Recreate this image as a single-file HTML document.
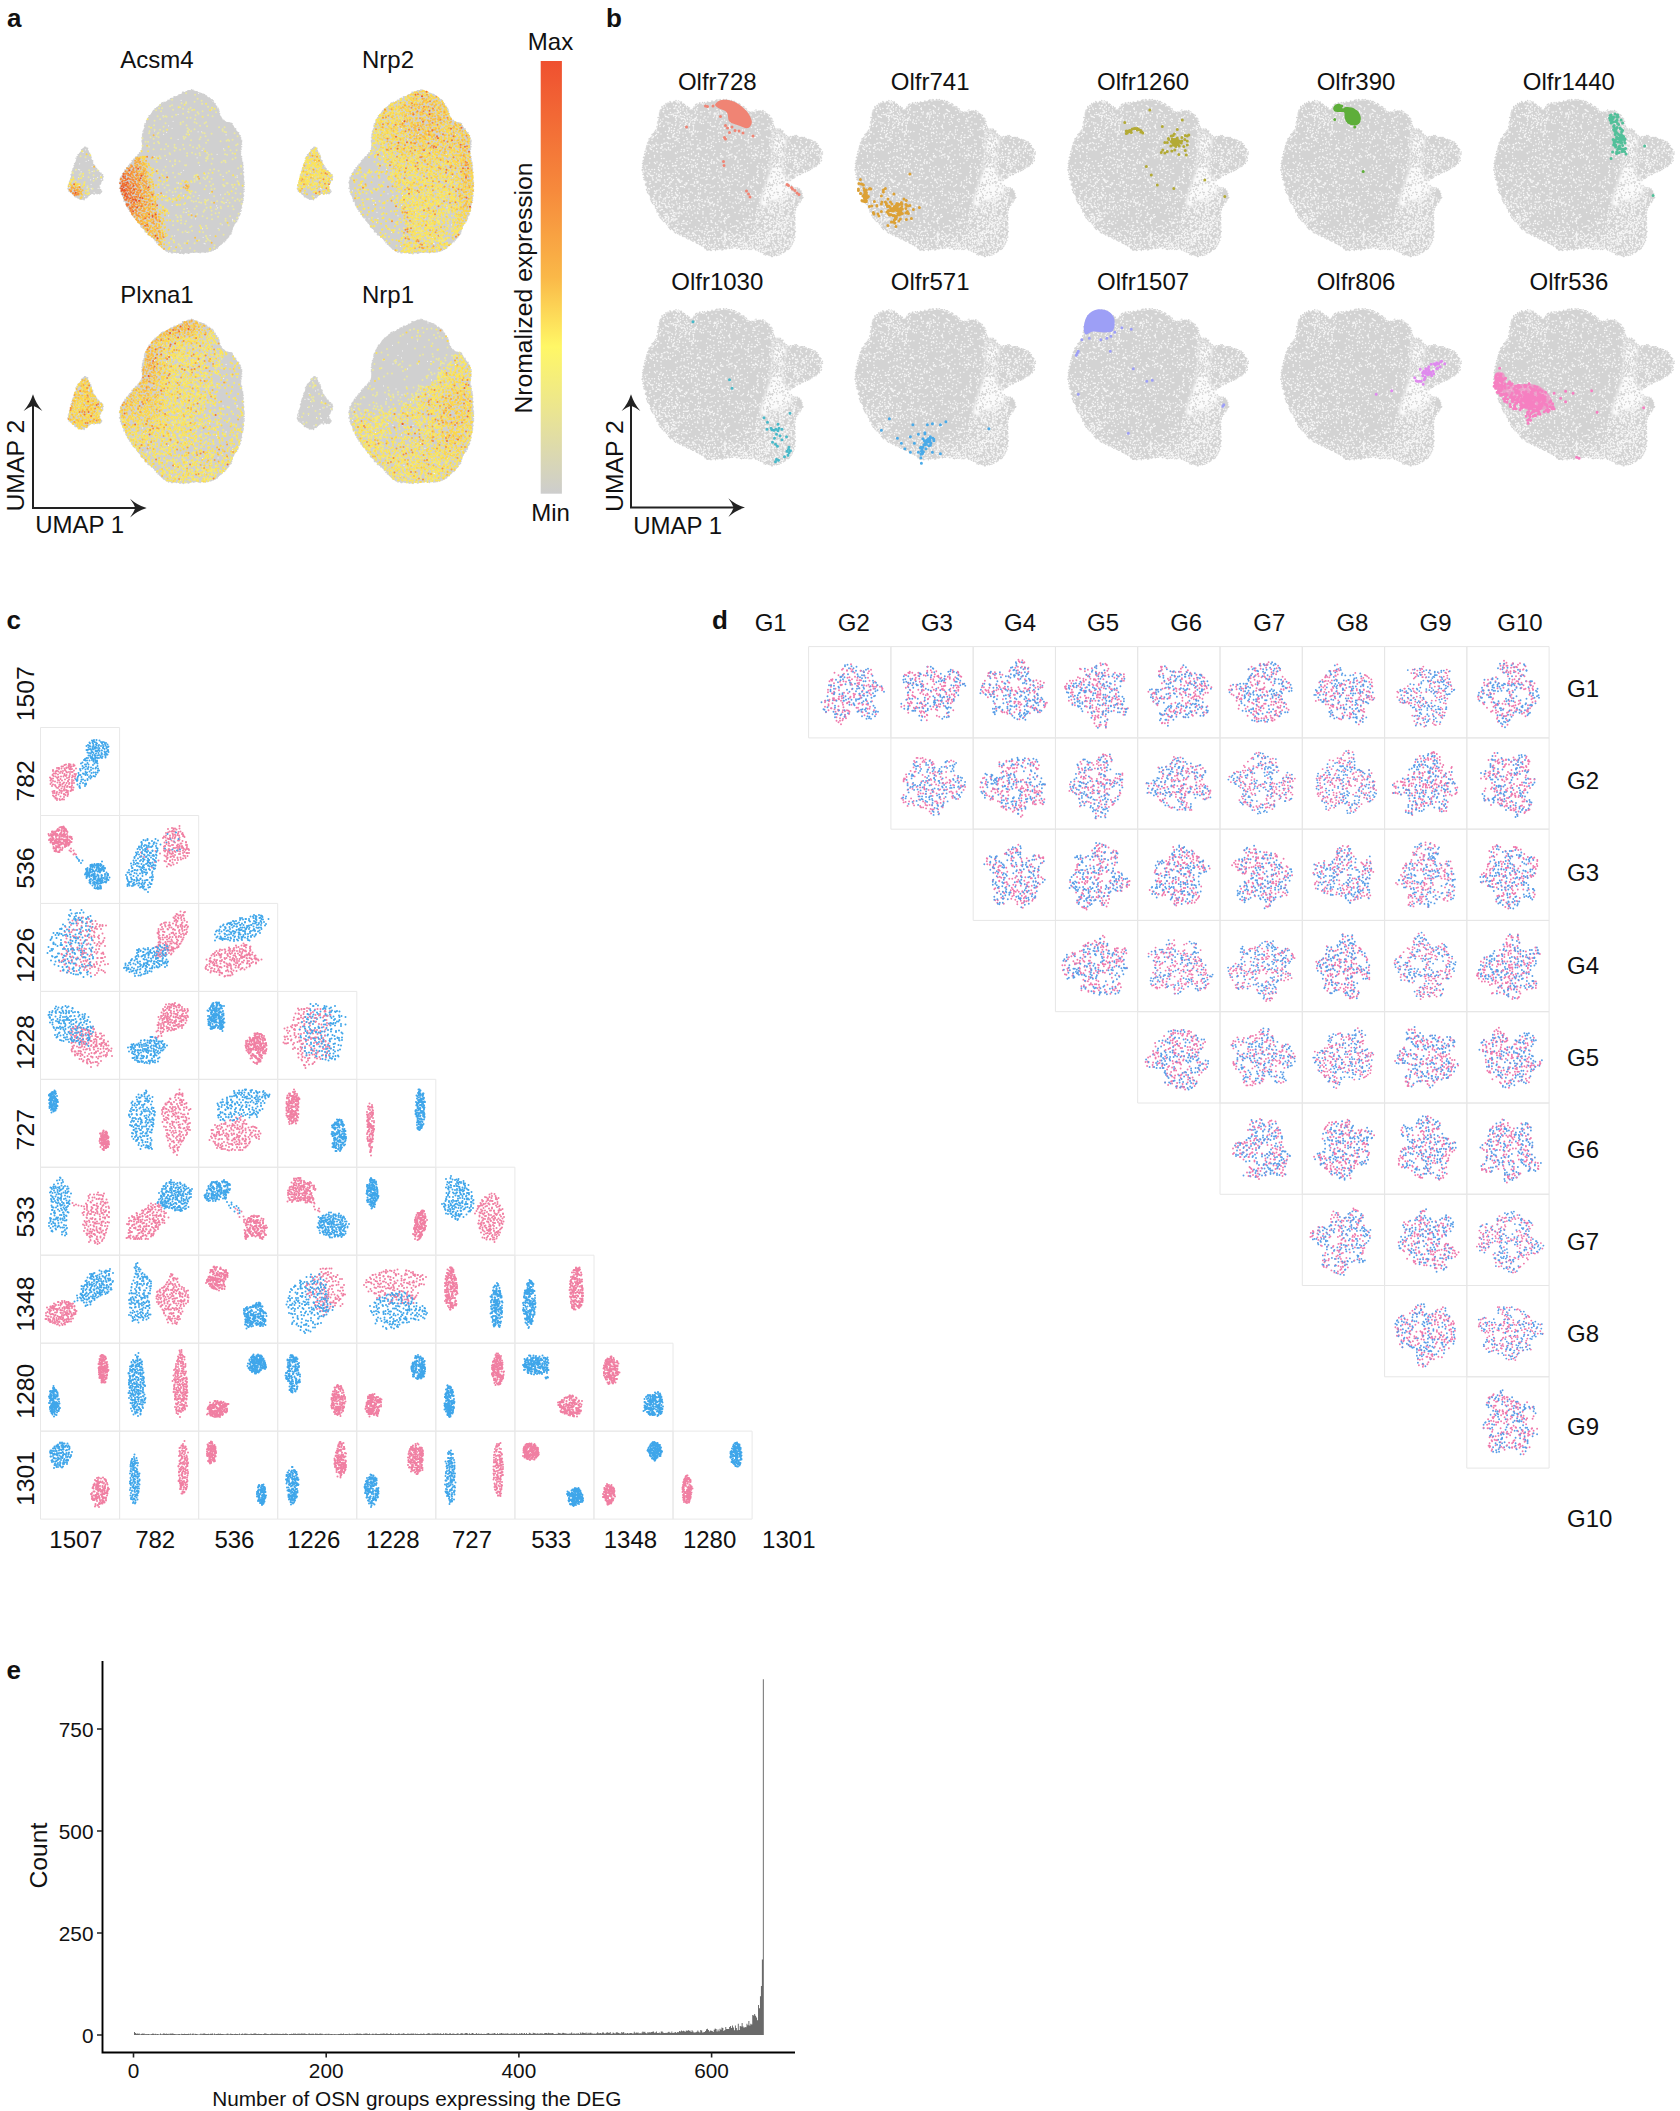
<!DOCTYPE html>
<html lang="en"><head><meta charset="utf-8"><title>Figure</title>
<style>
html,body{margin:0;padding:0;background:#fff}
svg{display:block}
text{font-family:"Liberation Sans",Arial,Helvetica,sans-serif;fill:#111}
</style></head><body>
<svg width="1680" height="2111" viewBox="0 0 1680 2111">
<rect width="1680" height="2111" fill="#fff"/>
<text x="7" y="27" font-size="26" font-weight="bold">a</text>
<text x="606" y="27" font-size="26" font-weight="bold">b</text>
<text x="6.5" y="628.7" font-size="26" font-weight="bold">c</text>
<text x="712" y="629" font-size="26" font-weight="bold">d</text>
<text x="6.5" y="1679" font-size="26" font-weight="bold">e</text>
<text x="120.3" y="68" font-size="24">Acsm4</text>
<text x="362" y="68" font-size="24">Nrp2</text>
<text x="120.3" y="302.5" font-size="24">Plxna1</text>
<text x="362" y="302.5" font-size="24">Nrp1</text>
<text x="550.5" y="50.4" font-size="24" text-anchor="middle">Max</text>
<text x="550.5" y="521" font-size="24" text-anchor="middle">Min</text>
<text x="531.6" y="288" font-size="24.7" text-anchor="middle" transform="rotate(-90 531.6 288)">Nromalized expression</text>
<defs><linearGradient id="cb" x1="0" y1="0" x2="0" y2="1"><stop offset="0" stop-color="#ef5030"/><stop offset=".3" stop-color="#f68a3c"/><stop offset=".5" stop-color="#fab848"/><stop offset=".66" stop-color="#fff766"/><stop offset=".8" stop-color="#ece68e"/><stop offset="1" stop-color="#cdcdcd"/></linearGradient></defs>
<rect x="540.7" y="61" width="21.2" height="432.7" fill="url(#cb)"/>
<path d="M33 403.3V508.1H137.7" fill="none" stroke="#222" stroke-width="2"/><path d="M33 394.3Q36.2 404.3 42.4 410.9Q37.2 407 33 405.7Q28.8 407 23.6 410.9Q29.8 404.3 33 394.3Z" fill="#222"/><path d="M146.7 508.1Q136.7 511.3 130.1 517.5Q134 512.3 135.3 508.1Q134 503.9 130.1 498.7Q136.7 504.9 146.7 508.1Z" fill="#222"/>
<text x="24.5" y="511.6" font-size="24.8" transform="rotate(-90 24.5 511.6)">UMAP 2</text>
<text x="35.2" y="533" font-size="24">UMAP 1</text>
<path d="M631 403.3V507.6H736" fill="none" stroke="#222" stroke-width="2"/><path d="M631 394.3Q634.2 404.3 640.4 410.9Q635.2 407 631 405.7Q626.8 407 621.6 410.9Q627.8 404.3 631 394.3Z" fill="#222"/><path d="M745 507.6Q735 510.8 728.4 517Q732.3 511.8 733.6 507.6Q732.3 503.4 728.4 498.2Q735 504.4 745 507.6Z" fill="#222"/>
<text x="622.5" y="512" font-size="24.8" transform="rotate(-90 622.5 512)">UMAP 2</text>
<text x="633.2" y="533.5" font-size="24">UMAP 1</text>
<defs><g id="ua">
<path d="M65.4 1.1C67.2 .4 69 -.8 71.4 -.6C73.8 -.5 77.1 .9 79.9 2C82.7 3.2 85.8 4.5 88.4 6.4C91 8.2 93.6 11.1 95.3 13.3C97 15.4 97.7 17.1 98.7 19.2C99.7 21.4 100.2 24.3 101.2 26.2C102.2 28.1 102.9 29.5 104.6 30.5C106.3 31.5 109.7 30.9 111.5 32.2C113.3 33.5 114.3 36.2 115.7 38.3C117.1 40.3 119 41.9 120 44.3C121 46.8 121.6 49.9 121.7 52.9C121.8 55.9 120.7 59.4 120.8 62.4C120.9 65.5 122.1 68.2 122.5 71C122.9 73.9 123.1 76.1 123.4 79.6C123.7 83.2 124.2 88.3 124.2 92.6C124.2 96.9 123.8 101.5 123.4 105.6C123 109.6 122.6 113.2 121.7 116.8C120.8 120.4 119.6 124 118.3 127.1C117 130.3 115.4 132.8 114 135.7C112.6 138.6 111.5 141.8 109.8 144.4C108.1 147 105.9 149.2 103.8 151.3C101.7 153.4 99.6 155.7 97 157.3C94.4 158.9 91.2 160.1 88.4 160.8C85.6 161.5 82.7 161.5 79.9 161.6C77.1 161.8 74.2 161.5 71.4 161.6C68.6 161.8 65.8 162.5 62.9 162.5C60 162.5 56.7 161.9 54.3 161.6C51.9 161.3 50.5 161.7 48.4 160.8C46.3 159.9 43.6 158.2 41.6 156.5C39.6 154.7 38.5 152.5 36.4 150.4C34.3 148.2 31.2 145.9 28.8 143.5C26.4 141.1 24.2 138.4 21.9 135.7C19.6 133 17.2 130 15.1 127.1C13 124.2 10.9 121.4 9.2 118.5C7.5 115.6 6.2 112.8 4.9 109.9C3.6 107 2.3 103.8 1.5 101.2C.7 98.6 .2 96.8 .2 94.3C.2 91.9 .6 89 1.5 86.5C2.4 84.1 4 82.1 5.7 79.6C7.4 77.2 9.7 74.3 11.7 71.9C13.7 69.4 16 67 17.7 65C19.4 63 21 62.1 21.9 59.8C22.8 57.5 22.5 54.1 22.8 51.2C23.1 48.3 23.2 45.2 23.6 42.6C24 40 24.7 38.1 25.4 35.6C26.1 33.2 26.8 30.2 27.9 27.9C29 25.6 30.5 23.9 32.2 21.9C33.9 19.8 36 17.5 38.1 15.8C40.2 14.1 42.4 13 45 11.5C47.6 10.1 51 8.5 53.5 7.2C56 5.9 58.3 4.8 60.3 3.7C62.3 2.7 63.6 1.8 65.4 1.1Z" fill="#d0d0d0"/>
<path d="M-34 56.3C-32 56.3 -30.9 61.2 -29.5 64.2C-28.1 67.2 -27.2 71.5 -25.5 74.6C-23.8 77.6 -20.5 80.5 -19 82.5C-17.5 84.5 -16.2 84.2 -16.4 86.4C-16.6 88.6 -19.9 93 -20.3 95.6C-20.7 98.2 -17.5 100.8 -19 102.1C-20.5 103.4 -26.7 102.4 -29.5 103.5C-32.3 104.6 -33.6 108.3 -36 108.7C-38.4 109.1 -41.4 107.8 -43.9 106.1C-46.4 104.3 -50.2 101.3 -51.1 98.2C-52 95.1 -50.1 91.6 -49.1 87.7C-48.1 83.8 -46.5 78.5 -45.2 74.6C-43.9 70.7 -43.2 67.2 -41.3 64.2C-39.4 61.2 -36 56.3 -34 56.3Z" fill="#d0d0d0"/>
<path transform="scale(.5)" d="M132 3h0m2-1h0m2-1h0m1-1h0m2 0h0m2 0h0m3-2h0m1 2h0m2-1h0m3 2h0m0 1h0m3 0h0m-2 0h0m4 0h0m-1 0h0m4 2h0m0 1h0m2 0h0m2 0h0m2 1h0m0 1h0m4 0h0m-2 0h0m4 1h0m0 2h0m3 2h0m0-2h0m1 2h0m0-1h0m5 3h0m-1 1h0m3 1h0m-1 0h0m5 2h0m-2 0h0m2 1h0m2 1h0m1 5h0m0-2h0m0 2h0m0 1h0m3 0h0m0 3h0m3 2h0m0 2h0m3 2h0m1 3h0m-1 1h0m2 2h0m0 5h0m-1-2h0m2 2h0m0 4h0m1 1h0m2 2h0m1 3h0m1 1h0m0 2h0m3 0h0m1 1h0m1 2h0m1 0h0m2 2h0m3 0h0m3 1h0m1 0h0m3 0h0m2 1h0m1 4h0m1 1h0m1 3h0m4 2h0m0 2h0m0 2h0m2 2h0m2 3h0m2-1h0m0 4h0m1 3h0m2-1h0m1 4h0m-2-2h0m2 2h0m0 1h0m-1 3h0m3 1h0m0 3h0m-1 0h0m0 2h0m-1 0h0m0 2h0m2 1h0m-2 5h0m2 0h0m-2 3h0m0-2h0m-1 3h0m2 1h0m-2 4h0m1 0h0m0 1h0m0 3h0m-1 2h0m1-2h0m0 4h0m0 2h0m2 1h0m-2 1h0m0 1h0m2 2h0m0 1h0m0 2h0m0 1h0m-1 0h0m2 5h0m1-2h0m0 3h0m-2 1h0m1 1h0m1 0h0m-1 3h0m2-1h0m-1 4h0m1 1h0m0 2h0m-1 1h0m-1 3h0m1 0h0m2 2h0m-1 1h0m0 7h0m0-2h0m1 5h0m0-2h0m-1 5h0m1 3h0m1 3h0m-1 2h0m0 3h0m1-1h0m-1 5h0m1 0h0m0 5h0m-2 1h0m2 3h0m-3 1h0m1 1h0m-1 0h0m1 4h0m1 3h0m-1 2h0m-2 2h0m2 5h0m0-3h0m-2 4h0m1 3h0m-1 0h0m-1 1h0m0 3h0m-1 2h0m0 3h0m0-2h0m-1 6h0m2-2h0m-1 6h0m-2-3h0m1 4h0m-2 0h0m1 5h0m-3 1h0m2 1h0m-1 2h0m-3 1h0m0 2h0m1 2h0m-1 1h0m0 2h0m0 0h0m-4 3h0m2 1h0m-3 1h0m0 1h0m-1 1h0m0 0h0m-2 4h0m-1 1h0m-1 2h0m0 0h0m-1 2h0m0 2h0m0 2h0m-2 2h0m-1 3h0m2-1h0m-2 2h0m1 2h0m-2 1h0m-1 1h0m-2 1h0m0-1h0m0 4h0m-2-1h0m0 3h0m-2 2h0m-1 0h0m0 0h0m-2 2h0m1 1h0m-5 3h0m3 0h0m-4 1h0m1-1h0m-3 3h0m1 0h0m-2 1h0m0 1h0m-3 1h0m0 1h0m-3 3h0m0 0h0m-2 3h0m0-2h0m-4 2h0m1 1h0m-1 1h0m-2 0h0m-2 2h0m1-2h0m-4 3h0m-1 0h0m-2 1h0m0 0h0m-2-2h0m0 1h0m-2 2h0m-2 0h0m-3 1h0m0-2h0m-3 2h0m1-1h0m-4-1h0m0 1h0m-1 0h0m-2 0h0m-2 2h0m0-2h0m-3 1h0m0 0h0m-3-1h0m2 0h0m-5 0h0m1-1h0m-2 1h0m-2 1h0m-2-1h0m0 1h0m-3-1h0m-1 0h0m-3 2h0m3-1h0m-5 2h0m1-2h0m-2 2h0m0-1h0m-3 0h0m-3-1h0m-2 2h0m0 0h0m-1 1h0m-1-3h0m-1 2h0m-1-1h0m-2 0h0m-1 1h0m-2 0h0m-2-2h0m-4 1h0m0-1h0m-1 0h0m-2 0h0m-1 0h0m-2-1h0m-2 2h0m-2 0h0m-2-2h0m-2-1h0m-2 2h0m-3-2h0m-2-1h0m0-1h0m-2-2h0m0 1h0m-3-1h0m2-1h0m-4-2h0m1 1h0m-2-1h0m-1-2h0m-1-1h0m-2-1h0m-1-2h0m-3-1h0m1-2h0m-4-1h0m3-1h0m-1-2h0m-1 0h0m-2-2h0m-2 1h0m-2-4h0m1 1h0m-2-2h0m1 0h0m-5-4h0m0 2h0m-3-4h0m2 1h0m-4-2h0m-2 0h0m0-4h0m0 3h0m-4-5h0m2 0h0m-4 0h0m0-2h0m-2-4h0m2 2h0m-4-3h0m-1-1h0m-2-1h0m1 0h0m-2-1h0m0-1h0m-2-5h0m1 2h0m-4-4h0m2 0h0m-4-3h0m1 0h0m-2-4h0m-1 2h0m-4-5h0m1 0h0m0-1h0m-3-1h0m1-3h0m-2 1h0m-1-3h0m-2 0h0m1-3h0m-1 0h0m-2-4h0m-2 1h0m0-3h0m-1-1h0m-1-3h0m0 3h0m-2-3h0m1-2h0m-2-2h0m-1 0h0m0-2h0m-1 0h0m1-4h0m-1 1h0m-4-5h0m0 1h0m0-4h0m0 3h0m0-6h0m-1 1h0m0-3h0m1 1h0m-3-3h0m0-2h0m-1-3h0m-1 2h0m0-4h0m0 2h0m-2-3h0m1-3h0m0-4h0m-3 0h0m2-4h0m0 0h0m0-5h0m-2-2h0m2 1h0m-1-4h0m0 2h0m1-3h0m-1 1h0m1-5h0m2 0h0m-1-1h0m-1-2h0m2 0h0m1-3h0m3-3h0m-2-1h0m2-2h0m0 1h0m1-1h0m2-1h0m-1-2h0m1 1h0m1-3h0m-1-1h0m3-4h0m1 3h0m1-3h0m1-1h0m1-2h0m0-1h0m2-3h0m2 1h0m2-3h0m-1 0h0m3-2h0m-1 1h0m0-4h0m2 0h0m1-3h0m1 1h0m2-3h0m2 0h0m-1-2h0m1-1h0m1 1h0m1 0h0m2-5h0m2-1h0m1-1h0m0-2h0m4-1h0m-1-3h0m2-1h0m1-2h0m-1-1h0m1-3h0m0 1h0m0-5h0m0 2h0m0-5h0m1 2h0m-1-4h0m1 0h0m-2-2h0m2-1h0m-2-2h0m1 0h0m1-3h0m-2-2h0m3-1h0m0-1h0m-2-1h0m0-2h0m0-2h0m2 0h0m-1-2h0m0-4h0m1-1h0m1-3h0m1-1h0m0-4h0m1-1h0m-1-2h0m3 0h0m-2-3h0m3-1h0m0-1h0m0-3h0m1 1h0m1-3h0m-2 1h0m3-3h0m-1 1h0m1-3h0m1-1h0m1-4h0m1 0h0m4-3h0m1-2h0m1-2h0m0 0h0m1-2h0m0 0h0m2-2h0m-1 1h0m4-3h0m-1-1h0m3-1h0m0 1h0m1-2h0m0 0h0m3-2h0m1 0h0m1-3h0m0 2h0m2-3h0m1 0h0m1-3h0m0 1h0m1-1h0m1-1h0m4 0h0m-1-1h0m2 1h0m2-1h0m3-2h0m0 1h0m1-3h0m0 2h0m3-2h0m-1 1h0m3-4h0m1 0h0m2-1h0m0 1h0m4-2h0m0-1h0m2-1h0m-2 0h0m5 0h0m2-1h0m3-2h0m0-1h0m3 0h0m3-1h0m1-1h0m0-3h0m2 0h0m2 1h0m-199 110h0m4 2h0m1-1h0m-1 2h0m1 3h0m1 1h0m0 0h0m3 4h0m-1 2h0m3 4h0m0-2h0m0 5h0m1-1h0m3 7h0m-2-1h0m2 2h0m0 3h0m2 4h0m1 1h0m1 1h0m-1 0h0m3 5h0m0-2h0m2 3h0m2 4h0m2 0h0m0 1h0m3 4h0m-1-1h0m3 1h0m2 3h0m1 0h0m0 3h0m1 1h0m-1 1h0m-1 0h0m1 4h0m0 2h0m-4 3h0m1 0h0m-2 5h0m1-2h0m-4 6h0m0-1h0m0 2h0m2 1h0m0 4h0m0 0h0m2 1h0m0 1h0m2 2h0m-1 2h0m-3 3h0m1-1h0m-4 0h0m1 0h0m-3 1h0m-1-2h0m-5 3h0m-1-2h0m-3-1h0m-3 3h0m-3 2h0m2-2h0m-4 3h0m-1 1h0m0 1h0m-2 2h0m-2-1h0m0 0h0m-3 5h0m0-1h0m-3-1h0m2 0h0m-5 0h0m1 1h0m-2-1h0m-1 1h0m-3-3h0m-2 0h0m-3-2h0m3 2h0m-5-3h0m0 1h0m-3-5h0m-1-1h0m-3-3h0m2 3h0m-7-5h0m3 2h0m-4-5h0m2 1h0m-3-4h0m0 1h0m2-4h0m-1-2h0m0-2h0m0 0h0m2-7h0m1 1h0m1-4h0m1-2h0m2-5h0m-2 4h0m2-9h0m-2 2h0m1 1h0m1-7h0m1-1h0m0 2h0m0-4h0m1-3h0m0 3h0m2-9h0m0 4h0m1-4h0m1-1h0m-1-3h0m3-2h0m-1 0h0m2-5h0m0 0h0m1-7h0m-2 3h0m3-3h0m1-4h0m3-2h0m-2 2h0m3-3h0m2-1h0m1-6h0m2 0h0m3-3h0m-2 1h0m3-3h0m2 0h0" stroke="#d0d0d0" stroke-width="3.2" stroke-linecap="round" fill="none"/>
<path transform="scale(.5)" d="M143 246h0m-38-171h0m76 214h0m13-59h0m19-7h0m-53-74h0m-82 57h0m118 28h0m-39-152h0m-51 67h0m49-15h0m14 171h0m-123-90h0m149-88h0m-73 193h0m-112-142h0m30 78h0m195-86h0m-210 18h0m110 47h0m-7-25h0m79-39h0m-104 140h0m-50-87h0m45 26h0m-29-119h0m36 98h0m-17-142h0m-32 156h0m179-70h0m-180 90h0m43-193h0m-66 185h0m170-47h0m-85-24h0m-29 26h0m117 58h0m-88-171h0m20-56h0m71 75h0m5-28h0m-119-5h0m13-22h0m-37 19h0m5 77h0m32 52h0m58-90h0m61 138h0m-68-252h0m6 77h0m-106 173h0m29-205h0m139 210h0m-74-4h0m15 37h0m30-18h0m-148-48h0m84 16h0m-23 47h0m29-203h0m-16-68h0m-6 28h0m6 116h0m12 120h0m-18-98h0m49 91h0m-72-139h0m65 72h0m-152-9h0m164 106h0m-43-147h0m52 46h0m-95 78h0m-162-121h0m12 32h0m-23-36h0m15 13h0m6-30h0m11 55h0m-24-50h0m-2 28h0m25 21h0m-44-6h0m63-19h0m2 7h0m-19 19h0m18-19h0m-21 1h0m6-3h0m-3-14h0m0-10h0m12 44h0m-19-56h0m-20 18h0m2 1h0m36 15h0m-29-50h0m-27 71h0m49 9h0m-6-16h0m-13 24h0m-11-22h0m-11 14h0m24-85h0" stroke="#f4f4f4" stroke-width="2.4" stroke-linecap="round" fill="none"/>
</g></defs>
<g transform="translate(119.6 90.8)"><use href="#ua"/>
<path transform="scale(.5)" d="M133 5h0m18 3h0m5 8h0m-51 2h0m59 2h0m-31 3h0m17-1h0m-26 3h0m9 0h0m32 1h0m-84 3h0m24 0h0m-4 2h0m20 2h0m56-1h0m-98 3h0m6 0h0m42 1h0m11 1h0m4-3h0m-69 5h0m34-1h0m38 1h0m39-1h0m-101 3h0m55 2h0m18 0h0m10-2h0m27 2h0m-66 3h0m31 0h0m-82 5h0m37-3h0m39 1h0m25 0h0m9 2h0m-98 1h0m4-1h0m2 1h0m11 0h0m30 2h0m7 0h0m-61 3h0m70 0h0m-81 3h0m52 4h0m5-2h0m23 1h0m23 0h0m-81 2h0m30 2h0m32-2h0m16 0h0m-101 4h0m65 0h0m27 1h0m14 1h0m-116 1h0m29 0h0m48 3h0m63-2h0m11 0h0m-140 5h0m69 0h0m11-1h0m56 0h0m-146 4h0m21-3h0m7 3h0m48 0h0m7 0h0m63-1h0m-128 4h0m59-1h0m29 1h0m4 1h0m40-3h0m3 1h0m-154 2h0m17 1h0m58 1h0m50-1h0m46-1h0m-156 6h0m54 1h0m44-1h0m64 0h0m-174 2h0m16 0h0m54 0h0m30 0h0m-116 2h0m22 1h0m35-1h0m26 1h0m31 1h0m57 1h0m9 0h0m-169 4h0m20 0h0m66-3h0m34 0h0m25 2h0m12-1h0m5 0h0m-167 2h0m27 3h0m94-1h0m-104 1h0m24 2h0m17 1h0m17 0h0m109-1h0m-190 3h0m13 2h0m38-1h0m44-2h0m18 0h0m74 0h0m-123 4h0m3 2h0m34-2h0m8 2h0m5-3h0m-92 5h0m15 0h0m7 0h0m31 1h0m8-2h0m39 0h0m-58 4h0m100-1h0m12 0h0m12 0h0m-134 6h0m35 0h0m10-1h0m15 1h0m15-1h0m51 1h0m-125 2h0m51 0h0m26 1h0m6-1h0m27 0h0m4 1h0m-135 3h0m11-1h0m44 0h0m26-1h0m15 3h0m-102 1h0m8 2h0m91 0h0m59-1h0m-121 5h0m65-3h0m10 0h0m40 1h0m-125 4h0m10 0h0m9 0h0m53-1h0m35 0h0m3 0h0m-53 4h0m46-1h0m8 0h0m-101 4h0m20 2h0m53-3h0m-92 6h0m14-1h0m27-2h0m110 1h0m-6 5h0m6-3h0m-155 7h0m93-1h0m8-1h0m9 3h0m21 1h0m-125 3h0m13 0h0m71 1h0m36-1h0m-130 3h0m34-1h0m3 1h0m35 1h0m15-1h0m31 1h0m41-2h0m-93 4h0m26 1h0m-65 2h0m38 0h0m5 2h0m14-1h0m7 0h0m9 2h0m48-3h0m-82 6h0m5-1h0m16-1h0m-21 5h0m30 0h0m56-1h0m-121 3h0m29-1h0m17 2h0m53 0h0m2 0h0m-130 2h0m9 2h0m3 0h0m89-2h0m20 1h0m3 2h0m15-2h0m14 0h0m-66 2h0m10 0h0m26 1h0m-119 3h0m26 0h0m74 2h0m37-3h0m6 3h0m-133 3h0m84-2h0m-90 6h0m12 0h0m6-1h0m40 1h0m64 0h0m-93 2h0m19 1h0m41-2h0m49 1h0m10 1h0m-31 1h0m-63 4h0m41 0h0m-48 3h0m16 1h0m50 0h0m19-1h0m-134 5h0m3 0h0m76-1h0m6 0h0m39 1h0m20-2h0m8 0h0m-100 3h0m4 2h0m5-1h0m6 2h0m15-3h0m10 3h0m11-2h0m9 1h0m2 1h0m25-3h0m9 0h0m-111 7h0m34-3h0m46 1h0m11-1h0m24 2h0m-72 1h0m-18 4h0m20 3h0m8-2h0m20 0h0m15-1h0m9 0h0m-97 6h0m21-1h0m53-1h0m25 2h0m-58 2h0m14 1h0m9-3h0m-65 6h0m10-2h0m30 1h0m-13 5h0m37-2h0m7-1h0m39 2h0m-125 3h0m9 1h0m62-2h0m-68 5h0m7 0h0m43-2h0m31 1h0m24-1h0m-77 3h0m31 1h0m37 1h0m23-2h0m-119 6h0m7-1h0m62-2h0m27 3h0m17 0h0m-122 1h0m26 0h0m97 0h0m-107 4h0m8 1h0m71 0h0m-95 3h0m66 1h0m45-1h0m-77 4h0m3-2h0m19 2h0m12 2h0m-58 3h0m15 3h0m13-1h0m54-2h0m-73 5h0m12 0h0m29 0h0m-62 8h0m68-1h0m35-2h0m-35 3h0m2 4h0m-67 4h0m29 1h0m22-1h0m18-1h0m4 2h0m-8 1h0m-55 6h0m12-2h0m20 0h0m-29 5h0m69-1h0m-1 5h0m-65 1h0m17 0h0m-33 5h0m3 0h0m39 0h0m30-1h0m-258-188h0m10 2h0m-19 25h0m26 1h0m10 2h0m7-2h0m-50 4h0m34 1h0m-33 1h0m15 1h0m-2 2h0m28 1h0m-10 4h0m15 3h0m-5 4h0m-12 11h0m10 5h0m-9 4h0" stroke="#eae7a0" stroke-width="4" stroke-linecap="round" fill="none"/>
<path transform="scale(.5)" d="M173 26h0m-43 2h0m-12 5h0m67 1h0m5 2h0m-41 2h0m17 14h0m-110 5h0m7 17h0m32 4h0m43 10h0m80 24h0m13 14h0m-160 11h0m3 5h0m2 17h0m110 5h0m-33 5h0m-56 5h0m-19 5h0m17 0h0m113-1h0m-119 4h0m37-2h0m17 1h0m-22 5h0m117-1h0m-160 2h0m45-1h0m107 2h0m-119 8h0m12-1h0m47 2h0m-30 6h0m4-2h0m80 0h0m-5 6h0m-126 4h0m45 1h0m-37 5h0m6-1h0m29-1h0m-27 3h0m-13 2h0m75 3h0m-40 2h0m-49 4h0m32-1h0m2 0h0m5 0h0m-34 6h0m95 0h0m-87 5h0m-3 3h0m46 6h0m-22 13h0m45 9h0m2 5h0m-3 7h0m-61 22h0m10-1h0m-184-182h0m16 8h0m-14 37h0m-1 5h0m-19 2h0m11 3h0m5-1h0m40-2h0m-60 5h0m1 3h0m8 1h0m18 1h0m-1 4h0m9 9h0m-5 4h0m3 7h0m3-2h0" stroke="#f8eb6e" stroke-width="4" stroke-linecap="round" fill="none"/>
<path transform="scale(.5)" d="M181 39h0m-137 82h0m13 0h0m114 0h0m-109 33h0m5 2h0m-1 1h0m-1 8h0m3-2h0m8 2h0m93 0h0m-110 2h0m6 3h0m21 0h0m141-1h0m-138 5h0m-7 7h0m12-1h0m42 3h0m-64 6h0m6 4h0m168-3h0m-107 10h0m-64 8h0m44 1h0m13-1h0m-62 4h0m11 0h0m4-2h0m4 2h0m28 0h0m-18 3h0m13 0h0m10-1h0m5 0h0m-42 4h0m35 0h0m-14 4h0m-20 11h0m1-1h0m5 5h0m-12 2h0m15 2h0m-5 4h0m8 0h0m-3 14h0m6 0h0m-23 7h0m12 1h0m-8 16h0m8-2h0m5 8h0m8 7h0m-13 3h0m-5 3h0m9 7h0m6 5h0m-2 3h0m83-1h0m-276-138h0m3-1h0m-8 8h0m2-1h0m16 3h0m3 0h0m8 2h0m-3 3h0m6 13h0" stroke="#fce558" stroke-width="4" stroke-linecap="round" fill="none"/>
<path transform="scale(.5)" d="M55 110h0m-9 22h0m3 0h0m3 0h0m-12 2h0m2-1h0m4 2h0m4-1h0m14 1h0m13 0h0m-28 2h0m-3 3h0m4 5h0m3 1h0m5 0h0m1 3h0m-8 1h0m4 3h0m-3 5h0m-8 4h0m21-3h0m-8 5h0m-5 3h0m10 1h0m-1 8h0m-7 1h0m5 1h0m2-2h0m3 2h0m-1 5h0m3-1h0m67-1h0m-74 3h0m72-1h0m-69 7h0m11-1h0m65 0h0m-71 2h0m-5 2h0m6 2h0m67 4h0m-67 2h0m-9 7h0m18 0h0m-16 3h0m11 1h0m-5 1h0m4 2h0m5 1h0m-7 1h0m3 2h0m42 0h0m-52 3h0m6 5h0m0 0h0m-3 4h0m3 0h0m-17 4h0m24 0h0m12 4h0m-6 3h0m4 2h0m-21 5h0m17-2h0m10 2h0m-11 4h0m2 1h0m5 2h0m-27 4h0m28 0h0m-3 3h0m131 1h0m-158 5h0m5 1h0m20 2h0m8 1h0m-24 2h0m14-1h0m9 0h0m-38 4h0m16 0h0m17 1h0m13-1h0m-44 4h0m20 1h0m12 0h0m6 3h0m-31 3h0m19 0h0m112 2h0m-100 0h0m-12 5h0m5 1h0m70 3h0m-74 5h0m8 2h0m46-2h0m-51 7h0m29 1h0m-179-186h0m-22 58h0m-11 2h0m3 2h0m8-1h0m4-1h0m-18 4h0m5-2h0m8 1h0m3-1h0m4 3h0m3 11h0m4 5h0m-1 5h0m-2 2h0" stroke="#fcd74b" stroke-width="4" stroke-linecap="round" fill="none"/>
<path transform="scale(.5)" d="M68 89h0m-35 46h0m3-1h0m-1 4h0m5-2h0m-4 6h0m17-2h0m-6 4h0m-16 5h0m9-3h0m3 0h0m5 0h0m2 1h0m-19 2h0m5 1h0m6 2h0m4-3h0m8 2h0m-6 3h0m3 2h0m-4 2h0m4-1h0m-14 5h0m3-1h0m14 1h0m-2 3h0m-12 3h0m14 4h0m2-1h0m101 1h0m-119 2h0m9 0h0m4 1h0m29-1h0m79 2h0m-111 1h0m-9 5h0m3 1h0m8-3h0m10 3h0m-17 4h0m17 2h0m7-2h0m-19 3h0m90 2h0m-90 2h0m80-1h0m4 2h0m4 0h0m-92 3h0m6-1h0m3 0h0m7 0h0m-6 6h0m5 0h0m126-1h0m-141 4h0m9-3h0m2 3h0m7-2h0m2-1h0m4 2h0m-21 6h0m2 0h0m17 0h0m-16 4h0m4 1h0m6 0h0m2-3h0m-11 4h0m3 0h0m7 2h0m-14 2h0m13 0h0m6-1h0m5 2h0m-23 4h0m8-3h0m16 2h0m117-1h0m-128 4h0m9 0h0m-22 5h0m7 0h0m2 0h0m5-1h0m10 0h0m-18 2h0m7 1h0m5 1h0m4 0h0m-21 3h0m2-2h0m6 2h0m3-2h0m7 0h0m4 1h0m19 2h0m-42 1h0m13 0h0m3 2h0m6 1h0m3-1h0m-31 1h0m5 2h0m4 0h0m3 1h0m4-1h0m1-2h0m7 3h0m-14 3h0m2 0h0m19-2h0m6-1h0m65 2h0m-109 4h0m6-1h0m5 1h0m3-1h0m7-1h0m4 0h0m10 1h0m3-1h0m5 1h0m74-1h0m-117 4h0m6-1h0m1 0h0m5 1h0m6 0h0m10 2h0m4 0h0m12 0h0m-44 2h0m11-1h0m9 1h0m3 1h0m6-2h0m12 2h0m-39 3h0m2 0h0m3-2h0m4 1h0m4 1h0m5 0h0m7-2h0m19 0h0m-41 3h0m8 0h0m4 1h0m4 1h0m18 0h0m11 0h0m-38 1h0m26 2h0m6-1h0m-31 4h0m6-1h0m8 0h0m4 3h0m4-2h0m3-1h0m6 0h0m-31 3h0m4 2h0m7 1h0m2-3h0m9 3h0m8-2h0m-16 5h0m4 0h0m6-1h0m8 1h0m-20 3h0m3-1h0m7 0h0m-12 5h0m1-2h0m7 0h0m8 2h0m1 0h0m6-3h0m5 1h0m-18 4h0m7 0h0m6-1h0m6 0h0m-22 3h0m4 3h0m2-2h0m4 2h0m6-2h0m5-1h0m65 3h0m-68 1h0m-9 4h0m2-1h0m3 3h0m3 2h0m102 1h0m-101 3h0m-4 1h0m10 8h0m-140-164h0m-44 39h0m7 2h0m4 1h0m-12 3h0m13 1h0m5-1h0m-9 2h0m13 0h0m-3 3h0m0 4h0m-5 2h0" stroke="#fabe41" stroke-width="4" stroke-linecap="round" fill="none"/>
<path transform="scale(.5)" d="M66 133h0m-27 3h0m-8 4h0m7-1h0m-7 6h0m3-2h0m5 0h0m2-1h0m-18 7h0m12-1h0m-12 2h0m10 2h0m-18 3h0m6-1h0m3-2h0m10 1h0m6 0h0m2 0h0m-14 6h0m6 0h0m8-3h0m-24 4h0m8 2h0m7 0h0m15-1h0m2-1h0m24 1h0m-59 2h0m8 2h0m3-1h0m8-1h0m8 3h0m3-1h0m3 0h0m-22 3h0m19-1h0m2 1h0m-20 2h0m7 0h0m3 0h0m5 0h0m9 1h0m-22 2h0m3 2h0m4 0h0m2 2h0m8 2h0m-9 1h0m12 1h0m5 0h0m-24 4h0m7 0h0m9 0h0m6-2h0m-16 6h0m12 0h0m2 0h0m4-3h0m79 3h0m-96 3h0m4 1h0m6-3h0m6 1h0m82 0h0m-98 3h0m3 0h0m12 0h0m4 1h0m-16 3h0m17 1h0m-27 2h0m9 2h0m10-3h0m3 2h0m-17 1h0m2 2h0m4-2h0m8 1h0m34 1h0m-45 1h0m5 3h0m3-3h0m4 4h0m14-3h0m-21 5h0m11-1h0m4-1h0m-22 4h0m9 0h0m-3 5h0m16-1h0m5 2h0m-24 1h0m3 1h0m12 1h0m-15 2h0m2-1h0m3 2h0m16 0h0m-36 3h0m7-2h0m4 0h0m4 2h0m6-2h0m1 3h0m7-3h0m5 2h0m-21 2h0m5 0h0m-15 3h0m7 1h0m5 2h0m4-2h0m6 1h0m10 0h0m-28 3h0m8-1h0m2 0h0m6 2h0m19-3h0m-34 7h0m7 0h0m6-4h0m5 1h0m5 3h0m-27 1h0m5 0h0m5 1h0m-12 2h0m7 0h0m11 0h0m2 2h0m25-1h0m-41 3h0m9-1h0m15 1h0m-21 5h0m39-2h0m-35 5h0m6 0h0m5-3h0m20 4h0m6-3h0m-7 6h0m-22 2h0m20-2h0m4 2h0m-26 1h0m14 4h0m-2 5h0m20-1h0m3 6h0m2 2h0m-176-89h0m3 0h0m-7 4h0m10-2h0m5 2h0m-13 3h0m13-2h0m4 2h0m-4 3h0m1-1h0m-9 2h0" stroke="#f8a63d" stroke-width="4" stroke-linecap="round" fill="none"/>
<path transform="scale(.5)" d="M55 132h0m-30 19h0m3 4h0m5-1h0m-15 2h0m9 2h0m-15 3h0m12 1h0m-13 4h0m18-3h0m7 3h0m-23 0h0m4 3h0m4-1h0m2-2h0m10 3h0m1 0h0m-15 0h0m3 2h0m-19 5h0m16 0h0m6-2h0m70-1h0m-93 4h0m4 2h0m15-2h0m4 1h0m3 0h0m5-1h0m-24 3h0m13 2h0m6-2h0m3 2h0m-7 2h0m3 2h0m5 0h0m-17 0h0m7 2h0m5-1h0m6 1h0m6 0h0m-21 3h0m3-1h0m5 2h0m9-1h0m-7 5h0m4 0h0m-17 2h0m3 1h0m3-1h0m5 2h0m7-3h0m4 2h0m-16 2h0m14 2h0m-27 0h0m3 2h0m10 0h0m8-1h0m-3 2h0m7 1h0m4 1h0m-26 3h0m12-1h0m6 2h0m8-1h0m-28 3h0m16 2h0m2 1h0m4-2h0m-12 3h0m4 2h0m11-2h0m-16 3h0m7 0h0m10 2h0m15-1h0m-23 5h0m2-2h0m0 5h0m22-2h0m-31 5h0m4 0h0m7-1h0m-8 3h0m-1 5h0m3-2h0m7 0h0m-8 5h0m10-2h0m-9 5h0m10 3h0m3 1h0m21 4h0m14 0h0m7 7h0m8 32h0m-168-100h0m-17 8h0m7-1h0m-3 5h0m4 1h0m5 1h0m2-1h0m-8 3h0m4-1h0" stroke="#f68e38" stroke-width="4" stroke-linecap="round" fill="none"/>
<path transform="scale(.5)" d="M8 166h0m9 0h0m-9 1h0m3 4h0m-3 3h0m3 1h0m6 0h0m-5 4h0m3-2h0m25 2h0m-35 3h0m-4 3h0m5 1h0m3-1h0m4-1h0m5 2h0m-12 2h0m4 0h0m-3 2h0m4 0h0m4 1h0m-13 4h0m11 1h0m4-2h0m3 1h0m3 0h0m-19 6h0m5 0h0m6-1h0m8 3h0m19-3h0m-24 5h0m9 0h0m-21 2h0m10 1h0m5 0h0m45 0h0m-50 4h0m9 1h0m8-1h0m-19 4h0m3-2h0m-6 4h0m3 0h0m15 5h0m-14 4h0m2 0h0m6-3h0m43 3h0m-52 0h0m1 3h0m3-2h0m57 1h0m-49 3h0m18-1h0m-23 5h0m38 11h0m-8 8h0m0 15h0m4-2h0m1 11h0m-147-92h0" stroke="#f1712f" stroke-width="4" stroke-linecap="round" fill="none"/>
<path transform="scale(.5)" d="M37 156h0m-17 3h0m-13 12h0m37-1h0m-2 5h0m-26 8h0m-3 5h0m-9 3h0m24-1h0m30 3h0m-53 3h0m3-3h0m-4 6h0m3 0h0m3-1h0m19 0h0m-18 2h0m2 5h0m-3 4h0m2-1h0m2 4h0m7 3h0m20-1h0m5 1h0m-19 3h0m4 0h0m8 2h0m-6 0h0m2 13h0m-8 8h0m45 6h0m-6 3h0m0 2h0m6 38h0m4 5h0m-164-91h0" stroke="#eb5629" stroke-width="4" stroke-linecap="round" fill="none"/>
</g>
<g transform="translate(349 90.8)"><use href="#ua"/>
<path transform="scale(.5)" d="M119 304h0m33 4h0m-25 17h0" stroke="#eae7a0" stroke-width="4" stroke-linecap="round" fill="none"/>
<path transform="scale(.5)" d="M101 43h0m-28 17h0m103 14h0m-125 5h0m8 2h0m1 3h0m-4 3h0m20 3h0m-19 6h0m-3 4h0m8 0h0m4 1h0m-13 3h0m15 4h0m-21 1h0m21 3h0m1 5h0m21 1h0m29 0h0m-70 1h0m9 2h0m9-1h0m2 0h0m7 3h0m-33 4h0m3-2h0m88 1h0m-31 3h0m67 0h0m-103 3h0m-4 5h0m61 2h0m-73 3h0m39-1h0m22 1h0m25-3h0m-45 6h0m94 1h0m8-2h0m-137 4h0m10 0h0m10 1h0m121-2h0m-10 3h0m-89 4h0m34 1h0m8-2h0m-119 5h0m108 0h0m14-2h0m54 2h0m-153 4h0m43-1h0m71 0h0m-141 4h0m20-1h0m22 1h0m27 0h0m22 0h0m18-2h0m34 1h0m13 1h0m-143 2h0m53 2h0m4-1h0m21-2h0m41 3h0m1 0h0m-125 3h0m5 0h0m3-3h0m62 2h0m38 0h0m14 1h0m12-1h0m-153 4h0m54-2h0m41 0h0m25 1h0m22 1h0m20-2h0m-73 6h0m11-1h0m25 0h0m21 0h0m33 1h0m-77 1h0m4 2h0m4 1h0m3-1h0m29-2h0m4 2h0m11-2h0m40 2h0m3 0h0m-138 1h0m17 0h0m64 3h0m48-2h0m16 1h0m-191 3h0m93 0h0m36 1h0m11-2h0m-56 5h0m8-1h0m6 2h0m-71 3h0m8 0h0m110-3h0m5 2h0m2 1h0m10-3h0m20 0h0m-187 5h0m11-1h0m4 1h0m104 1h0m21 0h0m-153 4h0m39-2h0m43 2h0m13-1h0m19 1h0m9-2h0m17-1h0m32 1h0m5 1h0m14 1h0m11-2h0m-185 5h0m13-1h0m72 0h0m9 2h0m2-1h0m18-1h0m6 0h0m7 0h0m8-2h0m4 1h0m4 2h0m17-2h0m6 1h0m11-1h0m-83 4h0m18 0h0m14 1h0m7 0h0m22 0h0m21-2h0m-81 6h0m31 0h0m35-1h0m-166 3h0m80 0h0m10 0h0m9 1h0m44 0h0m10 0h0m-143 2h0m12-1h0m67 1h0m14 0h0m8-1h0m2 3h0m12-1h0m19-1h0m10 2h0m16-3h0m4 0h0m-143 3h0m2 0h0m11 1h0m29 0h0m22-1h0m39 1h0m24-1h0m8 1h0m-47 3h0m19 1h0m3 1h0m20-2h0m3 2h0m42-2h0m-194 5h0m64 1h0m99-1h0m3-2h0m-96 6h0m28-3h0m6 4h0m3-3h0m11 0h0m5 2h0m47-2h0m3 3h0m7-2h0m5 0h0m-183 4h0m32-2h0m54 2h0m22-2h0m7 1h0m7-1h0m-39 3h0m12 3h0m6-1h0m2 1h0m10-3h0m21 2h0m8 1h0m18-3h0m7 1h0m11 0h0m-185 4h0m60-1h0m109-1h0m6 1h0m-63 3h0m6 2h0m5-1h0m35 0h0m18-1h0m-134 3h0m69 3h0m5-3h0m22 2h0m15-2h0m19 3h0m-85 3h0m15 0h0m9-1h0m32-1h0m11 2h0m11-3h0m17 0h0m-160 4h0m115 1h0m-60 2h0m8 2h0m23-1h0m3-1h0m8 1h0m16 1h0m5-1h0m4 1h0m7-1h0m3 2h0m22-2h0m-106 6h0m52-3h0m7 1h0m12 2h0m12-1h0m3-2h0m-61 4h0m16 0h0m13 2h0m33-3h0m-55 4h0m5 1h0m29 0h0m3-1h0m4 1h0m32 1h0m-148 1h0m71 1h0m9 0h0m16-1h0m-66 6h0m20 0h0m9-2h0m24 2h0m71-1h0m-114 3h0m48 0h0m2 0h0m5 0h0m24 1h0m-71 4h0m23-1h0m22-1h0m-71 4h0m59-2h0m15 2h0m34 0h0m6 1h0m-78 1h0m6 1h0m48 1h0m12 1h0m-103 2h0m8-1h0m27 2h0m11-2h0m6 2h0m15-1h0m5-1h0m12-1h0m5 3h0m24-2h0m12 2h0m-60 1h0m43 0h0m7 1h0m-112 4h0m30-2h0m9 1h0m37 1h0m14 0h0m4-2h0m5 1h0m5 1h0m2-1h0m5 1h0m5-1h0m-79 4h0m38 1h0m7-2h0m9 0h0m2 1h0m13-2h0m7 0h0m-50 7h0m15 0h0m31-3h0m13 2h0m-102 3h0m35-1h0m13 1h0m6-1h0m9 2h0m-27 0h0m5 1h0m40 2h0m5 0h0m8-1h0m-77 3h0m6 0h0m23 1h0m4-1h0m16 0h0m14-1h0m16 0h0m-95 4h0m16 2h0m15-1h0m19 1h0m14 0h0m12-1h0m7-1h0m-7 2h0m-238-206h0m-3 13h0m5 6h0m-1 4h0m-22 2h0m5 6h0m10 6h0m9 5h0m7-2h0m-26 6h0m4-1h0m1-1h0m19 0h0m13 4h0m-50 3h0m5-1h0m5 0h0m17 2h0m22 2h0m6-2h0m5 2h0m-27 3h0m-28 2h0m4 1h0m19-1h0m20 2h0m2-2h0m-19 3h0m22 2h0m-16 2h0m-11 4h0m3-1h0m12 2h0m-16 2h0m-8 4h0m24-1h0m10 0h0m-55 1h0m7 1h0m26 5h0m2 8h0m-9 5h0" stroke="#f8eb6e" stroke-width="4" stroke-linecap="round" fill="none"/>
<path transform="scale(.5)" d="M152 5h0m3-1h0m-27 5h0m4-1h0m27 0h0m5 0h0m-51 5h0m8 0h0m19-1h0m13-1h0m-49 5h0m11 1h0m4-2h0m8 1h0m51-2h0m-74 3h0m0 2h0m9-2h0m28 1h0m4 0h0m11 3h0m3-2h0m-60 2h0m10 1h0m20-1h0m10 0h0m-55 6h0m3-1h0m12 0h0m7-2h0m23 1h0m25 1h0m-67 3h0m17-1h0m-24 4h0m3 2h0m12 0h0m7-2h0m75 0h0m-104 4h0m16 0h0m7-1h0m31 2h0m48-2h0m-89 5h0m8-2h0m4 3h0m26-1h0m7-1h0m51 0h0m-101 4h0m7 0h0m6 1h0m-32 4h0m5-2h0m8 2h0m3-2h0m9 0h0m11 0h0m-37 5h0m3-1h0m11-1h0m8-1h0m117 3h0m-131 3h0m15-2h0m11 2h0m7-1h0m3 1h0m94 0h0m-142 4h0m3-2h0m5-1h0m13 1h0m19 0h0m7-1h0m3 3h0m12-3h0m70 0h0m-134 3h0m3 2h0m7 1h0m4 0h0m15-2h0m1 1h0m4 0h0m71 0h0m-104 3h0m4-1h0m7 0h0m20 1h0m44 1h0m-60 3h0m13 1h0m6-3h0m9 1h0m80-1h0m-127 6h0m11-1h0m7 0h0m12 0h0m1 0h0m16-2h0m90 1h0m16 1h0m-148 2h0m28 1h0m8 0h0m13 0h0m14 0h0m99 1h0m-161 4h0m4-1h0m7-1h0m40 0h0m34 1h0m67 0h0m-156 4h0m13-2h0m2 1h0m8 0h0m5-2h0m11 3h0m-44 2h0m6-1h0m17 1h0m7-1h0m4 1h0m9 0h0m3-1h0m23 1h0m47 1h0m37-3h0m-150 7h0m16-3h0m7 0h0m6 1h0m33 0h0m12-1h0m74 1h0m26 2h0m-177 0h0m4 2h0m4 1h0m4-1h0m4 2h0m9-1h0m5 0h0m21-2h0m3 0h0m7 0h0m16 2h0m17-1h0m56 0h0m19 0h0m-170 4h0m3-1h0m26 2h0m21-1h0m8 0h0m12-2h0m38 1h0m58-1h0m-164 4h0m4 2h0m30-1h0m16-2h0m63 1h0m29 1h0m-106 5h0m3-3h0m5 0h0m3 0h0m10 2h0m14-1h0m-63 2h0m8 2h0m4-2h0m1 2h0m4-2h0m21 2h0m14-1h0m8 1h0m47-2h0m35 1h0m27 1h0m-179 1h0m3 0h0m8 1h0m31 2h0m8-3h0m14 3h0m5-2h0m4 3h0m71-2h0m-114 3h0m7-1h0m3 0h0m18 2h0m11 1h0m10-3h0m57 3h0m22-1h0m-155 1h0m3 3h0m18-2h0m13 0h0m6 2h0m20 0h0m5-2h0m20 2h0m44 0h0m37-2h0m10 0h0m9 0h0m-175 4h0m2 1h0m37-1h0m15-1h0m9 2h0m10-2h0m23 1h0m9 0h0m15 0h0m-137 3h0m18-1h0m13 1h0m8 1h0m3-1h0m5-1h0m5 0h0m6 2h0m26-1h0m4 2h0m12-2h0m12 0h0m3 1h0m16 1h0m30 0h0m10-2h0m-160 3h0m5 2h0m9-3h0m2 2h0m8 0h0m58-2h0m14 3h0m3-1h0m5-1h0m10 2h0m26-1h0m10 0h0m-151 4h0m16-2h0m4 2h0m6-1h0m4-1h0m3 1h0m6-2h0m8 4h0m17-2h0m19 0h0m11 1h0m22-2h0m31 1h0m-149 3h0m10 0h0m10 0h0m9 2h0m4-2h0m5 0h0m9 0h0m9 0h0m5-1h0m10 2h0m13 0h0m4-1h0m10 0h0m3 0h0m8-1h0m15 1h0m11 2h0m13-2h0m4 2h0m33-1h0m-197 2h0m12 0h0m8 2h0m10 1h0m4-2h0m9 0h0m2-1h0m4 2h0m4 0h0m6-1h0m8 0h0m5-1h0m9 0h0m5 2h0m7-1h0m21-2h0m8 1h0m7-1h0m2 3h0m48-2h0m10 1h0m-167 4h0m25 0h0m9 0h0m9 0h0m3 0h0m4-2h0m8 0h0m7 1h0m3 2h0m9-1h0m20-1h0m50 2h0m-138 3h0m2-3h0m13 1h0m9 1h0m8 1h0m1-2h0m4 2h0m10 0h0m2-1h0m8-2h0m12 2h0m17-1h0m14-1h0m4 2h0m4-2h0m6 0h0m8 2h0m9-1h0m37 1h0m-180 5h0m15-3h0m4 2h0m10-1h0m13 2h0m2-4h0m4 1h0m17 1h0m10 1h0m8-3h0m12 1h0m5 2h0m15-2h0m5 0h0m2 1h0m20 0h0m9 0h0m10 1h0m-135 3h0m4-1h0m10 2h0m2-3h0m4 3h0m6-2h0m9 1h0m7-2h0m1 3h0m13-2h0m5 0h0m23 1h0m2-1h0m18 0h0m4-1h0m4 0h0m5 1h0m3-1h0m-130 4h0m22 0h0m5 0h0m6 1h0m2-1h0m6 1h0m7 1h0m4 0h0m16-2h0m4 0h0m3 1h0m3 1h0m6-1h0m11 1h0m9 0h0m8-1h0m-166 2h0m39 2h0m17 0h0m8 1h0m16-1h0m9-1h0m6 0h0m6-1h0m4 2h0m4-2h0m7 2h0m11-2h0m6 1h0m5-1h0m5 2h0m9 0h0m4-2h0m9 0h0m9 2h0m12-1h0m6 0h0m10 0h0m-204 5h0m22-1h0m56 0h0m8 1h0m4-2h0m2 2h0m4-1h0m4-1h0m4 2h0m5-2h0m23 1h0m6 0h0m7 1h0m1-3h0m5 1h0m3 1h0m14 0h0m13 1h0m10-1h0m-170 3h0m16 0h0m5 1h0m7 0h0m26-2h0m5 2h0m12-2h0m9 2h0m14-2h0m8 1h0m8-1h0m5 1h0m11 1h0m19-2h0m7 1h0m16 2h0m5-4h0m0 0h0m6 1h0m-204 6h0m9-3h0m18 1h0m11-1h0m21 3h0m9-2h0m10 0h0m2 2h0m4-1h0m17 0h0m2-1h0m14 0h0m2 1h0m3-2h0m13 3h0m9 0h0m6-3h0m14 0h0m6 2h0m4-2h0m13 1h0m6 1h0m12-1h0m-212 3h0m83-1h0m6 3h0m6-3h0m16 3h0m3 0h0m3 0h0m3 0h0m4 0h0m10-1h0m15 0h0m7-1h0m2 0h0m15 2h0m2-1h0m9 0h0m8-1h0m22 0h0m-175 5h0m38-1h0m13-1h0m5 0h0m6 0h0m7 2h0m14-3h0m9 3h0m29-2h0m15 2h0m4-2h0m4 0h0m2 2h0m7-1h0m4 1h0m7-2h0m5 1h0m9-1h0m-192 5h0m27-1h0m18 1h0m4 0h0m4 0h0m9-2h0m34 1h0m8-1h0m4 2h0m2 0h0m9 1h0m9-2h0m11-1h0m10 2h0m1 0h0m8-1h0m10 0h0m9 1h0m36-1h0m-231 4h0m65 0h0m7-1h0m13 1h0m3 0h0m13 0h0m2 1h0m9 0h0m10-1h0m2 0h0m13 0h0m7 0h0m2-1h0m6 2h0m1-3h0m7 3h0m15 0h0m8 0h0m3-1h0m14 0h0m-204 4h0m13 0h0m3-1h0m58 1h0m4-2h0m10 2h0m8-1h0m18 2h0m4-3h0m3 2h0m9-1h0m4 1h0m13-2h0m3 1h0m11 0h0m3 0h0m14-2h0m10 3h0m23-2h0m-211 3h0m13 2h0m21-2h0m47 3h0m16-1h0m2-1h0m9 1h0m3-2h0m4 1h0m14 0h0m4 0h0m4-1h0m6 2h0m4 1h0m4 0h0m4-1h0m11-1h0m6 2h0m8-3h0m12 3h0m3-1h0m12-1h0m-198 5h0m40-1h0m5 1h0m28-1h0m5 0h0m2 1h0m11-1h0m1-1h0m15 3h0m10-1h0m13-2h0m7 0h0m10 0h0m4 1h0m5 1h0m3 0h0m3 0h0m5-1h0m7 0h0m9 1h0m5 0h0m22 1h0m-203 1h0m4 1h0m32 0h0m4-1h0m24 1h0m10-2h0m27 0h0m4 0h0m1 0h0m7 3h0m6 0h0m4-2h0m14 1h0m5-2h0m4 3h0m4-2h0m5 1h0m3-2h0m7 1h0m17 2h0m3-3h0m7 1h0m1 0h0m4 1h0m-212 3h0m86 1h0m7-2h0m10 2h0m8-2h0m4 1h0m16-1h0m6-1h0m9 0h0m3 2h0m4-1h0m13 1h0m14 1h0m3-1h0m16 0h0m10-2h0m25 2h0m-208 3h0m17 1h0m40 1h0m6-4h0m4 1h0m12 0h0m10 0h0m15 1h0m7-1h0m13 1h0m9 0h0m10 0h0m6 0h0m3 1h0m4 0h0m2 0h0m13-1h0m33-2h0m5 1h0m-227 6h0m8 0h0m42-1h0m14-2h0m24 1h0m4 1h0m8-2h0m14 3h0m6 0h0m11-2h0m11 1h0m2 1h0m3-2h0m14 0h0m5 1h0m15 0h0m2 1h0m-190 2h0m33-1h0m59 2h0m18-3h0m3 1h0m6 0h0m14 0h0m8 1h0m19 1h0m5 0h0m15-2h0m12 1h0m4 1h0m4-1h0m34 1h0m-183 3h0m33 1h0m13 0h0m3-1h0m12-2h0m2 1h0m14 1h0m5 1h0m13-2h0m8-1h0m14 1h0m4 0h0m2 1h0m6 0h0m2-1h0m11 0h0m26-1h0m7 0h0m-225 3h0m73 3h0m8-2h0m13 2h0m3 0h0m10-3h0m6 3h0m3-2h0m10 2h0m10 0h0m8-1h0m3 0h0m4 1h0m9 0h0m12-1h0m4-1h0m7 2h0m5-1h0m4-1h0m3 1h0m16-1h0m4 2h0m12-2h0m-221 3h0m16 3h0m47-1h0m4-3h0m24 2h0m2-1h0m7 2h0m6-2h0m2 0h0m5 0h0m7 2h0m9 0h0m3-1h0m6 1h0m7-2h0m3 3h0m9-3h0m7 0h0m8 0h0m11 1h0m3-1h0m5 0h0m6 1h0m0 0h0m-140 5h0m17-2h0m9 1h0m14 1h0m7-3h0m11 0h0m4 1h0m8-1h0m5 2h0m7 0h0m6-2h0m9 3h0m2-1h0m4-1h0m15 1h0m1 0h0m6 1h0m4-3h0m4 0h0m3 2h0m4 0h0m20 1h0m4 0h0m3-2h0m-173 5h0m25 0h0m6 0h0m5-3h0m4 1h0m11 2h0m5-2h0m1 2h0m8-1h0m5 1h0m5 0h0m1-1h0m8-1h0m5 2h0m11-3h0m8 2h0m25-1h0m7 0h0m8 0h0m-191 3h0m40 1h0m3 0h0m21 0h0m14-1h0m5-1h0m3 2h0m8-2h0m4 3h0m6-2h0m5 2h0m6-2h0m9 2h0m11 0h0m2 0h0m4-2h0m6 0h0m13 2h0m7 0h0m14 1h0m4-2h0m9 1h0m6-2h0m12 1h0m-218 4h0m79-1h0m9 1h0m5-1h0m4 1h0m2 0h0m4-1h0m8 0h0m8 0h0m4 1h0m9-1h0m3 1h0m5 1h0m4-2h0m3-1h0m5 1h0m3-1h0m4 2h0m2-2h0m18 3h0m3-2h0m11 2h0m9-2h0m-207 4h0m90 0h0m9-1h0m2 1h0m20-1h0m17 1h0m2 0h0m9-2h0m5 3h0m16-1h0m6-1h0m23 2h0m6-2h0m-193 5h0m10-2h0m13 2h0m18-2h0m36 1h0m14 1h0m5 0h0m6-1h0m3 0h0m15-1h0m14 0h0m9 1h0m12 2h0m3-1h0m3 1h0m10-2h0m7 1h0m7-2h0m6 1h0m-172 5h0m48 0h0m9 0h0m5-2h0m12-1h0m17 1h0m7 1h0m7-1h0m10 2h0m5-2h0m12 0h0m5 1h0m16-1h0m-161 4h0m7-2h0m44 1h0m17 2h0m10-1h0m6 0h0m4-1h0m8-1h0m6 1h0m8 0h0m4 0h0m5 2h0m5-2h0m16 0h0m5 2h0m22 0h0m4-2h0m2-1h0m7 3h0m-151 2h0m6 1h0m32-1h0m13-1h0m4 2h0m6 0h0m9 0h0m15 0h0m4-2h0m7 1h0m5 0h0m3-1h0m6 1h0m8 0h0m3-1h0m5 1h0m18 0h0m6-1h0m11 0h0m-202 4h0m9 0h0m57-1h0m19 0h0m5 1h0m3 0h0m9 1h0m7 0h0m8 1h0m3 0h0m3 0h0m15 0h0m2-2h0m13 2h0m1-3h0m6 1h0m24 2h0m-88 2h0m5 1h0m9-2h0m5 0h0m3 0h0m3 1h0m5-1h0m10 1h0m5 2h0m3-3h0m10 0h0m15 2h0m17-2h0m2 1h0m4 0h0m10 0h0m-163 3h0m2-1h0m33 2h0m17-1h0m2-1h0m6 1h0m6 0h0m4 1h0m7 0h0m7-2h0m13 0h0m11 1h0m7 1h0m7-1h0m2 2h0m11 0h0m6 0h0m5 0h0m9-1h0m-177 3h0m8-1h0m4 1h0m24-2h0m5 2h0m28 1h0m12-1h0m13-2h0m8 2h0m40 0h0m21 0h0m6 0h0m12 1h0m-178 2h0m9 2h0m17-3h0m23 1h0m7 1h0m26-2h0m2 1h0m5 0h0m5 1h0m14 0h0m6-1h0m6 2h0m21-3h0m2 1h0m6-1h0m11 2h0m8 1h0m-152 2h0m49 0h0m3-1h0m12 0h0m15 2h0m7-2h0m6 0h0m1 0h0m5 2h0m4-1h0m5 0h0m2-2h0m6 2h0m7 1h0m4-2h0m8 0h0m12 0h0m6 0h0m12 1h0m3-1h0m-187 6h0m30-1h0m18 1h0m5-4h0m21 2h0m5-1h0m11 1h0m4 0h0m2-1h0m8 1h0m9-2h0m23 0h0m4 4h0m2-4h0m23 1h0m16 1h0m-176 2h0m26 1h0m44 2h0m8-1h0m7-2h0m8 3h0m10 0h0m4-3h0m3 1h0m4 2h0m3-1h0m3 1h0m5-1h0m4-1h0m18 2h0m12-3h0m5 1h0m11 1h0m-157 4h0m11-1h0m38 0h0m13 0h0m7-1h0m4 0h0m3 1h0m9-1h0m4 0h0m4 0h0m5-1h0m3 2h0m2 1h0m9-1h0m18 0h0m14-1h0m2 0h0m7 0h0m3 2h0m3-2h0m-160 3h0m20 1h0m2 0h0m18 2h0m15-1h0m10 0h0m4-2h0m17 0h0m2 0h0m29-1h0m3 2h0m2 2h0m5-3h0m13 3h0m3-2h0m5 1h0m2-1h0m4-1h0m-157 6h0m26-1h0m37 0h0m5 1h0m6 0h0m11-3h0m5 3h0m3-2h0m4 2h0m6 0h0m2-2h0m8 2h0m4-2h0m4 0h0m27 0h0m5 1h0m2-2h0m-98 3h0m7 0h0m7 1h0m6-1h0m3 3h0m8-2h0m4 1h0m3 1h0m6 0h0m1 0h0m5 0h0m5-2h0m16 0h0m4 2h0m1-3h0m5 3h0m9 0h0m2-3h0m5 2h0m-149 3h0m60 0h0m4-1h0m4 3h0m4-1h0m3 0h0m6 1h0m4-2h0m17 2h0m2-2h0m12 0h0m4 0h0m19 0h0m8 1h0m-151 2h0m3-1h0m43 1h0m17 1h0m3 1h0m7-2h0m10 0h0m2-1h0m9 3h0m8-3h0m6 3h0m0 0h0m6 0h0m4 0h0m18 0h0m-113 4h0m18-3h0m24 2h0m5-2h0m8 3h0m1-2h0m6 1h0m8-2h0m2 0h0m5 1h0m3 0h0m18 0h0m8-1h0m1 2h0m15 0h0m-114 2h0m5 1h0m33-1h0m21 2h0m4-1h0m-54 4h0m20-1h0m9-1h0m12 2h0m16-1h0m15-2h0m7 2h0m13 1h0m-115 1h0m33 2h0m4 0h0m6-2h0m5 0h0m4 0h0m2 0h0m23 2h0m6-1h0m13 2h0m17-2h0m9 1h0m-98 3h0m4-2h0m6 3h0m3-1h0m3-1h0m10 2h0m6 0h0m3-2h0m21 1h0m17-1h0m2 2h0m5-3h0m3 0h0m3 1h0m5-1h0m-84 6h0m6-2h0m5 2h0m5 0h0m27 0h0m14 0h0m6-1h0m18 1h0m-84 2h0m13 0h0m3 0h0m4 0h0m22-1h0m6 1h0m9-1h0m4 1h0m10-1h0m-75 6h0m3-1h0m9 0h0m2 0h0m3-1h0m9 2h0m4 0h0m4-2h0m3 1h0m8 1h0m3-1h0m9-2h0m9 3h0m-60 2h0m3-1h0m5 0h0m2 0h0m5 1h0m23-1h0m-216-206h0m-7 4h0m4-1h0m2-1h0m-3 5h0m2-1h0m-3 3h0m4 0h0m4-1h0m-14 4h0m1 1h0m14-1h0m1 0h0m-20 5h0m12-3h0m11 1h0m-26 3h0m2 0h0m7 2h0m3 0h0m4-2h0m7 1h0m-22 3h0m4 0h0m3 0h0m3-1h0m11 1h0m4 0h0m-24 3h0m4-2h0m4 3h0m6-2h0m10 1h0m-29 3h0m4-1h0m3 0h0m9 1h0m3 1h0m3-1h0m5 1h0m-29 3h0m10 0h0m5-1h0m3-1h0m5 0h0m10 0h0m4 1h0m-31 3h0m3-1h0m4 1h0m2 0h0m6-1h0m3 1h0m5 0h0m2 1h0m3-1h0m-36 4h0m10-1h0m3 0h0m12-1h0m3 1h0m2 0h0m7 0h0m-36 5h0m4-3h0m3 0h0m3 3h0m8-2h0m2 0h0m13 1h0m-11 4h0m9 0h0m7 0h0m2-3h0m3 2h0m-46 3h0m2-1h0m4 1h0m13-1h0m11 0h0m4 1h0m5-2h0m4 3h0m8-2h0m-40 2h0m3 1h0m14 2h0m5-3h0m4 2h0m5 1h0m-39 2h0m14 1h0m2-2h0m3 0h0m4 2h0m4-1h0m4-1h0m4 2h0m4-1h0m4-1h0m9 1h0m-58 2h0m3 2h0m4-1h0m8 1h0m3-1h0m4-2h0m4 1h0m2-1h0m11 1h0m3 2h0m4 0h0m6-1h0m8-1h0m-61 4h0m10 1h0m8 0h0m39-1h0m-44 4h0m2 0h0m2 0h0m8 0h0m4-1h0m16-1h0m2 1h0m5 0h0m5 1h0m7-2h0m-65 3h0m10 2h0m4-1h0m3 0h0m3 1h0m6 0h0m17-2h0m5 2h0m1-1h0m5 1h0m7 1h0m-62 1h0m4 0h0m3-1h0m4 0h0m2 2h0m4-1h0m8 2h0m3-3h0m9 3h0m16-2h0m3 2h0m-54 1h0m3 0h0m13-1h0m14 1h0m4 1h0m8 1h0m4 0h0m-50 0h0m11 2h0m3 0h0m5-2h0m8 0h0m2 1h0m8 1h0m9-1h0m9 0h0m-50 2h0m8 1h0m7 1h0m5 1h0m24-1h0m5 0h0m7-2h0m-60 4h0m4 0h0m22 2h0m3-1h0m3-2h0m28 1h0m-47 4h0m36 1h0m4-1h0m6 0h0m-56 2h0m27 1h0m3-1h0m2 0h0m4 2h0m12-2h0m5 2h0m5-3h0m-49 4h0m39 1h0m-21 9h0" stroke="#fce558" stroke-width="4" stroke-linecap="round" fill="none"/>
<path transform="scale(.5)" d="M148 0h0m-17 3h0m4 0h0m2 1h0m5-2h0m4 0h0m5-1h0m6 2h0m-32 4h0m4 0h0m5-3h0m13 3h0m-29 3h0m5-2h0m19 0h0m6 0h0m4 1h0m12 1h0m-46 2h0m7 2h0m6-1h0m3-2h0m3 1h0m10-1h0m19 0h0m2 1h0m4 2h0m-50 1h0m37 1h0m3-2h0m3 2h0m4-1h0m-53 4h0m7-1h0m2 1h0m5 0h0m4 0h0m2 1h0m28-2h0m7 3h0m8-4h0m-85 6h0m26-1h0m4 2h0m4-3h0m6 3h0m9-1h0m8-1h0m3-1h0m13 3h0m6-1h0m4-2h0m4 2h0m5-2h0m2 3h0m-97 1h0m20 2h0m1-3h0m8 1h0m13 1h0m3 1h0m9 0h0m17 0h0m11-3h0m2 3h0m4-2h0m3-1h0m-99 6h0m12 1h0m5 0h0m9-3h0m6 3h0m5 0h0m4-3h0m29 3h0m9-4h0m28 2h0m-104 5h0m3-1h0m10 0h0m8 0h0m5-2h0m4 2h0m15-2h0m3 1h0m4 1h0m7 0h0m9 1h0m9 0h0m20-2h0m6-1h0m5 3h0m-113 2h0m12 1h0m8-2h0m8-1h0m3 2h0m5 1h0m2 0h0m15 0h0m15-2h0m4 2h0m4-2h0m6 1h0m22 0h0m6 1h0m3 1h0m-121 1h0m15-1h0m12 1h0m6 0h0m8 0h0m5 2h0m9-3h0m18 1h0m1-1h0m10 1h0m11 1h0m21 1h0m6-1h0m-125 3h0m2-1h0m3-1h0m9 3h0m23 0h0m3-1h0m6-2h0m4 0h0m17 2h0m23 1h0m1-2h0m16 0h0m3 0h0m13 2h0m3-2h0m-114 5h0m7-2h0m6 2h0m8-2h0m3 2h0m5 0h0m4-1h0m4 1h0m8-1h0m10-1h0m5 0h0m3 0h0m7 0h0m3 2h0m16-2h0m6 0h0m8 3h0m4-3h0m3 1h0m5 1h0m2-1h0m-131 4h0m5 0h0m14 0h0m7-2h0m7 0h0m6 2h0m22-2h0m6 1h0m11-1h0m13 2h0m4 0h0m6-2h0m7 0h0m5 3h0m-92 0h0m7 2h0m19 0h0m6 0h0m3 1h0m9 0h0m3 0h0m9 0h0m5 0h0m2-1h0m14-2h0m-93 4h0m15 1h0m3 0h0m20-1h0m5 1h0m6-1h0m5 1h0m40 1h0m19 0h0m6-2h0m11 0h0m-139 4h0m15 1h0m16-1h0m2 0h0m5 0h0m10 0h0m15 2h0m6-2h0m20-1h0m19 1h0m15-1h0m9 3h0m4-2h0m-136 4h0m10 1h0m6-1h0m13 0h0m2 2h0m4-3h0m4 0h0m4 2h0m3 0h0m11-3h0m15 3h0m6-1h0m8-1h0m11 0h0m17-1h0m14 2h0m5 1h0m16-1h0m-159 4h0m6-2h0m3 2h0m13-2h0m10 0h0m10 2h0m13-2h0m14 0h0m3 1h0m6-1h0m6 2h0m5-1h0m26 0h0m2-1h0m13 1h0m3 2h0m3-1h0m7-2h0m17 3h0m5-1h0m4 1h0m-161 1h0m15 0h0m18 1h0m10-2h0m9 3h0m4-1h0m6-1h0m2 2h0m32-3h0m7 2h0m4-2h0m3 0h0m6 3h0m4 0h0m12 0h0m5-2h0m3 0h0m16 2h0m-154 2h0m5 1h0m11-2h0m2 2h0m15 0h0m39-2h0m14 0h0m1 2h0m6 0h0m2 0h0m11 0h0m2 0h0m19 0h0m5-2h0m4 1h0m3 1h0m13-3h0m-152 7h0m10-2h0m4 1h0m11-1h0m4-1h0m1 2h0m19-1h0m2 1h0m6-1h0m1 1h0m36 1h0m21-3h0m7 2h0m2 0h0m6 0h0m4-1h0m16 0h0m9 2h0m-148 2h0m10 0h0m12-1h0m9 2h0m3 0h0m10 0h0m16 1h0m8-4h0m10 1h0m3 2h0m25-1h0m3-1h0m4 2h0m8-2h0m2 1h0m4-1h0m7 0h0m5 2h0m6 0h0m12-1h0m-166 4h0m11-1h0m12-1h0m14 2h0m8-1h0m13 0h0m2 1h0m8-2h0m5 1h0m9 0h0m3 1h0m24-2h0m15 0h0m5 0h0m3 1h0m6 2h0m7 0h0m8-2h0m7 2h0m7-1h0m-175 4h0m6 0h0m8-1h0m5-2h0m8 2h0m4 1h0m6-2h0m3-1h0m7 0h0m4 1h0m22-1h0m0 2h0m32-1h0m6 1h0m14-1h0m11 2h0m16-1h0m6 1h0m7-3h0m7 3h0m5-1h0m3 1h0m-169 2h0m17 0h0m3 2h0m2-1h0m4 1h0m21-2h0m8 1h0m14-1h0m16 0h0m3-1h0m9 0h0m18 3h0m9-3h0m33 1h0m14 0h0m-182 4h0m12 0h0m18 1h0m1-3h0m13 3h0m8-1h0m5-2h0m11 0h0m15 2h0m4 1h0m14 0h0m7-2h0m14 1h0m5 0h0m6-1h0m3 2h0m6-2h0m4 2h0m1-1h0m6-1h0m9 1h0m1-1h0m5-1h0m3 2h0m-167 2h0m3 1h0m2 1h0m7-3h0m6 0h0m7 2h0m4-1h0m5 1h0m11-1h0m8 2h0m9-3h0m10 2h0m4 0h0m10 1h0m3-1h0m14 0h0m9 1h0m8-1h0m3 1h0m6-1h0m8-1h0m3 1h0m2 1h0m5-2h0m11 2h0m8-1h0m13-1h0m-184 4h0m25 2h0m21-3h0m6 0h0m15 3h0m4-3h0m6 0h0m7-1h0m4 2h0m6 2h0m5-4h0m3 1h0m7 3h0m8-3h0m6 1h0m6 0h0m13 0h0m5 1h0m7-2h0m5 1h0m6 2h0m11-1h0m6-3h0m1 3h0m-136 3h0m3 1h0m19 0h0m16-3h0m5 0h0m2 3h0m22 0h0m2 0h0m5-1h0m5-1h0m2 0h0m3 1h0m5 1h0m14 0h0m16-2h0m8 2h0m8 0h0m-175 2h0m6-2h0m9 2h0m13 0h0m8 2h0m7-3h0m4 1h0m13 0h0m8-1h0m7 1h0m10 0h0m4-1h0m4 1h0m5-1h0m1 0h0m6 1h0m6 0h0m13-1h0m14 1h0m5 0h0m7-2h0m6 1h0m19-1h0m-143 6h0m7 1h0m16 0h0m10-1h0m10 0h0m11 0h0m5-1h0m18 0h0m4-1h0m12 0h0m5 3h0m3-3h0m5 1h0m5 0h0m7 1h0m2 0h0m4-1h0m20 0h0m-176 3h0m4 1h0m12-1h0m1-1h0m12 2h0m5 1h0m8 0h0m6-1h0m8 1h0m10 0h0m3-3h0m8 3h0m3-1h0m3 1h0m7-1h0m1-2h0m5 3h0m23-3h0m10 3h0m17 0h0m9-3h0m10 1h0m11 0h0m-166 4h0m5-1h0m26 1h0m3 1h0m18-2h0m16 3h0m11-4h0m11 0h0m9 2h0m3 1h0m9 0h0m13-1h0m4 1h0m3-2h0m3 3h0m3-1h0m10-1h0m11 1h0m-135 3h0m7 0h0m7-1h0m5 1h0m22 0h0m3 0h0m22-2h0m6 0h0m4 3h0m8-1h0m13 1h0m12-2h0m5 1h0m11-1h0m6-1h0m-141 5h0m14-1h0m4 0h0m2 2h0m8-2h0m5 0h0m5 2h0m17 0h0m5 0h0m21-2h0m5 0h0m4 0h0m3 0h0m8 0h0m14 0h0m9 0h0m9 0h0m4 2h0m3-2h0m8 0h0m6 2h0m-133 2h0m4 1h0m8-1h0m6 1h0m5 0h0m8-3h0m7 2h0m11 0h0m3 2h0m3-1h0m9-1h0m4 2h0m4-3h0m5 2h0m1 0h0m11 1h0m10-2h0m5 2h0m3-1h0m4 1h0m3-1h0m12 0h0m4 1h0m3-3h0m-127 6h0m12-2h0m31 1h0m10 0h0m8-2h0m14 0h0m4 1h0m3 1h0m12-2h0m8 1h0m4 0h0m20 1h0m-138 4h0m8 0h0m8-1h0m20 1h0m12-3h0m5 1h0m26 2h0m1 0h0m4 0h0m11-2h0m12 1h0m6 1h0m8 1h0m5-1h0m-152 3h0m3-1h0m13 2h0m9 0h0m35-3h0m11 2h0m5-1h0m11 0h0m4-1h0m6 1h0m6-1h0m5 3h0m4-3h0m7 3h0m11-2h0m11 0h0m5-1h0m2 3h0m3-1h0m5 0h0m6-2h0m1 3h0m-157 3h0m42-1h0m7-2h0m19 1h0m11 2h0m2-1h0m6 1h0m19-3h0m8 1h0m12 1h0m3-1h0m3 2h0m10 0h0m2-2h0m16 0h0m-145 5h0m14-3h0m17 1h0m2 1h0m16 0h0m6-1h0m11 2h0m26-3h0m7 2h0m8 0h0m9-1h0m3 0h0m13 0h0m4 0h0m8-1h0m3 3h0m-150 4h0m24-3h0m15 0h0m26 1h0m17-1h0m4 3h0m32-2h0m2 1h0m4-2h0m23 0h0m-151 5h0m8 1h0m38 0h0m2-2h0m24 0h0m19 2h0m12 0h0m9-3h0m6 2h0m5 1h0m5-2h0m1 1h0m10-1h0m8-1h0m3 2h0m5-1h0m-222 5h0m66 0h0m15-2h0m42 2h0m10-2h0m11 0h0m16 0h0m60 2h0m-150 1h0m8 0h0m33 2h0m12 1h0m33 0h0m10-3h0m17 2h0m15-2h0m3 1h0m3 1h0m6 1h0m4-1h0m4-1h0m-165 5h0m37-1h0m13-1h0m10 1h0m18 1h0m9-1h0m12-1h0m19 2h0m5-2h0m30 2h0m15 0h0m-179 1h0m57 1h0m21 1h0m4-1h0m23 1h0m13 1h0m22-3h0m11 3h0m12-1h0m8 0h0m4 0h0m4 1h0m3-2h0m-153 5h0m10-2h0m10 2h0m47-3h0m13 1h0m30 0h0m12-1h0m10 2h0m4 0h0m17 1h0m-188 1h0m21 2h0m81-2h0m10 1h0m3 2h0m3-2h0m21 0h0m17 0h0m14 0h0m15 0h0m3 2h0m-149 2h0m34 1h0m44 0h0m12-3h0m8 1h0m18-1h0m4 1h0m11 1h0m-117 1h0m29 2h0m7 1h0m57-1h0m4 0h0m5 2h0m6-4h0m7 1h0m7 0h0m11 1h0m2-2h0m-153 6h0m7-2h0m92 0h0m24-1h0m16 2h0m6 0h0m4-1h0m2 1h0m-145 4h0m2-2h0m14 1h0m19 2h0m73-3h0m14 2h0m7 1h0m6-3h0m4 3h0m4-1h0m5 0h0m-125 2h0m4 0h0m12 0h0m81 3h0m1-3h0m4 0h0m8 1h0m6-1h0m4 2h0m-209 1h0m61 2h0m29-2h0m20 2h0m15 0h0m42-1h0m28-1h0m8 3h0m9-1h0m-121 4h0m17-1h0m46-1h0m12 2h0m16-1h0m4-2h0m7 3h0m2-3h0m5 3h0m5-1h0m-217 2h0m32 0h0m71 1h0m7 1h0m14-1h0m10 0h0m22-2h0m23 2h0m11 0h0m16-1h0m3 1h0m7-2h0m6 2h0m-119 4h0m96-1h0m7-1h0m4 3h0m6-2h0m6 2h0m-59 0h0m35 2h0m3 1h0m11-3h0m6 3h0m3-3h0m-79 5h0m50 1h0m13 0h0m8-1h0m6 0h0m4-1h0m-102 6h0m12-1h0m13-2h0m10 3h0m35-1h0m32 1h0m-102 1h0m36 0h0m43 0h0m20 2h0m3-2h0m-23 4h0m2-1h0m8 3h0m-64 2h0m27-2h0m11 1h0m16 1h0m4 1h0m4-2h0m7 2h0m7-1h0m-96 2h0m38 1h0m30 2h0m20-3h0m-183 4h0m77 1h0m6-1h0m11 1h0m93-1h0m1-1h0m-119 3h0m111 1h0m-23 4h0m14 1h0m3 0h0m2-2h0m7 1h0m6 0h0m-36 5h0m7-2h0m9-1h0m7 1h0m4 2h0m2-1h0m7-1h0m-120 3h0m9 2h0m25-2h0m18-1h0m52 3h0m4-2h0m5 0h0m3 0h0m3 0h0m-79 4h0m53 2h0m9 0h0m7-1h0m7 0h0m-127 4h0m15-3h0m93 1h0m3 0h0m4 1h0m5-1h0m3 2h0m-74 1h0m35 1h0m28-1h0m-112 4h0m39-1h0m68 2h0m7 1h0m5-3h0m3 0h0m-78 7h0m13-1h0m52-2h0m8 2h0m6-1h0m-119 3h0m10 0h0m24-1h0m23 1h0m39 1h0m6 0h0m4-3h0m-92 6h0m10 0h0m82-1h0m4 0h0m-79 5h0m25-3h0m47 3h0m5 0h0m-106 4h0m74-2h0m26 0h0m-95 9h0m45-2h0m-39 2h0m61 1h0m30 6h0m-94 0h0m-8 4h0m90 2h0m-35 2h0m-72 5h0m21 3h0m-10 4h0m39-3h0m16 1h0m16 0h0m9 0h0m-75 5h0m34 3h0m17 0h0m0 7h0m15-2h0m-20 3h0m-240-197h0m1 5h0m9 0h0m2 9h0m2 3h0m8 1h0m-6 5h0m-17 8h0m25 2h0m-11 2h0m-21 2h0m16 1h0m20-1h0m-27 5h0m37-3h0m-46 8h0m-9 3h0m23 0h0m9 1h0m4-1h0m2 0h0m18 1h0m-59 1h0m9 1h0m-2 3h0m50 0h0m-45 6h0m9 1h0m19-2h0m-6 9h0m4-3h0m6 1h0m12 5h0m-57 1h0m15 8h0m25 0h0" stroke="#fcd74b" stroke-width="4" stroke-linecap="round" fill="none"/>
<path transform="scale(.5)" d="M159 12h0m-30 4h0m6 0h0m15 0h0m5 1h0m-5 3h0m4-1h0m21 1h0m-27 3h0m10-1h0m12 0h0m-67 2h0m38 3h0m6 0h0m8-3h0m12 3h0m20 0h0m-60 3h0m9-2h0m6 0h0m23 0h0m6 2h0m3-2h0m9 1h0m-75 4h0m12-1h0m20 0h0m15 0h0m16 0h0m9 1h0m11-1h0m-87 3h0m29 1h0m7-1h0m8 1h0m19-1h0m12 0h0m3 2h0m-30 1h0m18 1h0m6 0h0m15 2h0m-69 1h0m6 2h0m7-1h0m8 0h0m3 0h0m38-1h0m-114 3h0m53 1h0m25 0h0m16 0h0m3 0h0m13-1h0m-68 6h0m2-2h0m14-1h0m15 0h0m13 1h0m22 1h0m12 0h0m4-2h0m-108 5h0m73-1h0m8-1h0m5 0h0m7 2h0m4 1h0m7 0h0m-55 2h0m12 0h0m17-1h0m6 2h0m3-1h0m5 1h0m3-2h0m17 2h0m6 0h0m-87 2h0m5-1h0m24 0h0m4 1h0m8 0h0m5 1h0m5-2h0m12 1h0m10 2h0m-74 1h0m10 2h0m12 0h0m22-2h0m13 0h0m10 2h0m2 0h0m17 0h0m2-2h0m-102 5h0m27 1h0m20-1h0m12 0h0m2 0h0m49-1h0m-105 3h0m4 1h0m21-1h0m2 2h0m9-1h0m4-2h0m8 1h0m6 1h0m49 1h0m4-2h0m8 0h0m-132 3h0m13 0h0m7 0h0m15 0h0m5 2h0m2-1h0m8 1h0m5-2h0m18 2h0m17 1h0m28-1h0m2 0h0m12 1h0m-137 1h0m48 0h0m14 0h0m19 2h0m4 0h0m4-3h0m6 1h0m20-1h0m16 2h0m-127 3h0m36 0h0m6-1h0m3 1h0m15-2h0m17 3h0m7-3h0m49 2h0m5 1h0m-74 1h0m7 3h0m2-3h0m14 0h0m5 0h0m28 1h0m-87 5h0m15-3h0m5 3h0m2 0h0m8-2h0m3 1h0m16 1h0m34-1h0m-75 3h0m5 1h0m12 0h0m3 0h0m13-2h0m7 1h0m21-1h0m9 0h0m12 2h0m15-2h0m-105 5h0m13 1h0m14-2h0m3 1h0m14-2h0m7 2h0m64 0h0m-134 3h0m28-1h0m22 1h0m16 0h0m57 1h0m5 0h0m-154 3h0m108 1h0m33-3h0m9 1h0m-92 3h0m84 1h0m18-2h0m-152 3h0m44 0h0m49 3h0m33-2h0m15 2h0m4-1h0m-132 3h0m44 1h0m5-1h0m40 4h0m-40 4h0m4-1h0m41 0h0m36-1h0m8 0h0m-157 3h0m103 1h0m10 1h0m39-1h0m2 0h0m-106 5h0m90-3h0m-111 6h0m85-3h0m34 4h0m5-2h0m-7 3h0m8 1h0m-55 3h0m57 0h0m9-1h0m-24 7h0m11-1h0m-144 4h0m140 2h0m0 4h0m7 0h0m1-3h0m-68 6h0m67 4h0m-76 3h0m89 0h0m-144 1h0m126 1h0m7-1h0m5 2h0m-5 6h0m-141 3h0m57 0h0m87-2h0m2 3h0m-74 2h0m-155 5h0m215-3h0m13 3h0m2 0h0m-12 1h0m3 3h0m-101 1h0m104 0h0m-201 3h0m215 3h0m-161 1h0m146 1h0m7-2h0m-123 4h0m-5 4h0m122 4h0m14-2h0m-47 6h0m29-3h0m-7 6h0m11 4h0m-222 2h0m214 0h0m5-2h0m8 3h0m-86 4h0m83 1h0m-2 4h0m11-2h0m-14 6h0m3-1h0m-122 5h0m93 0h0m19 0h0m5-1h0m8 0h0m-128 4h0m51 3h0m56-2h0m-32 36h0m-22 6h0m13 0h0m-65 5h0m52 4h0m-44 8h0m82 13h0m-43 3h0m-25 3h0m52 2h0m-91 2h0m-162-180h0m-20 11h0m-2 11h0m36 4h0m-29 2h0m8 7h0m-19 6h0m36 3h0m-35 13h0m-3 4h0" stroke="#fabe41" stroke-width="4" stroke-linecap="round" fill="none"/>
<path transform="scale(.5)" d="M156 8h0m19 4h0m-28 4h0m-35 13h0m19-1h0m28 4h0m-74 5h0m106 6h0m-112 7h0m-5 3h0m68 2h0m-64 11h0m60 3h0m-71 4h0m-13 4h0m123 17h0m-35 1h0m-30 14h0m54 1h0m-41 4h0m38-1h0m41 1h0m-120 2h0m26 0h0m13 5h0m-27 11h0m50 0h0m83-2h0m-87 3h0m41 5h0m-31 2h0m5 7h0m81 1h0m-176 2h0m143 0h0m-25 4h0m33 1h0m-30 1h0m-71 7h0m119 3h0m-120 9h0m45 0h0m12 6h0m12 1h0m-102 10h0m75-2h0m14 1h0m24 1h0m50 1h0m-73 6h0m57-1h0m-11 3h0m-74 2h0m61 4h0m20 4h0m-111 7h0m-25 2h0m105 1h0m12 3h0m-43 11h0m-52 8h0m5 0h0m57-2h0m-52 12h0m5 7h0m32 9h0m19 14h0m6 7h0m-59 7h0m15 4h0m2-3h0m6 9h0m26 4h0m-28 2h0m5 1h0m2 1h0m-221-185h0m9 2h0m4 8h0m-11 18h0m27 9h0m-49 10h0m3 10h0m42-1h0" stroke="#f8a63d" stroke-width="4" stroke-linecap="round" fill="none"/>
<path transform="scale(.5)" d="M138 7h0m24 14h0m-36 4h0m-1 9h0m25-2h0m18 4h0m-96 2h0m65 3h0m12 0h0m-81 13h0m129 0h0m-14 4h0m-16 6h0m-99 3h0m39-1h0m70 2h0m-84 0h0m20 13h0m7-3h0m39 3h0m1 7h0m28-1h0m47 3h0m-158 6h0m113 4h0m-66 4h0m8 1h0m65-3h0m39 9h0m-67 3h0m32-1h0m22 0h0m-147 5h0m56 1h0m29 6h0m-103 3h0m86 5h0m65 0h0m-93 6h0m82 3h0m35 0h0m-96 2h0m99 0h0m-154 5h0m51 2h0m101-2h0m-120 6h0m89-2h0m-65 3h0m86 6h0m-30 2h0m13 3h0m27 4h0m-40 10h0m-166 13h0m180-1h0m-88 4h0m99 0h0m-82 3h0m76 23h0m-119 8h0m85 0h0m-29 8h0m-34 5h0m56 3h0m-86 14h0m38 14h0m-11 3h0m4-1h0m0 5h0m102 6h0m-5 4h0m-101 3h0m26 6h0m7 7h0m-193-143h0m-4 12h0m11 10h0m-5 8h0m-14 7h0m-7 3h0" stroke="#f68e38" stroke-width="4" stroke-linecap="round" fill="none"/>
<path transform="scale(.5)" d="M155 2h0m-22 6h0m28 32h0m-32 7h0m19 15h0m77 12h0m-21 2h0m-64 2h0m27 1h0m9 12h0m33 0h0m-115 1h0m84 3h0m28 4h0m-107 5h0m17-1h0m43 2h0m64 3h0m-53 3h0m62 1h0m-58 1h0m-77 3h0m53 3h0m90 3h0m-12 33h0m10 0h0m-43 3h0m39 16h0m-114 32h0m115 8h0" stroke="#f1712f" stroke-width="4" stroke-linecap="round" fill="none"/>
<path transform="scale(.5)" d="M146 11h0m15 36h0m-50 14h0m131 171h0" stroke="#eb5629" stroke-width="4" stroke-linecap="round" fill="none"/>
</g>
<g transform="translate(119.6 320.4)"><use href="#ua"/>
<path transform="scale(.5)" d="M141 72h0m63 5h0m-65 25h0m11 16h0m1 46h0m-45 39h0m48 14h0m10 10h0m-2 15h0m52 33h0m-53 35h0" stroke="#eae7a0" stroke-width="4" stroke-linecap="round" fill="none"/>
<path transform="scale(.5)" d="M181 29h0m0 2h0m-1 8h0m-10 3h0m18 3h0m6 2h0m-97 2h0m14-1h0m21 1h0m48 0h0m-38 5h0m8-3h0m8 3h0m1-2h0m-54 5h0m22-1h0m26 0h0m12-1h0m5 2h0m11 0h0m-56 3h0m-22 2h0m11 0h0m69 0h0m-89 5h0m27-1h0m23 1h0m27-1h0m24 2h0m-79 2h0m4-1h0m4 2h0m4-3h0m5 2h0m5 0h0m9 1h0m8 0h0m6-2h0m5-1h0m19 1h0m16-1h0m-89 5h0m4 1h0m10-2h0m37 0h0m31 1h0m9-1h0m-87 4h0m19 0h0m12 2h0m20-2h0m2 0h0m-60 3h0m15 2h0m20 0h0m20-2h0m-45 3h0m27 2h0m17-2h0m37 0h0m-102 4h0m18 1h0m13-2h0m5 1h0m31 1h0m34 0h0m-85 4h0m29-1h0m47 1h0m10 0h0m-89 2h0m42 1h0m17-1h0m4 0h0m21-1h0m9 3h0m-103 2h0m19-2h0m8 1h0m5 1h0m5 0h0m24 0h0m30-1h0m-92 3h0m22 0h0m15 1h0m8 1h0m46 1h0m-66 0h0m16 1h0m9-1h0m12 1h0m10 1h0m18-2h0m-85 4h0m13 2h0m26 0h0m26-2h0m4 1h0m18-2h0m4 2h0m27 1h0m-108 1h0m11 0h0m38 2h0m2-1h0m16-1h0m27 2h0m-99 4h0m38-1h0m23-1h0m6-1h0m48 0h0m10 1h0m-130 5h0m6-2h0m3 1h0m5 0h0m4 1h0m12-1h0m26 1h0m7-1h0m-62 2h0m17 2h0m1 0h0m9 0h0m13 1h0m9-3h0m60 0h0m-87 6h0m18 0h0m39-1h0m44 1h0m-123 2h0m3-1h0m18 2h0m4-2h0m9-1h0m10 3h0m34-3h0m-36 7h0m6-2h0m3 2h0m22-1h0m16 0h0m-93 1h0m59 0h0m7 1h0m5 0h0m5 0h0m11 0h0m11 2h0m42 0h0m-130 3h0m22 1h0m8-2h0m31 1h0m-75 4h0m2-3h0m7 2h0m26-1h0m52 1h0m-92 2h0m13 2h0m17-2h0m5 0h0m19 0h0m2 0h0m6 2h0m67 0h0m-129 4h0m45-2h0m16 1h0m4 0h0m2 1h0m10-1h0m15 1h0m-103 3h0m25-2h0m4 1h0m4 1h0m19-1h0m9-2h0m23 2h0m6 0h0m-47 4h0m12-1h0m51 0h0m-84 2h0m34 2h0m6-2h0m22 2h0m7-1h0m9 2h0m11-1h0m35-2h0m-85 4h0m20 1h0m7 1h0m76 0h0m-145 3h0m2 0h0m4 1h0m9-1h0m8 0h0m19 0h0m12 0h0m4-2h0m3 1h0m5 1h0m9-1h0m6 1h0m5 1h0m13-3h0m31 3h0m-130 3h0m19-1h0m5-1h0m17 0h0m22 1h0m-42 4h0m4-2h0m12 2h0m16-2h0m16 2h0m12-1h0m9-1h0m-92 3h0m11 3h0m11-3h0m21 1h0m7 2h0m3-1h0m64-2h0m3 1h0m-132 2h0m30 2h0m5-2h0m9 3h0m14-1h0m24-1h0m21 2h0m11-1h0m-93 3h0m25 1h0m8-2h0m16 1h0m67 1h0m-130 2h0m11 0h0m54 0h0m7 0h0m15-1h0m-74 3h0m14 1h0m5 1h0m14 0h0m13-1h0m17 2h0m1-1h0m32-1h0m5 1h0m19-1h0m19 2h0m-118 3h0m8 1h0m64-1h0m-122 2h0m45 0h0m6 2h0m5-1h0m3 0h0m11 1h0m7-1h0m17 1h0m8-3h0m40 3h0m-216 2h0m95 1h0m31-2h0m14 2h0m37 0h0m37 1h0m-123 0h0m16 1h0m11-1h0m4 2h0m6-2h0m5 3h0m5 0h0m-38 1h0m4 1h0m4-1h0m7 0h0m4 1h0m11 0h0m20-1h0m5 1h0m13-1h0m23-1h0m-58 6h0m14-2h0m11 1h0m1-1h0m5 0h0m27 0h0m8 1h0m25 0h0m19 0h0m-203 4h0m48-2h0m28 3h0m17-2h0m12 2h0m48 0h0m36-2h0m-175 6h0m34-2h0m53 2h0m4-3h0m30 1h0m9 0h0m49 2h0m-147 1h0m10-1h0m3 2h0m17 0h0m4-1h0m2 1h0m38 1h0m28-1h0m15 0h0m-92 4h0m38-1h0m88-1h0m-70 5h0m65 0h0m-188 4h0m21 0h0m20-2h0m11 1h0m19 1h0m2-2h0m26-1h0m15 2h0m15-2h0m11 1h0m19 0h0m4-1h0m18 3h0m-134 2h0m25-1h0m14 0h0m26 0h0m-132 5h0m22 0h0m22-3h0m31 2h0m1 0h0m5-1h0m15 0h0m44 2h0m5-2h0m24 1h0m28 2h0m9-3h0m-147 4h0m20 0h0m16 1h0m4 0h0m26 0h0m27-1h0m60 2h0m-217 2h0m60 0h0m28 2h0m3-3h0m11-1h0m5 3h0m22-2h0m21 1h0m14 0h0m-145 2h0m19 0h0m7 2h0m33-2h0m8 2h0m4 1h0m15-2h0m14 2h0m5 0h0m23-2h0m18 1h0m-138 3h0m39 0h0m3 1h0m13-2h0m10 0h0m51 0h0m22-1h0m35 3h0m16-3h0m-195 5h0m18-1h0m38 2h0m4-2h0m35 0h0m24 2h0m15 0h0m-145 1h0m54 3h0m3 0h0m4-2h0m15-1h0m7 2h0m35-1h0m4 1h0m44 0h0m37-2h0m-153 3h0m25 0h0m-47 6h0m87 0h0m-95 4h0m7-2h0m17 1h0m14 1h0m12-1h0m28 1h0m16-2h0m5 0h0m27-1h0m3 2h0m42 0h0m-143 2h0m6 0h0m83 0h0m15 1h0m3-1h0m-116 5h0m46-1h0m8 0h0m28 2h0m8-3h0m21 1h0m39 0h0m-141 4h0m45 0h0m31 0h0m53-1h0m13 2h0m2-2h0m-136 2h0m14 3h0m5-1h0m6 0h0m13 2h0m3-3h0m54 2h0m38 0h0m-164 2h0m37 0h0m15 1h0m25 1h0m5-2h0m7 1h0m12 0h0m24-1h0m21 1h0m-94 2h0m6 1h0m18-1h0m50 1h0m-99 5h0m46 0h0m5-1h0m9 0h0m13 0h0m17 0h0m17 1h0m-72 1h0m6 2h0m5-2h0m62-1h0m16 3h0m-114 3h0m15-2h0m10 1h0m35 1h0m29 0h0m5 1h0m-73 1h0m12-1h0m2 0h0m9 3h0m6-2h0m10 1h0m3-2h0m8 0h0m3 3h0m8 0h0m5-1h0m3-1h0m16 1h0m-111 2h0m13 0h0m2 1h0m8 1h0m16 0h0m17 0h0m15 0h0m20-3h0m3 1h0m6 0h0m15 2h0m-122 1h0m8 0h0m56 1h0m6-1h0m12 0h0m20 1h0m7 2h0m-93 1h0m28 1h0m7-1h0m44-1h0m6 1h0m-72 3h0m3-1h0m9 3h0m16-3h0m4 2h0m25 2h0m6 0h0m7 0h0m-90 1h0m9-1h0m13 1h0m32 1h0m5 0h0m5 0h0m15 1h0m5-1h0m4 1h0m4-1h0m-45 2h0m10 0h0m20 2h0m-51 2h0m14 1h0m45-3h0m-236-115h0" stroke="#f8eb6e" stroke-width="4" stroke-linecap="round" fill="none"/>
<path transform="scale(.5)" d="M163 17h0m18 6h0m6 1h0m-32 1h0m13 1h0m11 1h0m5-1h0m-31 4h0m11-2h0m23 2h0m3 1h0m-95 3h0m44 0h0m13-1h0m4 0h0m8 0h0m10 1h0m2-3h0m7 3h0m5-3h0m-85 5h0m9-2h0m7 3h0m9-2h0m8 2h0m3 0h0m3 0h0m5-1h0m10 1h0m8-3h0m13 2h0m4 0h0m3 0h0m5-1h0m5 1h0m-96 5h0m9-2h0m6-1h0m2 1h0m11-1h0m2 1h0m4-1h0m9 2h0m5 1h0m8-1h0m6 0h0m5 0h0m0 1h0m9-2h0m13 0h0m2 2h0m-112 3h0m9-2h0m11-1h0m8 2h0m13 0h0m13 0h0m13-2h0m8 0h0m14 2h0m9-1h0m7 2h0m9 0h0m-111 2h0m34-1h0m3 1h0m2 0h0m5 1h0m7 0h0m7 0h0m1 0h0m10-3h0m7 1h0m2 1h0m7 0h0m7 1h0m4-1h0m6-1h0m-95 6h0m27-2h0m5 1h0m18 0h0m9 0h0m7-2h0m6 1h0m11 1h0m7 1h0m-84 1h0m6 1h0m7-1h0m2 1h0m6 1h0m4-2h0m6 0h0m5 2h0m23 0h0m16 0h0m8-2h0m3 1h0m-87 5h0m4-1h0m10-2h0m3 2h0m5-2h0m3 0h0m4 0h0m8 0h0m8 0h0m24 0h0m13 0h0m9 2h0m12 0h0m4 0h0m-112 2h0m3-1h0m12 3h0m3-1h0m14 0h0m11-2h0m9 3h0m6-2h0m3-1h0m18 1h0m7 0h0m2 2h0m15 0h0m12-1h0m-115 4h0m4-3h0m18 0h0m9 1h0m5 2h0m4-2h0m2 1h0m9 1h0m6 0h0m9 0h0m16-1h0m22 1h0m9-2h0m4 1h0m7 1h0m-121 2h0m16 1h0m3 0h0m4 1h0m4-2h0m19-1h0m2 1h0m13 1h0m4-2h0m7 1h0m12 1h0m27-2h0m4 1h0m8 1h0m-122 4h0m8-3h0m3 1h0m3 1h0m30 1h0m16-3h0m8 2h0m9 1h0m13-3h0m8 1h0m8 2h0m8-3h0m7 0h0m-113 5h0m7 0h0m1-2h0m14 1h0m6 1h0m5-1h0m3 0h0m14 0h0m4 0h0m5 0h0m10 0h0m8 1h0m7 2h0m22-2h0m21-1h0m-126 5h0m7-1h0m4-1h0m7 1h0m4 2h0m3-1h0m4 1h0m14 0h0m11-1h0m24 0h0m5-1h0m5 1h0m40 0h0m-150 2h0m7 3h0m15-3h0m17 1h0m4-1h0m5 1h0m10 1h0m6-1h0m6 0h0m4 1h0m4-2h0m26 1h0m15-1h0m-112 4h0m5 1h0m5-2h0m5 0h0m6 1h0m19 0h0m7 1h0m11 0h0m7-1h0m2 1h0m7-1h0m6 1h0m6 0h0m15-2h0m7 2h0m28 0h0m14 1h0m-147 1h0m14 1h0m20 1h0m15-2h0m4 2h0m3-2h0m4-1h0m6 1h0m7 1h0m5-1h0m58 0h0m10 1h0m-147 2h0m16 2h0m4 0h0m4-2h0m10 1h0m8 0h0m4-1h0m3-1h0m8 3h0m6-1h0m11 1h0m9-1h0m22-1h0m3 0h0m9-1h0m26 2h0m-145 3h0m7 0h0m14 0h0m5-1h0m8 2h0m14-2h0m26 1h0m8 0h0m10-1h0m12 0h0m40 1h0m9 2h0m-152 2h0m9 1h0m8 0h0m4-3h0m4 1h0m5 1h0m13 1h0m17 0h0m20 0h0m1-1h0m44-2h0m9 2h0m-130 3h0m17 1h0m8 1h0m16-3h0m9 2h0m11-2h0m5 1h0m5 2h0m35-1h0m33 0h0m-146 1h0m12 3h0m8-3h0m4 1h0m3 1h0m5-1h0m7 0h0m7 1h0m39 1h0m16-3h0m9 3h0m4-2h0m-122 4h0m18-1h0m7 1h0m12 0h0m13 1h0m2-1h0m6 1h0m8-1h0m10 0h0m5 1h0m7-3h0m12 1h0m8 2h0m30 0h0m19-1h0m4 0h0m-152 5h0m7-1h0m13 0h0m4 0h0m2-1h0m14 1h0m7-1h0m8 1h0m11 0h0m3-2h0m5 2h0m10-1h0m32-1h0m-110 5h0m8 0h0m2 0h0m3 1h0m22-3h0m5 1h0m5 0h0m5-1h0m5 1h0m9-1h0m13 0h0m36 2h0m-106 2h0m11 1h0m19 0h0m2 1h0m10 0h0m5 0h0m39-2h0m-101 5h0m8-1h0m3-1h0m3 2h0m6 1h0m8-1h0m2-2h0m4 1h0m11 0h0m8 2h0m4-2h0m10-1h0m1 1h0m33 0h0m19-1h0m-117 5h0m3 0h0m4-1h0m11-1h0m2 2h0m25 0h0m8 1h0m19-3h0m3 2h0m10-2h0m10 0h0m-104 6h0m6-2h0m7 2h0m9 0h0m2 0h0m16 0h0m3 1h0m13-1h0m3-2h0m16 0h0m10 1h0m3-2h0m7 3h0m5-1h0m1-1h0m17 0h0m4 1h0m40 1h0m-156 3h0m4 0h0m6 1h0m4 0h0m3-1h0m5 0h0m4 1h0m2-2h0m4 1h0m10-1h0m1-1h0m5 1h0m5 2h0m3 0h0m23-1h0m6 0h0m6 0h0m9-1h0m3-1h0m19 0h0m13 1h0m-129 3h0m9 0h0m16 2h0m6 0h0m10-1h0m4-2h0m13 3h0m6-3h0m21 0h0m22 2h0m15 1h0m14-2h0m-144 5h0m11 1h0m4-3h0m5 1h0m3-1h0m2 0h0m15 2h0m7 0h0m10 0h0m16-2h0m4 1h0m19 0h0m-138 4h0m72 0h0m4 1h0m4-2h0m1 2h0m4-3h0m4 3h0m16-1h0m3-1h0m13 2h0m18-1h0m17 1h0m29-1h0m-127 3h0m13 0h0m8 1h0m13 0h0m6 0h0m3 1h0m17-2h0m10-2h0m12 3h0m13-1h0m-100 3h0m5 2h0m6-2h0m11 0h0m15-1h0m3 2h0m14 0h0m27 0h0m64-1h0m-153 5h0m9-2h0m3-1h0m5 2h0m3-1h0m19 1h0m5 1h0m2-1h0m8 0h0m10 0h0m2 1h0m5 0h0m3-1h0m5 1h0m5 0h0m22-1h0m2 0h0m-109 2h0m4 1h0m13-1h0m4 0h0m7 0h0m1 3h0m19-2h0m15-1h0m6 3h0m4-2h0m7 0h0m22-1h0m34 0h0m12 2h0m-155 1h0m5 2h0m9 1h0m6-3h0m13 2h0m3 0h0m16-1h0m8 2h0m16-1h0m4 1h0m13-3h0m-129 3h0m38 1h0m5-1h0m7 4h0m4-2h0m3-1h0m6-1h0m1 2h0m6 0h0m2 0h0m11-1h0m1 2h0m7-1h0m5 1h0m14-1h0m3 0h0m31-1h0m3 2h0m46-3h0m-196 7h0m58-1h0m17 0h0m15-2h0m5 0h0m4 2h0m2-1h0m9 0h0m22-1h0m9 1h0m14 0h0m7 0h0m-171 4h0m26 0h0m38-2h0m22 1h0m5 1h0m8-1h0m7 2h0m10-1h0m26 0h0m18-1h0m2 0h0m-116 3h0m3 0h0m9 1h0m2 1h0m4-2h0m5 2h0m3-1h0m2 0h0m7 0h0m1-2h0m23 3h0m10-1h0m6-1h0m8 2h0m6-1h0m-124 4h0m31 0h0m9-1h0m5 0h0m3 2h0m4-1h0m2 0h0m13-1h0m9 1h0m48 0h0m37 0h0m37 1h0m9-2h0m-200 5h0m30-3h0m27 3h0m6-1h0m4 0h0m5 0h0m8-1h0m8 0h0m6-1h0m14 2h0m28 1h0m22-3h0m4 1h0m33 1h0m-204 2h0m27 1h0m34 1h0m5 0h0m2 1h0m9-1h0m6-1h0m3 0h0m14 0h0m6 0h0m20-1h0m4 0h0m13 1h0m63 1h0m-232 4h0m69 0h0m5-3h0m11 2h0m3-2h0m9 0h0m9 0h0m7 1h0m4 2h0m4-1h0m2-2h0m7 1h0m6 0h0m3 1h0m11-1h0m25 2h0m11 0h0m5-2h0m43 1h0m-231 3h0m33-1h0m11 0h0m10 2h0m19 0h0m11 1h0m12-4h0m8 3h0m14-2h0m5 0h0m7 2h0m14-2h0m3-1h0m27 3h0m27-1h0m-211 2h0m1 0h0m24 3h0m29-2h0m15-1h0m8 2h0m3-2h0m5 0h0m10 2h0m5 0h0m5 1h0m1 0h0m9-2h0m5 0h0m17 1h0m4-1h0m4 0h0m20 0h0m9-1h0m58 0h0m4 3h0m4-3h0m-217 5h0m48 0h0m10 0h0m6 0h0m4 0h0m7-1h0m5-1h0m7 0h0m2 1h0m59 1h0m28 1h0m-195 1h0m2 2h0m23 1h0m17-3h0m4 2h0m14-2h0m3 0h0m5 3h0m3-1h0m9-1h0m17-1h0m4 3h0m2-4h0m4 0h0m6 0h0m6 2h0m32 0h0m3-1h0m3 1h0m5-2h0m22 2h0m6 1h0m-192 3h0m3-1h0m10-1h0m19 1h0m4 1h0m29-1h0m9 1h0m6-1h0m4 1h0m8-2h0m19 1h0m13 1h0m17-1h0m14 0h0m4 2h0m12-2h0m2 1h0m3 0h0m6 1h0m22-3h0m5 3h0m-204 0h0m24 1h0m3 1h0m12-2h0m11 3h0m5-1h0m2-1h0m5 2h0m4-1h0m4 0h0m5-2h0m1 0h0m4 2h0m3 1h0m23-1h0m10 0h0m3-1h0m10 2h0m59 0h0m24 0h0m-185 1h0m4 0h0m22 3h0m7 0h0m8-1h0m6-1h0m12 1h0m4-1h0m9 1h0m14-1h0m4 0h0m12 2h0m6-3h0m31 0h0m47 3h0m9-2h0m-226 3h0m2 2h0m21-2h0m2 1h0m4-1h0m16 0h0m24 1h0m4-2h0m4 2h0m4-1h0m12 2h0m4-3h0m7 2h0m3 1h0m10-3h0m4 0h0m7 2h0m9-2h0m11 1h0m4 0h0m7 0h0m29 2h0m-188 0h0m20 1h0m6 3h0m22-1h0m7 0h0m20-1h0m4-1h0m11 2h0m12 0h0m5-1h0m4 0h0m2 0h0m4 1h0m5-1h0m13 1h0m9-1h0m6-1h0m16-1h0m18 2h0m39 1h0m12 0h0m-223 4h0m2-1h0m16-2h0m21 1h0m6 0h0m5 2h0m4-2h0m4 1h0m2 0h0m6 0h0m12-1h0m15 0h0m5 1h0m14-2h0m5 3h0m4 0h0m6-3h0m31 1h0m3-1h0m5 0h0m5 2h0m34 1h0m7-1h0m5 0h0m3 0h0m-226 1h0m3 1h0m9 2h0m8-1h0m11-2h0m7 1h0m10 0h0m7 0h0m7 0h0m3 1h0m6 1h0m2-2h0m2 2h0m15-3h0m3 3h0m2-3h0m22 2h0m6 0h0m3 0h0m4-2h0m54 3h0m-178 3h0m10-2h0m4 1h0m12 1h0m7-1h0m5-1h0m5 0h0m5 0h0m6 2h0m8 0h0m4-2h0m2 1h0m11 1h0m19-3h0m9 1h0m4 2h0m4-2h0m9 0h0m4 3h0m3-2h0m23 2h0m33-2h0m16-1h0m5 0h0m17-1h0m-227 6h0m3-1h0m5 0h0m7 0h0m2 0h0m6 2h0m15 0h0m10-2h0m11 1h0m11-1h0m7-1h0m3 1h0m10-1h0m3 1h0m16-1h0m2 3h0m5-1h0m7 0h0m6-1h0m7 2h0m28-1h0m10-1h0m6-1h0m24 2h0m-204 5h0m15-1h0m7-3h0m5 0h0m5 3h0m4-1h0m3 1h0m20 0h0m5-3h0m11 1h0m15-1h0m4 1h0m13-1h0m5 0h0m9 1h0m13 0h0m3 2h0m9 0h0m34-1h0m13-1h0m2 0h0m22-1h0m1 2h0m-213 4h0m10 1h0m5-3h0m7 0h0m4 0h0m7 3h0m4-1h0m5 0h0m4 0h0m7-2h0m5 1h0m4 2h0m6 0h0m9-2h0m13-1h0m10 0h0m11 3h0m8-3h0m3 1h0m3 0h0m5 1h0m53 0h0m-175 2h0m4 2h0m5 0h0m13-1h0m22-1h0m25 1h0m13 0h0m2 0h0m36 0h0m37 0h0m13 1h0m21 0h0m3-2h0m12 0h0m-208 4h0m17 0h0m3 0h0m2 1h0m8-1h0m15-1h0m18 1h0m4 0h0m3-1h0m19 1h0m17 0h0m5 0h0m1-2h0m4 3h0m6-1h0m7 0h0m7-2h0m42 0h0m19 1h0m14 2h0m-212 3h0m5 1h0m4-3h0m12 1h0m10-1h0m17 3h0m8 0h0m6-2h0m46 1h0m43-1h0m4 2h0m18-3h0m21 2h0m4 0h0m4 1h0m-189 3h0m6 0h0m14-1h0m7-1h0m2 0h0m32 2h0m8-2h0m11 2h0m7-1h0m3-1h0m2 1h0m6 1h0m4-3h0m13 2h0m22-2h0m-149 4h0m4 0h0m5 1h0m13-1h0m16 2h0m8-1h0m1 0h0m11 1h0m26 0h0m10-2h0m4 2h0m8 0h0m14-2h0m21 1h0m26 0h0m7-1h0m5 1h0m27 2h0m1-2h0m-199 5h0m31-1h0m14-1h0m17 0h0m2-1h0m25 0h0m52 1h0m3-1h0m6 3h0m30 0h0m3-3h0m12 2h0m-193 2h0m28 1h0m5-1h0m18 2h0m10-1h0m3-1h0m9 2h0m17-2h0m6 0h0m16-1h0m13 2h0m14 1h0m50-2h0m6 2h0m-196 1h0m7 3h0m22-2h0m5 0h0m9 0h0m13 0h0m5 1h0m3-2h0m9 1h0m27 2h0m23-1h0m4-1h0m8 1h0m10-2h0m4 0h0m5 0h0m12 3h0m13-3h0m15 1h0m-183 4h0m21-1h0m5 2h0m8-1h0m3 0h0m11-1h0m15 0h0m33 1h0m47-2h0m12 2h0m25-1h0m-184 5h0m7-1h0m16 1h0m4-1h0m22 0h0m20 1h0m6-1h0m18 0h0m10 0h0m12 1h0m18-1h0m22 0h0m7 1h0m-152 1h0m6 1h0m49-1h0m22 0h0m4 0h0m14 3h0m10-3h0m13 1h0m2-1h0m4 2h0m9-1h0m23 2h0m-161 1h0m8 1h0m1-1h0m12-1h0m20 1h0m17 2h0m30-2h0m31 2h0m3-2h0m5 0h0m9 0h0m24 1h0m8-1h0m-158 3h0m7 1h0m13 1h0m16-1h0m4 1h0m26-2h0m19 2h0m2-1h0m9 2h0m26-2h0m25 1h0m-141 2h0m8 0h0m5 1h0m3 1h0m26-2h0m26 1h0m19 0h0m56-1h0m5 2h0m7 0h0m-160 2h0m6 1h0m13 0h0m6-1h0m9 0h0m15 1h0m11-2h0m8 0h0m2 1h0m16 1h0m4-2h0m4 2h0m9-3h0m6 1h0m12 1h0m11 0h0m7-1h0m7 0h0m5 2h0m6-3h0m-153 6h0m26-1h0m21-1h0m2 3h0m3-3h0m6 2h0m12 1h0m15-2h0m4 1h0m31 0h0m12 0h0m7-1h0m8 0h0m-147 2h0m8 2h0m20 1h0m21-2h0m10-1h0m21 1h0m25-1h0m12 3h0m-82 1h0m29 2h0m13 1h0m12-3h0m11 0h0m7 2h0m6 1h0m4-2h0m11 1h0m2-1h0m4 0h0m9-1h0m5 2h0m-136 4h0m5-3h0m4 0h0m2 3h0m8-2h0m4 2h0m6-1h0m5 0h0m25-1h0m58 1h0m13 0h0m2 1h0m-133 1h0m11 2h0m37-1h0m11 1h0m8-1h0m14 1h0m10-1h0m10-1h0m19 2h0m6-1h0m-114 4h0m13-2h0m6 0h0m5-1h0m5 4h0m4-1h0m8 0h0m6 1h0m10-1h0m7-1h0m12-2h0m7 2h0m11 1h0m-96 2h0m9 0h0m7 2h0m56-1h0m7 0h0m6 0h0m17-1h0m5 2h0m-92 1h0m2 2h0m7 0h0m12-1h0m8 1h0m2-2h0m3 1h0m13-1h0m13 0h0m17 0h0m13 2h0m-83 2h0m21 1h0m6 1h0m13-2h0m20 1h0m-72 3h0m4 0h0m4 0h0m17 0h0m4-2h0m4 1h0m18-1h0m8 2h0m3 1h0m8 0h0m8-3h0m-66 4h0m4-1h0m16 2h0m15-1h0m29 0h0m-235-202h0m-3 12h0m-17 1h0m9 2h0m18 0h0m-13 3h0m6-1h0m7 2h0m-14 7h0m4 0h0m-11 4h0m21 1h0m-34 6h0m2-2h0m6 1h0m11 0h0m24 4h0m-32 3h0m6-1h0m-11 5h0m26 0h0m-22 1h0m4 1h0m-13 3h0m7 1h0m5-3h0m20 1h0m3 2h0m-26 1h0m8 1h0m3 1h0m24-2h0m-43 4h0m28 1h0m8-1h0m8 1h0m3-1h0m-53 3h0m9 0h0m-8 2h0m4 0h0m7 1h0m39-1h0m4 3h0m-59 1h0m7 1h0m13 0h0m16 1h0m15-2h0m7-1h0m-24 4h0m23 0h0m-40 2h0m31 3h0m-37 3h0m2 5h0m15 0h0m11 1h0m15-1h0m-37 13h0" stroke="#fce558" stroke-width="4" stroke-linecap="round" fill="none"/>
<path transform="scale(.5)" d="M152 2h0m-34 8h0m25 0h0m2 0h0m11-3h0m2 3h0m4-2h0m-28 5h0m11 0h0m14-1h0m6 1h0m-19 1h0m9 3h0m-4 1h0m14 1h0m5 1h0m6-2h0m7 3h0m-80 0h0m4 2h0m4 1h0m11 0h0m4 0h0m12 0h0m13-2h0m4 1h0m7 0h0m-72 2h0m18 2h0m12-2h0m20 2h0m4-2h0m4-1h0m4 4h0m11-3h0m10 2h0m-68 1h0m1 1h0m21-1h0m8 0h0m8 2h0m6-2h0m11 1h0m-84 5h0m3-1h0m8-2h0m5 2h0m6-1h0m3 0h0m5 0h0m5 2h0m2 0h0m10-2h0m2 2h0m5-1h0m19 1h0m11-1h0m-79 3h0m6 0h0m6 2h0m3-3h0m11 2h0m7-1h0m8 0h0m29 0h0m-61 4h0m4 1h0m8-2h0m35 2h0m-70 1h0m14-1h0m10 2h0m6-1h0m8 0h0m7 1h0m13 0h0m9 1h0m6-2h0m3 2h0m7-2h0m-86 3h0m7 1h0m2-1h0m5 2h0m8-1h0m5 1h0m7-2h0m69 0h0m-102 5h0m5 1h0m7-2h0m2 0h0m4 0h0m9 2h0m31-1h0m3-1h0m-62 5h0m8-2h0m113 0h0m-118 3h0m18 0h0m93 2h0m-110 1h0m16 3h0m14-2h0m62 1h0m-101 1h0m9 0h0m7 0h0m6 2h0m17 1h0m2 1h0m36 0h0m-80 0h0m18 0h0m10 3h0m41 0h0m3-1h0m-55 3h0m7 1h0m4-1h0m12 1h0m15 0h0m-49 1h0m5 0h0m8 2h0m8-2h0m10 2h0m64 0h0m-98 3h0m17 0h0m5-1h0m3 1h0m4-1h0m105 0h0m-117 5h0m-25 3h0m24 1h0m6-1h0m7 0h0m93-2h0m-130 6h0m29-2h0m2 2h0m4-1h0m8 0h0m-40 3h0m13 1h0m6-3h0m2 3h0m20-1h0m5 1h0m26-1h0m61 1h0m-122 4h0m15-1h0m10-1h0m10 0h0m47-1h0m9 2h0m-92 2h0m10 1h0m6-2h0m13 2h0m83-2h0m33 2h0m19 0h0m-153 2h0m6 1h0m18 1h0m8-2h0m6 1h0m-42 4h0m20-1h0m10-1h0m-33 3h0m4 1h0m7 2h0m9-2h0m-8 3h0m9 3h0m54-3h0m-75 6h0m16-2h0m3 0h0m92 1h0m-115 4h0m9-2h0m12 1h0m3-1h0m-20 5h0m8-1h0m1 1h0m10-2h0m88 1h0m-133 4h0m13-1h0m10 2h0m5-3h0m3 0h0m2 1h0m7 0h0m31 0h0m8 1h0m22 0h0m30-2h0m39 2h0m-164 2h0m4 0h0m2 0h0m16 0h0m4 1h0m12 0h0m-36 4h0m24-2h0m2 1h0m5 1h0m-46 4h0m10-3h0m1 2h0m19 1h0m4-3h0m5 2h0m10-1h0m1 1h0m56-1h0m15 2h0m-126 2h0m10 1h0m33 0h0m12-2h0m30 0h0m-80 5h0m8 1h0m14-1h0m30 0h0m8-1h0m62 1h0m-130 4h0m4-1h0m10-2h0m20 1h0m3 0h0m10 1h0m4-1h0m6-1h0m5 0h0m11 4h0m71-3h0m10 1h0m-150 2h0m5 2h0m11 1h0m16-3h0m14 2h0m10 0h0m23 0h0m32-1h0m21 1h0m18 0h0m33-2h0m-191 6h0m6-2h0m9 1h0m6 1h0m8-1h0m8-1h0m6 2h0m3-1h0m9-1h0m-63 5h0m14-2h0m4 0h0m7 0h0m2 1h0m15 1h0m4-1h0m2 1h0m13 0h0m2-3h0m43 1h0m18 0h0m32 1h0m-153 3h0m12-1h0m3 3h0m5-1h0m4-1h0m3 2h0m8-3h0m9 3h0m2-1h0m10 0h0m12 1h0m-66 0h0m13 1h0m15 2h0m3-1h0m16-2h0m5 2h0m15-1h0m43 0h0m46 0h0m-161 4h0m3 1h0m5 1h0m7-3h0m3 2h0m15 0h0m3-1h0m6-1h0m3 1h0m5 0h0m5-1h0m4 1h0m2-1h0m4 0h0m6 2h0m-77 3h0m7-2h0m5 2h0m2 1h0m10-3h0m4 0h0m21 1h0m4 1h0m4 0h0m7 0h0m14 0h0m21 1h0m-102 1h0m3-1h0m10 3h0m12-2h0m6 2h0m13-1h0m5 1h0m7 1h0m6-1h0m12 1h0m-77 2h0m10-2h0m3 3h0m4-1h0m7-1h0m21 2h0m3-1h0m4 0h0m4-2h0m17 1h0m24 1h0m72 1h0m-159 3h0m3 0h0m5-2h0m6 0h0m2 1h0m13 0h0m7-1h0m2 1h0m6 0h0m7-1h0m4 1h0m13 1h0m3 0h0m79-2h0m-161 4h0m3 0h0m5-1h0m4 0h0m1 0h0m12 3h0m14-2h0m12-1h0m2 1h0m4 1h0m8-2h0m7 2h0m42-1h0m-115 2h0m4 2h0m20 1h0m3-1h0m6-1h0m10 0h0m6-1h0m3 1h0m4 2h0m2-1h0m4 0h0m6-2h0m6 0h0m12 2h0m23-1h0m-95 4h0m10 0h0m11-1h0m3 2h0m4-2h0m8 1h0m6-1h0m13-1h0m4 3h0m5 0h0m15 0h0m-85 3h0m10 0h0m2-1h0m5 0h0m10 1h0m6-2h0m4 0h0m1 1h0m7-1h0m6 2h0m6 0h0m3-1h0m7 1h0m15-1h0m6-1h0m-93 3h0m7 1h0m8 0h0m4 0h0m9 1h0m7-1h0m12 0h0m5 2h0m8-1h0m6-1h0m71-1h0m3 1h0m-129 5h0m2-2h0m6 0h0m4 1h0m10 2h0m3-3h0m4 2h0m18-1h0m1-1h0m33 2h0m-79 2h0m11 1h0m4-2h0m4 2h0m14-2h0m13 3h0m12-2h0m6 1h0m-74 1h0m6 2h0m4 1h0m29 0h0m10-2h0m95 1h0m-134 3h0m3 1h0m7 0h0m10-1h0m11 1h0m7-1h0m6 2h0m30-2h0m23 0h0m18 0h0m17 0h0m-135 4h0m9 1h0m3-2h0m22 0h0m12-1h0m9 2h0m4 0h0m98 0h0m10 0h0m23-2h0m18 2h0m-210 3h0m3-2h0m4 4h0m4-3h0m13 0h0m2 0h0m63 2h0m-88 4h0m39 0h0m37-2h0m-53 3h0m2-1h0m10 3h0m5-1h0m6 0h0m36 1h0m29-3h0m9 3h0m-120 1h0m8 1h0m45-1h0m112 1h0m-151 4h0m23 1h0m14-3h0m8 3h0m26 1h0m101 4h0m-176 4h0m4 0h0m23-1h0m14 2h0m98 0h0m-129 3h0m8-2h0m28 0h0m16 0h0m129 2h0m-168 1h0m77 2h0m8-1h0m31 1h0m-79 4h0m62-2h0m57 2h0m-160 1h0m65 3h0m-46 1h0m67 2h0m-82 2h0m76 1h0m38 0h0m46-2h0m-73 6h0m21-2h0m21 2h0m32-3h0m16 1h0m-122 5h0m70-1h0m25-1h0m-97 2h0m4 3h0m22 0h0m5 0h0m4-1h0m80 0h0m-169 3h0m34 3h0m86 4h0m-112 3h0m32 2h0m44-1h0m46 0h0m42-2h0m-149 6h0m102 3h0m10 0h0m-95 7h0m89 2h0m-39 2h0m17 1h0m-14 4h0m-11 4h0m10-1h0m37-1h0m-78 8h0m15 1h0m-3 4h0m60 1h0m-236-205h0m-9 6h0m3-2h0m7 2h0m-9 4h0m2-1h0m4-1h0m2 1h0m6 0h0m-20 2h0m2-1h0m5 1h0m7-1h0m4 2h0m3-2h0m-20 3h0m7 2h0m2 0h0m8-2h0m-7 5h0m4 0h0m4-1h0m-14 5h0m5-2h0m6 1h0m8 0h0m-25 4h0m8 0h0m6-3h0m12 2h0m-32 3h0m5-2h0m2 3h0m6-3h0m3 0h0m7 1h0m2 0h0m5 1h0m-30 3h0m3 1h0m4-2h0m17 2h0m3-2h0m4 1h0m4 1h0m-29 2h0m12 0h0m3 1h0m9-2h0m7 2h0m-34 3h0m2 1h0m6-3h0m1 2h0m7 0h0m12-2h0m4 0h0m5 0h0m-29 4h0m3 0h0m8-1h0m3 1h0m3 0h0m5 1h0m5 0h0m4 1h0m-41 2h0m4 0h0m3-2h0m5 0h0m2 2h0m9-2h0m4 1h0m4 1h0m5 1h0m-39 0h0m1 1h0m6 1h0m6-1h0m8-1h0m3 2h0m7 0h0m5-1h0m2-1h0m5 3h0m2 0h0m4-1h0m-47 2h0m6 0h0m8 0h0m2 2h0m6-1h0m3-2h0m2 3h0m12-2h0m2 1h0m11 1h0m-53 1h0m0 1h0m5 0h0m10-1h0m10-1h0m3 0h0m11 2h0m1-1h0m14 0h0m-52 5h0m11-1h0m4 0h0m5 1h0m22-1h0m10-1h0m-57 4h0m5-1h0m3 1h0m7 0h0m12 1h0m3-1h0m5 1h0m1-1h0m4 0h0m11-1h0m3 0h0m-54 6h0m5-2h0m6 1h0m4-1h0m4-1h0m2 1h0m5 1h0m16-2h0m11 0h0m3 2h0m-61 2h0m8 2h0m10-2h0m1-1h0m7 1h0m13-1h0m4 0h0m1 1h0m18-1h0m-63 3h0m13 2h0m20-2h0m9 2h0m2 0h0m4-2h0m5 2h0m-42 4h0m3-2h0m12 0h0m7 0h0m6 2h0m5-1h0m10 0h0m-55 3h0m6-1h0m6 0h0m5 2h0m6-2h0m6-1h0m3 3h0m6 0h0m7-2h0m4 0h0m4 1h0m-53 2h0m10 2h0m12-3h0m4 1h0m5-1h0m4 2h0m7-1h0m2 1h0m9-1h0m2 2h0m3-2h0m-51 4h0m11 1h0m1-1h0m7-2h0m1 3h0m4 0h0m3 0h0m4-3h0m5 0h0m4 2h0m5-1h0m4 1h0m4 1h0m-59 2h0m4-1h0m8 0h0m9 2h0m7-2h0m5 2h0m2 0h0m3-2h0m5 2h0m17-2h0m-53 4h0m9-1h0m2 2h0m6-1h0m7 1h0m14-2h0m3 1h0m7 0h0m4 0h0m-54 3h0m1 1h0m5-2h0m4 0h0m5 0h0m3 0h0m2 1h0m19-1h0m7 0h0m-37 5h0m1-1h0m4-1h0m4 1h0m2 0h0m5 1h0m-16 1h0m4 1h0m2 0h0m7-1h0m2 0h0m4 2h0m-14 2h0m4 1h0" stroke="#fcd74b" stroke-width="4" stroke-linecap="round" fill="none"/>
<path transform="scale(.5)" d="M130 3h0m4 0h0m6-1h0m4 0h0m10 2h0m-25 1h0m4-1h0m7 0h0m8 3h0m4-1h0m3-1h0m-29 4h0m5 0h0m3 1h0m15 0h0m19 0h0m-55 4h0m3-3h0m9 3h0m5-1h0m19 0h0m3-1h0m6 1h0m12-2h0m-61 4h0m1 1h0m10-2h0m3 3h0m3 0h0m6-1h0m4 0h0m-36 2h0m2 0h0m12 0h0m11 1h0m5-1h0m2 1h0m6 0h0m4 0h0m1-1h0m4 2h0m12-1h0m21-2h0m-87 5h0m2 0h0m20 2h0m15-2h0m14 1h0m28 1h0m-84 2h0m6 1h0m5-3h0m8 3h0m5-2h0m4-1h0m14 1h0m7-1h0m-56 6h0m2-2h0m6 0h0m2 2h0m6-1h0m3-1h0m11 2h0m9-2h0m10 3h0m7-3h0m9 1h0m-64 2h0m58 1h0m-56 4h0m-13 5h0m6-1h0m10 0h0m-13 4h0m70 2h0m10-1h0m-75 9h0m-21 1h0m7 0h0m8 2h0m3 0h0m23-1h0m48 1h0m-88 4h0m6-1h0m54 0h0m-66 3h0m3 0h0m9-1h0m6 1h0m13-2h0m22 2h0m-47 4h0m5-1h0m2 2h0m124-1h0m-135 3h0m3 1h0m5-2h0m4 2h0m-11 2h0m-4 4h0m10 0h0m2-2h0m5 2h0m23-2h0m-40 5h0m9 0h0m118 1h0m-123 1h0m13 2h0m4-1h0m-17 4h0m5-2h0m7 2h0m-11 2h0m-8 4h0m5 0h0m5-1h0m5 2h0m10 1h0m9 0h0m54-2h0m-89 3h0m10 0h0m4 1h0m21 0h0m-32 2h0m5 1h0m14 2h0m110-1h0m-132 2h0m6-1h0m10 1h0m3 1h0m10 0h0m2-1h0m11 2h0m-43 2h0m7-1h0m6 0h0m2 2h0m19-2h0m145 2h0m-176 3h0m2 0h0m10 0h0m3 1h0m4-2h0m2 0h0m-2 5h0m5-2h0m78 0h0m-102 5h0m5 0h0m5-2h0m19 2h0m-32 2h0m6 2h0m2-3h0m6 3h0m9-3h0m-23 5h0m2-1h0m13 1h0m-22 3h0m2-1h0m1 6h0m2-1h0m9 1h0m3 0h0m62-3h0m-60 5h0m37 1h0m-58 2h0m9 2h0m7-3h0m8 3h0m3-2h0m3 2h0m118 0h0m-158 1h0m21 0h0m3 1h0m2-1h0m13-1h0m4 0h0m-32 5h0m5-1h0m5 0h0m67 0h0m-93 5h0m17 1h0m15-3h0m3 1h0m13 1h0m5 1h0m8-2h0m21 1h0m-78 2h0m16 0h0m8 0h0m6 0h0m16 2h0m-52 0h0m27 3h0m2 0h0m21-1h0m90 2h0m30 0h0m-167 1h0m25 2h0m8-3h0m-41 5h0m6 1h0m6-2h0m9 2h0m21 0h0m3-2h0m142 2h0m-178 2h0m27 2h0m19 1h0m9-1h0m3 1h0m65 1h0m-133 3h0m7-2h0m3 1h0m39 2h0m-27 3h0m7-1h0m99 1h0m-138 4h0m5-1h0m133 0h0m-119 2h0m-10 5h0m27-2h0m-35 7h0m25-4h0m97 3h0m1 3h0m-121 2h0m51 2h0m-3 1h0m181 1h0m-226 11h0m71-1h0m15 18h0m-51 12h0m56 2h0m-70 9h0m25 0h0m138 5h0m-127 3h0m142 5h0m-56 3h0m43 3h0m-145 11h0m125 1h0m21 2h0m-36 7h0m-45 4h0m18 3h0m-50 15h0m-159-192h0m4 1h0m6 2h0m-13 9h0m-9 6h0m14 4h0m7 1h0m-4 1h0m13-1h0m-25 7h0m6 1h0m-13 4h0m23 0h0m2-1h0m-19 2h0m-11 5h0m3 1h0m21-3h0m16 3h0m-41 5h0m41 1h0m-18 2h0m13 0h0m3 0h0m-41 2h0m1 1h0m32 1h0m3-1h0m17 1h0m-53 3h0m39 1h0m-6 3h0m13 2h0m-45 6h0m41-2h0m-24 4h0m-14 3h0m-6 5h0m13 1h0m3 2h0m7-1h0m22 1h0m11-2h0m-23 11h0" stroke="#fabe41" stroke-width="4" stroke-linecap="round" fill="none"/>
<path transform="scale(.5)" d="M144 0h0m-9 7h0m3 4h0m2 2h0m9 4h0m-54 4h0m16-2h0m7 0h0m-44 19h0m-9 6h0m133 2h0m-109 11h0m20 2h0m5 0h0m75-1h0m-45 13h0m-86 2h0m123 4h0m-126 1h0m4 1h0m111 2h0m-104 4h0m86 0h0m35 2h0m-127 2h0m3 1h0m27 0h0m30 1h0m-17 1h0m-35 3h0m105 0h0m-126 4h0m21 0h0m77 5h0m-86 8h0m64 2h0m39 6h0m8 1h0m-71 3h0m17 1h0m93-1h0m-116 3h0m-4 9h0m57 0h0m-113 3h0m88 8h0m62 5h0m-67 3h0m-107 9h0m4 3h0m124 8h0m-100 2h0m37 1h0m-32 5h0m38-2h0m73 1h0m-98 19h0m87 4h0m-49 4h0m-18 6h0m3 1h0m11-2h0m79 1h0m-26 4h0m-54 12h0m-25 12h0m31 4h0m22-3h0m99 4h0m-175 7h0m16 1h0m80-2h0m-21 4h0m112 5h0m-89 2h0m17 4h0m60 3h0m-25 7h0m-21 16h0m-11 12h0m-5 1h0m-34 9h0m-191-188h0m-18 20h0m25 29h0m-9 2h0m-1 3h0m-27 14h0m51 1h0m-39 5h0m31-1h0" stroke="#f8a63d" stroke-width="4" stroke-linecap="round" fill="none"/>
<path transform="scale(.5)" d="M171 28h0m-73 9h0m55-2h0m-70 4h0m45 2h0m-27 10h0m60 0h0m-79 3h0m-26 4h0m92 10h0m-73 0h0m97 2h0m-77 7h0m63 0h0m-82 10h0m83 5h0m-34 5h0m19 1h0m6-1h0m-20 2h0m-30 8h0m-2 3h0m-51 4h0m48 1h0m-36 7h0m9 4h0m-14 8h0m1 25h0m84 1h0m-94 3h0m-39 6h0m41-2h0m109-1h0m-116 5h0m51 16h0m-81 22h0m43-2h0m12 4h0m2 5h0m-6 3h0m41 19h0m-58 11h0m155 9h0m-31 5h0m-6 3h0m-89 12h0m34 12h0m34-2h0m47 28h0m-249-186h0m-4 5h0m-14 6h0m15 9h0m21 17h0m-55 8h0m49 1h0m-49 3h0m18 4h0m10 0h0m24 17h0m-22 5h0m4 0h0" stroke="#f68e38" stroke-width="4" stroke-linecap="round" fill="none"/>
<path transform="scale(.5)" d="M107 19h0m12 3h0m-2 12h0m-15 14h0m9-2h0m-51 7h0m12 5h0m11 10h0m-11 7h0m27-2h0m-32 8h0m3 11h0m13 48h0m-73 46h0m182 3h0m-161 19h0m29 20h0m156 60h0m-279-126h0m17 7h0m-16 14h0m-8 5h0m13 3h0" stroke="#f1712f" stroke-width="4" stroke-linecap="round" fill="none"/>
<path transform="scale(.5)" d="M122 12h0m16 5h0m-37 8h0m-43 86h0" stroke="#eb5629" stroke-width="4" stroke-linecap="round" fill="none"/>
</g>
<g transform="translate(349 320.4)"><use href="#ua"/>
<path transform="scale(.5)" d="M130 17h0m17-2h0m9 2h0m9-1h0m-43 3h0m-14 9h0m30-4h0m11 0h0m29 1h0m-75 6h0m33 0h0m34-2h0m11 3h0m-7 3h0m13 0h0m-50 3h0m23 1h0m-61 5h0m99-3h0m-31 5h0m-16 7h0m46 1h0m-121 3h0m56-1h0m45 3h0m-112 5h0m156 0h0m-73 4h0m19-1h0m-89 2h0m64 1h0m53-1h0m11 1h0m-38 2h0m7 5h0m5-1h0m12-1h0m-124 4h0m23 2h0m3-2h0m85 0h0m14 1h0m-86 2h0m-56 5h0m42-2h0m9 2h0m82-1h0m3-1h0m3 1h0m-91 3h0m22 1h0m2 0h0m60-1h0m-77 4h0m-41 2h0m95 3h0m19-1h0m-131 2h0m60 2h0m56 3h0m15 0h0m-102 2h0m9 0h0m80 2h0m5-2h0m8 2h0m-21 2h0m-99 5h0m11-3h0m46 0h0m40 3h0m-45 3h0m36 1h0m-105 12h0m97-1h0m-61 4h0m37-1h0m14 1h0m11-2h0m6 0h0m3 1h0m-110 3h0m11 0h0m89 1h0m-59 3h0m57 1h0m6-1h0m-87 4h0m16 0h0m26-1h0m-42 5h0m23-1h0m9 1h0m10 0h0m13 0h0m15-1h0m8 1h0m2-1h0m4 0h0m-92 2h0m5 2h0m27-2h0m9 3h0m46-1h0m-106 2h0m2 1h0m58 0h0m14 0h0m26-1h0m-105 3h0m75 4h0m-87 6h0m43 0h0m19-3h0m40 2h0m-97 2h0m2 1h0m4-1h0m51 0h0m-62 5h0m29-3h0m10 2h0m6 1h0m7-1h0m45-2h0m-104 7h0m44 0h0m31-3h0m-20 6h0m-54 1h0m25 0h0m-17 3h0m9 2h0m-22 2h0m7 0h0m7 1h0m36-1h0m32 4h0m-74 3h0m8-1h0m26 14h0m3 12h0m-120-102h0m7-1h0m-5 8h0m1 2h0m2 4h0m-9 1h0m7 1h0m-1 2h0m12 13h0m7 3h0m-22 4h0m4-1h0m-1 5h0m2 3h0m-5 1h0m21 2h0m4 2h0m9 3h0m-39 4h0m30 1h0m15 3h0m-32 4h0m-24 5h0m10 1h0m22 0h0m-35 6h0m30 3h0m-21 8h0m-5 3h0m24 2h0" stroke="#eae7a0" stroke-width="4" stroke-linecap="round" fill="none"/>
<path transform="scale(.5)" d="M138 20h0m37-2h0m-49 16h0m16-3h0m23 20h0m13 7h0m32 13h0m3-2h0m3 2h0m9 0h0m-2 2h0m-13 2h0m11 1h0m7 2h0m-14 2h0m3 2h0m-48 1h0m15-1h0m20 1h0m9 2h0m19 0h0m-95 1h0m27 1h0m37-1h0m2 2h0m21-2h0m-26 3h0m5 0h0m16 3h0m-23 2h0m-134 2h0m51 2h0m85-2h0m4 1h0m-17 3h0m2 2h0m-5 3h0m2 0h0m0 3h0m-29 4h0m23-1h0m8 1h0m42-1h0m-51 3h0m3-1h0m5 1h0m6-2h0m3 0h0m32 3h0m-166 2h0m121 0h0m52 1h0m-61 3h0m5-1h0m3-1h0m3 2h0m15 1h0m-28 6h0m25-1h0m-52 5h0m30-1h0m13 1h0m-32 2h0m2-2h0m9 3h0m4 0h0m-123 3h0m70-2h0m46 3h0m13-3h0m11 1h0m48 1h0m-84 2h0m11 0h0m22 0h0m-49 5h0m12 0h0m12-2h0m-41 3h0m33 0h0m18 3h0m18-2h0m-103 5h0m44-2h0m21-1h0m10 2h0m25 1h0m-49 3h0m2-1h0m-52 5h0m35-1h0m6-2h0m0 3h0m18-2h0m97 2h0m-135 3h0m24-1h0m8-2h0m5 0h0m26 0h0m2 0h0m-121 5h0m61 2h0m19-1h0m6-1h0m-46 4h0m12-1h0m21 2h0m2-1h0m13 0h0m3 1h0m18 0h0m12-2h0m-58 5h0m-93 4h0m47-1h0m105 0h0m-150 4h0m12 0h0m4 0h0m17-2h0m10 2h0m18 0h0m3-2h0m6-1h0m15 1h0m7 2h0m14-3h0m8 1h0m4-1h0m4 0h0m34 3h0m-139 2h0m29 1h0m22-1h0m4-1h0m23 3h0m14-3h0m3 1h0m-64 4h0m11-2h0m34 3h0m9-1h0m19-1h0m-117 3h0m6 1h0m9-1h0m41 1h0m7 0h0m11 0h0m3 0h0m7-1h0m-97 3h0m3 0h0m1 2h0m24-2h0m16 2h0m3 0h0m4-2h0m6 0h0m8 2h0m55 0h0m-128 4h0m19-1h0m24 1h0m5-2h0m4 1h0m15-1h0m4 1h0m19 0h0m85-1h0m-125 3h0m2 0h0m9 2h0m33-1h0m13-1h0m7 1h0m-101 2h0m2 0h0m33 3h0m2-2h0m25-1h0m19 2h0m31 0h0m23 0h0m11 0h0m-148 1h0m17 1h0m29 3h0m6-2h0m5-1h0m4 2h0m62-1h0m4-2h0m4 2h0m-135 4h0m16 0h0m14 1h0m23-1h0m1-1h0m9 2h0m68-2h0m31 1h0m2-1h0m-152 2h0m13 3h0m10 0h0m17-3h0m55 2h0m24-1h0m29 1h0m-156 3h0m20-1h0m19 0h0m4 0h0m52-1h0m12 2h0m8 1h0m-98 4h0m10-1h0m11 1h0m14-1h0m34-2h0m29 2h0m6-1h0m10-1h0m4 3h0m3-3h0m91 1h0m-230 5h0m7-2h0m15 2h0m29-1h0m5-1h0m89 1h0m5 0h0m79 1h0m-218 0h0m44 1h0m12 2h0m32-1h0m21 0h0m8 0h0m12 1h0m3 0h0m5-1h0m-130 5h0m3-2h0m5 2h0m7-2h0m19-1h0m7 1h0m74 2h0m23-1h0m67-2h0m-211 4h0m3 0h0m10 0h0m6 0h0m11 3h0m6-2h0m3-1h0m47 1h0m71 1h0m54-2h0m-198 3h0m6 1h0m16-1h0m3 2h0m11-2h0m24 1h0m10 1h0m12-2h0m28 2h0m94-1h0m-218 4h0m51 1h0m77-1h0m-94 3h0m34 2h0m29-3h0m25 2h0m-108 4h0m6-3h0m7 2h0m11 0h0m66 0h0m7 0h0m22 1h0m59 0h0m-184 2h0m30-1h0m13 0h0m23 2h0m6-1h0m13 0h0m47-2h0m-119 5h0m9 0h0m5-1h0m4-1h0m4 1h0m61 1h0m6 0h0m3-2h0m-99 5h0m3 0h0m26 1h0m31 0h0m9 1h0m7-2h0m2 0h0m29 0h0m1 1h0m-106 3h0m9 0h0m15 0h0m61 0h0m15 1h0m-92 2h0m16 0h0m47-1h0m17 1h0m13 0h0m5-1h0m40 2h0m-145 3h0m66-1h0m16 2h0m24-1h0m5-1h0m-109 3h0m35 2h0m8 0h0m16-2h0m27 1h0m8 1h0m39 0h0m-119 1h0m7 1h0m12 0h0m11 1h0m13-1h0m53-1h0m32 2h0m-136 2h0m10 0h0m9-1h0m7 2h0m4-1h0m14 0h0m11 1h0m19 0h0m9-2h0m11 1h0m5 0h0m18 1h0m-90 4h0m9-1h0m31 1h0m7 0h0m37-1h0m-82 3h0m16 1h0m20-1h0m20 0h0m33 2h0m3-1h0m9-1h0m13 1h0m2 0h0m3-2h0m-140 5h0m15 0h0m20 1h0m7-1h0m7-1h0m16 2h0m7-3h0m4 2h0m23 1h0m18-2h0m6 1h0m13-1h0m2-1h0m-98 5h0m3 2h0m19 0h0m6-2h0m19 2h0m18-3h0m-91 5h0m41 0h0m2 1h0m13-3h0m15 3h0m44-1h0m5 0h0m-105 2h0m21 1h0m5-2h0m-41 4h0m12 1h0m38-1h0m6 2h0m6-2h0m22 2h0m11-2h0m18 3h0m7-2h0m-105 2h0m58 2h0m25 0h0m10-2h0m-97 7h0m21-1h0m8-2h0m34 0h0m8 2h0m20 0h0m-81 1h0m14 1h0m1 0h0m7 1h0m17-1h0m10 2h0m29-2h0m10-1h0m7 0h0m-69 4h0m24 0h0m10 1h0m9 1h0m17-1h0m-81 2h0m13 3h0m12-3h0m21 1h0m14 1h0m9-1h0m5-1h0m4 1h0m-64 3h0m25-1h0m20 1h0m7 2h0m5-3h0m-53 6h0m20-1h0m-203-193h0m-11 19h0m23 15h0" stroke="#f8eb6e" stroke-width="4" stroke-linecap="round" fill="none"/>
<path transform="scale(.5)" d="M55 65h0m166 4h0m5 6h0m-4 6h0m8 0h0m-15 3h0m11-1h0m3 1h0m5 3h0m-29 3h0m3-1h0m6 3h0m9 0h0m6 0h0m3-2h0m-42 5h0m23-3h0m7 0h0m10 1h0m-25 3h0m8 0h0m2 0h0m6 2h0m4-3h0m17 0h0m-50 6h0m11-1h0m9 0h0m1-2h0m11 3h0m2-3h0m6 1h0m4 1h0m5 2h0m-52 3h0m15-2h0m5 0h0m15 0h0m4 0h0m7-1h0m6 0h0m2 0h0m-51 5h0m8-2h0m3 2h0m5 0h0m2-2h0m6 3h0m4-2h0m1 2h0m5-1h0m14 0h0m-50 3h0m7 1h0m9-1h0m8 1h0m3-2h0m9 1h0m7 1h0m2-2h0m6 2h0m-53 2h0m11 1h0m3 1h0m13-2h0m3-1h0m3 2h0m-42 2h0m11 1h0m5-1h0m3 3h0m7-1h0m19-2h0m14 0h0m2 1h0m-54 3h0m11 2h0m1-3h0m4 0h0m4 0h0m8 3h0m6-3h0m2 2h0m8-2h0m6 0h0m6 0h0m-75 5h0m12 0h0m35-1h0m-48 5h0m7-2h0m11 2h0m7 0h0m12-1h0m9 1h0m9 1h0m7-2h0m3 0h0m-68 5h0m4-3h0m12 1h0m12-1h0m2 0h0m4 2h0m4-1h0m4-1h0m16 0h0m4 0h0m3 0h0m8 1h0m-60 3h0m4 0h0m9 0h0m6 1h0m6-2h0m3 1h0m2 1h0m9-1h0m3 3h0m5-3h0m4 2h0m10-1h0m5 2h0m-98 0h0m16 0h0m12 0h0m5 0h0m5 0h0m11 2h0m7-2h0m15 0h0m7 2h0m2-2h0m13 1h0m3-1h0m3 0h0m-90 3h0m10 3h0m5-2h0m7 1h0m26 1h0m8-1h0m33 1h0m-89 3h0m10 0h0m3-2h0m4 1h0m2-1h0m7-1h0m1 1h0m7 1h0m7 0h0m9 1h0m19-1h0m4-1h0m13 0h0m-77 3h0m1 0h0m14 1h0m6 1h0m12 1h0m5 0h0m24-2h0m11 1h0m7-2h0m-129 5h0m30 0h0m7 1h0m3 0h0m14-3h0m3 1h0m5 1h0m1-1h0m37 0h0m23 0h0m9 2h0m-99 1h0m19 2h0m4-1h0m3 0h0m5-1h0m4 1h0m21 1h0m13 1h0m28-4h0m2 1h0m-112 5h0m2 0h0m16 0h0m9-2h0m6 0h0m4 1h0m8 0h0m-25 2h0m12 3h0m10-2h0m9 2h0m5 0h0m-49 3h0m8 0h0m7 0h0m10-1h0m4 0h0m6-1h0m18 3h0m41-3h0m5 2h0m-125 3h0m31 1h0m3-1h0m6 1h0m16-2h0m5 2h0m4-1h0m5 0h0m46-2h0m6 0h0m9 3h0m-122 3h0m16-1h0m5 0h0m2-1h0m14 0h0m6 2h0m10-3h0m9 1h0m4 3h0m5-3h0m50 2h0m-151 4h0m13-2h0m2 0h0m6 0h0m6 0h0m6 1h0m2 0h0m4-1h0m10 0h0m8-1h0m1 0h0m5 2h0m9-2h0m11 0h0m11 1h0m40 1h0m7-2h0m6 1h0m-122 4h0m29-1h0m2-1h0m6 0h0m9 3h0m5 0h0m12 0h0m15 0h0m22 0h0m25 0h0m-139 2h0m0 1h0m22-1h0m11 1h0m4-3h0m8 1h0m10 0h0m4 1h0m4-1h0m6 1h0m10 2h0m17-1h0m-156 2h0m5 2h0m12-2h0m12 2h0m2 0h0m8-1h0m36-1h0m7 1h0m6-1h0m23 0h0m5 2h0m3-2h0m3 0h0m3-1h0m12 0h0m46 1h0m19 1h0m-183 4h0m6-1h0m9 0h0m14 0h0m14 0h0m10 0h0m14 1h0m7-1h0m5-2h0m4 2h0m22-1h0m3 0h0m6 0h0m12 2h0m47 0h0m7 0h0m-213 4h0m14-1h0m50 1h0m10-1h0m7 0h0m8-2h0m4 1h0m4 1h0m9 1h0m2-2h0m4 0h0m6 1h0m3 0h0m8 1h0m18-2h0m5 0h0m6-1h0m29 1h0m22 0h0m4 2h0m5-3h0m-229 6h0m8-1h0m8 0h0m25 0h0m29 0h0m27 1h0m13-1h0m4 0h0m4 1h0m4-2h0m9 2h0m8-1h0m8 1h0m2-1h0m3 1h0m3-2h0m14 0h0m3-1h0m3 2h0m-178 4h0m23-2h0m10 0h0m20 0h0m8 2h0m12 0h0m17-1h0m10-2h0m10 1h0m26 1h0m1-1h0m5 1h0m10 0h0m1-1h0m14 3h0m3-2h0m12 0h0m10-1h0m28 0h0m5 1h0m3-1h0m-213 4h0m4 1h0m13 0h0m9-1h0m11 0h0m2 1h0m12-1h0m12-1h0m11 2h0m12-1h0m16 0h0m3 2h0m4-3h0m9 1h0m11 1h0m20 0h0m41-2h0m11 1h0m5 0h0m-227 5h0m16-1h0m13 2h0m26-3h0m21 0h0m16 0h0m10 0h0m5 2h0m19-2h0m15 0h0m8 0h0m5-1h0m6 1h0m9 2h0m60 0h0m-232 2h0m10 0h0m4-1h0m3 2h0m8-2h0m4 2h0m7 0h0m10-2h0m1 0h0m4 0h0m19 2h0m23-1h0m33-1h0m5 2h0m7-1h0m16-1h0m5 2h0m1-2h0m16 0h0m46 1h0m-215 5h0m4 0h0m8-2h0m8 2h0m20-2h0m3 0h0m7 1h0m6 0h0m30 0h0m17 1h0m21-3h0m23 2h0m14 0h0m3 0h0m4 0h0m10-1h0m6 0h0m6 2h0m29-1h0m9 1h0m2-1h0m-221 2h0m3 1h0m12-1h0m4-1h0m5 3h0m5-1h0m18-1h0m8 2h0m3 0h0m32-1h0m6 0h0m23-1h0m11 1h0m7-1h0m3 0h0m4 2h0m7-1h0m3 0h0m4-1h0m4 2h0m1-2h0m33 2h0m5-2h0m5 2h0m5 0h0m6 0h0m-231 2h0m12 0h0m4 1h0m4 0h0m8-1h0m11-1h0m10 2h0m16 1h0m7 0h0m12-3h0m51 2h0m15 0h0m2 0h0m5 0h0m15 1h0m35-2h0m5 1h0m21-2h0m-218 6h0m14 0h0m5-2h0m20 1h0m19 0h0m12-2h0m17 2h0m4-1h0m5-1h0m16 2h0m6-2h0m7 0h0m5 3h0m2-3h0m24 1h0m3 2h0m8-1h0m20 0h0m18-1h0m16 1h0m-232 3h0m6-1h0m3 1h0m11-1h0m13 0h0m4 2h0m3 1h0m5-2h0m3-1h0m4 1h0m11-1h0m8 1h0m11 1h0m12-1h0m10 0h0m2 2h0m3-2h0m5-1h0m19 1h0m21 2h0m2-1h0m11 1h0m0-1h0m21 0h0m24-3h0m2 1h0m9 1h0m3-1h0m-221 6h0m6-1h0m18 0h0m10-1h0m4-1h0m46 1h0m23 0h0m26-1h0m6 3h0m6 0h0m11-3h0m5 1h0m10 1h0m1 1h0m40 0h0m13-2h0m-210 4h0m19 1h0m18 0h0m1 0h0m22 0h0m1-1h0m24 1h0m31 0h0m14 0h0m11-2h0m5 3h0m-158 2h0m5-1h0m28 1h0m23-2h0m6 0h0m8 1h0m13 0h0m9-1h0m3 3h0m17-2h0m3 0h0m6 2h0m13-2h0m9 1h0m9 1h0m7-3h0m29 1h0m27 0h0m3 0h0m-206 5h0m6-2h0m3 1h0m2 1h0m15-1h0m32-1h0m16 1h0m4-2h0m13 1h0m6 1h0m4 1h0m25-1h0m22 1h0m5 0h0m33 0h0m9 0h0m4-2h0m9 1h0m-218 2h0m6 0h0m2 0h0m8 2h0m5-2h0m4 2h0m3 1h0m13-1h0m22-1h0m3 0h0m17 1h0m4 0h0m16 1h0m7-2h0m13-1h0m7 0h0m4 1h0m7-1h0m13 0h0m3 2h0m9 0h0m12-2h0m2 1h0m5 0h0m7 1h0m5 0h0m8-1h0m11 1h0m-212 1h0m6 2h0m10-1h0m6 2h0m12-1h0m7-1h0m11 0h0m9 0h0m12 1h0m4-1h0m2-1h0m4 3h0m28-1h0m13-1h0m2 1h0m10-2h0m26 1h0m4 0h0m26 2h0m4-1h0m14-1h0m-208 3h0m8-1h0m6 3h0m4 0h0m13-2h0m28 1h0m26 1h0m10-2h0m7 2h0m9-2h0m4 1h0m13 1h0m3-2h0m11 1h0m6 1h0m29 0h0m29-1h0m-205 3h0m6 0h0m7 1h0m8-1h0m5 1h0m19-2h0m5 2h0m17-3h0m26 1h0m24-1h0m9 1h0m15 0h0m5 2h0m5 0h0m5-3h0m4 1h0m8 0h0m3 0h0m3 0h0m24 3h0m-195 0h0m2 3h0m21-1h0m3 0h0m5-1h0m19 1h0m3-2h0m2 0h0m16 0h0m21 0h0m6 3h0m2 0h0m7-2h0m18 2h0m2-3h0m6 1h0m14 0h0m2 2h0m14-3h0m15 0h0m9 1h0m7 2h0m2-1h0m-190 3h0m14 0h0m5-1h0m16 1h0m5 0h0m12-1h0m3 2h0m17 0h0m4-3h0m3 0h0m14 1h0m3-1h0m15 3h0m15 0h0m6-3h0m2 1h0m4 1h0m9 0h0m5 1h0m7-2h0m2 0h0m5 0h0m7 0h0m9-1h0m-183 7h0m16-1h0m9-2h0m7 0h0m4 0h0m5 0h0m2 2h0m6-2h0m6 0h0m5 0h0m4 3h0m7-2h0m9-1h0m14 0h0m14 3h0m14-2h0m3-1h0m11 3h0m6-2h0m19 0h0m10 1h0m2 1h0m11 0h0m6-2h0m-174 4h0m11-2h0m4 2h0m7-2h0m14 3h0m2-3h0m19 0h0m17 3h0m5-2h0m3 0h0m7 2h0m19-1h0m3 1h0m5 0h0m5 0h0m2-2h0m4 2h0m6-3h0m5 2h0m10 1h0m2-1h0m4-1h0m6-1h0m8 1h0m7 0h0m-182 3h0m3 2h0m11 0h0m6 0h0m2-1h0m13 0h0m13 1h0m3-2h0m18 1h0m5 1h0m6 0h0m7-1h0m18 0h0m13-1h0m8 2h0m12 0h0m2 0h0m9-1h0m22 1h0m5 0h0m-153 1h0m3 0h0m19 3h0m5-3h0m8 0h0m2 1h0m5 1h0m3-1h0m9 1h0m11 0h0m4-1h0m6 1h0m14-1h0m4 0h0m2 2h0m3-2h0m4 0h0m11 1h0m19 1h0m6-2h0m-154 4h0m9-2h0m21 2h0m4 0h0m13 1h0m8 0h0m32-3h0m11 1h0m8 0h0m14 1h0m15-1h0m5-1h0m5 3h0m13-3h0m7 3h0m5-3h0m1 1h0m-171 4h0m9-1h0m16 2h0m13-2h0m4 1h0m9 0h0m25-1h0m6 1h0m2 2h0m3-2h0m5 0h0m11 0h0m9 1h0m5-1h0m3-1h0m5-1h0m3 1h0m7 2h0m5-2h0m3 3h0m3-4h0m6 1h0m4 0h0m8 2h0m4 0h0m-160 3h0m10 1h0m18-3h0m10 2h0m6 0h0m2-2h0m8 2h0m10 0h0m4 0h0m7 0h0m8 1h0m8-3h0m6 0h0m17 0h0m7 1h0m21 2h0m8-2h0m4 1h0m1-2h0m-136 5h0m7-2h0m16 2h0m7-2h0m7 1h0m10 0h0m16 1h0m2 0h0m4 1h0m13 1h0m3-3h0m13 0h0m37 2h0m-149 1h0m4 2h0m8 0h0m16 0h0m20-2h0m19 2h0m3-1h0m4 0h0m9 2h0m3-1h0m25-2h0m2 2h0m3 1h0m6 0h0m1-3h0m5 0h0m4 3h0m3-2h0m6-1h0m-133 6h0m15 0h0m2-3h0m5 2h0m6 0h0m4 1h0m11-3h0m13 0h0m4 2h0m4 1h0m18-2h0m9 1h0m3-1h0m12-1h0m22 0h0m7 2h0m3-2h0m4 1h0m-145 5h0m9 0h0m9 0h0m5 0h0m4 0h0m2 0h0m6 1h0m15-3h0m4 2h0m4-2h0m10 1h0m5-1h0m4 1h0m5 1h0m6-2h0m3 1h0m4-1h0m3 0h0m7 1h0m3 1h0m5 0h0m5 0h0m6-2h0m3 0h0m6 0h0m1 2h0m-129 3h0m5 1h0m12-2h0m14 1h0m8-2h0m14 0h0m14 1h0m2 1h0m12-1h0m6-1h0m8 0h0m2 1h0m3 2h0m5-1h0m15 1h0m14-2h0m-130 3h0m9 2h0m4-3h0m8 1h0m7 1h0m6-2h0m1 1h0m4 2h0m10-2h0m17 0h0m5 2h0m4-2h0m10 0h0m7 1h0m4 1h0m5-3h0m9 2h0m8 1h0m4 0h0m-122 2h0m6-1h0m13-1h0m16 2h0m3 1h0m4 0h0m8 0h0m5-2h0m9 0h0m7 0h0m13 1h0m14 1h0m11 1h0m-102 1h0m2-1h0m8 0h0m4 1h0m16-1h0m2 0h0m6 0h0m5 3h0m6-1h0m7-2h0m9 1h0m4 2h0m5-3h0m3 3h0m2-2h0m33 1h0m-113 4h0m9 0h0m31-1h0m7 0h0m24 0h0m8 0h0m6-2h0m1 3h0m9-2h0m5 2h0m3-1h0m3-2h0m-104 6h0m16 1h0m9-2h0m15-1h0m3 0h0m6 2h0m21 0h0m5 0h0m-66 3h0m2-1h0m7 1h0m9 0h0m8 0h0m4 0h0m23-2h0m16 3h0m7-1h0m3 0h0m4 0h0m-60 1h0m6 3h0m6-1h0m9 0h0m9-1h0m6 1h0" stroke="#fce558" stroke-width="4" stroke-linecap="round" fill="none"/>
<path transform="scale(.5)" d="M115 24h0m79 8h0m3 9h0m-127 37h0m70 4h0m76 10h0m11 3h0m13-3h0m-59 3h0m46 1h0m10 1h0m-17 4h0m-7 3h0m20-1h0m-31 6h0m8 0h0m11 2h0m22-2h0m-14 3h0m-28 6h0m7-1h0m6 0h0m8-1h0m-170 5h0m138 0h0m20 0h0m-19 2h0m13 0h0m7 2h0m5-2h0m4 1h0m3 0h0m5 1h0m8 0h0m-28 3h0m26 4h0m-75 1h0m26-1h0m26 2h0m-61 4h0m48-2h0m11 3h0m4 0h0m16-3h0m-49 4h0m8-1h0m7 3h0m12-2h0m8 1h0m4 1h0m7-1h0m4 0h0m5 1h0m-46 1h0m11 0h0m10 1h0m4 1h0m16 0h0m-59 3h0m31 1h0m7-3h0m1 0h0m8 0h0m8 2h0m-39 3h0m7-1h0m10 0h0m18 0h0m2 1h0m9 0h0m8-2h0m-56 4h0m7 2h0m18-2h0m14 2h0m2-1h0m9 0h0m5-1h0m-66 6h0m11-3h0m9 2h0m4-2h0m4 3h0m7-3h0m7 3h0m6-1h0m4 0h0m-81 4h0m36-1h0m10-1h0m4 1h0m7 1h0m5 1h0m5-2h0m7 2h0m3-2h0m6-2h0m1 0h0m6 3h0m10 0h0m-95 2h0m31-1h0m8 0h0m9 3h0m5-3h0m4 2h0m4-2h0m1 0h0m13 2h0m12-2h0m8 0h0m-127 6h0m48-1h0m30-1h0m8-1h0m2 2h0m4 0h0m4 0h0m4 1h0m4-2h0m19 0h0m-79 3h0m10 0h0m26 2h0m10-2h0m16 3h0m5-1h0m4-2h0m4-1h0m3 1h0m-71 5h0m13 0h0m21-2h0m8 3h0m5-2h0m-29 5h0m5-1h0m11-1h0m3 0h0m2 1h0m13 1h0m12 0h0m2-3h0m6 1h0m-66 3h0m14 3h0m13-1h0m10-1h0m14-1h0m5 3h0m12-3h0m-210 4h0m79 2h0m82-3h0m4 3h0m2-3h0m17 2h0m3 1h0m6-1h0m6 1h0m6-2h0m4 1h0m-128 3h0m69 0h0m7-1h0m6 2h0m17-3h0m2 1h0m9 2h0m2 0h0m4-2h0m9 0h0m-43 3h0m30 0h0m2 3h0m4-1h0m-129 4h0m95-3h0m4 2h0m3 1h0m11-3h0m3 1h0m8 2h0m13-3h0m1 2h0m-200 3h0m147 2h0m13-3h0m3 1h0m7-1h0m5-1h0m5 2h0m4 1h0m7-1h0m-220 3h0m32-1h0m123 0h0m5 2h0m21-2h0m16 3h0m3 0h0m1-2h0m5 1h0m8-2h0m18 2h0m3 1h0m-79 1h0m19 0h0m6 1h0m8 1h0m8 0h0m11 0h0m10-1h0m3-1h0m2-1h0m9 2h0m-86 5h0m29 0h0m6-3h0m3 1h0m7-1h0m4 0h0m11 1h0m17 1h0m3 1h0m4 0h0m-53 1h0m12-1h0m7 2h0m10 0h0m3 1h0m3-2h0m3-1h0m10 3h0m-38 2h0m9 1h0m8 0h0m12-1h0m16 0h0m-180 5h0m105 0h0m16-2h0m17 2h0m4-2h0m20 1h0m1 0h0m-201 1h0m144 3h0m34-2h0m3 1h0m8 1h0m4 0h0m2 0h0m7-3h0m11 2h0m-197 2h0m145 2h0m1 0h0m7-2h0m9 1h0m6-1h0m3 1h0m3-1h0m29 0h0m-83 3h0m15 2h0m8 1h0m12-1h0m2 0h0m8 0h0m3-2h0m4 1h0m4 2h0m6 0h0m4-2h0m-70 5h0m9-2h0m20 1h0m3-1h0m5 1h0m3 0h0m8 1h0m8-2h0m4 1h0m11-2h0m3 3h0m-138 1h0m68 1h0m13 1h0m13-1h0m16 0h0m6 0h0m10 0h0m3 1h0m2-1h0m-37 5h0m6-1h0m2-2h0m6 3h0m3 0h0m4-1h0m16 1h0m10-3h0m-160 4h0m2 2h0m64-1h0m71 1h0m11-2h0m7 2h0m3-2h0m-55 5h0m4-2h0m14 3h0m6-1h0m4-2h0m2 1h0m-74 2h0m59 3h0m11-2h0m24 0h0m-87 5h0m73-2h0m1 3h0m20-1h0m-182 1h0m116 2h0m24 1h0m6-2h0m7-1h0m9 1h0m-75 3h0m15 1h0m3-2h0m24 3h0m36-1h0m6-1h0m-181 5h0m9-2h0m54 0h0m50 0h0m17 1h0m9-1h0m9 1h0m3 2h0m22-3h0m4 1h0m9 2h0m-148 2h0m39-2h0m39 2h0m32 0h0m7 1h0m20 0h0m-161 2h0m104-1h0m19 2h0m13-2h0m10 1h0m3 1h0m4-1h0m5 0h0m-135 5h0m108 0h0m8-1h0m18 1h0m-29 2h0m8 0h0m-120 4h0m67 4h0m82-3h0m-161 3h0m7 1h0m87 1h0m48-1h0m-85 5h0m-32 4h0m38-3h0m26 3h0m24-1h0m16-1h0m7 1h0m-81 5h0m20-3h0m-39 5h0m24-2h0m31 0h0m59 0h0m-24 3h0m-7 5h0m-89 6h0m12 2h0m7 0h0m69 1h0m10 1h0m-54 3h0m9 4h0m-191-157h0" stroke="#fcd74b" stroke-width="4" stroke-linecap="round" fill="none"/>
<path transform="scale(.5)" d="M216 75h0m1 14h0m-22 20h0m34 6h0m-64 23h0m41-1h0m17 4h0m-5 11h0m0 3h0m-4 4h0m15-1h0m3 1h0m6-2h0m-20 8h0m-18 4h0m1 1h0m30 5h0m12-1h0m-232 9h0m146-2h0m33 0h0m26 1h0m8-1h0m-116 4h0m31 0h0m75 0h0m-87 4h0m21-2h0m54 3h0m18 2h0m-36 3h0m26-1h0m11-1h0m9 6h0m-36 4h0m2 2h0m-88 2h0m45 4h0m44 13h0m-56 3h0m68 4h0m12 2h0m4-2h0m-202 5h0m63 0h0m40-1h0m73-1h0m16 3h0m-163 2h0m5 1h0m86-2h0m-90 10h0m50 5h0m-55 19h0m4 0h0m60 7h0m6 0h0m-19 3h0m70 8h0m-24 4h0m52 9h0m-1 6h0m-66 2h0" stroke="#fabe41" stroke-width="4" stroke-linecap="round" fill="none"/>
<path transform="scale(.5)" d="M183 20h0m29 60h0m-17 25h0m32 14h0m-44 5h0m-30 24h0m47 3h0m-61 2h0m49 0h0m6 2h0m-30 3h0m40-1h0m-44 3h0m0 8h0m30 0h0m-8 3h0m22 1h0m-10 3h0m6 0h0m-6 5h0m-29 7h0m-48 4h0m68 1h0m-7 8h0m-153 1h0m161-1h0m-79 6h0m73 1h0m-13 5h0m-149 1h0m14 1h0m59 0h0m49 5h0m27 3h0m20 1h0m-46 10h0m28 0h0m72-2h0m-74 3h0m-19 6h0m18 0h0m-130 3h0m39 3h0m137 0h0m-172 4h0m141-1h0m-72 4h0m116 0h0m7 0h0m-137 3h0m81 0h0m-51 3h0m77 2h0m-53 8h0m68 6h0m-66 5h0m-73 5h0m39 2h0m42 1h0m46 10h0m-72 5h0m26 3h0m5 1h0m-24 9h0" stroke="#f8a63d" stroke-width="4" stroke-linecap="round" fill="none"/>
<path transform="scale(.5)" d="M237 119h0m-3 9h0m-23 2h0m28-1h0m-68 10h0m46 6h0m14 3h0m11 13h0m-83 2h0m18 0h0m53 3h0m-40 19h0m-99 2h0m68 1h0m44 1h0m-30 9h0m15 6h0m17 0h0m11 1h0m10-1h0m-14 5h0m-182 2h0m94 2h0m110 9h0m-102 4h0m-13 1h0m82 3h0m-7 5h0m-26 6h0m-109 5h0m88 1h0m47 6h0m-67 11h0m-13 2h0m-5 2h0m-20 7h0m67 4h0m-72 4h0m103 13h0m-63 7h0m-33 1h0m57 14h0" stroke="#f68e38" stroke-width="4" stroke-linecap="round" fill="none"/>
<path transform="scale(.5)" d="M231 135h0m8 46h0m-2 11h0m-19 46h0m-22 3h0" stroke="#f1712f" stroke-width="4" stroke-linecap="round" fill="none"/>
<path transform="scale(.5)" d="M107 207h0" stroke="#eb5629" stroke-width="4" stroke-linecap="round" fill="none"/>
</g>
<defs><g id="ub">
<path d="M16.5 13.3C17.3 9.8 17.9 6.4 19.7 4.2C21.6 1.9 24.8 .4 27.6 -.4C30.4 -1.3 34.1 -1.8 36.8 -1.1C39.4 -.3 41.3 2.7 43.3 4.2C45.3 5.6 46.6 7.9 48.6 7.4C50.5 7 52.3 2.8 55.1 1.5C57.9 .2 61.6 .2 65.6 -.4C69.5 -1.1 74.5 -2.3 78.7 -2.4C82.8 -2.5 87 -2.2 90.5 -1.1C93.9 0 96.8 2.2 99.6 4.2C102.5 6.1 105.3 10 107.5 10.7C109.7 11.4 110.3 8.3 112.7 8.1C115.1 7.9 119.3 7.9 121.9 9.4C124.5 10.9 126.9 14.4 128.4 17.3C130 20.1 129.5 24.8 131.1 26.4C132.6 28.1 135.4 25.8 137.6 27.1C139.8 28.4 141.7 33.2 144.2 34.3C146.6 35.4 149 33.4 152 33.6C155.1 33.8 159 34.4 162.5 35.6C166 36.8 170.3 38.4 173 40.8C175.6 43.2 177.9 46.9 178.5 50C179 53 177.9 56.6 176.2 59.2C174.6 61.7 171.5 63.2 168.4 65.1C165.2 66.9 160.5 68.5 157.2 70.3C154 72 151 73.8 148.7 75.5C146.4 77.3 143.3 79.1 143.5 80.8C143.7 82.4 147.9 84.3 150 85.3C152.2 86.4 155.1 85.8 156.6 87.3C158.1 88.8 159.3 92.1 158.8 94.5C158.4 96.9 155.3 98.7 154 101.7C152.6 104.8 151.1 108.8 150.7 112.9C150.3 116.9 151.6 121.6 151.4 125.9C151.1 130.3 151 135.3 149.4 139C147.8 142.8 144.6 146 141.5 148.2C138.5 150.4 134.3 151.7 131.1 152.1C127.8 152.6 124.9 151.9 121.9 150.8C118.8 149.7 116 146.5 112.7 145.6C109.4 144.7 105.7 145.8 102.2 145.6C98.8 145.4 95.7 144.3 91.8 144.3C87.8 144.3 83 145.2 78.7 145.6C74.3 146 69.3 147.8 65.6 146.9C61.9 146 60.1 142.5 56.4 140.4C52.7 138.2 47.7 136 43.3 133.8C38.9 131.6 33.9 129.9 30.2 127.3C26.5 124.6 23.9 121.8 21 118.1C18.2 114.4 15.6 109.4 13.2 105C10.8 100.6 8.4 96.3 6.6 91.9C4.9 87.5 3.8 83.4 2.7 78.8C1.6 74.2 .1 69.2 .1 64.4C.1 59.6 1.6 54.6 2.7 50C3.8 45.4 4.7 41 6.6 36.9C8.6 32.7 12.9 29 14.5 25.1C16.1 21.2 15.6 16.8 16.5 13.3Z" fill="#d3d3d3"/>
<path transform="scale(.5)" d="M33 25h0m0-2h0m0-3h0m0 2h0m1-6h0m1 2h0m0-4h0m3-1h0m0-6h0m0 2h0m3 0h0m0-1h0m2-3h0m-1 0h0m4-4h0m0 1h0m4-2h0m0 1h0m4-4h0m0 1h0m2 1h0m0 1h0m6-3h0m0 0h0m4-2h0m-3 3h0m7-1h0m0 0h0m1-1h0m2 2h0m1 0h0m3 0h0m0 2h0m-1 0h0m5 4h0m0-2h0m2 1h0m0 0h0m2 3h0m0 1h0m5 2h0m-1-2h0m1 3h0m1 1h0m2-1h0m-2 3h0m3 1h0m2 2h0m1-2h0m0 0h0m3-2h0m1-1h0m1-3h0m1 3h0m2-7h0m0 4h0m3-6h0m-2 1h0m7-2h0m-1 2h0m1-3h0m1 0h0m5-1h0m1 2h0m3-2h0m-1 2h0m7-3h0m0 1h0m7 0h0m-5 0h0m2 1h0m4-2h0m2 0h0m-1-2h0m8-1h0m-1 1h0m-3 2h0m5-4h0m3 0h0m-3 1h0m8-1h0m-1-1h0m-1 2h0m8-2h0m0 1h0m0-1h0m3 1h0m3-1h0m-3 1h0m7 1h0m-1 0h0m0 0h0m3 0h0m4 0h0m3 2h0m0 0h0m3 0h0m-1 0h0m4 2h0m1 2h0m5 1h0m0-1h0m1 4h0m1-2h0m2 4h0m4 0h0m2 1h0m-1 0h0m3 3h0m3 1h0m2 5h0m-1-1h0m2 1h0m3 1h0m2 1h0m-2 2h0m3 0h0m1 0h0m3-2h0m-2-1h0m5-1h0m-1 2h0m3-2h0m-1-1h0m2-2h0m0 3h0m4 0h0m2-1h0m1 1h0m2-1h0m4 0h0m1-1h0m3 4h0m-1-1h0m2 0h0m2 3h0m2 1h0m1 1h0m4 2h0m-1-1h0m2 7h0m2-1h0m0 1h0m2 1h0m0 4h0m2 1h0m0 5h0m-1-1h0m2 4h0m0 0h0m1 2h0m1 3h0m0 1h0m0-1h0m1 4h0m-1-2h0m3 0h0m-1 3h0m4-1h0m0 0h0m1-2h0m0 2h0m4-2h0m1 1h0m3 3h0m-1 1h0m2 0h0m1-1h0m3 6h0m0 0h0m1 2h0m3 1h0m0 0h0m2 3h0m1 1h0m0-1h0m3 2h0m1-2h0m1-1h0m1 1h0m4 0h0m-1-1h0m5-2h0m-3 2h0m4 0h0m2-2h0m3 3h0m-1-1h0m7 2h0m-1 1h0m2-1h0m2 0h0m4 0h0m-1 0h0m4 2h0m0 1h0m6 1h0m-1 0h0m1 1h0m3 0h0m2 1h0m1 0h0m4 4h0m0-2h0m4 4h0m-1-3h0m3 3h0m0 4h0m3 0h0m-2 1h0m5 5h0m-1 1h0m3 1h0m-2-1h0m5 6h0m-3 2h0m3 2h0m-1 0h0m-2 2h0m0 0h0m1 6h0m-1 0h0m-1 2h0m2 3h0m-5 3h0m4-2h0m-3 5h0m-1-1h0m-3 3h0m-1-1h0m-2 5h0m1-3h0m-5 4h0m1-2h0m-5 2h0m0 3h0m-3 2h0m-1-1h0m-4 2h0m-1 2h0m3-1h0m-7 2h0m-1-1h0m1 2h0m-4 1h0m-1-1h0m0-1h0m-2 3h0m1-1h0m-6 4h0m2 0h0m-7 1h0m1 1h0m-4 1h0m-1 2h0m-2 2h0m-2-2h0m-1 3h0m1-1h0m-3 1h0m-1 0h0m-1 4h0m-2 0h0m-3 3h0m0 0h0m-3 1h0m2 1h0m1 0h0m-2 2h0m1 1h0m0 2h0m5 2h0m-1-1h0m2 2h0m1 0h0m3 0h0m-1 3h0m2 1h0m1-3h0m3 1h0m1 3h0m4-3h0m-3 0h0m4 2h0m1 1h0m2-1h0m0 2h0m3 2h0m-2 0h0m2 2h0m-2 0h0m2 3h0m2 0h0m-1 3h0m1 1h0m0 3h0m2 1h0m-3 2h0m2-1h0m-3 5h0m0-2h0m-2 4h0m0 0h0m-4 2h0m4 0h0m-4 5h0m-1-4h0m-1 5h0m-2 1h0m-1 3h0m2-1h0m-2 6h0m0-1h0m-2 4h0m1 3h0m-1-4h0m0 9h0m-2 0h0m1-2h0m0 7h0m2-1h0m-2-2h0m2 7h0m-2-1h0m1-2h0m-2 5h0m2 3h0m-1 1h0m0 5h0m2-3h0m-2 0h0m2 8h0m-2-2h0m2 0h0m-2 6h0m1 2h0m2 1h0m-2 5h0m-1 0h0m1-3h0m1 9h0m-2-4h0m0 1h0m-1 5h0m1-1h0m-1 3h0m-1 6h0m2-3h0m-3 3h0m0 1h0m-1 2h0m0 2h0m-4 2h0m2 1h0m0-4h0m-3 9h0m1-3h0m0 0h0m-6 4h0m3 0h0m-1 1h0m-5 2h0m-1 2h0m-2 1h0m-1 1h0m-6 2h0m1 1h0m-4 2h0m0 0h0m-5 1h0m2-1h0m-6 1h0m1-2h0m-5 4h0m2-3h0m-4 1h0m0 2h0m-3-3h0m0 1h0m-6-2h0m3 1h0m-6 0h0m2-2h0m-4-1h0m-1 2h0m-4-5h0m2 1h0m-5-1h0m0-1h0m-5-3h0m1 2h0m-5-5h0m0 3h0m-2-3h0m1 2h0m-7-2h0m1 0h0m-3 2h0m-2-2h0m-1 0h0m-1 2h0m-6-1h0m2-1h0m-5 0h0m-2 1h0m-4 1h0m2-2h0m-4 1h0m1 0h0m-8-1h0m4-2h0m-7-1h0m1 1h0m-7 1h0m0-1h0m1 0h0m-6 0h0m0 0h0m2 1h0m-3 1h0m-1-2h0m1 0h0m-7 3h0m0-1h0m2-1h0m-8 3h0m-2-1h0m5-1h0m-9 1h0m0 0h0m4 2h0m-10-2h0m1 1h0m1 0h0m-5 0h0m0 2h0m0-2h0m-8 1h0m-1 1h0m1-1h0m-5-1h0m3 1h0m-7 0h0m2 0h0m-6-3h0m3 1h0m-3-3h0m-1-1h0m-6-4h0m1 2h0m-5-3h0m2 0h0m1-1h0m-6-1h0m-3-1h0m2 0h0m-1-2h0m-2 0h0m1 0h0m-8-2h0m-1-2h0m3 2h0m-9-5h0m3 2h0m1 1h0m-10-6h0m1 2h0m3 2h0m-7-6h0m3 1h0m-3 0h0m-4-1h0m0-1h0m1 2h0m-6-3h0m-2-2h0m1-1h0m-8-1h0m1-1h0m3 2h0m-6-3h0m1 0h0m-3-3h0m-2-3h0m2 2h0m-6-1h0m-1-4h0m-1 1h0m1 1h0m-4-7h0m1 4h0m1 0h0m-5-6h0m0 0h0m0 0h0m-3-5h0m0 0h0m-3 0h0m-1-3h0m-1 0h0m-1-1h0m-3-3h0m-1-2h0m3 2h0m-5-6h0m1 0h0m-1 1h0m0-6h0m-4-1h0m1-1h0m-2-6h0m1 1h0m0 3h0m-3-7h0m0 2h0m0-3h0m-3-4h0m2 0h0m-5-2h0m-2-4h0m1 1h0m1 1h0m-4-7h0m1 2h0m1 0h0m-3-10h0m1 4h0m1-1h0m-6-7h0m2 2h0m1-2h0m-4-1h0m1-2h0m-2-2h0m1-4h0m-2 2h0m2-4h0m-2-5h0m1 2h0m-3-2h0m0-2h0m0 0h0m2 1h0m-3-9h0m-2-1h0m3 0h0m-4-4h0m3 0h0m0 2h0m-2-9h0m1 3h0m-3-2h0m0-5h0m0-3h0m1 4h0m-2-10h0m0 4h0m-1 1h0m2-8h0m1 0h0m-1-1h0m-1-4h0m2 1h0m0-3h0m0-4h0m-1 1h0m3-4h0m-1-4h0m-1 1h0m3 0h0m0-7h0m-1 1h0m1-2h0m0-4h0m2-1h0m1-1h0m1-5h0m0 1h0m-2 1h0m2-7h0m0 3h0m-1 0h0m4-6h0m-2-2h0m0 0h0m3-2h0m-1 0h0m1-2h0m1-4h0m-1 0h0m2-1h0m5-6h0m-2 3h0m-1 1h0m5-8h0m-1 1h0m-2 1h0m6-4h0m-1-1h0m2-3h0m1-1h0m2-1h0m2-2h0m-2-4h0m3-1h0m-3 2h0m3-3h0m1-4h0m-1 2h0m1-4h0m-3 1h0m1-3h0m2-2h0m0-2h0m-2-4h0m2 0h0" stroke="#d3d3d3" stroke-width="3" stroke-linecap="round" fill="none"/>
<filter id="bl" x="-20%" y="-20%" width="140%" height="140%"><feGaussianBlur stdDeviation="1.6"/></filter>
<path d="M131.1 28.4C133.2 26.5 140.9 32.7 142.6 35.8C144.3 39 141.9 43.3 141.3 47.4C140.7 51.5 138.8 56.2 138.9 60.5C139.1 64.7 140.4 69.1 142.2 72.9C143.9 76.7 148.3 80.8 149.4 83.4C150.5 86 149.6 86.8 148.7 88.6C147.9 90.5 146.4 93.1 144.2 94.5C141.9 95.9 137.8 96.4 135 97.1C132.1 97.9 129.1 98 127.1 99.1C125.2 100.2 124.8 103.5 123.2 103.7C121.6 103.9 117.4 104.1 117.3 100.4C117.2 96.7 120.9 87 122.5 81.4C124.2 75.9 126.2 72.7 127.4 67C128.6 61.3 129.1 53.8 129.7 47.4C130.4 40.9 128.9 30.3 131.1 28.4Z" fill="#fbfbfb" filter="url(#bl)"/>
<path d="M137.6 77.5C138.7 76.2 142.7 74 144.2 74.2C145.6 74.4 146.4 77.3 146.1 78.8C145.8 80.3 143.6 82.8 142.2 83.4C140.8 83.9 138.4 83.1 137.6 82.1C136.8 81.1 136.5 78.8 137.6 77.5Z" fill="#fcfcfc" filter="url(#bl)"/>
<path transform="scale(.5)" d="M277 65h0m4 32h0m3 69h0m-16-101h0m-8 28h0m13-32h0m-3 16h0m11 19h0m-28 68h0m8-49h0m10 64h0m5-109h0m-14 46h0m-6 16h0m5-4h0m19 12h0m-20-28h0m13 15h0m-12-8h0m-8 63h0m26-90h0m-19 1h0m-5 72h0m25-5h0m-13-18h0m1-66h0m13 19h0m-25 76h0m16-51h0m6-29h0m-2 25h0m-17-13h0m7-28h0m5 3h0m4 20h0m-9 21h0m11 32h0m5-68h0m-13 96h0m17-11h0m-5-74h0m-9-3h0m-12 21h0m23-24h0m-4-5h0m-22 39h0m4-17h0m20-22h0m-5 31h0m1-25h0m-35 94h0m18-92h0m14 52h0m-6-82h0m7 63h0m-2 22h0m-6-54h0m22 63h0m-38 23h0m13-40h0m-14 39h0m10 8h0m-21 21h0m8-48h0m16-99h0m13 40h0m-2 62h0m-12 19h0m-1-54h0m-8 62h0m11-122h0m-2 33h0m-8 63h0m24-68h0m-17-17h0m1 31h0m11 31h0m-32 53h0m18-26h0m19-57h0m-13 2h0m0-7h0m18-35h0m-13 68h0m-28 39h0m26-75h0m-6-36h0m9 61h0m-29 69h0m18-93h0m-1 19h0m7-10h0m-3 14h0m7-8h0m-11-13h0m7-13h0m-8 56h0m-5 12h0m33-5h0m-22-31h0m-22 60h0m36-44h0m-8 44h0m-5-122h0m-2 53h0m4 47h0m13-69h0m-8 3h0m-13 70h0m7-73h0m18-20h0m-29 113h0m42-13h0m-23-97h0m23 90h0m-15-68h0m-12-2h0m21 91h0m-33-11h0m13-66h0m-21 91h0m27-133h0m-6 8h0m7-8h0m-9 1h0m0 16h0m0 26h0m-2-24h0m-1-18h0m7 92h0m16 1h0m-20-54h0m-19 83h0m32-32h0m-23-48h0m1-33h0m-1 23h0m-11 89h0m9 8h0m-5 1h0m3-27h0m17-70h0m-7 47h0m-18 51h0m18-115h0m10 28h0m-13 26h0m3-31h0m17-15h0m-9-12h0m-16 61h0m11-27h0m8 12h0m-10 27h0m-3-84h0m4 52h0m-13 63h0m13-76h0m22 70h0m-10-1h0m2 2h0m-30 16h0m-4-34h0m28-85h0m11 112h0m-26-78h0m20 24h0m-24 63h0m13-69h0m-7-10h0m1 42h0m6-75h0m-6-12h0m-2 82h0m18-5h0m-14-91h0m0 14h0m3 46h0m-10 4h0m6-19h0m11 15h0m-21 54h0m10-45h0m34 47h0m-37-17h0m16 0h0m-28 15h0m8-9h0m18-74h0m-28 104h0m41-11h0m-37-20h0m18-32h0m-7-52h0m12 47h0m6 35h0m-10-101h0m16 108h0m-21-64h0m-2 75h0m-6-56h0m24-34h0m-11 56h0m4 42h0m-21-46h0m15-37h0m24 66h0m-30-55h0m5 12h0m19 23h0m5 33h0m-23-80h0m8-30h0m-6 34h0m2 45h0m5-63h0m-6-17h0m5 24h0m-5 18h0m10-29h0m9 77h0m-14-48h0m-16 23h0m7 35h0m4-79h0m-24 73h0m37 0h0m-15-53h0m-1 2h0m-3-52h0m10 23h0m-15 77h0m-1 0h0m-1-15h0m14 43h0m-1-115h0m5 23h0m-20 49h0m24-63h0m-9 23h0m5-42h0m5 26h0m-19 13h0m-2-1h0m19-24h0m-17 4h0m20 59h0m-13-67h0m7 51h0m-2 33h0m-6 18h0m-8 18h0m6-79h0m0-6h0m-5-42h0m18 10h0m-15 22h0m10-37h0m-30 110h0m33-46h0m-3 0h0m6 38h0m-15-92h0m12 38h0m8 36h0m-26-29h0m20 65h0m-38-7h0m8 12h0m13-90h0m12 6h0m-13-25h0m17 0h0m-9 39h0m-1 45h0m-5-37h0m8-28h0m-30 91h0m28-103h0m-4 8h0m14-22h0m-34 108h0m39-1h0m-34 12h0m32-18h0m-19-48h0m2-14h0m7-34h0m-14 50h0m-10 64h0m3-25h0m28-60h0m-12 7h0m-1-54h0m1 48h0m26 58h0m-24-22h0m-14 46h0m27-1h0m-21-61h0m4 26h0m9-45h0m-26 58h0m35 5h0m-15-74h0m1 59h0m21 24h0m-18-113h0m10 115h0m-3-26h0m-3-90h0" stroke="#d3d3d3" stroke-width="2.8" stroke-linecap="round" fill="none"/>
<path transform="scale(.5)" d="M285 165h0m3-11h0m-3 0h0m3-1h0m2 8h0m0-6h0" stroke="#d3d3d3" stroke-width="2.4" stroke-linecap="round" fill="none"/>
<path transform="scale(.5)" d="M218 69h0m-21-1h0m-127-14h0m193 168h0m-41-107h0m17 56h0m-178 49h0m167-81h0m66-59h0m-62 185h0m-205-66h0m59 43h0m-43-88h0m95 85h0m33-83h0m0 72h0m92-24h0m-66-133h0m121 23h0m-133 15h0m-124 44h0m40 52h0m102 67h0m22-7h0m-101-87h0m-36-148h0m35 232h0m-62-36h0m179 67h0m8-85h0m-61 27h0m-49 22h0m15-92h0m4 44h0m106 59h0m35-68h0m-205-148h0m-54 178h0m247-39h0m17 25h0m-40 20h0m53-133h0m-212 153h0m-103-120h0m215 30h0m68-59h0m29-20h0m-194 122h0m83-162h0m-61 57h0m-65 19h0m140-54h0m-133-50h0m44 72h0m143 150h0m-211-115h0m280-38h0m-95 54h0m-146-118h0m180 204h0m-133-4h0m101 52h0m-127-147h0m108-64h0m-214 55h0m268 175h0m-1-75h0m-124 32h0m103-34h0m-115-69h0m180-38h0m-171-69h0m-73-17h0m145 77h0m-59 146h0m114-42h0m-209-51h0m114-153h0m-110 15h0m198 227h0m-22 26h0m14-16h0m-89-5h0m68-195h0m37 213h0m-239-156h0m179 43h0m72 33h0m-195 12h0m133 37h0m22 21h0m-24-229h0m-101 74h0m-93 113h0m121 45h0m-112-130h0m38 111h0m190-38h0m-169-45h0m22 117h0m47-18h0m-81-144h0m167 143h0m-125 34h0m-82-90h0m144-65h0m-27-73h0m-33-44h0m123 201h0m-18 50h0m26-54h0m-61-131h0m-104-32h0m-44 177h0m209 19h0m-137-124h0m164 84h0m-233-121h0m184 161h0m-179 9h0m180-35h0m-87-70h0m-106-103h0m214 152h0m-63-167h0m-143-11h0m240 173h0m-227 14h0m92 19h0m66-7h0m46 45h0m-240-135h0m35 110h0m-59-70h0m235-67h0m-54 87h0m84 8h0m-21-93h0m-185-109h0m153 18h0m-159 227h0m-6-28h0m70 58h0m170-39h0m-184 10h0m-26-166h0m66 59h0m-8-110h0m-56 63h0m16 67h0m159 131h0m-126-85h0m51-141h0m74 230h0m-161-167h0m-16-92h0m266 81h0m-343-31h0m226 193h0m-43-28h0m-28-55h0m34 92h0m53-215h0m-98 201h0m16-194h0m34-45h0m72 88h0m42-22h0m-25 141h0m-272-154h0m98 198h0m-17-13h0m-47-118h0m198 138h0m30-19h0m-66-49h0m-105-40h0m-43 45h0m215 15h0m-2 41h0m-36-3h0m53-46h0m-108-139h0m-62 170h0m-24-237h0m-17 82h0m-4 151h0m26 4h0m107 8h0m107-194h0m-211-45h0m93-16h0m-72 122h0m51-1h0m-58 151h0m175-166h0m6 70h0m-28 71h0m16 11h0m5-162h0m18 19h0m-129-37h0m-13 187h0m-15-23h0m105 1h0m-170 0h0m-32-227h0m73 134h0m38 39h0m-60-120h0m-12 66h0m16 132h0m65-13h0m5-115h0m-127 35h0m190 23h0m-197-70h0m34-103h0m-70 45h0m5-33h0m7 153h0m63-115h0m-27 79h0m191 32h0m-178-40h0m-1 29h0m138 91h0m62-90h0m-82 85h0m68-68h0m24-134h0m-254-39h0m260 164h0m-33 86h0m-61-49h0m-170-82h0m-2 36h0m200 27h0m55 68h0m-165-200h0m127-54h0m-19 152h0m-66-33h0m136 105h0m-291-110h0m33 16h0m187-57h0m-43 167h0m139-157h0m-45 11h0m-198-52h0m253 33h0m-263 146h0m30 9h0m150-145h0m-137-25h0m59 79h0m-88-132h0m7 18h0m144 202h0m-40 11h0m118-158h0m-263 133h0m47-22h0m81-24h0m114 34h0m-90-51h0m-22-162h0m92 185h0m-184-65h0m165 107h0m-43-8h0m-60-244h0m164 121h0m-297 33h0m207 39h0m-75 88h0m-100-50h0m78 12h0m161-8h0m-212-75h0m183 96h0m-247-141h0m291-24h0m-6 171h0m-232-91h0m53-17h0m55 7h0m50 109h0m-152-110h0m2-152h0m224 87h0m34-3h0m-92 186h0m-214-65h0m263 70h0m-23-33h0m43-148h0m-53-26h0m-12 190h0m-30 16h0m-149-142h0m19-76h0m66 86h0m-128-41h0m46 48h0m221 67h0m-14-24h0m-45-136h0m2 229h0m-130-93h0m27-168h0m26 211h0m127-2h0m-111-52h0m60 101h0m-100-155h0m-7 66h0m-9 59h0m74 23h0m117-178h0m-226 102h0m45-50h0m167-60h0m-249 139h0m139-205h0m-160 106h0m111 71h0m-33-149h0m56 213h0m-84-76h0m197 96h0m-162-141h0m-21-133h0m-24-3h0m238 117h0m40-43h0m-143 7h0m-32 172h0m-92-154h0m201 170h0m20-80h0m-236-132h0m127 110h0m-77-34h0m170 114h0m1-45h0m-58-107h0m-147-83h0m176 252h0m25-5h0m78-166h0m-219-49h0m144 203h0m-235-166h0m171 76h0m-20 107h0m-159-176h0m41-6h0m126-20h0m26 86h0m26-113h0m-36 225h0m57-74h0m-23-112h0m-28 5h0m24 182h0m-145-64h0m154 65h0m42-132h0m-285-4h0m236 125h0m-26-39h0m-63 39h0m41-208h0m-190 88h0m154 120h0m38 22h0m-141-34h0m238-119h0m-147-93h0m-88 87h0m72 27h0m-19 133h0m-51-270h0m271 111h0m-86 143h0m-123-161h0m-98-65h0m87 236h0m-17-245h0m91-28h0m157 98h0m-47 9h0m-221-4h0m196 153h0m-114 16h0m146-137h0m-92 146h0m34-22h0m-185-80h0m-31 28h0m256-69h0m-111 103h0m116-112h0m-87 23h0m-1 95h0m31-79h0m-187 64h0m-5-112h0m111 152h0m-17 4h0m-101-109h0m145 115h0m11-77h0m-90-88h0m141 122h0m-33 37h0m-92 1h0m48-107h0m50-1h0m90-45h0m-148 104h0m-95-234h0m116 68h0m130 10h0m-12 5h0m-129 20h0m-167 55h0m282 81h0m-41 28h0m49-1h0m-231-197h0m189 220h0m-98-184h0m27-38h0m54 155h0m-196-21h0m255 1h0m-9 38h0m-199-168h0m120 94h0m63 113h0m17-86h0m-167 76h0m113-39h0m2-130h0m-22 190h0m74-100h0m-221-165h0m176 226h0m-133-58h0m102 8h0m-164-48h0m179-63h0m-62 41h0m133 54h0m-253-147h0m58-17h0m2 9h0m80 253h0m75-10h0m-50-63h0m0 81h0m109-194h0m-104-11h0m47 121h0m-60-184h0m134 86h0m-145 112h0m-35-14h0m125-11h0m-95-195h0m84 225h0m-11 53h0m-201-54h0m236-92h0m-118-107h0m1 52h0m110-8h0m-215 9h0m135 208h0m68-48h0m0 32h0m-44-233h0m-27 242h0m-11-64h0m-50 54h0m2-268h0m-101 4h0m33 125h0m11 61h0m207-49h0m-151 38h0m139-46h0m-45 141h0m58-34h0m-81-122h0m-146 118h0m251-102h0m-284 12h0m77 47h0m-62 35h0m-7-22h0m168 67h0m-125-236h0m36 76h0m16 106h0m155-112h0m-192-74h0m25 157h0m-19 26h0m75-131h0m96 30h0m-73 99h0m21 32h0m-162-66h0m178 113h0m-189-86h0m152-115h0m30 155h0m-126 24h0m96-33h0m-122-53h0m192 65h0m20-63h0m-217-129h0m210 164h0m-91 46h0m-175-93h0m131 33h0m-105-129h0m203 158h0m2-33h0m-46-76h0m0 154h0m-136-66h0m273-123h0m-68 145h0m-126-181h0m-20-40h0m223 93h0m-99-22h0m-222 119h0m262 21h0m-59 50h0m3 12h0m-155-270h0m192 229h0m-207-41h0m-34-90h0m257 68h0m-66 31h0m-41-157h0m-41-40h0m-111 102h0m54 36h0m100-74h0m-68 143h0m-63-180h0m97 180h0m-66-147h0m199 117h0m-88-141h0m-106-17h0m-15 44h0m172 192h0m-4-50h0m38-25h0m-49 6h0m-13-49h0m4 107h0m-193-224h0m62 165h0m44 58h0m113-215h0m35 160h0m-225 14h0m244-47h0m-228-129h0m135 223h0m16-133h0m-51-36h0m-151 56h0m287-71h0m-65 143h0m-207-13h0m123 56h0m-26-75h0m39 10h0m20 3h0m53 16h0m-171 10h0m107-220h0m-88 43h0m236 41h0m-329 35h0m291 98h0m-77 31h0m46-27h0m-101 32h0m123-43h0m-158-20h0m98 34h0m-128-113h0m150 101h0m47 27h0m-154-210h0m-35 209h0m168 35h0m-137-35h0m-116-147h0m133-91h0m87 228h0m77-125h0m-132 142h0m-100-209h0m-23 88h0m178 96h0m-55-179h0m31 167h0m-21-18h0m69 50h0m34-50h0m-42 77h0m-103-244h0m-76 107h0m131 17h0m-111-119h0m73-42h0m65 25h0m-14 83h0m-100 57h0m-3-45h0m67-80h0m-142 95h0m81-76h0m-85 155h0m108 55h0m136-40h0m-9-2h0m-180-164h0m-79 9h0m203 30h0m-150-87h0m235 84h0m-135 47h0m-10-91h0m-47 149h0m30-160h0m109 212h0m-39 6h0m-175-140h0m177 124h0m-104-48h0m17-86h0m8 177h0m160-47h0m8-99h0m13-22h0m-280-35h0m215 172h0m-150-247h0m155 191h0m-110-181h0m111 19h0m-83 224h0m-131-210h0m46 46h0m160 179h0m-1-10h0m-21-215h0m96 67h0m-53 159h0m-190-100h0m68 22h0m-107-60h0m12-126h0m12 179h0m1-87h0m190 111h0m-45 3h0m89 25h0m-247-168h0m235 192h0m-83-241h0m-13 239h0m-137-97h0m18-16h0m-64 12h0m202 19h0m-30-84h0m-51 170h0m44-172h0m-83 147h0m189 14h0m-26-175h0m-209 92h0m14-156h0m8 46h0m112 52h0m-126-30h0m94 33h0m-85 100h0m-4 5h0m221-19h0m-237-133h0m285 32h0m-325 14h0m24 49h0m201 106h0m101-187h0m-154-56h0m163 49h0m-111 144h0m-110-213h0m-33 18h0m137 58h0m-129 134h0m101-85h0m-85-109h0m164 184h0m-37 67h0m55-141h0m-213-104h0m195 176h0m23 66h0m-294-144h0m18 53h0m111 3h0m186-89h0m-236-68h0m135 236h0m13-38h0m5 17h0m-170-242h0m-20 192h0m100 16h0m204-113h0m-141 176h0m96-168h0m-218-72h0m-45 83h0m146-85h0m-108 218h0m209-168h0m-138 182h0m101-147h0m-74-100h0m-75 241h0m121-27h0m43 15h0m-98-232h0m28 105h0m23 132h0m72-138h0m-215 66h0m65 44h0m-87-42h0m208 13h0m-108 70h0m75-55h0m-69-196h0m-71 161h0m113 86h0m-152-100h0m233 25h0m14-123h0m-4 32h0m-181 178h0m181-54h0m-36-107h0m-69 128h0m-119-14h0m223-119h0m-5 122h0m-221-210h0m155 263h0m83-201h0m-160 174h0m-80-210h0m165 159h0m-140-137h0m-61 128h0m272-115h0m-273 94h0m263 9h0m-68 64h0m82-140h0m-180 148h0m136-218h0m-78 245h0m44-232h0m-7 155h0m-73-173h0m32-8h0m18 184h0m38-15h0m-122 80h0m-44-281h0m139 77h0m51 218h0m-37-24h0m124-175h0m-56 180h0m-273-182h0m270 22h0m42-27h0m-53 211h0m16-36h0m-17-29h0m35-93h0m-188 80h0m173 39h0m-91-43h0m78-91h0m-22-64h0m-30 226h0m-21-146h0m24 69h0m-166-165h0m173 249h0m-202-173h0m90 113h0m-17 41h0m167-56h0m-54-23h0m-8 30h0m40 46h0m48-151h0m-68 138h0m61 15h0m-151-252h0m-92 1h0m118 266h0m-156-132h0m230-24h0m-24-97h0m60 253h0m-214-100h0m210 93h0m-162-202h0m177 172h0m-26-7h0m-221-153h0m213 138h0m-28-85h0m-176-94h0m107 76h0m54 91h0m-26-92h0m-139 116h0m236-50h0m-34 25h0m-122-143h0m213 48h0m-141 93h0m-111-26h0m15 59h0m186-161h0m-75 82h0m44 100h0m9-3h0m-88-253h0m74 191h0m68-69h0m-294-37h0m226 162h0m-211-70h0m53-89h0m7-70h0m68 232h0m83-176h0m-215 109h0m87 89h0m58-87h0m-35-180h0m-75 240h0m-30-53h0m201 49h0m-15 36h0m-153-34h0m-36-33h0m100-151h0m141 142h0m-252-85h0m18-116h0m35 252h0m43-101h0m-16 5h0m174-48h0m-57-56h0m-205 111h0m3 27h0m262-74h0m-176 145h0m162-62h0m30-97h0m-156-86h0m-14-7h0m66 268h0m-148-120h0m145 73h0m-12 46h0m-143-217h0m259 129h0m-134-131h0m-25 51h0m54 164h0m-104-25h0m148-157h0m-128-13h0m66 18h0m-159 83h0m55-140h0m78-3h0m-80 93h0m231 50h0m-57 39h0m-109-41h0m-102-5h0m163-59h0m-56 145h0m145-13h0m-275-124h0m57 111h0m235-121h0m-98-86h0m150 67h0m-289 45h0m56 112h0m-59-241h0m138 132h0m-149 44h0m82 69h0m54-29h0m89 29h0m-176-4h0m131 21h0m-193-250h0m63 162h0m135-112h0m34 189h0m-213-116h0m141 67h0m-41-130h0m58-15h0m-148 61h0m204 60h0m-147-23h0m78-42h0m-145 38h0m-13 66h0m209 65h0m25-99h0m-46 8h0m-99-167h0m-26 14h0m144 177h0m-83 35h0m-98-114h0m55-151h0m-120 91h0m296 115h0m-113-23h0m-93 47h0m130-1h0m113-145h0m-227 55h0m129 112h0m-234-131h0m150 95h0m145-32h0m-57-54h0m31 147h0m-34-62h0m59-15h0m-203-24h0m39-85h0m135 106h0m-93 69h0m-74-238h0m139 249h0m-76-104h0m-118-108h0m258 1h0m-26 134h0m-171-97h0m134 184h0m-14-265h0m-15 144h0m-144-12h0m182 138h0m16-71h0m32-28h0m-262-179h0m-8 186h0m257 28h0m-212-65h0m216 104h0m-92 10h0m-171-222h0m198 219h0m-198-132h0m75-18h0m39 136h0m1-185h0m19 54h0m49 48h0m50 25h0m-214 22h0m81 30h0m-8-109h0m45-43h0m126 111h0m-78 65h0m18-45h0m-63-138h0m-8 165h0m71-12h0m27 18h0m-172-146h0m198 68h0m-123 69h0m33-69h0m-156 41h0m60-135h0m-7 168h0m68-216h0m122 87h0m59-55h0m-101 127h0m21 11h0m-67 60h0m69 13h0m-112-78h0m136-15h0m-57 61h0m-162-90h0m177 125h0m-7-72h0m-182-49h0m213 86h0m-115-210h0m-13 67h0m142 112h0m-16 28h0m-181-240h0m43 269h0m94-35h0m62-20h0m-224-44h0m-14 36h0m212 32h0m81-143h0m-94-60h0m-106-31h0m112 180h0m-2-75h0m-183 59h0m64 84h0m158 12h0m-190-156h0m-63-39h0m208 175h0m-179-13h0m139-17h0m19 54h0m-7-48h0m-48 50h0m-107-227h0m207 217h0m15 7h0m-166-173h0m-55 123h0m255-120h0m-70-24h0m-208 101h0m211-150h0m-66 29h0m-8 190h0m140-161h0m-11 15h0m-55 168h0m-42-215h0m43 165h0m-231-39h0m288-4h0m-283-48h0m57-93h0m-48 57h0m173 153h0m44-183h0m-235 12h0m155 76h0m97 113h0m-13-16h0m-8 4h0m-167-13h0m23-196h0m144 172h0m35 3h0m-194 33h0m27-147h0m20 132h0m27 9h0m-60-117h0m176 96h0m-192 6h0m66-55h0m-103-96h0m109 174h0m142-139h0m-144 28h0m105 70h0m-140 45h0m-3-48h0m67-114h0m-57-69h0m-39 91h0m89 54h0m24 24h0m27 62h0m-165-238h0m16 65h0m162 58h0m-70-93h0m66 224h0m-31-165h0m67 95h0m23 46h0m-44 27h0m53-212h0m-1 46h0m-66 28h0m-8 126h0m-4-91h0m-145-141h0m58 21h0m45 113h0m-38-127h0m-5 225h0m12-81h0m-138-126h0m142 38h0m9-29h0m112 25h0m-58-18h0m-113-29h0m157 153h0m-118-97h0m17 21h0m3-44h0m26 177h0m67-31h0m-89-190h0m-32 11h0m37-59h0m-141 113h0m117 57h0m152-61h0m-126 173h0m-132-201h0m92-2h0m129 220h0m-42-66h0m23-127h0m7-57h0m-224 88h0m279-16h0m-50 161h0m-177-67h0m154 27h0m-7-180h0m-134 192h0m-73-131h0m148 146h0m-54-265h0m112 221h0m-75-203h0m-85-4h0m102 33h0m-44 83h0m-65 100h0m-29-54h0m56 5h0m230-69h0m-74 171h0m80-186h0m-137 19h0m-78 18h0m230-18h0m-116-23h0m7 94h0m105-94h0m-218 109h0m-93-54h0m218 123h0m-64-200h0m20 216h0m-142-245h0m87-24h0m-85 184h0m258-85h0m-34 124h0m-96 7h0m-78-147h0m129 28h0m-37 61h0m28-94h0m-33 36h0m-177 56h0m191-145h0m-166 178h0m45-26h0m202-94h0m-102-66h0m-123-17h0m180 233h0m-92-109h0m140 71h0m-226-63h0m236-33h0m-260 47h0m115 70h0m76 39h0m-118-165h0m164 133h0m-30-132h0m-152 4h0m25 115h0m15-24h0m202-92h0m-104 162h0m-30-94h0m-99-91h0m21-78h0m139 211h0m-165 40h0m169-56h0m13 47h0m-104-125h0m-85-57h0m-68 135h0m267-124h0m3 95h0m-115-163h0m-120-11h0m-11 111h0m-15 97h0m260 62h0m-17-52h0m-56 43h0m56 14h0m-203-132h0m127 111h0m62-19h0m-12 53h0m-18 4h0m-82-236h0m-75 146h0m122 51h0m-99-200h0m-34 162h0m207 76h0m58-198h0m-156 181h0m158-198h0m-131 202h0m-165-275h0m76 267h0m19-75h0m27-40h0m-91-151h0m0 19h0m206 200h0m-157 51h0m176-97h0m8-82h0m-21 144h0m-146 49h0m3-206h0m164 7h0m-197-21h0m-56-18h0m24 42h0m92 51h0m-135-1h0m141-9h0m128 49h0m-199-27h0m-28-155h0m190 209h0m-133-90h0m-66 98h0m184-90h0m-137 123h0m-40-65h0m140 7h0m-34-49h0m122 49h0m-228-140h0m136 221h0m-64-38h0m142-90h0m-222-113h0m199 230h0m-199-181h0m-13 159h0m177-8h0m-129-164h0m13 195h0m-64-199h0m139 85h0m15 115h0m8-109h0m75 90h0m-6-10h0m18-62h0m6 14h0m-44 96h0m-154-23h0m139 27h0m-115-281h0m157 215h0m-222-47h0m205 77h0m-91-234h0m-85 188h0m-75-60h0m120 65h0m-50-3h0m187 65h0m-60-253h0m79 89h0m-131-87h0m127 177h0m-56 83h0m-49-147h0m54-45h0m-48 106h0m111-86h0m-77-66h0m-24 143h0m-14-91h0m-4 53h0m111-35h0m-159 94h0m48 7h0m58 0h0m-190-16h0m-24-145h0m149 227h0m-10-81h0m82-81h0m-29 157h0m29 2h0m-138-102h0m56 72h0m66 29h0m72-167h0m-39 170h0m-194-265h0m81 131h0m-11 141h0m82-243h0m-167 110h0m40-19h0m40-54h0m-51 25h0m69-9h0m70 137h0m65-12h0m-19 52h0m-195-170h0m10 119h0m87 0h0m-109-152h0m241 38h0m-245-47h0m192 177h0m50 4h0m-155 39h0m112-25h0m-118 11h0m134-78h0m-211 39h0m-2-29h0m13-161h0m-21-32h0m189 265h0m17 1h0m-216-119h0m185 64h0m-160 31h0m157 26h0m-175-39h0m188 36h0m-181-82h0m180 34h0m19 38h0m-3-184h0m3 181h0m10-19h0m-206-181h0m199-3h0m-226 127h0m132-20h0m181-49h0m-287 115h0m232-18h0m-22 57h0m-181-132h0m167-89h0m-106 146h0m87 22h0m-32 23h0m-5-227h0m36 88h0m20 144h0m-195-243h0m-29 184h0m73-68h0m28 11h0m-70 88h0m46-24h0m159 27h0m-101-185h0m34 221h0m-122-227h0m34 158h0m165 39h0m-169-7h0m135 31h0m-183-16h0m103 5h0m64 48h0m57-189h0m-217-28h0m163 191h0m93-155h0m-83 115h0m-104 60h0m150-28h0m-70-16h0m-107-28h0m172 70h0m-108-83h0m-146-101h0m165 178h0m40-7h0m-95-221h0m-115 92h0m225 97h0m-114-34h0m121 15h0m-158-192h0m-79 41h0m35 76h0m173 147h0m-36-173h0m51 181h0m-135-230h0m176 184h0m-47 18h0m-101-178h0m123 150h0m-9-13h0m-183-128h0m107 5h0m-106 21h0m249-2h0m-230 40h0m72 95h0m-100-107h0m180 97h0m-105 8h0m35 17h0m-101-112h0m-32-115h0m178 229h0m40 1h0m-182-92h0m224-91h0m-215 19h0m116 84h0m-17-117h0m72 139h0m2 75h0m-198-254h0m-2 110h0m10 76h0m230 26h0m-109 15h0m-31-194h0m-129 124h0m129 86h0m93-19h0m18-6h0m-113-81h0m-28 28h0m-53-35h0m18-8h0m75-68h0m119 198h0m-138-126h0m-73-169h0m250 96h0m-262 151h0m8-202h0m70 196h0m-58-16h0m72 26h0m137 39h0m-76-222h0m-69 221h0m154-178h0m-3 137h0m-160 38h0m92-106h0m19-69h0m-178 124h0m243-99h0m-19 119h0m-113-225h0m9 237h0m-30-5h0m103 8h0m-221-184h0m236 126h0m82-104h0m-101 124h0m-54 55h0m-80-243h0m51 69h0m-144 8h0m120 86h0m-84 47h0m28-229h0m96 241h0m-15-7h0m-85-232h0m204 174h0m-117 90h0m-55-3h0m70-49h0m57-123h0m-199 75h0m80 65h0m171-160h0m-14 32h0m-59 57h0m-116-23h0m12 117h0m19-158h0m-109 25h0m135 88h0m67-48h0m-70 83h0m135-151h0m-161-111h0m77 284h0m-53-119h0m130 38h0m-267-49h0m212 120h0m-125-74h0m24 17h0m15-107h0m99 181h0m-242-150h0m90-21h0m144 156h0m-84-25h0m36 4h0m19-200h0m-51 20h0m-8 37h0m0 76h0m-9 50h0m80 33h0m73-17h0m-218-244h0m23 26h0m61 242h0m-72-228h0m72 216h0m90 8h0m-157-142h0m73-40h0m122 110h0m-225-179h0m136 237h0m-90-51h0m6-48h0m152 107h0m13-4h0m-10-20h0m-18-50h0m-54-11h0m17 26h0m-133-24h0m221-89h0m-57 192h0m-11-170h0m40 88h0m11 70h0m-239-91h0m229 44h0m-199-224h0m8 189h0m150 70h0m-17-22h0m-196-166h0m260 206h0m-228-52h0m31 26h0m168-19h0m37 44h0m-2 1h0m-34-74h0m-56 41h0m59-8h0m64-129h0m-87 103h0m-156-188h0m-14 28h0m0 195h0m262-148h0m-198 36h0m-7-39h0m200-13h0m-115 150h0m58-5h0m-15-25h0m49-18h0m-73 80h0m-38-142h0m3 110h0m-167-36h0m20 4h0m77-12h0m-119-66h0m32-47h0m279-10h0m-53 153h0m-177-66h0m146 74h0m-21-161h0m74 186h0m34-176h0m-62 154h0m-110-117h0m111 178h0m-97-20h0m78-64h0m-86 70h0m131-140h0m-77 68h0m96-93h0m-255 88h0m63-25h0m40 109h0m9-220h0m-26 93h0m64 81h0m-140-202h0m-23 47h0m316 4h0m-68 14h0m-154 80h0m100 103h0m-110-35h0m155-43h0m-239-179h0m243 189h0m-172-29h0m186 26h0m-59 75h0m3-41h0m32-39h0m-112 22h0m-127-167h0m269 202h0m-14-25h0m-227-95h0m177 100h0m40-32h0m-254-136h0m144 184h0m114-64h0m-120-50h0m-34 103h0m-86-49h0m19 25h0m37-155h0m138 7h0m-136 78h0m-13 6h0m10-126h0m-26 129h0m141 82h0m122-160h0m-59 172h0m-232-65h0m246 3h0m-165-168h0m99 69h0m49 126h0m-173-149h0m68 193h0m47-187h0m-99 13h0m-35-52h0m61 67h0m198 6h0m-135-75h0m78 207h0m-93-147h0m5 84h0m98 55h0m-199-37h0m5-175h0m140 30h0m28 157h0m-162-181h0m5 106h0m125-3h0m-163-109h0m175 114h0m-133-62h0m182 30h0m-74 81h0m-67-38h0m153 17h0m-14 106h0m-249-265h0m-9 116h0m247 124h0m-69-18h0m13-87h0m-125-49h0m-16 30h0m162-114h0m57 88h0m-185 163h0m-64-128h0m176 119h0m-89-148h0m135 114h0m-40 47h0m50-45h0m-230-49h0m190 104h0m-23-243h0m-123 72h0m217-1h0m-250 77h0m174 99h0m5 10h0m-40-22h0m77-58h0m26-30h0m-173 85h0m137-78h0m-136 62h0m-88-30h0m-13-103h0m171 158h0m53-63h0m-164-191h0m186 168h0m-148-55h0m199-37h0m-221 84h0m190 70h0m-169-205h0m152 64h0m-214-105h0m56 15h0m175 199h0m-75-190h0m12 181h0m-10-188h0m-30 260h0m43-2h0m-4-177h0m-135 41h0m-43-128h0m-41 122h0m276 114h0m-132-36h0m34 42h0m-146-31h0m39-36h0m55-50h0m-115-57h0m201 179h0m-67-57h0m-59-47h0m-22-100h0m97 62h0m7 146h0m113-32h0m53-150h0m-269 106h0m191 76h0m24-27h0m-176-30h0m-11-194h0m23 59h0m120 132h0m-111-185h0m22 207h0m-68-118h0m65 36h0m128-24h0m-30-74h0m-74 190h0m-8-188h0m88 191h0m-11-4h0m-203-206h0m208 176h0m-217-92h0m200-81h0m-72 112h0m-118 11h0m235 37h0m-185-154h0m127 208h0m-170-54h0m-26-28h0m143 108h0m-9-272h0m92 246h0m50-161h0m22-1h0m-225 12h0m33 94h0m-71-195h0m80 27h0m-31 241h0m-59-52h0m242 53h0m-124-16h0m-134-241h0m1-4h0m205 234h0m39-14h0m-54 21h0m-149-172h0m106 206h0m11-108h0m79 117h0m76-197h0m-121-47h0m-14 114h0m-155-48h0m231 16h0m-66-6h0m-203-46h0m286 39h0m-63 173h0m-3-58h0m-56-209h0m10 135h0m35 91h0m31-54h0m-12 89h0m-130-37h0m-104-55h0m101-195h0m192 86h0m-74-13h0m-156 123h0m-2-6h0m200 77h0m-90 15h0m-112-274h0m56 79h0m-70 12h0m218 172h0m-27-185h0m-184 118h0m57-8h0m128-117h0m4 115h0m31 31h0m12-84h0m-198-131h0m24-2h0m101 111h0m42 120h0m-100 33h0m-102-143h0m139 102h0m97-91h0m-51-41h0m-58 83h0m-59 68h0m142 3h0m-220-4h0m-29-54h0m192-128h0m-31-5h0m-57 57h0m-76 71h0m226 46h0m-19 4h0m-18 17h0m33-128h0m4 80h0m-108 72h0m94 15h0m-186-161h0m185 121h0m-105-162h0m33 189h0m104-200h0m-260 142h0m188 38h0m-114-72h0m9 71h0m49-186h0m-72 142h0m81-67h0m-134 83h0m154 54h0m-29-219h0m-32 219h0m151-19h0m-3-163h0m-122 120h0m-46-30h0m188-71h0m-298-37h0m186-27h0m82 191h0m-28-6h0m-42-47h0m-68-106h0m33 178h0m-22-214h0m-21 131h0m110 63h0m-85-245h0m-112 109h0m137 149h0m-120-134h0m43-3h0m-89 4h0m51-113h0m-18 213h0m84-189h0m120 196h0m-129-206h0m209 50h0m-131 54h0m-194 2h0m68 71h0m85 27h0m-106-179h0m159 129h0m-155-62h0m207 175h0m-4-18h0m-85-36h0m4 28h0m-14-111h0m68-90h0m44 53h0m9 136h0m-199-41h0m46-142h0m30 207h0m4-15h0m135-156h0m-95-36h0m27 132h0m-141-78h0m198 5h0m-199-55h0m-61 86h0m231 38h0m-116 47h0m23-74h0m-128 49h0m214 7h0m-206-185h0m280 72h0m1-36h0m-200 92h0m29 107h0m-26-51h0m96 39h0m-115-137h0m62 18h0m-122 29h0m155-97h0m-115-31h0m232 65h0m-174-14h0m130-22h0m-189 42h0m-21 92h0m-16-198h0m217 183h0m-1 18h0m-204-82h0m211 53h0m-179-28h0m-4-3h0m83-148h0m-40 86h0m-65 19h0m187 139h0m-68 30h0m-175-104h0m200 53h0m-199-119h0m49-112h0m-2 69h0m202 152h0m-136 58h0m-53-192h0m117 192h0m90-11h0m-261-65h0m177 36h0m-66-199h0m136 153h0m-68 87h0m62 15h0m-174-124h0m-70 18h0m151 81h0m-64-41h0m134 47h0m-24-266h0m-206 76h0m306 7h0m-62 140h0m-127-185h0m28 122h0m135 102h0m-26-29h0m-196-238h0m-26 130h0m165 130h0m33-205h0m-120 72h0m-78 104h0m247 17h0m-224-107h0m219-8h0m-155 139h0m143-91h0m-56 77h0m2 6h0m23-180h0m-39 193h0m-161-67h0m-36-80h0m122 80h0m-52 31h0m117-88h0m-181-19h0m172-15h0m79 171h0m-54-34h0m48 14h0m-19-54h0m53-24h0m-11 79h0m-48-22h0m22 10h0m39-46h0m-259-131h0m76-37h0m-22 183h0m-12-22h0m214-9h0m-78-145h0m-57 94h0m-18 68h0m19 52h0m-37-200h0m11-8h0m27 198h0m-5 7h0m22-210h0m-127 142h0m55-47h0m72 128h0m122-65h0m19-108h0m-161 167h0m-54-52h0m-23-99h0m48 65h0m72-83h0m-34 173h0m-121-276h0m257 104h0m-256 70h0m27-159h0m192 171h0m-159-74h0m19 12h0m-77-105h0m-27 152h0m31 40h0m46-176h0m236 32h0m-153 36h0m122 24h0m-188 104h0m-81-101h0m285-44h0m-149 81h0m-153-32h0m287 31h0m-81 85h0m-5-113h0m-165-125h0m61 18h0m-56 15h0m222 229h0m-23-72h0m-78 68h0m28-140h0m-183 35h0m246 117h0m-156-13h0m-88-126h0m189 31h0m-170 25h0m241-11h0m-212 46h0m34-10h0m-75-144h0m208 158h0m-2 26h0m-160-39h0m52-196h0m193 59h0m-229 172h0m158 23h0m-151-276h0m-85 135h0m285 30h0m-148 39h0m116 16h0m-155-41h0m-56-142h0m-5 121h0m176 77h0m19 20h0m-178-235h0m5 213h0m57-16h0m143-39h0m-259-127h0m205 35h0m12 24h0m28 69h0m-137-108h0m65 60h0m85 99h0m-180-213h0m40 248h0m19-144h0m-104 21h0m246 98h0m-227-187h0m207 182h0m-5 7h0m-174-146h0m201 83h0m-219-104h0m-12-28h0m93-31h0m136 68h0m-101 178h0m37-173h0m-5 133h0m36 60h0m43-206h0m-213-36h0m134 31h0m-183 5h0m108-65h0m-41 9h0m95 223h0m-114-223h0m-4 117h0m185 133h0m-131-8h0m115 22h0m-226-148h0m250 96h0m12 11h0m-198-198h0m36 70h0m-66 69h0m94-138h0m-89-18h0m238 24h0m-156-55h0m142 200h0m-252-49h0m219 40h0m-14 55h0m56-54h0m-267-43h0m103 39h0m54-36h0m33 91h0m6-74h0m51 85h0m-227-61h0m164-172h0m0 33h0m29 150h0m-7 26h0m89-119h0m-140-97h0m48 222h0m-128-212h0m45 7h0m20 97h0m45 46h0m-62 95h0m131-13h0m-110-138h0m60 111h0m-30-138h0m28-9h0m-125 69h0m160 106h0m-59-172h0m-20 77h0m30-20h0m-204 29h0m2-121h0m291 16h0m-45 162h0m-63-2h0m29 22h0m36-56h0m16-14h0m-76 63h0m-159-185h0m177 76h0m14-10h0m9 71h0m33-80h0m-33 94h0m1-169h0m-38-4h0m131 45h0m-281-20h0m234 194h0m-234-85h0m204 54h0m-120 38h0m138-166h0m-272 60h0m184 62h0m35-210h0m-185 50h0m207 34h0m-207-16h0m204-39h0m12 182h0m-6 0h0m-36-212h0m-135 2h0m-45 174h0m70-16h0m7 66h0m-29-123h0m168 126h0m-112-56h0m-91-12h0m194 81h0m-210-181h0m243 31h0m-33 100h0m-204 9h0m3-152h0m203 188h0m-189-3h0m113-70h0m-54-11h0m-75-110h0m288 18h0m-55 23h0m-206-54h0m250 68h0m-290-56h0m47-35h0m147 183h0m13-82h0m-222-61h0m12 132h0m185-89h0m-168-68h0m141 208h0m100-102h0m-120 8h0m95 51h0m82-106h0m-45 97h0m-76 90h0m72-97h0m-34 81h0m-229-83h0m209 91h0m31-68h0m-245-154h0m25 111h0m190 91h0m-15-34h0m-123-134h0m28 27h0m-114 82h0m176 72h0m92-62h0m-35 19h0m-11 5h0m-3-97h0m-20 48h0m-94 59h0m9-76h0m14 30h0m-40 22h0m47 4h0m24 41h0m12-226h0m51 93h0m-115-63h0m62 204h0m-2-19h0m52-173h0m-152 13h0m-37 112h0m119-160h0m-132 79h0m207 170h0m34-82h0m-267-52h0m41 0h0m134-129h0m-152 112h0m244-29h0m-164 34h0m-82 65h0m13 14h0m84 36h0m21-127h0m-79 63h0m140 88h0m-123-82h0m-28-139h0m195 169h0m-70-36h0m-142-174h0m239 233h0m-142-73h0m55 7h0m-41-64h0m115 67h0m56-120h0m-312 60h0m154 87h0m7-136h0m32 16h0m0 98h0m47 29h0m-122-32h0m111 99h0m-27-207h0m32 168h0m-32-104h0m-54-104h0m151 143h0m-299-109h0m236 129h0m-22-88h0m-3 118h0m18-110h0m-232 44h0m122-111h0m79 199h0m-168-44h0m189 3h0m-45-61h0m-64 118h0m214-185h0m-230 16h0m83 166h0m-44-36h0m-68-76h0m114 16h0m-13 27h0m57-123h0m10-18h0m16 177h0m-128-18h0m-80 8h0m109-25h0m-14-145h0m34 124h0m-126-102h0m14 92h0m206 81h0m-169-104h0m85 124h0m76-59h0m-116-34h0m89 84h0m-184-131h0m274-22h0m-161 152h0m77-60h0m-140-127h0m-17-56h0m-15 213h0m231-114h0m-17 87h0m51-114h0m-66 181h0m-208-183h0m-39-14h0m271 7h0m-193-77h0m52 171h0m4 87h0m-61-158h0m127-70h0m-133 170h0m90 69h0m-47 8h0m-22-32h0m-4-168h0m78-7h0m39 173h0m59-16h0m-29 17h0m92-150h0m-161 156h0m24-31h0m-67 17h0m89 6h0m-171-24h0m98-219h0m-83 197h0m182 84h0m-196-179h0m-6-104h0m240 133h0m-154 143h0m-47-225h0m167 166h0m-140-76h0m193-51h0m-192-19h0m-53 74h0m-32-132h0m-9 16h0m242 204h0m-51-18h0m-24 11h0m-86-213h0m132 213h0m-58-118h0m-157 87h0m223 49h0m-196-38h0m70 28h0m153 44h0m-4-91h0m4 78h0m-73-12h0m-28-194h0m9 211h0m35-12h0m-98-122h0m-13 25h0m-56-51h0m132-97h0m58 25h0m-234 112h0m275 100h0m-202-43h0m70-183h0m-35 95h0m123 147h0m7-74h0m-153-170h0m172 214h0m-210-222h0m234 126h0m-185-17h0m52-109h0m-6-19h0m-42 157h0m36 15h0m-112-3h0m-8-21h0m23 62h0m238-84h0m-91 13h0m105-51h0m-246 137h0m33-27h0m225-74h0m-9-8h0m-294 23h0m249 145h0m-117-154h0m130 117h0m-171-148h0m-42 20h0m258 11h0m-268-42h0m243 98h0m-124-148h0m92 159h0m-24 10h0m59 18h0m-4-91h0m-58 78h0m43 4h0m-199-115h0m-3 104h0m43-181h0m-47 137h0m181-79h0m-226-30h0m24 91h0m273-55h0m-215-3h0m148 118h0m-200-128h0m125 30h0m-141 81h0m194 49h0m57-98h0m-12 64h0m-214 47h0m3-28h0m151 24h0m-131-78h0m200 65h0m-121-14h0m49 54h0m46-19h0m-182-225h0m208 218h0m9-53h0m-94 86h0m23-36h0m44 37h0m-99-282h0m114 206h0m-196-164h0m132 135h0m46 78h0m-63 31h0m-124-171h0m212 158h0m-58-234h0m-95-16h0m85 101h0m111-33h0m-269 118h0m213 42h0m-254-157h0m114-77h0m133 211h0m26-14h0m-253-39h0m244 94h0m-40 3h0m16 14h0m-197-68h0m102-170h0m65 237h0m-17-33h0m88-123h0m-278 74h0m-12-52h0m17 46h0m86 5h0m111 88h0m-130-258h0m152 182h0m-191-211h0m110 236h0m21-217h0m13 213h0m20-172h0m49 194h0m-205-200h0m15 30h0m27-72h0m-66 135h0m180 82h0m-19-160h0m-17 204h0m-71-5h0m186-145h0m-251 104h0m215 22h0m34-83h0m-45 88h0m-74-6h0m-145-209h0m200 173h0m-114 30h0m101-195h0m59 51h0m14 90h0m-6 50h0m-107-118h0m120-16h0m-26 103h0m-27 82h0m-196-231h0m91-4h0m76 99h0m-72-53h0m148 91h0m7-98h0m-81 106h0m-86-3h0m161-94h0m-171 39h0m-112-51h0m271 90h0m-200-142h0m195 157h0m-165-88h0m108 22h0m15 104h0m-4-4h0m10 25h0m-154 6h0m33-103h0m145 35h0m-137-19h0m100 89h0m14-198h0m-39 214h0m29-175h0m-2 154h0m-19-232h0m-139 154h0m73-180h0m-86 179h0m96 79h0m13-100h0m-137 72h0m177 55h0m37-46h0m38-145h0m-67 136h0m101-146h0m-175 147h0m-107-46h0m190-30h0m-84-138h0m119 248h0m-151-61h0m70-152h0m-79 116h0m-59 58h0m195 35h0m-151-88h0m94 4h0m-77 93h0m115-171h0m62 179h0m-27 9h0m-190-150h0m30 70h0m46-79h0m138-19h0m-69 151h0m-14-70h0m-130-195h0m-15 234h0m83-83h0m-83-152h0m31 238h0m168-186h0m-197 138h0m107 86h0m13-11h0m-108-110h0m217 76h0m-158 50h0m112-41h0m-45-135h0m-111-35h0m196 173h0m-197-2h0m136 24h0m70-36h0m-144-215h0m-93 145h0m140-45h0m-95 146h0m213-170h0m-15 159h0m-257-201h0m75 47h0m56 115h0m-49-192h0m-23 66h0m-89 18h0m70 134h0m133-3h0m-66-122h0m155 86h0m-252-139h0m23 151h0m182 21h0m39-158h0m-186-62h0m134 13h0m38 232h0m-254-191h0m190 219h0m-3-66h0m-4-138h0m113 24h0m-168-50h0m-68 73h0m-21 95h0m74-173h0m169 77h0m-82 27h0m-205 16h0m254 120h0m-134-31h0m-7-217h0m-44 219h0m156 11h0m-190-214h0m29-12h0m193 187h0m-207-204h0m203 193h0m-228-192h0m127 65h0m95 139h0m-106 0h0m54 15h0m-103-171h0m127 21h0m54 37h0m-11 138h0m-24-54h0m-164-187h0m-38 184h0m53 37h0m171-7h0m-153 27h0m-80-243h0m56 157h0m-29-155h0m83 78h0m-14 107h0m-94-84h0m14-102h0m139 259h0m-48-151h0m74 24h0m-22-59h0m0 185h0m-63-38h0m91 28h0m-17 8h0m42-66h0m-132 41h0m146 1h0m-122-184h0m-76-45h0m106-18h0m81 241h0m-195-80h0m206 71h0m-76-192h0m23-22h0m-30 126h0m105 81h0" stroke="#f7f7f7" stroke-width="3" stroke-linecap="round" fill="none"/>
</g></defs>
<text x="717.3" y="89.5" font-size="24" text-anchor="middle">Olfr728</text>
<g transform="translate(643 103)"><use href="#ub"/>
<path d="M72.1 1.5C72.5 .1 75.4 -2.7 78.7 -3.1C82 -3.5 87.7 -3 91.8 -1.1C95.9 .8 100.8 4.8 103.6 8.1C106.4 11.4 108.6 15.8 108.8 18.6C109 21.4 107.1 24.5 104.9 25.1C102.7 25.8 98.8 23.6 95.7 22.5C92.6 21.4 88.5 20.8 86.5 18.6C84.5 16.4 85.6 11.6 83.9 9.4C82.2 7.2 78.1 6.8 76.1 5.5C74.1 4.2 71.7 2.9 72.1 1.5Z" fill="#f08474"/>
<path transform="scale(.5)" d="M125 6h0m4 1h0m-42 41h0m68-21h0m10 18h0m4 5h0m4 9h0m11-4h0m-21 14h0m2 3h0m55-6h0m-59 51h0m1 8h0m45 51h0m4 6h0m3 6h0m-22-132h0m8 4h0m-22-12h0m-38-42h0m148 157h0m3 2h0m6 4h0m2 3h0m5 3h0m4 5h0m4 3h0" stroke="#f08474" stroke-width="6" stroke-linecap="round" fill="none"/>
</g>
<text x="930.2" y="89.5" font-size="24" text-anchor="middle">Olfr741</text>
<g transform="translate(855.9 103)"><use href="#ub"/>
<path transform="scale(.5)" d="M35 219h0m36 19h0m-57-75h0m94 42h0m-97-43h0m4 2h0m40 10h0m46 59h0m-38-26h0m6-9h0m-23 28h0m54-6h0m1-25h0m-24 39h0m27-28h0m-27 1h0m-8 8h0m20 6h0m26-8h0m-29-1h0m16-7h0m-75 2h0m78 14h0m-27-11h0m-50-39h0m31 0h0m-43 0h0m26 35h0m61 11h0m-3-14h0m-36 42h0m-13-59h0m-37 0h0m-8-25h0m56 57h0m-57-43h0m70 63h0m1-56h0m-40 40h0m25-21h0m-29 5h0m37 4h0m-60-57h0m11 38h0m15 29h0m29-28h0m36 19h0m11 20h0m-20-32h0m2 13h0m-56-15h0m14 20h0m38 15h0m7-40h0m-7 30h0m-13-9h0m-32 9h0m43-19h0m-9 37h0m-73-68h0m67 30h0m8 30h0m0-3h0m1-20h0m-4 16h0m3 2h0m-1 4h0m-11-23h0m7 8h0m5 31h0m8-30h0m-1 6h0m-11-11h0m-2 13h0m12-11h0m-5 15h0m3-8h0m-15 3h0m-4-3h0m24-10h0m-5-6h0m2 31h0m-7-8h0m-1-16h0m9 6h0m-17 5h0m17 1h0m-12-14h0m26-5h0m-11 17h0m2-20h0m-2 14h0m2-9h0m-19 5h0m12 2h0m-1 7h0m-9-8h0m9 11h0m3-9h0m-20 9h0m22-9h0m-7 0h0m-2-1h0m4-3h0m4 2h0m-6-12h0m11 20h0m-8-19h0m-5 5h0m-7 9h0m-56-41h0m0 14h0m6 0h0m-14-8h0m8 2h0m3 5h0m1 9h0m0-2h0m9-23h0m-14 23h0m11-23h0m-5 15h0m-1-5h0m0-3h0m-9 16h0m13-8h0m-15-6h0m3 15h0m6 1h0m-1-18h0m-4 17h0m3-6h0m4-7h0m-4-9h0m0 23h0m4-23h0m31 24h0m28 12h0m-14-4h0m-1 9h0m-23-10h0m39-1h0m-20-1h0m-10-1h0m4-24h0m4 20h0m49-56h0m19 67h0" stroke="#dca136" stroke-width="6" stroke-linecap="round" fill="none"/>
</g>
<text x="1143.1" y="89.5" font-size="24" text-anchor="middle">Olfr1260</text>
<g transform="translate(1068.8 103)"><use href="#ub"/>
<path transform="scale(.5)" d="M115 61h0m2-1h0m1-3h0m1-1h0m3-1h0m2 0h0m3-3h0m4-1h0m3 0h0m3 3h0m0-3h0m3 2h0m4 2h0m0 3h0m2 0h0m2 2h0m-23-1h0m0 0h0m-9 1h0m5-3h0m-6-1h0m6 1h0m90 5h0m8 13h0m-11 1h0m10 1h0m-5 4h0m7-2h0m-5-6h0m5 4h0m-11 7h0m3-2h0m4-4h0m-2 6h0m-2-1h0m-1-1h0m11-5h0m-9-4h0m-5 8h0m10 2h0m1 0h0m-6-10h0m-1 21h0m-5-20h0m19 2h0m-12 11h0m0-12h0m7 11h0m-4-16h0m0 5h0m-6-2h0m2 3h0m-6-4h0m-2-6h0m8 12h0m5 5h0m-13-6h0m4 4h0m0 2h0m2-9h0m-2 2h0m5 8h0m11-4h0m7-7h0m-20 7h0m-7-3h0m7 8h0m21-20h0m-16-12h0m-18 18h0m27-2h0m-29 10h0m7 7h0m-12-7h0m45-13h0m-31 30h0m3-31h0m24 30h0m4-19h0m-37-3h0m30 14h0m-68-73h0m65 20h0m-40 13h0m-75-8h0m43 88h0m10 17h0m12 20h0m33 7h0m62-17h0m40 33h0m-127-88h0m12-2h0m38 7h0m-15-1h0m20-39h0m-3 20h0m-49 10h0m4 6h0" stroke="#b3aa35" stroke-width="6" stroke-linecap="round" fill="none"/>
</g>
<text x="1356" y="89.5" font-size="24" text-anchor="middle">Olfr390</text>
<g transform="translate(1281.7 103)"><use href="#ub"/>
<path d="M51.5 5C51.7 3.8 52.8 2.2 54 1.5C55.2 .8 57.3 .3 58.5 1C59.7 1.7 60.1 5 61 5.5C61.9 6 62.5 4.2 64 4C65.5 3.8 68 3.8 70 4.5C72 5.2 74.5 6.4 76 8C77.5 9.6 78.7 12 79 14C79.3 16 79 18.6 78 20C77 21.4 75 22.4 73 22.5C71 22.6 67.7 21.8 66 20.5C64.3 19.2 63.6 16.8 63 15C62.4 13.2 63.3 10.5 62.5 9.5C61.7 8.5 59.6 9.2 58 9C56.4 8.8 54.1 9.2 53 8.5C51.9 7.8 51.3 6.2 51.5 5Z" fill="#5eae3a"/>
<path transform="scale(.5)" d="M106 33h0m40 15h0m17 89h0m-51-127h0m8-4h0" stroke="#5eae3a" stroke-width="6" stroke-linecap="round" fill="none"/>
</g>
<text x="1568.9" y="89.5" font-size="24" text-anchor="middle">Olfr1440</text>
<g transform="translate(1494.6 103)"><use href="#ub"/>
<path transform="scale(.5)" d="M238 29h0m-4 10h0m10 21h0m2 33h0m2-50h0m-11-5h0m16 42h0m-16-7h0m21-1h0m-14 26h0m3-6h0m-15-57h0m12 24h0m2-18h0m-5 22h0m10 3h0m0 8h0m-2-2h0m13 19h0m-29-67h0m13 0h0m-5 61h0m13-27h0m-9-9h0m8 21h0m-9-1h0m10 5h0m-13 0h0m-2 0h0m12-24h0m8 42h0m-9-23h0m-5-9h0m15 37h0m-22-50h0m17 9h0m-17-3h0m5-17h0m10 42h0m-20-53h0m18 40h0m5 5h0m-15-18h0m1 25h0m1-4h0m1-45h0m15 64h0m-24-58h0m3-6h0m16 51h0m-19-49h0m16 48h0m-2 13h0m-18-66h0m8 23h0m-2-18h0m10 48h0m-13-43h0m7 48h0m-8-43h0m23 15h0m-18 19h0m18 11h0m-5-34h0m-20-17h0m18 65h0m-6-40h0m12 38h0m-9-27h0m-16-40h0m17-2h0m7 25h0m-6 35h0m-10-4h0m10-21h0m6 29h0m-12-32h0m2 41h0m-2-13h0m8-2h0m2-7h0m9-7h0m-22 8h0m4-27h0m-1-16h0m11 26h0m-12 23h0m-5-56h0m3 47h0m1-21h0m15 36h0m-15-7h0m21-5h0m-19 5h0m-9-60h0m22 40h0m-21-33h0m11 2h0m-4-12h0m17 45h0m2 8h0m-10 16h0m-11-46h0m11 45h0m-6-54h0m11 43h0m-7-8h0m-11-40h0m5 53h0m2-16h0m-11 43h0m67-25h0m17 99h0m-64-151h0m10 68h0m-27-4h0m20-58h0" stroke="#52c09a" stroke-width="6" stroke-linecap="round" fill="none"/>
</g>
<text x="717.3" y="290" font-size="24" text-anchor="middle">Olfr1030</text>
<g transform="translate(643 312.3)"><use href="#ub"/>
<path transform="scale(.5)" d="M294 202h0m-52 9h0m7 9h0m21 4h0m-22 10h0m8-2h0m6 4h0m8 1h0m8-3h0m-11 10h0m7 3h0m-11 5h0m15 3h0m9-6h0m-22 15h0m4 4h0m23 2h0m-4 8h0m7-1h0m-12 12h0m7-3h0m-23 8h0m-2 5h0m6-3h0m-12-36h0m-159-241h0m73 116h0m5 17h0m88 82h0m-8 1h0m14-3h0m19 42h0m1 7h0" stroke="#48b9c9" stroke-width="6" stroke-linecap="round" fill="none"/>
</g>
<text x="930.2" y="290" font-size="24" text-anchor="middle">Olfr571</text>
<g transform="translate(855.9 312.3)"><use href="#ub"/>
<path transform="scale(.5)" d="M67 213h0m-16 23h0m63-11h0m29 0h0m10-2h0m16 2h0m11-6h0m-97 33h0m26-3h0m-18 13h0m34-18h0m13-3h0m10 11h0m8 2h0m-13 5h0m-5 6h0m8 2h0m-16 3h0m-5 10h0m8 3h0m-3 8h0m-32-18h0m11 7h0m44 0h0m16 3h0m-52-21h0m149-29h0m-126 24h0m16 0h0m-8-1h0m-5-1h0m7 7h0m-12-19h0m-4 10h0m5 9h0m5-3h0m5-10h0m0 17h0m-12-9h0m-1 8h0m18-13h0m-9 1h0m3 6h0m-1-2h0m-6 7h0m-10 14h0m-2-7h0m6 8h0m-5 5h0m4-14h0m0 11h0m0-11h0m6 3h0m-9 29h0m1-28h0" stroke="#4aaae8" stroke-width="6" stroke-linecap="round" fill="none"/>
</g>
<text x="1143.1" y="290" font-size="24" text-anchor="middle">Olfr1507</text>
<g transform="translate(1068.8 312.3)"><use href="#ub"/>
<path d="M15 14.4C15.3 11.2 16.6 5.8 18.8 2.9C21 0 24.8 -2.2 28.3 -2.8C31.8 -3.4 36.9 -2.5 39.8 -.9C42.7 .7 44.8 3.5 45.5 6.7C46.2 9.9 45.9 16 44.3 18.2C42.7 20.4 39.3 19.9 36 20.1C32.7 20.3 27.7 19 24.5 19.3C21.3 19.6 18.5 22.8 16.9 22C15.3 21.2 14.7 17.6 15 14.4Z" fill="#9d9ff6"/>
<path transform="scale(.5)" d="M26 55h0m15-3h0m-22 26h0m-4 8h0m2-4h0m66-4h0m23-47h0m19 3h0m4 79h0m27 25h0m11-2h0m-148 28h0m291 21h0m-2 3h0m-189 54h0m-43-190h0m-12 3h0m28-15h0m-8 8h0" stroke="#9d9ff6" stroke-width="6" stroke-linecap="round" fill="none"/>
</g>
<text x="1356" y="290" font-size="24" text-anchor="middle">Olfr806</text>
<g transform="translate(1281.7 312.3)"><use href="#ub"/>
<path transform="scale(.5)" d="M275 138h0m13-25h0m5 9h0m17-9h0m-17 12h0m-9-5h0m14 3h0m-12 10h0m31-24h0m-31 13h0m18 1h0m-22-2h0m-5-7h0m26 4h0m-13 6h0m24-21h0m-9 0h0m-18 27h0m1-12h0m-9 20h0m3-11h0m3 8h0m5-21h0m17-8h0m2-2h0m9-5h0m-47 39h0m23-21h0m32-14h0m-27 1h0m-5 5h0m-10 9h0m3 2h0m-21 11h0m32-11h0m13-8h0m-25 10h0m26-10h0m8-14h0m-10 3h0m-41 36h0m14 7h0m8-30h0m3 0h0m-8 6h0m7 1h0m7 6h0m-4-7h0m-107 44h0m31-7h0" stroke="#df8aee" stroke-width="6" stroke-linecap="round" fill="none"/>
</g>
<text x="1568.9" y="290" font-size="24" text-anchor="middle">Olfr536</text>
<g transform="translate(1494.6 312.3)"><use href="#ub"/>
<path d="M.9 61C2.3 59 7.2 59 9.2 61C11.2 63 10.2 71.1 12.8 72.9C15.4 74.7 19.8 71.7 24.7 71.7C29.6 71.7 37.5 71.1 42.5 72.9C47.5 74.7 51.8 79.3 54.4 82.5C57 85.7 58.4 89.6 58 92C57.6 94.4 54.9 95.7 52.1 96.7C49.3 97.7 45 97.9 41.4 97.9C37.8 97.9 33.4 98.1 30.6 96.7C27.8 95.3 27.3 91.6 24.7 89.6C22.1 87.6 18.4 86 15.2 84.8C12 83.6 8 84.5 5.6 82.5C3.2 80.5 1.7 76.5 .9 72.9C.1 69.3 -.5 63 .9 61Z" fill="#f67fc1" opacity=".6"/>
<path transform="scale(.5)" d="M45 156h0m7-7h0m30 48h0m5-35h0m-11 23h0m-55-35h0m0 2h0m42 56h0m-21-52h0m-10-10h0m39 32h0m30 6h0m-58 9h0m-36-69h0m82 55h0m-42-6h0m-44-46h0m39 21h0m-6 30h0m-5-8h0m-9-1h0m-9-45h0m59 48h0m-9-13h0m-45 14h0m42-27h0m11 4h0m-36-7h0m18 34h0m58 12h0m-109-59h0m61 17h0m56 46h0m-101-29h0m22 24h0m53-16h0m-87-31h0m55 38h0m13 3h0m7 23h0m-66-65h0m97 38h0m-108-53h0m73 42h0m-15 5h0m-17 2h0m61 20h0m-92-28h0m21-4h0m56-7h0m-34 34h0m30-31h0m-21 58h0m-30-37h0m41 29h0m-34-46h0m-41-10h0m10-24h0m14 46h0m-6 4h0m28-8h0m53 7h0m-46 14h0m36 13h0m-30-55h0m28 51h0m-7 7h0m11-22h0m7-14h0m-20-23h0m-11-5h0m-7 6h0m-27-5h0m41 18h0m-7 52h0m10-60h0m-1 35h0m27-1h0m-42-9h0m-11 7h0m19 0h0m-3-18h0m19 35h0m27-12h0m-78-21h0m4 16h0m28-7h0m36 6h0m-19 5h0m-12-29h0m22 25h0m21-3h0m-47 10h0m-27-33h0m35 9h0m-32-8h0m0 14h0m-5 0h0m13 16h0m21-38h0m-36 40h0m57-6h0m-75-54h0m24 49h0m55 17h0m-92-52h0m58 18h0m30 3h0m-73-36h0m50 71h0m-20-22h0m-44-28h0m59 69h0m-16-27h0m-3-44h0m-43-19h0m79 64h0m-10 5h0m-20-28h0m47-4h0m8 27h0m-67-14h0m-9-16h0m20 1h0m-38-20h0m33 32h0m54-19h0m5 39h0m-101-54h0m64 21h0m-65-6h0m73 36h0m-64-61h0m62 22h0m25 17h0m-30 35h0m-40-21h0m-9-19h0m3-4h0m-10-11h0m13-3h0m4-8h0m27 28h0m6 14h0m-38-42h0m-2 37h0m25-16h0m25-8h0m8-1h0m-35-9h0m-29 2h0m23 33h0m-40-49h0m78 57h0m-67-25h0m36-5h0m29 40h0m-1-2h0m-63-52h0m54 53h0m-54-66h0m48 58h0m-27-12h0m-3 11h0m38 18h0m23-16h0m-30-9h0m-18-8h0m45-10h0m12 20h0m-71 0h0m31-10h0m24-3h0m-29-11h0m58 33h0m-94-20h0m68 12h0m-72-50h0m-9-1h0m69 74h0m-54-45h0m16-10h0m35 36h0m43 0h0m-87-50h0m-22 22h0m52 17h0m2-10h0m0-7h0m10 55h0m15-52h0m16 32h0m-47-20h0m10 27h0m-31-29h0m55 9h0m-45-35h0m24 21h0m17 28h0m-20 3h0m6-34h0m-13 3h0m27 7h0m-22 13h0m11-7h0m-15-18h0m14 28h0m-7-11h0m-17-14h0m37 3h0m-29 3h0m17 8h0m7 7h0m-22-2h0m10 6h0m3-14h0m21 7h0m-5-30h0m1 17h0m-13 8h0m19-14h0m-27 4h0m16 2h0m-12 6h0m-11-5h0m10 1h0m2 5h0m-28-1h0m19 12h0m10-4h0m-8-15h0m-4-6h0m18 24h0m-15-11h0m10 7h0m-5-15h0m27 11h0m-8-4h0m7-3h0m3 3h0m-23 5h0m4-12h0m-9 15h0m14 4h0m-32 2h0m24-12h0m32 1h0m-30-24h0m-18 6h0m-1 11h0m24-23h0m-12 26h0m-18 9h0m35 9h0m5-36h0m1 18h0m-55-7h0m26-5h0m18 28h0m6-21h0m-22 15h0m-2-10h0m29 5h0m-22 11h0m5-13h0m-8 3h0m-34-11h0m41 14h0m1-13h0m-15 4h0m9-16h0m8 16h0m9 13h0m-12-9h0m-7-3h0m20-11h0m-36 20h0m4 2h0m16-15h0m1 15h0m-65-51h0m1 20h0m-3-26h0m2 16h0m-1 9h0m4-7h0m-4-37h0m-8 33h0m5 0h0m3-19h0m-2 31h0m6-4h0m-6 5h0m3-23h0m-4 0h0m-5 15h0m-3-2h0m2-2h0m11 20h0m-3-20h0m-9-5h0m14 10h0m-11-14h0m5 11h0m13-4h0m121 14h0m15 4h0m-15 17h0m52-22h0m11 43h0m93-9h0m-134 99h0m5 2h0m-50-130h0m13 10h0" stroke="#f67fc1" stroke-width="6" stroke-linecap="round" fill="none"/>
</g>
<path d="M40.5 727.5h79.1v88h-79.1zM40.5 815.5h79.1v88h-79.1zM119.6 815.5h79.1v88h-79.1zM40.5 903.4h79.1v88h-79.1zM119.6 903.4h79.1v88h-79.1zM198.6 903.4h79.1v88h-79.1zM40.5 991.4h79.1v88h-79.1zM119.6 991.4h79.1v88h-79.1zM198.6 991.4h79.1v88h-79.1zM277.7 991.4h79.1v88h-79.1zM40.5 1079.3h79.1v88h-79.1zM119.6 1079.3h79.1v88h-79.1zM198.6 1079.3h79.1v88h-79.1zM277.7 1079.3h79.1v88h-79.1zM356.7 1079.3h79.1v88h-79.1zM40.5 1167.2h79.1v88h-79.1zM119.6 1167.2h79.1v88h-79.1zM198.6 1167.2h79.1v88h-79.1zM277.7 1167.2h79.1v88h-79.1zM356.7 1167.2h79.1v88h-79.1zM435.8 1167.2h79.1v88h-79.1zM40.5 1255.2h79.1v88h-79.1zM119.6 1255.2h79.1v88h-79.1zM198.6 1255.2h79.1v88h-79.1zM277.7 1255.2h79.1v88h-79.1zM356.7 1255.2h79.1v88h-79.1zM435.8 1255.2h79.1v88h-79.1zM514.9 1255.2h79.1v88h-79.1zM40.5 1343.2h79.1v88h-79.1zM119.6 1343.2h79.1v88h-79.1zM198.6 1343.2h79.1v88h-79.1zM277.7 1343.2h79.1v88h-79.1zM356.7 1343.2h79.1v88h-79.1zM435.8 1343.2h79.1v88h-79.1zM514.9 1343.2h79.1v88h-79.1zM593.9 1343.2h79.1v88h-79.1zM40.5 1431.1h79.1v88h-79.1zM119.6 1431.1h79.1v88h-79.1zM198.6 1431.1h79.1v88h-79.1zM277.7 1431.1h79.1v88h-79.1zM356.7 1431.1h79.1v88h-79.1zM435.8 1431.1h79.1v88h-79.1zM514.9 1431.1h79.1v88h-79.1zM593.9 1431.1h79.1v88h-79.1zM673 1431.1h79.1v88h-79.1z" fill="none" stroke="#e8e8e8" stroke-width="1"/>
<path transform="scale(.5)" d="M138 1528h0m3 1h0m-3 1h0m11 1h0m-2 1h0m-4 1h0m0 0h0m-3 0h0m-7 3h0m8 0h0m11 1h0m-29 0h0m29 0h0m-23 0h0m-11 1h0m12 2h0m-17 2h0m-7 0h0m11 1h0m5 0h0m12 2h0m-9 1h0m-18 1h0m42 1h0m-9 0h0m-7 2h0m-28 0h0m27 1h0m0 1h0m7 0h0m7 1h0m-24 0h0m28 0h0m-50 2h0m14 0h0m20 1h0m-32 1h0m4 0h0m44 0h0m-29 1h0m17 1h0m-8 0h0m-14 1h0m31 1h0m-23 0h0m-23 0h0m35 2h0m8 1h0m-41 1h0m12 0h0m33 1h0m-9 0h0m-1 2h0m-19 1h0m-13 0h0m15 0h0m-11 1h0m25 2h0m-17 1h0m11 0h0m10 1h0m4 0h0m4 1h0m-24 2h0m20 1h0m-15 1h0m-9 1h0m27 0h0m-12 1h0m-6 0h0m-6 1h0m-13 0h0m-4 1h0m9 1h0m20 0h0m-2 1h0m-19 1h0m10 0h0m13 0h0m-23 1h0m15 1h0m-11 1h0m19 0h0m-24 2h0m23 1h0m-24 5h0m17 2h0m-14 1h0m13 53h0m-3 1h0m3 2h0m1 1h0m-12 1h0m15 0h0m-2 1h0m1 1h0m-2 0h0m-5 1h0m-7 0h0m-2 0h0m13 1h0m6 0h0m-16 0h0m-13 1h0m6 0h0m19 1h0m-6 0h0m-19 0h0m18 2h0m-15 0h0m14 1h0m7 0h0m-26 1h0m11 0h0m12 1h0m6 0h0m-12 0h0m-17 1h0m27 0h0m-3 0h0m-2 0h0m-20 1h0m22 0h0m-3 1h0m7 0h0m-27 0h0m20 1h0m-4 0h0m21 0h0m-16 0h0m16 0h0m3 1h0m-38 1h0m14 1h0m16 0h0m0 0h0m0 0h0m-1 0h0m9 1h0m-38 0h0m2 1h0m-2 0h0m19 0h0m-11 0h0m7 1h0m-17 0h0m20 0h0m-1 0h0m-7 0h0m12 0h0m8 0h0m-33 1h0m25 0h0m3 0h0m8 0h0m-5 0h0m-1 0h0m-3 1h0m-28 0h0m31 0h0m8 1h0m-6 0h0m-6 1h0m-15 0h0m-11 0h0m32 0h0m-1 0h0m0 1h0m-21 0h0m7 0h0m15 0h0m-3 0h0m10 0h0m-24 0h0m-2 0h0m18 0h0m-23 1h0m4 0h0m-13 0h0m38 0h0m-14 1h0m12 0h0m-1 0h0m-29 0h0m29 0h0m-5 1h0m0 0h0m7 0h0m-24 0h0m12 0h0m11 1h0m0 0h0m-29 0h0m11 1h0m3 0h0m-2 0h0m17 2h0m-18 0h0m14 1h0m-3 1h0m0 1h0m-16 0h0m4 0h0m-8 2h0m-3 1h0m4 2h0m36 2h0m-36 0h0m-2 1h0m3 1h0m7 1h0m-3 0h0m1 0h0m32 3h0m-2 2h0m5 0h0m143-11h0m-13 7h0m24 6h0m-7 14h0m5 10h0m55-83h0m-15 4h0m6 1h0m-14 1h0m17 1h0m-8 3h0m16 1h0m-13 0h0m9 1h0m8 2h0m-20 1h0m21 2h0m-8 2h0m-18 0h0m-8 0h0m35 0h0m-1 1h0m-38 1h0m41 1h0m-29 1h0m10 0h0m9 0h0m-28 0h0m-5 1h0m23 1h0m10 2h0m-16 2h0m13 0h0m2 0h0m7 1h0m7 2h0m-22 1h0m6 4h0m18 1h0m-28 0h0m26 0h0m-35 1h0m17 0h0m-24 1h0m-2 1h0m28 1h0m18 0h0m-15 0h0m-12 2h0m3 0h0m14 0h0m9 1h0m-45 0h0m28 1h0m-18 0h0m33 2h0m-5 1h0m-38 0h0m28 1h0m4 1h0m-15 1h0m24 0h0m9 2h0m-58 1h0m15 0h0m5 0h0m20 1h0m-10 2h0m-15 0h0m-6 1h0m17 1h0m-14 1h0m9 1h0m-6 1h0m20 0h0m0 1h0m11 1h0m-16 3h0m-33 1h0m23 0h0m-11 1h0m25 4h0m-17 2h0m10 1h0m-5 2h0m-186 109h0m-11 1h0m8 3h0m-14 1h0m3 5h0m-4 9h0m5 5h0m-4 1h0m7 7h0m-5 7h0m17 8h0m-30 8h0m27 0h0m-27 2h0m5 4h0m12 1h0m-10 2h0m-11 5h0m10 0h0m21 6h0m-13 0h0m10 2h0m-8 3h0m0 4h0m-6 1h0m26-90h0m2 0h0m-8 0h0m20 3h0m13 4h0m-27 1h0m17 1h0m13 4h0m11 2h0m-5 0h0m-10 7h0m-13 3h0m-11 2h0m22 1h0m-14 0h0m5 6h0m-8 3h0m25 2h0m-7 0h0m-11 1h0m31 1h0m-11 1h0m-28 4h0m28 3h0m8 0h0m-43 3h0m30 4h0m17 1h0m104 1h0m-130 3h0m-12 2h0m20 1h0m121 5h0m-124 0h0m-25 1h0m29 2h0m118 5h0m-132 0h0m-9 3h0m25 1h0m10 0h0m-3 0h0m113 0h0m-112 0h0m-43 3h0m15 1h0m-8 2h0m40 0h0m-34 1h0m-11 1h0m40 0h0m-8 4h0m-25 0h0m19 1h0m-8 2h0m10 3h0m171-111h0m9 1h0m-4 6h0m-8 1h0m-7 1h0m12 1h0m-1 3h0m-5 1h0m11 0h0m-16 2h0m17 2h0m-20 1h0m6 0h0m-16 3h0m14 0h0m-25 1h0m18 1h0m-23 1h0m29 1h0m11 0h0m-42 1h0m9 0h0m10 1h0m12 0h0m-21 2h0m45 0h0m-33 2h0m13 0h0m19 0h0m-58 3h0m9 0h0m21 0h0m-11 1h0m37 0h0m-51 0h0m47 1h0m-10 0h0m-9 0h0m8 2h0m7 0h0m-39 1h0m3 1h0m45 0h0m-45 0h0m30 2h0m-12 1h0m24 0h0m-19 0h0m-13 2h0m23 0h0m-36 1h0m42 0h0m-49 1h0m39 1h0m-6 1h0m-7 1h0m-11 0h0m33 1h0m-15 0h0m-32 1h0m-2 1h0m8 2h0m17 0h0m22 0h0m-29 4h0m-17 0h0m35 1h0m-23 0h0m22 2h0m-27 1h0m24 0h0m11 0h0m-20 0h0m13 2h0m-24 2h0m142 0h0m-115 1h0m-25 3h0m14 0h0m-13 0h0m140 0h0m-119 0h0m-20 2h0m-6 0h0m139 1h0m-7 0h0m-117 1h0m-6 0h0m-14 1h0m121 0h0m-123 1h0m19 0h0m117 0h0m-130 0h0m142 0h0m-36 1h0m32 0h0m-118 1h0m-25 3h0m-4 0h0m118 0h0m28 0h0m6 1h0m-127 0h0m112 1h0m-27 0h0m10 0h0m-96 1h0m100 1h0m-9 0h0m8 0h0m-18 1h0m47 0h0m-151 2h0m153 1h0m-30 0h0m-1 1h0m25 1h0m-17 0h0m-28 0h0m32 0h0m-33 1h0m40 2h0m-31 0h0m-16 0h0m56 1h0m-1 1h0m-49 1h0m4 1h0m25 1h0m-27 0h0m8 3h0m12 0h0m12 0h0m8 2h0m-47 1h0m13 0h0m2 1h0m6 0h0m-2 0h0m29 1h0m-13 0h0m-30 1h0m20 1h0m4 1h0m12 0h0m16 0h0m-47 1h0m59-45h0m18 2h0m-9 2h0m8 2h0m-13 3h0m14 0h0m-10 1h0m-1 1h0m-16 0h0m11 1h0m-5 1h0m25 1h0m-21 1h0m-5 4h0m15 1h0m17 0h0m-21 0h0m-8 1h0m3 1h0m3 1h0m-3 1h0m8 1h0m-9 0h0m26 0h0m3 1h0m-19 0h0m8 0h0m2 2h0m13 2h0m-43 1h0m24 0h0m8 2h0m-22 0h0m11 2h0m17 1h0m-13 1h0m-18 0h0m-3 2h0m0 1h0m22 0h0m-23 3h0m-338 4h0m8 4h0m0 0h0m6 0h0m-15 1h0m-4 2h0m20 109h0m-2 3h0m-7 6h0m-1 1h0m12 0h0m-4 1h0m-6 4h0m7 1h0m-1 2h0m-3 0h0m7 4h0m-13 3h0m3 5h0m5 1h0m-8 1h0m1 12h0m-1 2h0m8 3h0m-7 0h0m11 7h0m42-173h0m-17 0h0m-12 3h0m29 1h0m13 4h0m-29 1h0m9 4h0m125 100h0m-157 5h0m5 1h0m10 2h0m15 0h0m-24 1h0m12 1h0m3 1h0m-14 2h0m148 0h0m-136 2h0m7 2h0m-4 0h0m-20 3h0m18 0h0m-6 1h0m-6 0h0m18 1h0m-20 1h0m16 1h0m23 3h0m-30 1h0m6 1h0m9 0h0m-11 1h0m16 0h0m-17 1h0m31 1h0m-26 0h0m-20 0h0m55 1h0m-52 0h0m29 1h0m10 2h0m-26 0h0m-19 0h0m47 0h0m-6 2h0m3 1h0m-27 1h0m16 0h0m-8 0h0m-19 0h0m28 3h0m15 0h0m-43 0h0m5 1h0m19 0h0m-27 1h0m54 2h0m-36 0h0m28 0h0m-11 0h0m5 1h0m11 0h0m-38 0h0m-7 1h0m13 1h0m38 0h0m-22 2h0m-36 0h0m32 1h0m16 0h0m-46 0h0m41 2h0m-14 1h0m-28 1h0m17 1h0m-14 1h0m1 1h0m257-173h0m-10 1h0m51 0h0m4 3h0m-28 0h0m-12 1h0m2 1h0m4 1h0m6 1h0m5 2h0m-5 3h0m19 1h0m-3 0h0m-5 1h0m-112 56h0m7 0h0m-13 1h0m10 0h0m16 1h0m2 1h0m-13 1h0m3 0h0m-11 1h0m1 1h0m-5 2h0m-1 1h0m41 1h0m-6 0h0m-15 2h0m8 0h0m-23 0h0m31 1h0m-16 0h0m-12 1h0m6 1h0m-7 2h0m15 0h0m-22 0h0m32 2h0m-18 0h0m-12 1h0m28 1h0m-9 1h0m-28 0h0m4 1h0m44 1h0m-53 0h0m30 1h0m15 0h0m-50 1h0m59 0h0m-37 1h0m33 1h0m-11 1h0m-28 0h0m39 0h0m-47 1h0m3 0h0m-9 1h0m21 0h0m12 1h0m21 1h0m-24 1h0m-18 2h0m11 0h0m-1 1h0m8 0h0m-11 0h0m-13 0h0m23 0h0m23 1h0m-21 0h0m-32 2h0m18 0h0m-9 1h0m26 1h0m10 0h0m4 0h0m-50 1h0m48 0h0m-1 1h0m-36 0h0m20 0h0m-26 0h0m11 1h0m3 2h0m28 1h0m-39 0h0m1 0h0m12 0h0m-4 1h0m-12 0h0m30 1h0m-3 0h0m-7 3h0m-26 0h0m9 3h0m-2 8h0m-6 0h0m166-135h0m6 2h0m-8 0h0m133 77h0m-5 2h0m21 1h0m-32 1h0m-1 7h0m-6 0h0m7 1h0m-10 7h0m28 0h0m-14 0h0m27 1h0m-34 2h0m18 6h0m8 1h0m-3 1h0m-21 0h0m-3 4h0m-9 0h0m5 0h0m-8 3h0m-7 2h0m-6 2h0m42 2h0m-23 0h0m12 0h0m-10 1h0m-16 1h0m47 0h0m-42 1h0m50 0h0m-14 0h0m-100 4h0m74 0h0m29 0h0m-21 2h0m-77 0h0m82 0h0m-78 2h0m-13 1h0m17 1h0m-5 1h0m51 0h0m18 0h0m27 0h0m-109 1h0m6 0h0m1 0h0m-2 1h0m-16 0h0m25 0h0m67 0h0m39 0h0m-112 0h0m-18 1h0m12 0h0m0 0h0m-12 1h0m14 0h0m-9 1h0m71 0h0m-67 1h0m-2 0h0m23 0h0m-30 0h0m83 0h0m-62 0h0m8 0h0m-21 1h0m17 0h0m91 0h0m-114 1h0m-7 0h0m104 0h0m-94 0h0m97 0h0m-76 1h0m-34 0h0m7 1h0m21 1h0m-17 0h0m92 0h0m-87 0h0m59 1h0m-58 1h0m79 0h0m-56 0h0m0 0h0m-21 0h0m10 1h0m-7 0h0m-15 0h0m18 0h0m11 0h0m-23 1h0m-9 0h0m6 1h0m-3 0h0m24 0h0m9 1h0m-4 1h0m91 0h0m-124 1h0m33 0h0m-36 1h0m118 0h0m-80 1h0m-2 0h0m-31 0h0m13 0h0m3 0h0m-21 1h0m97 0h0m-92 0h0m10 0h0m0 1h0m83 0h0m-83 1h0m122 0h0m-114 0h0m10 0h0m-27 0h0m-5 0h0m19 0h0m-5 1h0m11 0h0m9 0h0m76 0h0m-103 1h0m1 0h0m2 0h0m1 0h0m-1 1h0m119 0h0m-125 0h0m35 1h0m93 0h0m-104 0h0m11 1h0m-3 0h0m72 0h0m-74 1h0m-31 1h0m2 0h0m28 0h0m-28 1h0m33 2h0m66 0h0m-76 2h0m82 0h0m22 0h0m-118 0h0m112 1h0m-6 0h0m-89 1h0m-22 0h0m5 0h0m134-93h0m19 4h0m-20 8h0m10 1h0m-1 9h0m4 0h0m-10 9h0m11 2h0m-7 3h0m-8 2h0m2 6h0m8 1h0m-10 2h0m3 5h0m5 9h0m4 3h0m-7 5h0m-10 2h0m17 1h0m-10 3h0m18 3h0m2 1h0m-15 0h0m9 6h0m-22 5h0m13 2h0m6 0h0m-428 2h0m-12 1h0m-10 0h0m-9 1h0m-30 4h0m15 1h0m24 3h0m-22 1h0m14 1h0m-3 0h0m-5 1h0m-12 1h0m8 0h0m15 1h0m-22 0h0m20 4h0m12 130h0m5 2h0m0 1h0m-1 2h0m0 0h0m3 0h0m-8 0h0m6 1h0m-12 0h0m6 1h0m-1 2h0m-2 1h0m10 1h0m-2 0h0m-9 0h0m5 0h0m7 0h0m-4 1h0m-3 0h0m5 0h0m5 1h0m-2 0h0m-9 0h0m1 1h0m6 0h0m4 0h0m-8 0h0m3 0h0m-8 0h0m-1 0h0m3 0h0m10 1h0m-9 1h0m-6 1h0m11 0h0m-5 0h0m-3 0h0m6 1h0m3 0h0m-6 0h0m6 0h0m-10 2h0m5 0h0m2 0h0m-6 0h0m0 1h0m5 0h0m-10 0h0m15 1h0m3 0h0m-1 0h0m-5 1h0m6 1h0m-7 0h0m-2 0h0m4 1h0m0 0h0m-8 1h0m8 0h0m-1 1h0m154-101h0m-13 2h0m6 0h0m-7 2h0m-10 7h0m20 1h0m-9 1h0m15 0h0m-3 3h0m-26 0h0m22 3h0m-29 1h0m38 1h0m-38 1h0m13 0h0m12 3h0m-16 2h0m6 0h0m4 0h0m7 1h0m11 0h0m-42 1h0m47 0h0m-42 1h0m12 0h0m38 1h0m-48 0h0m27 1h0m-10 1h0m28 0h0m-32 2h0m-7 1h0m12 2h0m6 0h0m-26 0h0m22 2h0m-23 0h0m19 2h0m-13 1h0m8 3h0m7 0h0m15 1h0m-34 1h0m24 1h0m17 0h0m-38 0h0m23 1h0m20 0h0m-50 1h0m1 2h0m44 0h0m-6 1h0m100 0h0m-97 1h0m-13 2h0m-9 0h0m123 0h0m-136 1h0m36 0h0m80 0h0m-71 1h0m-3 1h0m-12 1h0m83 0h0m-73 1h0m91 1h0m0 0h0m-36 0h0m9 1h0m16 1h0m9 0h0m-136 1h0m127 0h0m-77 1h0m65 0h0m-111 0h0m42 0h0m70 1h0m-86 0h0m112 0h0m-127 1h0m7 0h0m11 0h0m6 1h0m8 1h0m66 0h0m-64 1h0m49 1h0m-94 0h0m48 0h0m-45 0h0m16 1h0m-11 0h0m119 1h0m-113 0h0m92 2h0m-3 0h0m-61 1h0m73 1h0m6 1h0m-29 0h0m14 0h0m-78 1h0m68 1h0m28 0h0m1 1h0m-17 0h0m24 0h0m-106 0h0m94 2h0m-90 1h0m-15 0h0m110 0h0m-27 0h0m-83 0h0m14 0h0m-26 2h0m138 0h0m-105 0h0m56 1h0m-72 0h0m16 1h0m76 1h0m-84 0h0m97 1h0m-116 0h0m20 1h0m-7 0h0m12 1h0m98 0h0m-128 0h0m129 0h0m-118 1h0m11 0h0m-14 1h0m19 0h0m67 1h0m-82 1h0m110 3h0m4 0h0m47-176h0m96 1h0m-94 0h0m1 0h0m-2 1h0m2 0h0m93 0h0m-83 0h0m75 1h0m-84 1h0m-1 0h0m107 0h0m-118 1h0m17 1h0m85 1h0m-85 1h0m3 0h0m-2 0h0m85 1h0m-86 2h0m111 1h0m-16 0h0m-98 1h0m-2 2h0m113 0h0m-112 1h0m111 0h0m-7 1h0m-10 1h0m3 6h0m-21 47h0m-1 5h0m-10 2h0m2 1h0m11 1h0m-9 0h0m2 2h0m2 0h0m3 0h0m-16 1h0m1 0h0m1 1h0m19 1h0m-21 0h0m0 0h0m25 1h0m-12 0h0m-3 1h0m8 0h0m5 0h0m-19 1h0m18 0h0m-3 1h0m3 1h0m-1 0h0m-4 0h0m-12 0h0m17 1h0m-9 0h0m-6 1h0m0 2h0m-2 1h0m-6 0h0m11 0h0m7 1h0m0 1h0m3 0h0m-1 2h0m-16 0h0m5 1h0m2 0h0m-9 0h0m21 1h0m-9 0h0m9 1h0m1 0h0m-13 1h0m-11 1h0m22 2h0m-1 1h0m-10 1h0m9 0h0m-20 0h0m23 1h0m-23 0h0m10 1h0m8 0h0m-4 0h0m1 1h0m-5 0h0m-5 1h0m3 0h0m-3 0h0m-2 0h0m8 1h0m9 2h0m-20 0h0m8 0h0m7 0h0m0 0h0m-4 0h0m13 1h0m-15 1h0m4 1h0m4 0h0m-10 0h0m-2 2h0m-3 0h0m13 0h0m-11 1h0m3 0h0m-98 0h0m112 0h0m-7 1h0m-12 0h0m10 1h0m11 0h0m-12 0h0m-105 1h0m100 1h0m14 3h0m-13 0h0m11 1h0m-11 0h0m3 1h0m3 1h0m1 1h0m-8 4h0m-87 0h0m-7 0h0m8 0h0m-18 2h0m10 2h0m21 1h0m-21 2h0m26 0h0m-36 0h0m1 2h0m7 0h0m-4 2h0m20 1h0m-8 0h0m16 1h0m-21 0h0m-1 3h0m-6 0h0m25 1h0m-26 0h0m24 1h0m7 5h0m-31 1h0m-3 0h0m37 2h0m-38 0h0m23 0h0m-19 1h0m7 2h0m7 2h0m-7 0h0m6 3h0m-2 0h0m10 3h0m-1 2h0m-6 0h0m-2 0h0m-7 1h0m253-75h0m9 2h0m-1 0h0m1 5h0m-5 0h0m6 1h0m-3 3h0m-3 2h0m-1 1h0m6 0h0m-4 2h0m-5 0h0m-2 0h0m11 1h0m-10 0h0m9 1h0m-9 1h0m7 2h0m-7 1h0m4 2h0m1 1h0m-3 3h0m-3 1h0m10 0h0m-9 1h0m13 2h0m-10 0h0m-3 4h0m5 0h0m0 1h0m1 0h0m-4 1h0m5 0h0m0 0h0m-5 1h0m10 0h0m-3 1h0m-8 0h0m-1 1h0m7 1h0m4 2h0m-2 0h0m4 1h0m-10 1h0m9 3h0m-11 0h0m2 1h0m8 2h0m-5 2h0m3 0h0m-10 1h0m11 1h0m-6 1h0m7 1h0m-1 0h0m0 1h0m-6 1h0m-4 1h0m10 2h0m-4 1h0m-6 0h0m7 3h0m-3 0h0m3 0h0m-6 1h0m2 1h0m1 0h0m6 1h0m-2 1h0m-538 4h0m3 0h0m7 1h0m-4 0h0m-3 0h0m4 0h0m-9 1h0m10 1h0m2 2h0m-4 0h0m5 1h0m-8 1h0m4 1h0m-7 2h0m2 1h0m0 1h0m1 0h0m-12 85h0m-8 4h0m-8 0h0m26 2h0m-29 1h0m29 1h0m-21 2h0m12 3h0m16 1h0m-28 2h0m-4 3h0m30 1h0m4 0h0m-4 2h0m-4 3h0m99 0h0m-113 1h0m122 1h0m-119 1h0m-22 0h0m43 0h0m-34 1h0m12 0h0m109 1h0m-101 1h0m-8 1h0m-26 1h0m128 0h0m3 1h0m-108 0h0m98 0h0m-116 1h0m33 0h0m94 1h0m-90 2h0m-34 0h0m123 0h0m-4 0h0m-78 1h0m-50 0h0m19 0h0m8 0h0m119 1h0m-41 1h0m-108 0h0m26 0h0m103 0h0m-20 1h0m-79 0h0m12 2h0m83 0h0m-10 0h0m33 1h0m-146 0h0m139 1h0m4 0h0m-36 0h0m-10 1h0m21 1h0m-85 0h0m95 1h0m-27 0h0m-50 0h0m74 0h0m-12 0h0m-5 1h0m-65 0h0m-25 1h0m122 0h0m-38 0h0m30 1h0m-118 0h0m3 1h0m7 0h0m109 1h0m-15 0h0m-4 1h0m-4 0h0m-99 1h0m134 0h0m-2 0h0m-20 0h0m17 1h0m-44 0h0m5 1h0m39 0h0m-113 0h0m80 1h0m-95 0h0m36 0h0m66 0h0m29 1h0m4 1h0m-116 1h0m106 0h0m-31 0h0m-15 1h0m45 0h0m-130 0h0m120 0h0m-25 1h0m-66 1h0m111 0h0m-132 0h0m-8 0h0m107 1h0m-76 0h0m94 1h0m13 0h0m-101 0h0m5 0h0m77 1h0m-104 0h0m101 0h0m-12 0h0m4 1h0m30 0h0m-40 1h0m-11 1h0m-61 1h0m15 0h0m57 0h0m45 1h0m-15 1h0m-8 0h0m-118 0h0m11 0h0m123 0h0m-29 0h0m-68 1h0m-23 1h0m-14 0h0m31 0h0m-38 1h0m122 1h0m-106 0h0m0 0h0m99 0h0m-20 1h0m98-175h0m0 0h0m111 0h0m-7 1h0m-33 0h0m-83 2h0m96 0h0m-99 3h0m88 1h0m9 2h0m7 0h0m-4 0h0m19 0h0m-118 1h0m108 1h0m15 0h0m-7 0h0m-115 1h0m6 9h0m-36 102h0m0 2h0m5 1h0m148 2h0m-154 4h0m11 2h0m4 3h0m-3 1h0m-8 2h0m-1 2h0m-3 1h0m5 0h0m6 0h0m9 3h0m-12 3h0m-1 1h0m1 1h0m-7 2h0m1 3h0m-3 0h0m0 9h0m179-163h0m-4 4h0m-3 0h0m-7 5h0m107 57h0m4 0h0m8 1h0m-7 1h0m-5 1h0m20 2h0m-12 0h0m-5 0h0m11 1h0m6 1h0m0 1h0m7 1h0m-13 0h0m20 0h0m-23 1h0m-2 1h0m15 0h0m4 1h0m-28 0h0m30 0h0m-10 0h0m-15 2h0m5 0h0m26 0h0m-4 2h0m-11 0h0m-26 0h0m24 1h0m-27 0h0m28 1h0m11 0h0m-32 1h0m3 0h0m12 2h0m29 0h0m-33 0h0m-16 1h0m16 1h0m32 0h0m-27 0h0m14 1h0m-7 2h0m10 0h0m-38 1h0m7 1h0m23 0h0m-35 0h0m46 1h0m-39 0h0m16 1h0m-11 0h0m15 0h0m6 0h0m-12 0h0m16 0h0m-21 1h0m19 0h0m10 1h0m-3 0h0m-29 0h0m15 1h0m-7 0h0m-5 0h0m15 1h0m3 1h0m-21 2h0m6 0h0m23 0h0m-17 0h0m8 1h0m14 0h0m-22 0h0m-3 1h0m27 0h0m-20 0h0m2 1h0m13 0h0m-6 0h0m-36 0h0m19 0h0m11 0h0m-9 2h0m17 0h0m-14 0h0m-17 1h0m40 0h0m-16 0h0m-31 0h0m3 0h0m19 1h0m-15 0h0m11 1h0m18 0h0m6 1h0m-37 1h0m44 9h0m-152 14h0m32 4h0m8 1h0m-12 0h0m-17 1h0m15 0h0m5 1h0m7 0h0m-16 2h0m2 1h0m3 1h0m-1 0h0m-1 2h0m13 0h0m12 1h0m-26 0h0m26 0h0m-15 1h0m-4 0h0m-13 0h0m16 1h0m2 0h0m2 0h0m-16 1h0m4 0h0m-6 0h0m22 1h0m8 1h0m-17 0h0m11 0h0m-28 1h0m20 0h0m-18 2h0m7 2h0m-9 0h0m21 0h0m19 0h0m-22 1h0m9 1h0m1 0h0m-7 1h0m-6 0h0m20 0h0m-2 1h0m4 0h0m3 1h0m-10 0h0m6 0h0m-13 1h0m-9 1h0m9 0h0m-5 0h0m-3 1h0m-18 1h0m27 0h0m-1 1h0m-18 1h0m25 0h0m6 2h0m210-174h0m5 5h0m-1 0h0m0 1h0m0 4h0m-1 0h0m0 1h0m1 1h0m-1 2h0m-1 0h0m2 7h0m-106 110h0m3 2h0m207-2h0m-1 2h0m3 0h0m-2 0h0m-1 2h0m-3 0h0m-1 1h0m-5 0h0m2 0h0m4 0h0m-7 0h0m10 1h0m-8 0h0m13 1h0m-13 1h0m4 1h0m-2 0h0m-6 0h0m14 3h0m4 0h0m-19 1h0m4 0h0m1 1h0m13 0h0m-5 0h0m-4 1h0m8 0h0m-13 1h0m6 0h0m-10 1h0m8 0h0m-8 1h0m16 0h0m-1 1h0m7 0h0m-24 0h0m15 0h0m-12 1h0m15 2h0m-15 0h0m16 0h0m-17 1h0m18 0h0m-20 0h0m10 0h0m-5 2h0m13 1h0m-1 1h0m-13 0h0m8 0h0m-5 1h0m-1 0h0m7 0h0m6 1h0m-19 1h0m9 1h0m13 0h0m-18 0h0m2 2h0m5 0h0m-8 0h0m-4 1h0m9 1h0m12 0h0m-18 0h0m0 1h0m6 0h0m7 0h0m1 0h0m-1 0h0m3 3h0m-18 0h0m18 1h0m-18 1h0m0 0h0m1 1h0m5 1h0m153-76h0m-10 1h0m5 3h0m7 0h0m1 3h0m5 1h0m-21 1h0m16 1h0m2 1h0m-19 1h0m-11 0h0m17 1h0m-1 1h0m5 0h0m-19 0h0m-1 1h0m30 1h0m-24 3h0m6 0h0m-15 1h0m24 0h0m1 0h0m5 3h0m-21 2h0m13 2h0m-17 1h0m35 4h0m-37 1h0m32 0h0m-17 0h0m2 0h0m-12 0h0m29 0h0m-11 1h0m-35 0h0m44 3h0m-36 1h0m45 1h0m-56 0h0m56 0h0m-41 0h0m26 1h0m2 2h0m-23 2h0m32 1h0m-16 0h0m4 2h0m-13 0h0m28 2h0m-15 0h0m-23 0h0m33 3h0m-42 1h0m23 0h0m22 1h0m-29 1h0m2 0h0m-13 2h0m14 0h0m9 0h0m17 1h0m-13 0h0m-23 1h0m-10 0h0m48 1h0m-6 0h0m-13 2h0m-23 0h0m8 1h0m-2 1h0m-8 1h0m17 0h0m3 0h0m19 6h0m-26 1h0m14 1h0m-11 1h0m11 0h0m8 1h0m-872 139h0m9 2h0m-17 0h0m9 1h0m-4 1h0m20 1h0m-2 0h0m7 0h0m-23 1h0m14 2h0m-20 0h0m18 1h0m14 1h0m-16 1h0m16 0h0m-48 0h0m8 0h0m19 1h0m10 0h0m-3 1h0m-41 0h0m10 0h0m25 1h0m15 0h0m-9 1h0m-6 1h0m-16 0h0m3 0h0m-19 1h0m52 0h0m-50 1h0m22 0h0m-14 0h0m17 1h0m15 0h0m-37 0h0m32 1h0m-6 0h0m-28 1h0m51 1h0m-10 0h0m-20 1h0m-29 1h0m57 1h0m-17 0h0m11 1h0m8 0h0m-13 0h0m-2 0h0m-29 1h0m41 0h0m-18 0h0m14 1h0m-20 0h0m-13 0h0m4 2h0m21 1h0m-41 0h0m48 0h0m-46 0h0m21 1h0m-16 0h0m34 0h0m-29 1h0m6 1h0m8 0h0m16 1h0m9 0h0m-20 0h0m8 1h0m-28 0h0m-15 0h0m51 0h0m-20 0h0m-29 0h0m0 0h0m37 1h0m-5 0h0m-25 0h0m38 0h0m126-175h0m-52 1h0m-14 0h0m5 0h0m57 0h0m-3 1h0m22 0h0m-80 0h0m-26 1h0m113 0h0m-107 0h0m8 1h0m120 0h0m-4 0h0m-94 0h0m82 2h0m-101 0h0m19 1h0m78 0h0m-105 0h0m103 1h0m-27 0h0m44 1h0m-101 0h0m72 1h0m-17 1h0m26 0h0m-102 0h0m21 0h0m52 1h0m-45 0h0m84 1h0m-13 1h0m-8 0h0m-3 0h0m-90 6h0m21 2h0m116 97h0m-1 1h0m1 8h0m-2 1h0m3 6h0m112-66h0m6 1h0m-5 4h0m11 0h0m12 2h0m-6 0h0m-23 0h0m25 1h0m-25 0h0m27 1h0m-23 1h0m-3 0h0m12 0h0m-11 1h0m14 2h0m4 0h0m-4 0h0m16 1h0m-9 1h0m-104 0h0m112 1h0m-16 0h0m0 0h0m12 1h0m-17 0h0m0 0h0m-3 1h0m22 0h0m2 0h0m1 0h0m-4 0h0m-107 0h0m99 1h0m-4 0h0m10 0h0m-109 1h0m103 0h0m-1 1h0m-25 0h0m2 1h0m12 0h0m-10 0h0m30 1h0m0 0h0m-103 0h0m-2 1h0m9 0h0m74 0h0m8 1h0m-14 1h0m1 0h0m8 0h0m-1 0h0m14 0h0m-31 1h0m15 0h0m6 0h0m-9 1h0m19 0h0m-19 0h0m22 1h0m-27 0h0m-4 0h0m15 0h0m-16 1h0m17 0h0m7 0h0m8 0h0m-12 1h0m3 0h0m-84 0h0m-14 0h0m-6 0h0m91 0h0m-12 0h0m-80 1h0m113 1h0m-28 1h0m10 0h0m-8 1h0m-76 0h0m77 0h0m-83 0h0m85 0h0m-92 1h0m116 0h0m-111 0h0m9 1h0m89 0h0m-10 1h0m14 0h0m-4 0h0m2 0h0m-86 0h0m8 1h0m85 0h0m6 1h0m-1 0h0m-22 0h0m8 0h0m-106 0h0m35 1h0m-37 1h0m-3 1h0m11 1h0m92 0h0m17 0h0m-13 0h0m-74 1h0m87 0h0m-12 0h0m17 0h0m-15 1h0m-97 1h0m18 0h0m-10 0h0m-26 1h0m11 1h0m43 0h0m-4 1h0m-10 1h0m-38 1h0m40 1h0m-18 0h0m-16 1h0m38 0h0m-49 2h0m9 0h0m9 0h0m37 1h0m5 0h0m-48 1h0m-7 0h0m-1 0h0m27 1h0m13 0h0m-16 0h0m16 1h0m-24 0h0m28 0h0m-33 1h0m44 0h0m-10 0h0m-47 1h0m23 0h0m36 0h0m-23 1h0m-6 1h0m-10 0h0m-17 1h0m8 0h0m40 1h0m-36 0h0m36 2h0m-13 1h0m-28 0h0m10 0h0m28 0h0m-43 1h0m44 0h0m-49 1h0m58 0h0m-54 1h0m-4 1h0m54 1h0m-5 1h0m-50 0h0m45 1h0m-23 1h0m-14 0h0m-2 1h0m38 0h0m-7 0h0m7 1h0m7 0h0m-46 1h0m41 4h0m-28 0h0m1 0h0m19 1h0m-23 1h0m8 0h0m-3 0h0m12 1h0m9 1h0m-31 0h0m1 0h0m14 5h0m4 1h0m-18 0h0m20 5h0m-11 1h0m21 0h0m-18 1h0m15 0h0m-10 3h0m5 0h0m4 1h0m-15 0h0m18 1h0m162-174h0m-19 0h0m17 1h0m-26 0h0m21 0h0m7 0h0m-13 0h0m-5 1h0m-11 0h0m39 0h0m-23 0h0m10 1h0m-14 1h0m19 0h0m10 0h0m-29 0h0m-10 1h0m38 0h0m-39 0h0m26 0h0m-3 1h0m-10 0h0m-9 1h0m25 0h0m-9 1h0m-21 0h0m4 0h0m33 1h0m-33 0h0m-1 0h0m0 0h0m29 1h0m-30 0h0m28 1h0m-28 2h0m136 82h0m-2 1h0m2 6h0m-3 1h0m-6 11h0m1 5h0m9 4h0m2 6h0m1 10h0m-2 6h0m33-73h0m-17 0h0m-5 1h0m142 4h0m-127 2h0m132 1h0m-29 1h0m-107 0h0m-2 1h0m101 2h0m-112 1h0m36 0h0m85 0h0m-93 2h0m-21 0h0m121 1h0m9 0h0m-142 1h0m38 0h0m68 1h0m-87 2h0m31 1h0m58 0h0m28 0h0m-133 1h0m111 0h0m-15 1h0m-83 2h0m21 0h0m118 1h0m-112 1h0m-23 0h0m-13 1h0m131 0h0m-40 0h0m30 2h0m-128 0h0m122 0h0m-116 1h0m4 0h0m115 1h0m-71 1h0m40 0h0m58 0h0m-113 0h0m-9 1h0m-13 0h0m15 0h0m90 2h0m31 0h0m-27 1h0m-75 1h0m91 1h0m12 0h0m-9 1h0m2 0h0m-117 1h0m-6 0h0m-14 1h0m142 1h0m-110 1h0m10 0h0m80 1h0m-116 1h0m-9 0h0m25 1h0m117 2h0m-34 1h0m-103 0h0m37 0h0m69 0h0m19 1h0m-102 1h0m21 0h0m96 1h0m-135 0h0m118 0h0m-11 1h0m-72 0h0m73 0h0m-106 1h0m4 1h0m103 1h0m-89 1h0m114 5h0m-130 1h0m23 0h0m-11 1h0m-22 1h0m8 1h0m131 0h0m-124 1h0m10 1h0m-22 0h0m37 2h0m-30 3h0m-20 0h0m46 1h0m-15 1h0m-5 0h0m-8 1h0m-14 0h0m11 1h0m-2 2h0m11 0h0m-25 1h0m21 3h0m-10 1h0m7 2h0m187-160h0m-1 0h0m-2 0h0m6 2h0m1 1h0m-1 1h0m0 1h0m-1 0h0m3 1h0m-4 1h0m-1 2h0m-8 0h0m8 4h0m-9 1h0m7 1h0m-2 1h0m66 55h0m2 2h0m0 0h0m1 2h0m-9 0h0m12 1h0m-9 1h0m-85 0h0m90 1h0m-85 0h0m82 1h0m7 1h0m-4 1h0m-81 0h0m72 1h0m-83 1h0m15 0h0m71 0h0m0 1h0m-100 0h0m-5 1h0m113 0h0m-91 0h0m95 1h0m-9 0h0m4 0h0m-1 1h0m-6 0h0m-94 1h0m39 0h0m66 1h0m-86 1h0m74 0h0m7 0h0m-63 0h0m53 1h0m9 1h0m-1 0h0m7 0h0m-12 1h0m-5 1h0m14 0h0m-95 1h0m36 0h0m57 1h0m9 0h0m-18 0h0m-99 1h0m110 2h0m-5 1h0m-81 0h0m86 1h0m-97 0h0m99 0h0m-79 0h0m68 0h0m-104 1h0m121 0h0m-15 0h0m-5 0h0m9 0h0m6 0h0m-17 1h0m18 0h0m-12 2h0m9 0h0m1 0h0m-59 0h0m66 1h0m-7 0h0m-13 0h0m1 1h0m-68 0h0m74 0h0m-11 1h0m11 0h0m8 0h0m-111 0h0m34 1h0m82 0h0m-13 1h0m5 0h0m-75 0h0m80 1h0m-7 0h0m-1 1h0m8 0h0m-88 0h0m91 0h0m-20 0h0m-86 0h0m86 0h0m20 1h0m-119 1h0m98 1h0m-1 1h0m4 0h0m14 2h0m3 0h0m-107 1h0m90 0h0m-6 1h0m24 1h0m-21 0h0m22 2h0m-10 1h0m7 1h0m-8 0h0m-6 1h0m-2 0h0m-2 0h0m-80 0h0m19 1h0m-8 0h0m66 0h0m-71 0h0m-23 0h0m95 1h0m11 0h0m-5 0h0m-4 1h0m-104 1h0m2 0h0m9 1h0m97 0h0m2 0h0m0 1h0m-97 0h0m92 0h0m13 0h0m-10 1h0m-2 1h0m-68 0h0m-14 1h0m78 0h0m-87 1h0m106 1h0m-94 1h0m76 0h0m17 2h0m-15 1h0m7 0h0m-98 0h0m89 1h0m-66 0h0m78 0h0m-6 0h0m-84 0h0m2 2h0m96 0h0m-4 1h0m3 2h0m-6 1h0m-4 2h0m3 1h0m-7 0h0m2 4h0m100-154h0m-18 1h0m-3 1h0m19 3h0m-8 0h0m-6 2h0m-8 0h0m18 1h0m-6 2h0m-23 0h0m9 0h0m19 2h0m-13 2h0m-7 0h0m13 0h0m173 56h0m-2 2h0m-5 0h0m3 1h0m1 0h0m-2 1h0m6 0h0m-12 1h0m5 1h0m5 0h0m-5 1h0m3 0h0m-1 3h0m-11 0h0m4 0h0m7 2h0m1 2h0m3 1h0m-14 3h0m2 1h0m2 1h0m-4 2h0m-1 1h0m20 1h0m-14 0h0m-8 1h0m20 0h0m-7 0h0m-14 2h0m1 1h0m12 0h0m1 1h0m0 0h0m-12 0h0m7 0h0m8 2h0m-13 1h0m10 0h0m-3 0h0m-6 0h0m10 1h0m0 1h0m-12 2h0m20 0h0m-2 1h0m-16 1h0m9 0h0m-14 1h0m22 0h0m0 1h0m-23 0h0m25 1h0m-13 1h0m13 1h0m-17 1h0m-1 0h0m-5 0h0m19 1h0m-10 0h0m-12 0h0m6 1h0m20 0h0m-17 2h0m-3 0h0m15 1h0m-5 0h0m8 1h0m-19 0h0m-3 0h0m2 0h0m23 1h0m-8 0h0m-11 0h0m19 5h0m-11 0h0m-3 0h0m12 0h0m-19 1h0m11 0h0m-16 1h0m10 1h0m-9 1h0m7 0h0m5 1h0m12 1h0m-5 0h0m3 1h0m-20 1h0m22 1h0m-1 0h0m0 1h0m-16 0h0m-2 1h0m17 0h0m-7 1h0m-14 0h0m11 0h0m9 0h0m-7 1h0m7 0h0m-3 1h0m-12 0h0m0 0h0m12 2h0m-9 0h0m-6 2h0m8 0h0m-8 3h0m12 0h0m-2 0h0m-10 1h0m0 2h0m3 2h0m4 2h0m-3 0h0m-1015 21h0m-20 0h0m-16 1h0m18 0h0m13 0h0m-23 1h0m-5 2h0m30 1h0m-2 2h0m-18 0h0m20 2h0m-11 2h0m86 59h0m-2 0h0m4 1h0m-6 2h0m9 0h0m-1 0h0m2 1h0m0 0h0m-2 0h0m2 3h0m0 1h0m-12 0h0m8 0h0m-2 1h0m-3 1h0m-1 0h0m5 0h0m1 1h0m2 0h0m-4 1h0m-2 0h0m5 0h0m-5 2h0m8 1h0m-12 0h0m2 1h0m7 1h0m5 1h0m-9 0h0m1 0h0m-6 0h0m3 1h0m13 0h0m-14 0h0m13 3h0m-11 0h0m0 0h0m3 1h0m-2 0h0m5 0h0m0 1h0m-10 0h0m8 0h0m8 1h0m-3 1h0m-9 0h0m11 0h0m-9 1h0m-7 0h0m3 0h0m6 1h0m-4 0h0m4 0h0m-9 0h0m6 1h0m-4 0h0m5 1h0m2 0h0m-7 0h0m5 1h0m11 1h0m-18 0h0m16 0h0m-3 0h0m3 1h0m-7 0h0m-5 1h0m12 0h0m-11 1h0m11 0h0m-12 6h0m12 0h0m-4 0h0m-6 0h0m-4 1h0m0 2h0m7 0h0m-3 0h0m9 1h0m-8 0h0m-6 1h0m5 0h0m0 1h0m7 0h0m-8 0h0m9 0h0m-7 0h0m1 0h0m5 0h0m-8 1h0m7 1h0m-6 0h0m2 1h0m2 1h0m-5 0h0m2 1h0m1 0h0m0 1h0m-3 1h0m7 1h0m-7 0h0m1 0h0m139-123h0m20 58h0m-4 1h0m1 3h0m4 5h0m-5 0h0m3 1h0m4 2h0m1 1h0m-11 0h0m2 2h0m6 1h0m-7 1h0m12 2h0m-13 0h0m3 3h0m5 1h0m-1 0h0m3 1h0m-10 0h0m6 3h0m9 1h0m-15 0h0m-4 0h0m14 0h0m5 4h0m-9 0h0m-6 2h0m-4 0h0m18 0h0m-14 0h0m11 0h0m-3 3h0m-6 1h0m9 0h0m-4 4h0m-5 0h0m-7 3h0m15 1h0m-16 2h0m5 0h0m14 0h0m0 2h0m-13 1h0m5 2h0m-7 1h0m19 1h0m-15 0h0m-8 1h0m19 1h0m5 1h0m-19 0h0m18 1h0m-20 0h0m-3 1h0m11 0h0m-16 2h0m16 1h0m13 1h0m-18 0h0m-5 1h0m0 0h0m15 0h0m3 3h0m2 1h0m-16 0h0m-6 0h0m18 1h0m-9 0h0m2 0h0m-12 2h0m14 2h0m-6 0h0m11 0h0m-18 1h0m13 1h0m-14 1h0m10 0h0m-6 2h0m-4 0h0m11 1h0m-5 1h0m13 0h0m-17 3h0m6 1h0m-5 2h0m16 2h0m-1 1h0m8 2h0m-6 2h0m-1 2h0m-7 0h0m6 1h0m-6 0h0m13 0h0m-16 1h0m-7 0h0m12 0h0m3 1h0m-11 1h0m81 2h0m-4 0h0m11 1h0m-11 0h0m10 1h0m-5 1h0m2 0h0m4 0h0m-81 0h0m10 0h0m65 0h0m-64 1h0m71 0h0m-9 0h0m-78 0h0m71 0h0m14 1h0m0 0h0m8 0h0m-16 0h0m-69 1h0m69 0h0m22 0h0m-4 0h0m-10 0h0m-88 0h0m78 1h0m-6 0h0m21 0h0m-25 1h0m27 0h0m-81 0h0m62 0h0m-7 0h0m5 0h0m12 0h0m-20 1h0m8 0h0m25 1h0m-21 0h0m-6 0h0m0 1h0m-56 0h0m81 0h0m-30 0h0m7 1h0m-10 0h0m3 1h0m21 0h0m8 0h0m-33 0h0m-63 0h0m73 1h0m-67 0h0m59 0h0m4 0h0m253-46h0m-1 2h0m8 0h0m1 3h0m-14 0h0m3 0h0m-3 0h0m13 1h0m1 1h0m-3 1h0m0 1h0m-10 0h0m-4 4h0m11 1h0m-3 1h0m-2 1h0m12 0h0m65 2h0m-72 1h0m68 0h0m-70 1h0m64 0h0m-61 0h0m67 0h0m-57 0h0m54 0h0m-77 0h0m10 1h0m71 0h0m-7 0h0m-70 1h0m14 0h0m58 1h0m-64 0h0m2 1h0m11 0h0m-5 0h0m62 0h0m-7 0h0m-73 1h0m5 0h0m77 0h0m-79 0h0m81 1h0m-14 0h0m7 0h0m-60 0h0m-17 0h0m19 0h0m4 0h0m46 0h0m24 1h0m-88 0h0m68 0h0m2 0h0m3 0h0m0 1h0m-74 0h0m-8 1h0m84 0h0m-1 0h0m-73 0h0m69 1h0m13 0h0m2 0h0m-87 0h0m71 1h0m-1 0h0m20 0h0m-3 0h0m-19 1h0m15 0h0m-88 0h0m77 1h0m2 0h0m-70 0h0m88 1h0m-16 0h0m12 0h0m-12 0h0m10 0h0m1 1h0m5 0h0m-7 0h0m-67 0h0m61 0h0m-64 0h0m0 0h0m74 0h0m-16 0h0m-7 1h0m-51 0h0m55 0h0m-3 0h0m1 0h0m14 1h0m-64 0h0m-16 0h0m-8 0h0m21 0h0m57 0h0m8 1h0m-75 0h0m63 0h0m-2 0h0m16 0h0m-84 0h0m66 1h0m15 0h0m13 1h0m-20 0h0m0 0h0m-74 1h0m-2 0h0m82 0h0m-65 0h0m-20 0h0m82 0h0m-5 1h0m3 0h0m4 0h0m-67 1h0m5 0h0m68 0h0m-21 0h0m30 0h0m-85 1h0m57 0h0m-67 1h0m21 0h0m-10 0h0m-6 0h0m10 1h0m73 0h0m238-109h0m3 0h0m-2 4h0m4 1h0m4 0h0m-10 2h0m6 1h0m-1 0h0m-3 1h0m-5 1h0m12 0h0m0 1h0m-8 1h0m1 1h0m-6 1h0m0 0h0m16 0h0m-14 2h0m-4 1h0m5 2h0m-1 0h0m2 1h0m1 0h0m3 1h0m-1 0h0m6 1h0m2 0h0m-3 1h0m-11 0h0m14 1h0m-17 1h0m3 0h0m7 0h0m-1 1h0m9 0h0m-1 0h0m-8 0h0m-2 1h0m6 1h0m-5 0h0m-7 0h0m3 1h0m-1 1h0m15 0h0m0 1h0m-20 0h0m4 0h0m-2 0h0m15 0h0m-7 1h0m1 2h0m-9 0h0m1 1h0m3 2h0m5 0h0m2 0h0m-4 1h0m-1 1h0m5 0h0m0 0h0m-12 0h0m12 1h0m-4 1h0m5 0h0m3 1h0m-17 0h0m15 0h0m-13 0h0m2 1h0m13 0h0m-5 0h0m-10 0h0m8 1h0m-9 0h0m7 0h0m0 0h0m3 0h0m-10 0h0m19 1h0m-1 0h0m-5 1h0m-2 1h0m3 0h0m7 0h0m-3 1h0m-1 0h0m-7 0h0m9 1h0m-16 1h0m18 0h0m-15 0h0m4 2h0m-4 0h0m13 0h0m-15 1h0m13 0h0m-2 0h0m-11 1h0m12 2h0m-9 1h0m8 2h0m0 2h0m-2 1h0m-7 1h0m230-56h0m1 1h0m-7 2h0m7 0h0m-3 1h0m-3 1h0m-2 0h0m11 1h0m0 0h0m9 2h0m-15 0h0m-8 0h0m4 1h0m2 0h0m0 1h0m18 0h0m-22 0h0m17 1h0m-2 0h0m-7 0h0m-7 3h0m13 0h0m-15 0h0m16 1h0m-12 0h0m2 1h0m13 1h0m-2 0h0m4 1h0m-8 1h0m-11 0h0m10 0h0m3 0h0m8 0h0m-6 1h0m-15 0h0m16 1h0m-18 0h0m-1 0h0m8 1h0m13 1h0m-18 0h0m-7 0h0m21 1h0m7 0h0m-7 1h0m-2 0h0m1 0h0m-6 0h0m10 2h0m-11 1h0m2 1h0m14 1h0m-28 0h0m9 1h0m22 0h0m-21 0h0m15 1h0m-25 0h0m7 0h0m10 1h0m-14 1h0m14 0h0m2 0h0m-10 2h0m10 0h0m-9 0h0m12 1h0m-9 1h0m-5 0h0m14 0h0m-2 0h0m-11 1h0m1 1h0m1 0h0m-9 0h0m8 0h0m-3 1h0m13 0h0m-8 0h0m-6 0h0m5 1h0m-8 0h0m18 1h0m-2 0h0m-4 0h0m10 1h0m1 0h0m-13 1h0m-1 0h0m8 2h0m-4 0h0m-5 3h0m-4 1h0m10 1h0m1 0h0m-9 1h0m0 1h0m-77 23h0m5 0h0m1 1h0m-2 0h0m2 1h0m-6 0h0m4 0h0m-5 0h0m-3 1h0m16 1h0m0 0h0m-19 0h0m10 1h0m10 0h0m0 1h0m-25 3h0m16 0h0m-20 0h0m34 1h0m-9 0h0m-16 1h0m13 0h0m-13 1h0m14 0h0m-20 1h0m-6 0h0m-2 1h0m27 0h0m-22 0h0m-8 0h0m4 1h0m25 0h0m8 1h0m7 0h0m-40 2h0m17 0h0m20 0h0m-18 0h0m-22 1h0m40 1h0m-19 0h0m-6 1h0m-10 0h0m15 0h0m6 0h0m-16 0h0m0 1h0m20 0h0m-1 0h0m14 1h0m-38 0h0m5 0h0m-7 0h0m4 0h0m21 1h0m-3 0h0m-4 0h0m-3 0h0m-929 140h0m-4 2h0m7 1h0m2 1h0m0 2h0m0 0h0m1 0h0m0 1h0m-11 1h0m-8 0h0m8 1h0m13 2h0m-16 0h0m-3 1h0m-6 2h0m26 0h0m-22 0h0m1 1h0m-7 0h0m9 1h0m-2 0h0m-2 1h0m8 0h0m5 0h0m-11 0h0m11 2h0m-9 1h0m-11 1h0m15 1h0m8 0h0m2 0h0m-18 1h0m24 0h0m-18 1h0m2 0h0m-6 0h0m8 1h0m3 1h0m4 0h0m-12 2h0m5 0h0m-15 0h0m28 0h0m-10 1h0m7 1h0m-1 1h0m4 1h0m-8 1h0m-25 0h0m22 1h0m-2 0h0m3 0h0m-14 1h0m-1 1h0m24 0h0m-16 1h0m155-176h0m82 0h0m-2 0h0m6 1h0m-16 0h0m31 0h0m-2 0h0m-12 0h0m-22 0h0m-48 0h0m48 0h0m-3 1h0m26 0h0m-21 0h0m-55 0h0m80 0h0m-24 1h0m-51 0h0m70 0h0m14 1h0m-13 0h0m-6 0h0m-77 0h0m91 0h0m-14 0h0m-5 1h0m18 0h0m-11 0h0m-72 0h0m67 0h0m-12 1h0m-59 0h0m92 0h0m-96 0h0m84 0h0m-5 1h0m-17 0h0m35 0h0m-25 0h0m-71 0h0m71 0h0m3 0h0m19 1h0m-7 0h0m-16 0h0m-6 1h0m-1 0h0m0 0h0m31 0h0m-17 0h0m-82 1h0m76 1h0m-10 0h0m15 0h0m5 1h0m5 0h0m-13 0h0m9 0h0m-84 0h0m74 0h0m16 0h0m-15 0h0m7 1h0m-24 0h0m21 0h0m-10 0h0m8 0h0m2 1h0m4 1h0m-9 0h0m-6 0h0m9 0h0m3 1h0m-9 1h0m7 0h0m6 1h0m-71 48h0m55 2h0m-2 0h0m-3 2h0m2 1h0m-55 1h0m59 0h0m-62 3h0m0 0h0m63 1h0m-61 0h0m55 0h0m-53 0h0m62 0h0m-58 1h0m46 0h0m7 0h0m7 1h0m-2 0h0m-68 1h0m68 0h0m-7 1h0m6 0h0m-62 0h0m-1 1h0m51 0h0m1 0h0m3 1h0m-2 0h0m-1 0h0m13 0h0m-2 0h0m-5 1h0m0 0h0m-51 0h0m51 0h0m7 0h0m-13 1h0m13 0h0m-63 2h0m64 0h0m-10 1h0m9 0h0m-16 0h0m1 1h0m15 0h0m-65 1h0m5 1h0m55 0h0m6 0h0m-67 1h0m56 0h0m-3 0h0m6 0h0m0 0h0m-6 0h0m0 1h0m2 0h0m6 1h0m5 1h0m-14 0h0m-2 0h0m13 0h0m-2 0h0m-2 0h0m-63 1h0m55 0h0m3 0h0m-3 1h0m9 0h0m-2 0h0m-64 0h0m73 0h0m-9 0h0m-3 1h0m-50 0h0m52 1h0m-2 2h0m0 1h0m8 0h0m1 0h0m-64 0h0m64 1h0m-53 0h0m-4 0h0m51 1h0m-61 1h0m9 0h0m48 1h0m2 0h0m-46 0h0m52 0h0m-10 1h0m4 2h0m2 0h0m-3 0h0m-54 1h0m-4 0h0m60 0h0m-53 1h0m4 0h0m48 1h0m-58 0h0m-3 1h0m10 1h0m6 3h0m-18 1h0m7 0h0m-7 0h0m15 1h0m-5 1h0m-5 0h0m-3 3h0m12 0h0m-3 0h0m-5 1h0m-1 0h0m5 3h0m3 2h0m6 0h0m-18 1h0m12 3h0m-7 1h0m-4 2h0m6 2h0m5 1h0m4 5h0m-12 2h0m6 1h0m-3 1h0m8 1h0m-13 1h0m5 1h0m-5 1h0m3 1h0m11 1h0m-10 1h0m-2 0h0m4 0h0m-5 1h0m13 2h0m-13 1h0m7 0h0m0 1h0m4 3h0m-5 1h0m-2 4h0m4 1h0m-4 3h0m-2 0h0m305-171h0m81 1h0m-85 0h0m73 0h0m-51 0h0m-14 0h0m66 1h0m-58 0h0m-4 0h0m70 0h0m-2 1h0m0 0h0m-7 0h0m20 0h0m-84 0h0m0 1h0m80 0h0m-16 0h0m-60 0h0m64 0h0m-71 0h0m78 1h0m-62 0h0m-9 0h0m58 0h0m7 0h0m-1 1h0m-8 0h0m-54 0h0m-2 1h0m76 0h0m4 0h0m-17 1h0m6 0h0m-1 0h0m-1 0h0m2 0h0m-3 1h0m13 0h0m-73 0h0m68 0h0m-11 1h0m11 0h0m5 0h0m-13 1h0m13 0h0m-1 0h0m-2 0h0m-78 1h0m74 0h0m-76 0h0m81 0h0m-17 0h0m5 0h0m-62 56h0m1 0h0m-1 1h0m7 1h0m-9 4h0m6 0h0m-1 1h0m0 2h0m5 1h0m-9 0h0m4 0h0m-8 3h0m1 1h0m10 0h0m-9 5h0m7 2h0m-11 0h0m10 4h0m-5 1h0m-4 1h0m8 0h0m-10 0h0m-1 1h0m6 0h0m14 1h0m-11 1h0m8 0h0m-14 1h0m3 1h0m5 2h0m-3 1h0m4 0h0m-8 0h0m3 1h0m-7 1h0m0 0h0m4 1h0m5 2h0m-2 1h0m3 0h0m-6 0h0m-3 1h0m12 0h0m-9 1h0m-6 0h0m19 0h0m-19 1h0m15 1h0m2 1h0m2 0h0m3 1h0m-4 2h0m-4 1h0m-11 0h0m10 0h0m9 1h0m-13 0h0m3 2h0m-6 0h0m-2 0h0m4 1h0m14 1h0m-16 0h0m10 1h0m-4 3h0m2 0h0m-4 1h0m-1 0h0m8 0h0m-9 1h0m11 1h0m-6 0h0m-1 1h0m1 1h0m1 1h0m148-61h0m-6 5h0m-3 1h0m1 0h0m-1 1h0m10 0h0m10 1h0m2 0h0m-2 0h0m1 0h0m-17 0h0m8 1h0m3 1h0m4 0h0m-10 0h0m4 0h0m7 0h0m-20 0h0m-2 0h0m18 0h0m-2 1h0m-8 1h0m4 1h0m-13 0h0m8 0h0m14 0h0m-3 1h0m-8 0h0m-10 0h0m24 2h0m-4 2h0m2 0h0m3 0h0m-2 0h0m-21 0h0m17 1h0m-19 0h0m-3 1h0m9 1h0m4 0h0m6 1h0m7 0h0m-1 0h0m-2 0h0m6 0h0m-11 1h0m8 0h0m-24 1h0m7 0h0m-6 1h0m7 1h0m12 0h0m-13 2h0m14 0h0m-9 0h0m1 1h0m10 0h0m-4 1h0m7 0h0m-13 1h0m-7 0h0m17 0h0m-9 0h0m-7 1h0m-9 1h0m28 0h0m-5 0h0m3 1h0m-22 2h0m-1 0h0m19 0h0m-22 0h0m19 0h0m-18 0h0m8 1h0m3 0h0m-6 0h0m4 0h0m6 1h0m-3 0h0m-9 1h0m22 2h0m-17 1h0m-2 0h0m-8 0h0m28 0h0m-1 3h0m-24 1h0m7 0h0m10 0h0m-11 0h0m13 0h0m-14 0h0m-5 1h0m11 0h0m-12 0h0m6 0h0m9 1h0m1 2h0m5 1h0m-1 0h0m-1 1h0m4 1h0m-7 1h0m0 1h0m-12 0h0m8 2h0m6 1h0m-1 2h0m225-60h0m-66 0h0m63 0h0m-3 1h0m13 1h0m-69 0h0m53 0h0m11 1h0m-1 1h0m7 0h0m1 0h0m-6 0h0m0 0h0m6 0h0m-3 1h0m-8 0h0m-4 0h0m1 0h0m1 0h0m-61 0h0m76 1h0m-8 0h0m-71 0h0m57 0h0m6 1h0m19 0h0m-12 0h0m-13 1h0m21 0h0m6 0h0m-24 0h0m16 0h0m-2 1h0m-67 0h0m50 1h0m11 0h0m-6 0h0m11 0h0m-13 0h0m9 0h0m14 1h0m-23 0h0m12 0h0m6 0h0m-19 0h0m25 0h0m-14 1h0m-10 0h0m21 0h0m-13 0h0m6 0h0m-13 1h0m-61 0h0m75 0h0m-19 0h0m26 0h0m-25 1h0m10 0h0m-10 0h0m4 1h0m19 0h0m-8 0h0m-15 0h0m17 1h0m-66 0h0m-11 0h0m84 0h0m-9 0h0m-66 0h0m59 0h0m-8 1h0m20 1h0m5 0h0m3 0h0m-4 0h0m-2 1h0m-15 0h0m9 1h0m9 0h0m1 0h0m-25 0h0m11 0h0m8 0h0m8 1h0m-6 0h0m-6 0h0m-61 0h0m58 1h0m6 0h0m-7 0h0m-2 0h0m-9 0h0m26 1h0m-81 0h0m75 0h0m-13 0h0m-8 1h0m7 0h0m-55 0h0m-9 0h0m82 1h0m-2 0h0m-15 0h0m-2 0h0m10 0h0m-6 1h0m-3 0h0m9 1h0m7 0h0m-84 0h0m81 1h0m-13 1h0m-1 0h0m5 1h0m-1 1h0m-60 0h0m4 0h0m57 1h0m-65 0h0m-4 0h0m12 1h0m-15 3h0m17 0h0m-4 1h0m3 0h0m-10 1h0m6 1h0m-1 0h0m-6 2h0m3 2h0m-6 2h0m6 2h0m10 3h0m-6 1h0m4 0h0m-7 2h0m-3 1h0m-4 5h0m15 2h0m1 1h0m-11 0h0m8 1h0m-1 1h0m-10 3h0m9 1h0m-3 1h0m-3 2h0m6 0h0m-4 4h0m7 1h0m-15 3h0m1 3h0m13 0h0m-11 4h0m1 0h0m1 3h0m6 1h0m-10 1h0m3 0h0m-2 1h0m8 5h0m-5 1h0m8 1h0m-6 4h0m129-175h0m14 0h0m18 0h0m-27 2h0m-2 0h0m25 1h0m6 1h0m-5 0h0m-8 0h0m-8 1h0m24 0h0m-32 0h0m27 0h0m-18 1h0m22 0h0m-38 1h0m4 0h0m5 0h0m10 1h0m-16 0h0m-4 0h0m3 1h0m25 0h0m5 0h0m-3 1h0m-6 0h0m7 0h0m4 1h0m-12 0h0m-5 0h0m-10 0h0m12 1h0m4 1h0m-9 1h0m9 1h0m2 0h0m0 2h0m66 135h0m4 2h0m-6 2h0m4 0h0m6 0h0m-9 1h0m2 0h0m7 0h0m-8 1h0m9 1h0m3 0h0m-1 1h0m-6 0h0m-10 0h0m11 0h0m8 1h0m-5 0h0m-9 1h0m6 0h0m8 0h0m-7 1h0m-5 1h0m-4 0h0m-1 0h0m10 1h0m-5 0h0m3 0h0m2 0h0m8 1h0m-5 0h0m4 1h0m-5 0h0m-6 0h0m3 1h0m-11 0h0m18 0h0m-8 0h0m8 1h0m-2 0h0m-11 1h0m-2 0h0m14 0h0m0 1h0m1 0h0m-7 1h0m-14 0h0m16 1h0m-12 0h0m-2 0h0m19 0h0m-16 0h0m9 0h0m2 1h0m7 0h0m-9 1h0m153-39h0m-1 0h0m-1 2h0m4 2h0m3 0h0m-2 0h0m1 0h0m-2 0h0m2 1h0m-5 0h0m7 1h0m-8 0h0m-2 0h0m5 1h0m7 1h0m-8 1h0m-1 1h0m-4 2h0m12 0h0m-10 0h0m11 0h0m-14 0h0m4 1h0m-1 1h0m5 1h0m-7 0h0m11 2h0m2 2h0m-12 0h0m12 1h0m-4 1h0m-11 1h0m17 0h0m-6 0h0m-10 1h0m14 3h0m-2 0h0m-12 2h0m11 0h0m-4 0h0m0 1h0m3 1h0m-2 1h0m5 0h0m-1 1h0m-10 0h0m3 0h0m11 1h0m-12 0h0m5 2h0m4 0h0m-12 1h0m14 1h0m-4 1h0m0 2h0m-4 0h0m-1170 1h0m-10 1h0m5 1h0m-4 1h0m16 1h0m-23 0h0m0 0h0m18 0h0m6 1h0m-19 1h0m14 3h0m-6 0h0m6 0h0m-2 2h0m3 0h0m-5 2h0m-2 1h0m-10 1h0m0 2h0m5 0h0m2 4h0m803-22h0m210 0h0m4 1h0m0 0h0m7 0h0m-6 0h0m-7 0h0m-3 1h0m3 1h0m2 1h0m5 0h0m11 1h0m-2 0h0m-12 1h0m11 0h0m0 2h0m-4 0h0m-8 0h0m6 0h0m5 0h0m3 1h0m-3 1h0m-10 0h0m11 0h0m-4 1h0m-5 0h0m5 0h0m1 0h0m1 0h0m-6 2h0m7 0h0m-2 0h0m-2 0h0m1 1h0m-5 1h0m0 0h0m1 2h0m154-17h0m5 1h0m2 1h0m4 0h0m-14 0h0m14 0h0m-15 1h0m9 0h0m3 1h0m-10 2h0m12 0h0m-4 0h0m-1 1h0m4 1h0m-10 1h0m10 1h0m-5 1h0m-3 0h0m7 2h0m-4 1h0" stroke="#f07fa2" stroke-width="4" stroke-linecap="round" fill="none"/>
<path transform="scale(.5)" d="M157 1546h0m-1 7h0m-4 6h0m2 3h0m1 7h0m29-88h0m3 1h0m5 3h0m17 0h0m0 0h0m-24 0h0m-6 0h0m7 2h0m-6 0h0m14 0h0m16 1h0m5 1h0m-23 0h0m14 1h0m5 1h0m-18 0h0m4 1h0m-24 0h0m8 1h0m36 0h0m-31 0h0m30 1h0m-10 1h0m-8 1h0m15 1h0m-23 0h0m-10 1h0m2 1h0m-5 0h0m-4 1h0m43 0h0m-41 0h0m28 1h0m1 0h0m-8 0h0m-5 1h0m-8 0h0m11 1h0m15 0h0m-31 3h0m9 0h0m25 1h0m-20 0h0m12 1h0m11 1h0m-12 0h0m-5 1h0m-18 1h0m15 0h0m16 1h0m-6 1h0m-15 1h0m-5 1h0m7 0h0m-10 1h0m13 0h0m-4 0h0m7 0h0m-14 1h0m3 1h0m0 2h0m4 1h0m-17 0h0m20 2h0m-7 0h0m2 4h0m-12 2h0m-7 0h0m2 0h0m-7 3h0m3 3h0m24 0h0m4 2h0m-31 0h0m-5 1h0m22 2h0m-21 1h0m37 0h0m-15 5h0m-17 1h0m2 1h0m-10 2h0m3 0h0m14 0h0m6 1h0m-18 3h0m20 0h0m-2 3h0m-18 2h0m7 2h0m-8 2h0m10 4h0m-2 5h0m-11 2h0m-4 143h0m140-37h0m-4 1h0m13 1h0m5 3h0m-26 0h0m16 2h0m-9 3h0m7 1h0m8 1h0m-2 2h0m-7 0h0m-18 1h0m6 1h0m29 0h0m2 1h0m-40 1h0m11 2h0m29 1h0m-10 1h0m-13 1h0m21 1h0m-29 0h0m-8 0h0m18 1h0m6 1h0m-12 3h0m1 1h0m10 1h0m6 0h0m-12 2h0m9 2h0m10 1h0m-43 0h0m7 1h0m30 1h0m-24 2h0m27 0h0m-11 0h0m-140 0h0m114 1h0m23 0h0m-28 0h0m42 0h0m-151 1h0m128 1h0m10 0h0m-92 0h0m108 1h0m-44 1h0m37 0h0m-4 1h0m-27 0h0m3 1h0m-1 0h0m-82 1h0m7 0h0m0 0h0m-4 0h0m95 0h0m-103 0h0m112 0h0m6 1h0m-123 1h0m104 0h0m-85 0h0m-22 0h0m115 1h0m-105 0h0m1 0h0m3 0h0m-1 0h0m7 0h0m110 0h0m-5 0h0m-122 1h0m17 0h0m102 0h0m-96 0h0m-20 0h0m87 0h0m-11 0h0m36 1h0m-104 1h0m10 0h0m-16 1h0m15 0h0m-10 0h0m71 1h0m-1 0h0m21 0h0m-91 0h0m14 0h0m-4 1h0m-6 0h0m112 0h0m-131 1h0m119 0h0m-17 1h0m-80 0h0m-28 0h0m108 0h0m7 0h0m-106 0h0m11 0h0m-8 0h0m85 1h0m-90 0h0m18 0h0m102 0h0m-25 0h0m-96 0h0m22 1h0m73 0h0m-82 0h0m7 1h0m2 0h0m64 0h0m-57 0h0m-21 0h0m10 1h0m-23 0h0m131 0h0m-116 0h0m99 1h0m-107 0h0m19 1h0m94 0h0m-3 0h0m-22 1h0m35 0h0m-10 0h0m-122 0h0m7 1h0m-2 0h0m12 0h0m0 1h0m27 0h0m-1 0h0m-27 0h0m-2 1h0m30 0h0m-29 0h0m73 0h0m-71 0h0m-12 0h0m18 0h0m20 1h0m-20 0h0m15 0h0m-33 0h0m7 0h0m68 0h0m-55 1h0m7 0h0m12 0h0m-42 1h0m16 1h0m-17 0h0m24 1h0m109 0h0m-103 0h0m51 0h0m-75 0h0m31 0h0m52 1h0m-75 0h0m3 1h0m64 1h0m-63 0h0m5 1h0m-8 0h0m25 0h0m-3 0h0m71 0h0m-17 1h0m-67 0h0m58 0h0m38 1h0m-76 0h0m124-82h0m7 5h0m-15 2h0m-12 4h0m17 12h0m-195 126h0m8 0h0m-13 3h0m14 2h0m-12 0h0m17 4h0m-6 2h0m-3 0h0m-11 1h0m15 1h0m-1 1h0m2 6h0m-9 0h0m-5 7h0m-16 4h0m24 1h0m-13 0h0m20 1h0m-16 2h0m-31 4h0m12 1h0m4 1h0m28 1h0m-18 0h0m-3 1h0m-13 0h0m9 1h0m9 1h0m-32 5h0m-2 3h0m40 1h0m4 1h0m-8 3h0m-15 1h0m-15 1h0m36 10h0m-13 1h0m6 0h0m-32 3h0m33 1h0m-37 0h0m49 4h0m-31 1h0m15 0h0m17 0h0m0 1h0m-22 3h0m-24 1h0m26 0h0m10 1h0m-35 0h0m42 2h0m-12 3h0m18 1h0m-35 2h0m25 0h0m-16 2h0m-4 1h0m15 1h0m13 2h0m-2 0h0m-17 0h0m3 6h0m-2 1h0m-8 0h0m150-174h0m10 1h0m-7 0h0m-83 0h0m-10 0h0m119 0h0m-48 1h0m-56 0h0m13 0h0m-8 0h0m68 0h0m-92 1h0m14 0h0m8 1h0m-14 0h0m21 0h0m-31 1h0m13 0h0m20 0h0m-6 0h0m84 0h0m9 0h0m-113 1h0m15 0h0m73 1h0m-81 0h0m110 1h0m-15 0h0m-22 0h0m35 0h0m-105 0h0m74 1h0m-3 2h0m-82 0h0m74 0h0m-4 1h0m-55 0h0m64 0h0m24 1h0m-86 1h0m78 1h0m-84 0h0m90 1h0m-97 0h0m5 0h0m5 1h0m3 0h0m-2 0h0m-8 0h0m97 2h0m3 0h0m-125 46h0m14 7h0m-18 4h0m9 1h0m-11 3h0m4 5h0m7 7h0m8 1h0m5 1h0m-21 1h0m-3 4h0m11 1h0m8 2h0m-15 13h0m7 5h0m-5 6h0m7 3h0m7 0h0m-17 5h0m21 1h0m-26 2h0m20 0h0m99 1h0m13 1h0m-1 0h0m-16 1h0m27 0h0m-133 1h0m113 0h0m-5 0h0m-114 0h0m138 2h0m-13 1h0m-1 0h0m-9 0h0m19 1h0m-127 0h0m-7 0h0m112 1h0m19 1h0m-127 1h0m132 0h0m16 0h0m-17 1h0m-113 1h0m103 0h0m3 0h0m-128 0h0m114 0h0m21 1h0m16 0h0m-7 1h0m-23 1h0m-6 0h0m-109 1h0m-2 1h0m150 1h0m-1 0h0m-13 1h0m-38 1h0m8 0h0m15 0h0m25 0h0m-133 0h0m114 1h0m-4 0h0m-26 1h0m40 1h0m-5 1h0m-18 1h0m22 0h0m-27 0h0m0 1h0m-15 1h0m-2 1h0m18 0h0m12 1h0m-37 0h0m16 0h0m13 1h0m8 1h0m-17 0h0m-91 0h0m76 2h0m49 1h0m-133 0h0m120 0h0m-109 0h0m104 0h0m-11 2h0m-23 1h0m-83 0h0m80 0h0m-90 1h0m97 0h0m209-94h0m-8 4h0m2 1h0m-5 0h0m17 1h0m-18 1h0m-7 0h0m16 1h0m-17 1h0m22 1h0m-27 2h0m24 1h0m-14 2h0m9 1h0m-21 1h0m9 1h0m25 0h0m-39 1h0m32 1h0m-28 0h0m-6 1h0m27 0h0m4 2h0m-14 2h0m19 0h0m1 0h0m-3 4h0m-16 2h0m-8 2h0m14 0h0m5 0h0m-15 2h0m-3 0h0m6 1h0m19 1h0m-23 1h0m-15 1h0m-101 9h0m5 2h0m-13 1h0m15 8h0m-10 1h0m-9 1h0m3 6h0m13 0h0m-16 1h0m11 1h0m-4 1h0m7 0h0m-6 6h0m8 1h0m-14 3h0m6 0h0m6 1h0m-5 3h0m2 1h0m6 4h0m-4 3h0m-14 1h0m192-105h0m14 1h0m-9 2h0m12 1h0m-45 2h0m31 1h0m-30 1h0m10 0h0m21 1h0m-26 0h0m-6 1h0m41 2h0m-13 0h0m-18 2h0m21 0h0m-33 1h0m35 0h0m10 1h0m-13 1h0m-26 0h0m22 0h0m26 1h0m-52 2h0m1 0h0m33 0h0m-18 2h0m-22 1h0m25 2h0m23 0h0m-9 0h0m-5 3h0m15 0h0m-32 1h0m-14 0h0m6 0h0m23 2h0m4 0h0m9 0h0m-9 1h0m-24 0h0m4 1h0m10 0h0m16 0h0m-37 3h0m11 0h0m21 4h0m-6 0h0m-9 3h0m-13 1h0m19 0h0m-7 3h0m-12 1h0m-9 1h0m0 0h0m10 1h0m-339 58h0m-18 1h0m9 2h0m12 1h0m-6 4h0m5 2h0m9 1h0m-4 0h0m-15 64h0m-25 0h0m13 1h0m9 1h0m11 1h0m-35 1h0m13 0h0m-8 2h0m10 2h0m8 3h0m17 0h0m6 0h0m-18 1h0m-11 1h0m11 0h0m-6 1h0m-11 4h0m28 1h0m-7 0h0m-31 1h0m22 0h0m-34 1h0m21 1h0m16 1h0m15 2h0m-45 1h0m33 1h0m-24 3h0m3 0h0m24 0h0m-42 2h0m28 1h0m-10 0h0m21 0h0m-9 1h0m-8 0h0m25 1h0m-42 1h0m38 0h0m-12 1h0m24 3h0m-25 0h0m-23 1h0m19 1h0m11 0h0m-23 0h0m-6 1h0m5 0h0m4 0h0m38 1h0m-7 0h0m-6 1h0m9 1h0m-24 0h0m16 2h0m15 4h0m-16 1h0m-12 0h0m24 0h0m-36 0h0m-3 3h0m-5 1h0m5 3h0m28 1h0m12 0h0m-25 1h0m-2 0h0m16 1h0m9 0h0m-21 3h0m12 3h0m9 0h0m95-146h0m52 1h0m4 0h0m-36 0h0m-7 2h0m-8 2h0m19 0h0m-7 1h0m-89 1h0m119 0h0m-36 1h0m-85 1h0m-14 0h0m2 1h0m111 0h0m18 1h0m-22 0h0m-108 0h0m122 2h0m-6 2h0m4 0h0m-99 2h0m-12 75h0m-5 1h0m4 7h0m-8 2h0m6 0h0m1 7h0m-6 0h0m-3 2h0m-1 3h0m28 3h0m-10 1h0m-15 1h0m21 0h0m-9 2h0m-11 6h0m24 1h0m-15 4h0m-7 0h0m12 1h0m-9 2h0m138 3h0m-4 0h0m3 0h0m7 1h0m-136 1h0m3 3h0m-12 0h0m147 0h0m-24 1h0m0 0h0m-113 1h0m119 0h0m4 1h0m4 0h0m6 0h0m-148 2h0m-2 1h0m150 0h0m-28 0h0m-114 1h0m134 0h0m-2 0h0m-126 1h0m115 1h0m-21 0h0m-108 1h0m12 0h0m104 1h0m37 0h0m-28 0h0m19 1h0m-33 0h0m22 1h0m19 0h0m-23 0h0m24 1h0m-33 1h0m5 0h0m17 0h0m-5 1h0m-29 1h0m40 1h0m-15 1h0m-29 0h0m26 0h0m-27 1h0m46 0h0m-13 1h0m-24 0h0m5 0h0m-1 1h0m10 0h0m22 1h0m-5 0h0m14 0h0m-24 0h0m-27 1h0m32 0h0m-10 0h0m-18 1h0m24 0h0m16 1h0m5 0h0m-38 0h0m20 1h0m-18 1h0m31 4h0m4 0h0m-40 1h0m14 0h0m145-107h0m-5 1h0m6 0h0m5 1h0m-3 0h0m-1 1h0m-1 2h0m8 0h0m-2 0h0m-16 1h0m16 0h0m-5 0h0m9 1h0m1 0h0m-11 2h0m-3 2h0m14 1h0m-10 0h0m6 0h0m-14 0h0m4 1h0m-1 0h0m-9 1h0m9 1h0m8 0h0m-22 1h0m16 0h0m-8 0h0m3 0h0m0 0h0m-2 1h0m9 0h0m-10 0h0m17 1h0m-9 1h0m11 1h0m-18 0h0m13 0h0m2 0h0m-16 0h0m5 2h0m0 1h0m-6 0h0m24 1h0m-2 0h0m1 0h0m-21 0h0m22 0h0m-10 1h0m-9 0h0m4 1h0m2 0h0m-1 0h0m1 0h0m-4 0h0m-5 2h0m20 0h0m0 1h0m-17 0h0m13 1h0m-3 0h0m-7 0h0m-7 1h0m-4 0h0m18 0h0m-10 1h0m16 0h0m-22 0h0m7 1h0m-6 0h0m11 1h0m-10 0h0m17 1h0m-19 0h0m23 2h0m-1 0h0m-4 0h0m-21 1h0m28 1h0m-5 0h0m-22 0h0m15 1h0m-2 0h0m11 2h0m-1 1h0m-10 2h0m13 0h0m-12 1h0m1 0h0m-14 0h0m11 1h0m7 0h0m-16 1h0m16 0h0m7 0h0m-16 0h0m13 1h0m-6 1h0m9 0h0m-23 1h0m6 0h0m15 0h0m-2 0h0m-5 0h0m-12 1h0m-3 0h0m4 0h0m16 0h0m3 0h0m1 5h0m-120 20h0m-8 1h0m2 0h0m4 3h0m-6 1h0m17 4h0m-4 4h0m-12 2h0m9 2h0m-5 2h0m-2 4h0m312-97h0m-11 0h0m-1 10h0m9 3h0m-8 0h0m-6 7h0m12 1h0m-7 4h0m3 3h0m-10 8h0m6 3h0m7 1h0m-17 5h0m-3 0h0m24 3h0m-20 1h0m-11 2h0m23 1h0m4 1h0m6 2h0m-11 4h0m-9 5h0m7 3h0m-17 0h0m28 2h0m-19 2h0m19 2h0m-8 4h0m-17 3h0m17 0h0m-8 0h0m13 4h0m-23 3h0m6 1h0m16 5h0m6 5h0m-19 0h0m0 5h0m23-100h0m26 4h0m-12 1h0m9 1h0m-8 1h0m13 3h0m10 1h0m-4 1h0m-29 0h0m21 1h0m9 0h0m-35 4h0m15 0h0m9 1h0m-7 2h0m2 0h0m23 0h0m-11 2h0m-6 0h0m30 1h0m-12 0h0m-38 1h0m-9 1h0m38 2h0m-36 0h0m16 2h0m18 0h0m-21 2h0m27 1h0m-13 3h0m10 0h0m-13 1h0m24 1h0m-16 0h0m-18 1h0m22 2h0m-32 5h0m24 3h0m16 2h0m-34 2h0m39 2h0m-33 6h0m-14 4h0m39 0h0m0 1h0m-32 0h0m35 0h0m-18 2h0m-22 0h0m32 0h0m14 2h0m-25 1h0m-14 2h0m-7 1h0m0 0h0m32 3h0m-3 1h0m-8 4h0m-20 1h0m29 1h0m12 5h0m-22 3h0m-14 0h0m26 1h0m-16 3h0m6 1h0m16 4h0m-32 0h0m15 1h0m-550 69h0m-4 3h0m1 1h0m4 0h0m-1 0h0m-4 1h0m-1 0h0m5 1h0m-8 1h0m2 0h0m1 0h0m-4 0h0m0 1h0m-1 0h0m-1 1h0m3 1h0m-1 0h0m-1 0h0m5 1h0m0 0h0m5 0h0m5 0h0m-4 1h0m-9 0h0m9 0h0m-9 0h0m3 1h0m-3 0h0m5 0h0m-3 1h0m7 0h0m-9 1h0m0 0h0m9 1h0m-10 1h0m12 0h0m-7 0h0m-3 1h0m1 0h0m0 1h0m11 0h0m-12 0h0m9 2h0m1 1h0m1 0h0m2 1h0m1 0h0m-8 0h0m-9 2h0m8 0h0m5 0h0m0 0h0m-4 1h0m4 1h0m-10 0h0m5 1h0m-7 0h0m1 0h0m2 1h0m10 1h0m2 1h0m-5 0h0m-2 0h0m0 0h0m-4 1h0m-5 0h0m13 1h0m-10 1h0m6 1h0m0 1h0m5 0h0m-9 0h0m5 4h0m2 0h0m-4 2h0m177-111h0m23 0h0m-34 1h0m2 0h0m13 0h0m6 1h0m-25 1h0m17 1h0m-11 0h0m-2 1h0m31 0h0m-21 0h0m27 4h0m-8 0h0m-5 1h0m-11 1h0m-10 1h0m16 0h0m14 0h0m4 1h0m-18 56h0m1 2h0m-4 3h0m3 0h0m-15 3h0m6 1h0m1 2h0m5 1h0m6 0h0m-17 2h0m1 1h0m15 1h0m6 0h0m-26 2h0m22 2h0m-4 1h0m12 1h0m-29 0h0m6 0h0m15 1h0m-18 2h0m24 3h0m-28 1h0m13 0h0m17 5h0m-32 0h0m22 0h0m-32 3h0m41 0h0m-12 1h0m-4 0h0m-21 1h0m2 0h0m6 0h0m-1 2h0m35 0h0m-46 1h0m28 0h0m20 1h0m-26 2h0m19 1h0m-21 2h0m26 0h0m-50 0h0m16 1h0m-16 1h0m35 0h0m16 0h0m-20 1h0m8 2h0m-31 2h0m14 0h0m25 0h0m-35 0h0m22 0h0m-11 2h0m23 1h0m-10 0h0m13 0h0m-24 1h0m-19 1h0m4 1h0m-1 1h0m35 1h0m-20 0h0m9 1h0m6 0h0m9 0h0m-34 3h0m-12 2h0m33 0h0m11 0h0m-41 2h0m12 0h0m31 1h0m-39 1h0m11 3h0m16 1h0m3 0h0m6 2h0m-8 2h0m-24 1h0m15 1h0m7 3h0m3 4h0m-7 1h0m-17 0h0m-8 1h0m16 0h0m-4 2h0m25 1h0m-34 2h0m9 0h0m-3 2h0m1 1h0m11 0h0m-13 1h0m19 2h0m4 0h0m-10 1h0m-7 1h0m191-101h0m2 6h0m-3 1h0m-14 6h0m-9 1h0m17 1h0m-8 2h0m-8 2h0m18 1h0m-23 0h0m29 2h0m0 2h0m-26 1h0m5 0h0m-13 0h0m26 0h0m-2 1h0m4 2h0m-8 4h0m-20 2h0m15 0h0m19 4h0m-2 5h0m-17 1h0m7 0h0m11 0h0m-31 1h0m-2 1h0m28 1h0m-7 2h0m6 0h0m-11 0h0m-15 1h0m9 4h0m15 1h0m-20 0h0m8 1h0m42-61h0m28 4h0m7 0h0m-24 0h0m-19 1h0m6 0h0m-10 0h0m36 0h0m-18 1h0m-22 0h0m55 0h0m-46 1h0m43 2h0m-39 1h0m25 1h0m-10 1h0m11 0h0m-23 2h0m13 0h0m26 0h0m-6 1h0m-13 0h0m5 1h0m-20 1h0m35 0h0m-52 2h0m25 2h0m9 2h0m4 0h0m-43 1h0m27 0h0m-9 0h0m4 1h0m26 1h0m7 0h0m-54 0h0m39 1h0m-35 3h0m14 0h0m22 3h0m-3 4h0m13 1h0m-20 1h0m-7 0h0m-12 1h0m33 0h0m-11 1h0m12 0h0m-20 3h0m-12 1h0m28 0h0m-8 0h0m-31 1h0m39 0h0m-10 1h0m5 1h0m-8 1h0m-3 1h0m-21 0h0m7 2h0m13 3h0m153-123h0m8 4h0m4 1h0m6 1h0m-19 1h0m19 0h0m-13 2h0m17 118h0m5 0h0m4 1h0m-6 0h0m5 2h0m2 1h0m-7 0h0m6 2h0m-11 1h0m2 1h0m0 1h0m12 0h0m0 1h0m-9 1h0m-3 0h0m10 0h0m4 0h0m-12 0h0m-9 0h0m1 0h0m-4 1h0m22 2h0m-21 1h0m1 0h0m9 1h0m-5 0h0m1 1h0m-3 1h0m21 1h0m-1 1h0m-8 2h0m-3 1h0m13 0h0m-2 1h0m-22 1h0m11 0h0m-2 3h0m10 0h0m1 0h0m-21 1h0m5 0h0m-7 0h0m16 0h0m12 1h0m-8 0h0m-18 1h0m3 1h0m12 0h0m-15 1h0m1 0h0m17 1h0m5 0h0m-5 0h0m-6 0h0m11 1h0m-3 0h0m5 0h0m1 0h0m-21 1h0m20 0h0m-10 0h0m-11 1h0m19 0h0m2 0h0m-17 3h0m-3 1h0m9 0h0m-1 1h0m3 0h0m-5 1h0m14 1h0m-21 1h0m15 1h0m-11 0h0m14 0h0m-18 1h0m4 2h0m-4 0h0m168-109h0m4 2h0m-1 1h0m-2 2h0m-2 2h0m10 1h0m-5 0h0m-4 0h0m1 1h0m8 1h0m-5 1h0m-4 0h0m3 0h0m-7 1h0m12 0h0m-5 3h0m7 1h0m-3 2h0m-10 0h0m8 1h0m2 0h0m-6 2h0m3 1h0m0 0h0m2 0h0m-2 0h0m1 1h0m-2 0h0m6 1h0m-3 1h0m-6 0h0m12 0h0m-9 0h0m-4 1h0m9 1h0m-8 1h0m7 1h0m-2 2h0m6 1h0m-15 0h0m11 1h0m-8 1h0m0 1h0m10 1h0m3 0h0m-9 3h0m8 1h0m-16 1h0m-1 1h0m3 0h0m10 1h0m3 0h0m-1 1h0m-2 0h0m-13 0h0m12 1h0m-7 1h0m4 0h0m2 1h0m-9 0h0m5 2h0m8 0h0m-9 0h0m12 0h0m-13 3h0m11 1h0m-1 0h0m-6 1h0m7 0h0m-12 3h0m2 1h0m2 1h0m-3 4h0m8 1h0m-5 0h0m-4 1h0m1 0h0m1 0h0m8 0h0m-6 1h0m3 3h0m-5 0h0m5 0h0m3 2h0m-2 1h0m-5 3h0m5 2h0m-8 1h0m5 1h0m0 1h0m-3 0h0m3 0h0m-1 1h0m-714 100h0m-2 6h0m7 6h0m-19 1h0m24 0h0m-28 0h0m-6 2h0m15 0h0m-4 1h0m-9 0h0m5 1h0m11 0h0m15 1h0m-30 0h0m11 2h0m4 2h0m-17 1h0m-2 2h0m27 0h0m4 1h0m-14 1h0m-4 2h0m17 2h0m5 2h0m-24 0h0m0 0h0m-6 1h0m17 1h0m-6 0h0m15 2h0m-24 0h0m15 0h0m-3 0h0m-4 2h0m7 1h0m17 1h0m-29 1h0m27 2h0m-13 0h0m-7 1h0m17 1h0m-7 1h0m12 1h0m0 0h0m-19 0h0m4 2h0m-3 1h0m15 1h0m-32 2h0m2 1h0m26 0h0m-25 0h0m26 4h0m-28 1h0m19 0h0m7 1h0m-12 1h0m-11 3h0m18 0h0m-17 2h0m19 2h0m0 4h0m-12 2h0m13 1h0m-8 1h0m-6 0h0m-8 2h0m26 1h0m-32 0h0m25 0h0m-10 1h0m16 0h0m-31 2h0m22 2h0m-25 1h0m12 1h0m18 3h0m-11 1h0m-6 0h0m7 1h0m-3 2h0m6 1h0m4 0h0m-24 1h0m33 0h0m-1 1h0m-21 2h0m12 5h0m177-176h0m-24 2h0m16 1h0m-10 1h0m13 0h0m2 1h0m-3 2h0m-4 0h0m7 2h0m-17 1h0m61 62h0m106 0h0m-4 3h0m3 0h0m-2 0h0m6 1h0m-27 0h0m-76 1h0m76 0h0m8 0h0m13 0h0m-13 0h0m-72 0h0m73 0h0m-94 1h0m85 0h0m-1 0h0m-90 0h0m22 0h0m83 1h0m-77 0h0m72 1h0m-101 0h0m15 1h0m87 0h0m-13 0h0m16 0h0m-89 1h0m112 0h0m-22 1h0m-3 0h0m17 0h0m-31 1h0m-52 0h0m82 0h0m-11 0h0m-68 1h0m66 0h0m11 0h0m1 0h0m-103 1h0m79 0h0m14 0h0m-108 1h0m25 0h0m-4 0h0m86 0h0m-72 1h0m76 0h0m-15 0h0m-51 0h0m-45 0h0m27 0h0m59 1h0m-50 0h0m53 0h0m6 0h0m-85 0h0m-2 0h0m116 1h0m4 0h0m-130 0h0m-6 0h0m95 1h0m-63 0h0m65 0h0m19 0h0m-12 0h0m-6 1h0m-82 0h0m99 0h0m-59 0h0m79 0h0m-108 1h0m18 0h0m45 0h0m36 0h0m-117 0h0m89 0h0m21 0h0m-6 0h0m-74 1h0m-20 0h0m112 0h0m-106 0h0m9 1h0m4 0h0m90 0h0m1 0h0m-23 1h0m21 0h0m-84 0h0m-10 1h0m-15 0h0m99 0h0m-62 0h0m-54 1h0m119 0h0m-18 0h0m-3 1h0m11 0h0m-85 0h0m75 0h0m-1 0h0m11 0h0m-106 0h0m114 0h0m-76 1h0m66 0h0m-74 0h0m59 0h0m34 1h0m-122 0h0m121 0h0m-24 0h0m5 1h0m-95 0h0m111 0h0m-19 0h0m-16 0h0m14 0h0m-75 0h0m79 0h0m-66 1h0m46 0h0m-87 1h0m94 0h0m0 0h0m22 0h0m-13 0h0m-59 0h0m-27 1h0m11 1h0m60 0h0m-87 0h0m125 0h0m3 1h0m-89 0h0m63 1h0m-6 0h0m-8 1h0m-91 0h0m18 0h0m112 0h0m-27 0h0m-61 0h0m-10 0h0m75 0h0m6 1h0m-96 0h0m13 1h0m-6 0h0m86 1h0m-76 0h0m20 0h0m45 1h0m-45 0h0m-12 0h0m-27 1h0m81 0h0m-86 2h0m-10 0h0m-5 0h0m12 0h0m-4 0h0m10 0h0m129 1h0m-92 0h0m-30 1h0m22 1h0m11 0h0m-41 0h0m20 1h0m-6 0h0m-19 1h0m135 0h0m-138 2h0m47 0h0m-38 1h0m24 0h0m11 1h0m99 1h0m-133 0h0m21 0h0m-7 0h0m9 1h0m103 1h0m-107 0h0m12 0h0m6 1h0m-43 0h0m33 1h0m-3 2h0m-7 0h0m-2 1h0m0 0h0m14 0h0m-3 0h0m108 2h0m217-135h0m-12 0h0m-7 0h0m15 1h0m-14 1h0m-1 1h0m14 1h0m-12 1h0m2 0h0m13 2h0m-16 0h0m4 1h0m6 0h0m4 2h0m-11 4h0m71 54h0m1 2h0m-3 1h0m6 1h0m3 0h0m-7 0h0m1 1h0m-3 1h0m12 1h0m-4 1h0m-3 1h0m-4 0h0m11 0h0m-10 0h0m8 1h0m-5 2h0m-10 2h0m-1 0h0m6 1h0m5 0h0m-7 0h0m0 3h0m2 0h0m4 1h0m5 0h0m-14 1h0m19 0h0m-10 1h0m-6 0h0m4 0h0m7 1h0m0 0h0m-4 0h0m8 0h0m-10 1h0m-1 0h0m1 0h0m7 0h0m-15 1h0m13 0h0m-8 1h0m-6 1h0m16 0h0m4 0h0m-13 1h0m-7 0h0m16 3h0m-6 0h0m-9 0h0m12 0h0m-14 1h0m19 1h0m-18 0h0m11 0h0m5 1h0m-3 0h0m5 0h0m2 1h0m-12 0h0m1 0h0m5 0h0m4 1h0m-14 0h0m4 0h0m6 0h0m9 1h0m-14 1h0m-8 2h0m20 0h0m-6 1h0m1 0h0m5 1h0m-10 0h0m3 0h0m-1 1h0m-6 0h0m-3 1h0m14 0h0m-16 2h0m8 1h0m-3 1h0m3 0h0m1 0h0m-2 2h0m-2 0h0m5 0h0m-1 0h0m0 2h0m5 2h0m-7 0h0m5 0h0m-1 3h0m-5 0h0m2 4h0m-1 1h0m-85 8h0m20 2h0m-11 2h0m4 0h0m-14 0h0m1 1h0m19 1h0m-26 0h0m21 1h0m-10 0h0m4 0h0m-4 0h0m25 1h0m-6 1h0m-14 1h0m-18 0h0m36 0h0m-39 1h0m-5 0h0m3 0h0m-2 0h0m8 0h0m35 1h0m-45 0h0m20 1h0m30 0h0m-30 0h0m-2 0h0m8 0h0m1 0h0m16 1h0m-7 0h0m-23 0h0m2 1h0m23 0h0m-13 0h0m-14 0h0m33 0h0m-15 3h0m-17 0h0m29 0h0m-7 0h0m-29 0h0m18 1h0m5 0h0m-26 1h0m40 1h0m-27 1h0m9 0h0m22 0h0m6 1h0m6 0h0m-50 0h0m15 1h0m5 0h0m-23 1h0m27 0h0m12 0h0m4 1h0m2 0h0m-41 1h0m13 1h0m2 0h0m-9 1h0m29 0h0m-23 0h0m-4 0h0m-22 0h0m55 1h0m-53 1h0m28 0h0m23 2h0m0 0h0m-6 0h0m-9 1h0m-21 0h0m14 1h0m3 1h0m16 0h0m-27 0h0m21 0h0m1 1h0m-29 0h0m13 1h0m-19 0h0m29 1h0m218-106h0m21 1h0m-8 0h0m5 1h0m17 2h0m-13 2h0m-14 0h0m19 0h0m8 2h0m-11 0h0m-18 0h0m32 1h0m-18 1h0m16 1h0m9 1h0m-36 0h0m8 2h0m-1 0h0m17 3h0m-6 2h0m10 0h0m-8 2h0m-2 2h0m-13 4h0m14 0h0m-22 1h0m23 2h0m7 0h0m-32 1h0m42 0h0m-27 2h0m5 1h0m28 0h0m-12 1h0m-33 1h0m7 0h0m10 3h0m18 0h0m4 2h0m-45 0h0m54 1h0m-31 1h0m30 0h0m-34 1h0m-9 0h0m-12 0h0m17 0h0m-10 2h0m44 0h0m1 1h0m-18 1h0m-12 1h0m34 0h0m-59 0h0m32 0h0m-19 0h0m10 1h0m20 0h0m4 0h0m-45 1h0m7 1h0m21 1h0m-27 0h0m11 0h0m-14 2h0m47 1h0m-23 1h0m19 0h0m-34 0h0m11 3h0m21 0h0m-29 0h0m-10 0h0m15 0h0m37 2h0m-21 1h0m-25 1h0m11 1h0m-2 1h0m7 1h0m-11 2h0m16 1h0m-21 0h0m23 3h0m-13 0h0m4 2h0m1 4h0m4 3h0m-783 25h0m23 136h0m119-67h0m-54 4h0m61 1h0m-4 0h0m-5 2h0m-60 0h0m7 1h0m-10 1h0m64 0h0m-64 1h0m76 2h0m-98 1h0m16 0h0m-23 1h0m96 0h0m-58 0h0m71 1h0m-15 0h0m-79 2h0m-10 0h0m-3 1h0m95 0h0m-93 0h0m106 1h0m4 0h0m-88 0h0m-24 1h0m29 0h0m58 0h0m19 0h0m-89 0h0m-12 0h0m99 1h0m6 0h0m-17 0h0m-95 1h0m40 1h0m-21 0h0m17 0h0m-35 0h0m99 1h0m-96 0h0m12 1h0m-8 0h0m33 1h0m78 0h0m-78 0h0m-3 1h0m-47 1h0m128 0h0m-101 0h0m4 0h0m10 0h0m90 1h0m-28 1h0m1 0h0m-50 0h0m-21 0h0m-20 1h0m112 1h0m-103 0h0m6 2h0m76 0h0m-100 0h0m89 0h0m30 0h0m-72 1h0m-42 0h0m3 0h0m31 1h0m71 1h0m-85 0h0m102 1h0m-139 0h0m26 0h0m110 1h0m-110 0h0m84 1h0m-56 1h0m-9 1h0m70 0h0m-56 0h0m-10 0h0m81 0h0m-126 1h0m14 0h0m98 0h0m-9 1h0m-97 0h0m-10 0h0m37 1h0m-11 0h0m-10 1h0m101 0h0m0 0h0m-73 0h0m-36 0h0m91 1h0m-96 0h0m34 0h0m4 0h0m-23 0h0m24 0h0m95 0h0m-12 0h0m-89 2h0m-16 1h0m26 0h0m0 0h0m-43 0h0m38 0h0m-21 0h0m32 1h0m-14 0h0m-6 1h0m20 0h0m-17 0h0m17 0h0m56 1h0m-70 0h0m99 0h0m-36 0h0m-53 1h0m-12 0h0m-8 0h0m97 2h0m-119 0h0m23 0h0m-29 0h0m116 1h0m-114 0h0m36 0h0m-36 0h0m10 0h0m120 1h0m-1 0h0m-15 0h0m-113 0h0m6 1h0m25 0h0m-15 0h0m8 0h0m-12 2h0m104 0h0m-20 1h0m28 0h0m-5 0h0m-123 1h0m105 0h0m-98 1h0m114 1h0m-110 0h0m87 0h0m2 1h0m-99 1h0m114 0h0m18 0h0m3 2h0m-119 0h0m114 1h0m-30 0h0m35 1h0m-125 0h0m101 0h0m10 1h0m-6 1h0m-8 0h0m0 2h0m-89 0h0m118 1h0m-124 0h0m109 1h0m9 1h0m-22 2h0m7 0h0m-8 1h0m21 1h0m-28 0h0m17 3h0m5 1h0m11 1h0m-21 2h0m-1 0h0m8 1h0m13 1h0m-34 0h0m34 1h0m-15 0h0m-15 0h0m33 3h0m3 0h0m-19 1h0m-24 0h0m13 0h0m19 1h0m5 1h0m-21 0h0m10 1h0m7 0h0m-14 1h0m8 0h0m-16 0h0m18 2h0m-19 4h0m7 0h0m11 0h0m344-87h0m-9 1h0m0 0h0m5 2h0m-26 5h0m22 2h0m-20 0h0m28 0h0m-16 1h0m-5 0h0m19 2h0m-28 0h0m15 3h0m-24 3h0m10 0h0m27 6h0m-13 0h0m11 5h0m-35 2h0m35 3h0m-13 1h0m6 3h0m-40 0h0m26 0h0m-4 0h0m10 2h0m-7 0h0m-8 2h0m-4 0h0m-12 2h0m0 3h0m16 2h0m-21 0h0m52 2h0m-28 1h0m-82 0h0m111 0h0m-110 1h0m95 1h0m-9 0h0m-83 0h0m-1 0h0m-2 1h0m-1 0h0m100 0h0m-7 1h0m-30 0h0m3 0h0m-72 1h0m-5 0h0m2 0h0m3 1h0m7 0h0m81 0h0m-89 1h0m15 0h0m-14 0h0m-6 0h0m6 0h0m5 1h0m-11 0h0m72 0h0m-76 0h0m-7 0h0m5 1h0m78 0h0m-65 0h0m0 1h0m74 0h0m10 0h0m31 1h0m-135 0h0m98 1h0m-75 1h0m109 0h0m-131 0h0m23 1h0m8 0h0m-8 0h0m-21 0h0m-6 1h0m-1 0h0m16 1h0m16 0h0m6 2h0m-14 0h0m18 1h0m-34 1h0m-8 0h0m2 1h0m133 0h0m-121 0h0m17 0h0m8 0h0m-9 0h0m-2 1h0m5 0h0m-28 0h0m97 0h0m0 0h0m26 1h0m-100 0h0m-27 0h0m32 0h0m-17 1h0m-3 0h0m102 0h0m-109 0h0m12 0h0m2 0h0m-13 1h0m9 0h0m4 1h0m87 0h0m-88 0h0m19 0h0m-35 1h0m20 0h0m6 0h0m0 0h0m0 0h0m9 1h0m-33 0h0m1 0h0m92 1h0m-77 0h0m-9 0h0m122 1h0m-104 0h0m-8 0h0m-3 0h0m-9 0h0m97 0h0m-95 1h0m22 0h0m-14 0h0m20 1h0m76 0h0m-8 0h0m-105 1h0m7 0h0m31 0h0m-34 0h0m34 0h0m-1 0h0m-19 1h0m17 0h0m140-175h0m-19 0h0m4 0h0m4 0h0m27 0h0m-28 2h0m8 0h0m29 0h0m-7 1h0m2 0h0m-4 1h0m-13 0h0m5 0h0m14 1h0m-13 0h0m-5 2h0m-11 1h0m11 0h0m6 0h0m-12 2h0m-23 80h0m0 3h0m6 2h0m-12 2h0m0 3h0m12 5h0m-14 7h0m7 5h0m145 6h0m-129 1h0m131 1h0m-152 0h0m138 1h0m-120 3h0m-9 1h0m4 1h0m137 0h0m-129 1h0m113 0h0m-119 2h0m-7 0h0m111 0h0m29 1h0m-148 1h0m5 1h0m13 2h0m136 2h0m-38 0h0m30 0h0m-134 1h0m-9 0h0m17 1h0m123 0h0m-21 0h0m29 0h0m-125 0h0m104 2h0m7 0h0m-127 1h0m130 2h0m-122 1h0m13 0h0m92 2h0m28 1h0m-140 1h0m130 1h0m-119 1h0m-5 1h0m128 2h0m-124 0h0m111 2h0m-132 1h0m141 1h0m-23 1h0m14 0h0m4 0h0m-122 2h0m120 5h0m-13 0h0m-120 2h0m117 2h0m56-54h0m-17 2h0m19 0h0m-14 1h0m22 4h0m-24 0h0m7 3h0m13 3h0m-17 1h0m-1 1h0m6 2h0m20 1h0m0 3h0m-15 0h0m9 0h0m-4 4h0m-2 1h0m-19 1h0m36 1h0m-10 1h0m31 2h0m0 0h0m-17 1h0m0 2h0m-9 0h0m-11 1h0m7 1h0m-4 0h0m30 0h0m4 1h0m-4 1h0m6 0h0m-49 1h0m23 2h0m-18 0h0m41 2h0m-34 0h0m-18 1h0m56 0h0m-20 1h0m-2 1h0m-39 0h0m51 1h0m-31 2h0m-12 2h0m23 1h0m5 0h0m-19 0h0m41 0h0m-48 2h0m258-79h0m3 2h0m-1 0h0m2 1h0m-3 0h0m1 1h0m2 2h0m-6 0h0m8 0h0m-8 0h0m-1 1h0m8 1h0m3 0h0m-1 1h0m-9 2h0m-2 0h0m-58 0h0m-7 0h0m3 2h0m70 1h0m-3 0h0m-61 2h0m-6 1h0m65 0h0m-2 1h0m1 0h0m3 1h0m-67 1h0m61 0h0m-67 1h0m78 0h0m2 0h0m-15 0h0m10 0h0m-7 0h0m-65 1h0m71 0h0m-61 0h0m68 0h0m-17 0h0m18 0h0m-70 0h0m-2 0h0m54 1h0m-58 0h0m59 0h0m-59 0h0m71 1h0m-12 1h0m-61 0h0m67 0h0m-70 0h0m11 0h0m67 1h0m-72 1h0m60 0h0m3 0h0m-70 0h0m68 1h0m8 0h0m-75 1h0m7 0h0m64 0h0m-66 0h0m4 0h0m2 0h0m2 1h0m-7 0h0m76 1h0m-11 0h0m1 2h0m-65 0h0m6 0h0m47 0h0m10 1h0m-75 0h0m20 1h0m45 0h0m-58 0h0m59 0h0m21 1h0m-6 1h0m-13 0h0m-54 1h0m-1 1h0m-11 0h0m84 1h0m-15 0h0m-62 0h0m4 0h0m63 1h0m-66 0h0m-11 1h0m85 0h0m-16 0h0m-60 0h0m-3 0h0m82 0h0m-66 1h0m-5 0h0m-6 0h0m73 0h0m-6 1h0m-71 0h0m-2 0h0m65 1h0m-47 0h0m50 0h0m5 1h0m-68 0h0m7 0h0m47 0h0m19 0h0m6 0h0m-20 0h0m14 0h0m-66 1h0m58 0h0m-65 1h0m4 0h0m-1 0h0m-1 0h0m1 0h0m75 1h0m-9 0h0m1 0h0m-15 1h0m19 0h0m-16 1h0m-59 0h0m-2 0h0m71 0h0m-65 0h0m-5 1h0m7 0h0m-15 1h0m14 0h0m75 1h0m-19 0h0m13 0h0m0 0h0m-2 1h0m-70 1h0m11 0h0m-14 0h0m57 0h0m-56 1h0m-8 0h0m86 1h0m-16 0h0m-52 1h0m-3 0h0m3 0h0m48 1h0m-3 0h0m-44 0h0m58 1h0m-11 0h0m-58 0h0m76 1h0m1 0h0m-10 0h0m-73 1h0m12 0h0m-5 0h0m60 0h0m17 1h0m-17 0h0m-48 0h0m50 1h0m-53 0h0m-10 0h0m-7 1h0m69 0h0m-61 0h0m60 0h0m-71 1h0m78 0h0m-56 1h0m66 1h0m-6 0h0m4 0h0m-69 0h0m62 1h0m7 0h0m-81 2h0m0 0h0m7 1h0m73 1h0m-74 0h0m-9 0h0m77 1h0m-3 0h0m-56 0h0m55 1h0m2 0h0m-8 1h0m-56 0h0m59 0h0m-60 0h0m66 1h0m4 0h0m-72 1h0m2 0h0m61 1h0m-947 132h0m-1 4h0m2 0h0m0 0h0m-1 1h0m0 1h0m2 1h0m-1 1h0m2 0h0m-1 1h0m3 1h0m-8 0h0m-3 0h0m5 2h0m7 0h0m-8 0h0m3 2h0m-7 1h0m14 1h0m-8 0h0m-6 1h0m6 1h0m-4 0h0m-3 0h0m7 0h0m-6 1h0m12 0h0m-10 0h0m12 0h0m-2 2h0m-12 0h0m-1 1h0m11 1h0m-12 1h0m9 0h0m-6 0h0m9 1h0m-10 1h0m5 1h0m9 0h0m1 0h0m-13 0h0m4 1h0m0 0h0m-6 1h0m3 0h0m2 0h0m2 2h0m10 0h0m-11 0h0m7 2h0m-9 1h0m10 1h0m4 0h0m-8 0h0m-3 0h0m-4 1h0m10 0h0m-2 0h0m-4 1h0m7 0h0m-6 1h0m-4 1h0m2 0h0m3 2h0m-3 0h0m-2 0h0m11 0h0m-8 0h0m3 0h0m6 0h0m-11 1h0m-4 0h0m12 1h0m-9 0h0m-5 0h0m0 0h0m165-173h0m6 68h0m9 9h0m-1 1h0m-4 1h0m-3 0h0m12 2h0m-1 0h0m-20 1h0m0 1h0m20 0h0m-12 0h0m8 1h0m-4 2h0m-9 1h0m18 0h0m-5 1h0m-16 1h0m3 1h0m-6 1h0m23 1h0m-20 0h0m22 3h0m-18 1h0m3 1h0m10 1h0m-15 0h0m20 1h0m-9 0h0m-16 1h0m5 1h0m7 1h0m-8 0h0m23 1h0m-13 0h0m7 0h0m5 1h0m-17 0h0m4 0h0m-14 1h0m18 1h0m4 0h0m-13 1h0m13 1h0m-14 0h0m-2 1h0m16 1h0m-21 1h0m12 1h0m-12 1h0m13 0h0m-13 2h0m5 2h0m11 1h0m1 0h0m10 0h0m-27 1h0m3 0h0m10 2h0m8 1h0m0 1h0m-13 0h0m3 2h0m-2 1h0m-4 0h0m22 1h0m-29 0h0m6 2h0m26 0h0m-29 1h0m21 1h0m-9 0h0m-3 1h0m2 0h0m-13 1h0m27 0h0m-22 1h0m17 0h0m-12 2h0m8 2h0m-14 0h0m12 1h0m-10 1h0m17 0h0m-5 1h0m9 2h0m-21 1h0m-8 0h0m24 1h0m-3 1h0m-12 1h0m1 0h0m-3 0h0m-3 2h0m25 1h0m-19 0h0m7 2h0m1 0h0m-12 1h0m14 1h0m-19 0h0m32 2h0m-28 1h0m22 0h0m-20 1h0m18 0h0m7 0h0m-20 0h0m-3 0h0m19 1h0m-14 2h0m2 1h0m-4 1h0m-4 0h0m6 1h0m-7 1h0m11 1h0m-6 0h0m10 0h0m4 1h0m2 0h0m-14 4h0m6 1h0m-8 0h0m259-174h0m3 0h0m-38 0h0m119 1h0m-100 0h0m13 0h0m-29 1h0m14 0h0m106 0h0m-85 0h0m-4 0h0m-11 1h0m-14 0h0m-11 0h0m14 1h0m16 0h0m-14 0h0m22 0h0m56 1h0m-94 0h0m8 0h0m-5 0h0m19 1h0m6 0h0m4 0h0m-9 1h0m-3 0h0m11 1h0m6 0h0m56 0h0m-60 1h0m87 0h0m-95 0h0m-26 0h0m122 1h0m-99 0h0m-20 0h0m6 1h0m22 0h0m-15 1h0m-9 2h0m105 0h0m-109 3h0m119 2h0m-11 1h0m12 0h0m8 3h0m-13 0h0m-26 47h0m-64 1h0m-5 0h0m72 0h0m-63 0h0m59 0h0m-64 1h0m-13 1h0m80 0h0m-61 0h0m1 0h0m-17 0h0m1 0h0m5 1h0m8 0h0m66 0h0m-73 0h0m69 0h0m10 1h0m-2 0h0m-71 1h0m3 0h0m-14 1h0m-6 1h0m88 0h0m-86 1h0m77 0h0m-62 0h0m-14 0h0m74 0h0m-81 0h0m93 0h0m-66 0h0m-27 0h0m23 1h0m67 0h0m-68 0h0m-17 0h0m15 0h0m-15 0h0m6 0h0m79 1h0m-83 0h0m18 0h0m64 0h0m3 0h0m-92 0h0m76 0h0m-59 1h0m7 0h0m61 0h0m-55 0h0m-11 0h0m-11 1h0m6 0h0m77 0h0m-70 0h0m74 0h0m-88 0h0m1 1h0m-4 0h0m26 0h0m-2 0h0m-24 0h0m-2 0h0m78 0h0m6 1h0m-62 0h0m-5 0h0m-7 1h0m1 0h0m4 0h0m-7 0h0m21 0h0m-16 0h0m13 1h0m-17 0h0m-14 0h0m4 0h0m6 0h0m14 0h0m-2 1h0m77 0h0m-78 0h0m2 1h0m72 0h0m-60 0h0m45 1h0m5 0h0m-52 0h0m-18 1h0m68 0h0m-71 0h0m90 1h0m-68 0h0m48 0h0m-83 0h0m96 0h0m-61 0h0m-27 1h0m83 0h0m-81 0h0m23 0h0m3 0h0m-19 0h0m-2 0h0m65 1h0m-75 0h0m3 0h0m7 0h0m-8 0h0m26 0h0m-12 0h0m9 1h0m-11 0h0m-4 0h0m21 0h0m-16 0h0m-10 0h0m16 0h0m-18 1h0m27 0h0m-1 0h0m-24 1h0m74 0h0m-72 0h0m87 0h0m-95 0h0m-1 0h0m93 1h0m-61 0h0m-16 0h0m5 1h0m1 0h0m-6 0h0m-8 0h0m8 1h0m-10 0h0m74 0h0m-56 0h0m-9 0h0m66 1h0m16 0h0m-17 0h0m14 0h0m-89 0h0m3 0h0m12 1h0m63 0h0m-70 0h0m66 0h0m14 0h0m-75 1h0m-10 0h0m73 0h0m-60 0h0m-9 2h0m64 0h0m-2 1h0m15 0h0m6 1h0m-83 0h0m69 1h0m7 0h0m11 1h0m3 0h0m-29 2h0m8 0h0m-2 1h0m5 1h0m18 0h0m-21 0h0m5 2h0m7 2h0m-8 0h0m-10 1h0m4 0h0m22 1h0m-6 0h0m-8 1h0m7 1h0m-14 0h0m-2 1h0m8 0h0m13 0h0m3 2h0m-7 0h0m2 1h0m3 0h0m0 0h0m-4 1h0m-2 0h0m-12 1h0m4 6h0m11 0h0m-1 0h0m0 3h0m-8 1h0m-5 1h0m10 5h0m183-142h0m14 1h0m-25 0h0m-9 0h0m18 1h0m8 0h0m6 1h0m-17 1h0m6 0h0m-133 1h0m-7 2h0m144 1h0m-7 7h0m1 2h0m27-18h0m-9 2h0m6 2h0m17 1h0m-9 0h0m-6 4h0m-4 1h0m41 60h0m-5 2h0m10 1h0m-10 1h0m6 0h0m-5 1h0m-2 1h0m15 1h0m-1 1h0m-5 2h0m4 1h0m6 1h0m-16 0h0m2 0h0m-5 1h0m0 0h0m18 1h0m-19 1h0m15 1h0m-18 1h0m6 1h0m-2 0h0m9 1h0m-6 0h0m1 0h0m14 0h0m-3 0h0m0 1h0m2 0h0m-6 0h0m-3 0h0m-7 1h0m6 1h0m-11 1h0m2 0h0m20 0h0m-25 0h0m25 0h0m-3 0h0m-1 1h0m-17 2h0m20 0h0m-24 1h0m8 0h0m-8 1h0m20 0h0m-11 0h0m12 0h0m6 1h0m-6 0h0m-17 1h0m4 0h0m1 0h0m6 0h0m-14 1h0m5 1h0m19 0h0m-24 0h0m16 1h0m-5 1h0m-8 0h0m20 1h0m-6 0h0m1 0h0m3 1h0m4 1h0m-8 1h0m4 0h0m-19 1h0m20 0h0m-8 0h0m6 0h0m-3 2h0m-6 1h0m-8 0h0m19 0h0m-4 0h0m5 1h0m-9 0h0m2 0h0m-4 1h0m0 0h0m-2 3h0m61 14h0m5 2h0m-1 0h0m-2 1h0m0 0h0m4 0h0m-5 3h0m-1 0h0m8 2h0m-9 0h0m11 1h0m-4 1h0m0 1h0m-6 1h0m9 0h0m1 1h0m-5 1h0m-3 0h0m7 1h0m-10 0h0m9 1h0m-11 0h0m12 0h0m-7 1h0m-6 0h0m0 1h0m13 0h0m-5 2h0m0 0h0m-1 0h0m-5 0h0m1 1h0m12 0h0m1 0h0m-17 2h0m8 0h0m-3 0h0m3 0h0m1 0h0m-6 2h0m8 0h0m-9 1h0m4 1h0m12 0h0m-10 2h0m-1 0h0m-3 1h0m-2 1h0m10 1h0m-4 0h0m5 0h0m-5 1h0m5 0h0m3 1h0m2 0h0m-3 0h0m2 1h0m-2 0h0m-8 0h0m-1 1h0m-5 0h0m7 0h0m6 1h0m-6 0h0m-5 0h0m-3 1h0m1 0h0m11 1h0m-13 1h0m1 0h0m12 1h0m-11 0h0m4 1h0m-3 0h0m13 2h0m3 0h0m0 1h0m-1 0h0m79-176h0m2 2h0m77 0h0m-4 0h0m-66 1h0m62 0h0m-1 1h0m5 0h0m2 1h0m-2 0h0m-61 0h0m-5 0h0m-4 0h0m71 2h0m-1 0h0m-73 1h0m3 0h0m64 1h0m-68 1h0m68 0h0m-65 1h0m10 0h0m-2 0h0m0 1h0m0 1h0m60 1h0m-59 0h0m58 2h0m3 55h0m7 0h0m4 3h0m17 1h0m7 0h0m-17 1h0m9 0h0m-11 0h0m-21 0h0m19 1h0m-9 0h0m17 0h0m12 1h0m-22 0h0m-19 1h0m38 0h0m-15 0h0m6 1h0m-10 0h0m-16 0h0m27 0h0m-19 0h0m11 0h0m-15 0h0m22 1h0m-31 0h0m12 0h0m-8 0h0m7 1h0m4 0h0m29 2h0m-19 0h0m-3 1h0m-2 0h0m8 0h0m-27 0h0m45 1h0m-19 0h0m-2 0h0m-8 0h0m23 1h0m-6 0h0m-6 1h0m-9 0h0m7 0h0m1 0h0m-26 1h0m15 0h0m7 0h0m-14 0h0m-10 0h0m-1 0h0m44 1h0m-44 0h0m46 0h0m0 0h0m-11 2h0m-19 0h0m2 0h0m-12 1h0m-2 0h0m1 0h0m28 0h0m-27 0h0m37 1h0m-4 0h0m-37 0h0m19 0h0m-16 1h0m24 0h0m-15 0h0m-10 0h0m27 0h0m15 0h0m-42 0h0m34 0h0m5 0h0m-7 0h0m1 1h0m3 0h0m-32 0h0m6 1h0m-3 1h0m-10 1h0m14 0h0m30 0h0m1 0h0m-26 1h0m0 0h0m2 0h0m2 0h0m24 0h0m-10 0h0m-15 1h0m2 0h0m14 0h0m-29 0h0m-3 0h0m22 1h0m16 0h0m-16 0h0m-15 1h0m14 0h0m-16 0h0m10 0h0m6 0h0m16 0h0m-38 1h0m33 0h0m-7 1h0m3 1h0m-28 0h0m20 0h0m8 0h0m-22 1h0m0 0h0m1 1h0m21 0h0m-10 0h0m-6 1h0m27 5h0m0 1h0m1 0h0m220 29h0m0 1h0m-4 2h0m8 0h0m-4 1h0m-16 2h0m5 0h0m16 0h0m-25 0h0m13 1h0m10 0h0m-9 0h0m0 0h0m-10 0h0m21 1h0m-12 0h0m-16 1h0m24 0h0m-12 0h0m7 1h0m7 0h0m4 0h0m0 0h0m-31 0h0m30 0h0m-5 0h0m-3 1h0m-8 0h0m-9 1h0m24 1h0m-27 1h0m26 0h0m0 0h0m2 1h0m-14 0h0m-7 0h0m18 0h0m5 0h0m-13 1h0m0 0h0m-6 0h0m7 1h0m-5 0h0m-4 0h0m20 1h0m-27 0h0m23 0h0m4 1h0m-26 0h0m7 0h0m20 0h0m-35 1h0m31 0h0m5 1h0m-34 0h0m15 0h0m-14 2h0m28 0h0m-26 1h0m4 0h0m-5 0h0m15 0h0m9 1h0m-5 0h0m11 1h0m-17 0h0m11 1h0m-17 0h0m-5 1h0m24 0h0m-28 0h0m14 1h0m-14 0h0m25 1h0m-23 0h0m-3 1h0m12 0h0m13 0h0m-13 0h0m13 0h0m8 0h0m-26 1h0m24 0h0m-1201 0h0m-15 0h0m-1 1h0m14 0h0m-9 0h0m-7 0h0m10 0h0m-12 1h0m4 0h0m8 0h0m6 1h0m-12 0h0m0 1h0m7 1h0m2 0h0m-11 1h0m13 0h0m-15 1h0m0 0h0m5 1h0m-3 2h0m1 3h0m3 4h0m12 52h0m4 0h0m0 2h0m5 0h0m6 0h0m-15 0h0m-4 2h0m0 1h0m-3 1h0m20 0h0m-6 1h0m-18 1h0m4 0h0m4 0h0m13 1h0m-6 0h0m2 2h0m-10 0h0m-5 1h0m0 1h0m9 1h0m3 1h0m11 0h0m-2 1h0m-19 1h0m-9 0h0m3 0h0m37 2h0m-44 0h0m38 1h0m-12 0h0m7 1h0m-12 0h0m-3 0h0m-15 0h0m6 1h0m8 0h0m-11 1h0m22 0h0m-19 1h0m28 0h0m-6 0h0m-19 0h0m30 1h0m-28 0h0m12 0h0m-7 1h0m23 1h0m-36 0h0m30 1h0m-35 0h0m39 1h0m-5 0h0m-3 0h0m-7 0h0m-9 1h0m-8 1h0m11 1h0m-9 0h0m6 1h0m13 0h0m-12 1h0m5 1h0m-17 0h0m9 1h0m-11 0h0m33 0h0m-32 0h0m9 1h0m-9 2h0m24 1h0m-7 1h0m-1 2h0m8 0h0m6 0h0m-14 3h0m-7 2h0m8 0h0m5 0h0m-13 1h0m11 1h0m-16 1h0m154-119h0m18 1h0m-6 1h0m-1 1h0m8 2h0m-17 0h0m18 0h0m-11 5h0m10 2h0m-5 3h0m-8 82h0m5 2h0m-8 2h0m9 3h0m-11 0h0m7 3h0m-8 0h0m3 6h0m3 1h0m-5 2h0m3 1h0m4 1h0m-8 3h0m4 2h0m6 2h0m3 1h0m0 2h0m0 4h0m-11 2h0m6 8h0m9 0h0m-12 2h0m8 1h0m2 1h0m-7 1h0m-5 1h0m10 0h0m-11 1h0m-3 0h0m9 0h0m9 3h0m-12 0h0m-1 4h0m5 0h0m4 0h0m-2 2h0m-4 1h0m1 0h0m8 1h0m-8 1h0m-10 2h0m14 1h0m-5 0h0m-5 0h0m0 1h0m13 2h0m-1 2h0m-10 3h0m-5 2h0m324-57h0m3 6h0m0 1h0m2 1h0m-7 0h0m5 1h0m0 0h0m1 1h0m2 2h0m-6 1h0m8 1h0m-13 0h0m-2 1h0m-5 1h0m1 0h0m18 1h0m-19 1h0m4 2h0m16 1h0m-9 0h0m11 1h0m-2 0h0m-15 2h0m11 0h0m8 1h0m-24 0h0m1 2h0m17 0h0m-14 1h0m14 1h0m-4 2h0m6 1h0m-9 0h0m-5 1h0m11 0h0m7 2h0m-17 0h0m-53 0h0m69 1h0m-72 0h0m1 0h0m1 0h0m53 0h0m14 1h0m-68 0h0m60 0h0m-66 0h0m63 2h0m-65 1h0m12 0h0m48 1h0m-3 0h0m16 0h0m-60 1h0m-7 1h0m7 0h0m56 0h0m-61 1h0m69 0h0m-1 0h0m-63 1h0m49 0h0m12 0h0m-70 1h0m56 0h0m-48 0h0m-7 0h0m-5 1h0m6 0h0m55 1h0m17 0h0m-6 0h0m-60 1h0m-4 0h0m-3 0h0m4 1h0m58 0h0m-55 0h0m-14 0h0m8 0h0m2 0h0m6 0h0m61 0h0m3 1h0m-78 1h0m65 0h0m-55 0h0m62 1h0m-2 1h0m-60 0h0m65 0h0m-7 1h0m1 0h0m4 1h0m-65 0h0m4 0h0m3 1h0m-8 0h0m-7 0h0m65 0h0m-5 1h0m164-43h0m2 2h0m1 5h0m7 1h0m2 0h0m-7 1h0m-8 1h0m13 0h0m-9 0h0m-6 1h0m17 0h0m-4 0h0m2 1h0m-4 0h0m1 1h0m-15 0h0m14 1h0m-5 0h0m-6 1h0m-2 1h0m13 0h0m-3 0h0m-4 0h0m13 1h0m0 0h0m-10 1h0m6 0h0m0 0h0m-7 0h0m11 0h0m-10 0h0m-12 1h0m7 1h0m13 0h0m1 1h0m-11 1h0m7 0h0m-1 1h0m-4 1h0m-7 0h0m-4 0h0m-3 1h0m1 2h0m5 1h0m6 0h0m3 0h0m-6 1h0m-5 2h0m23 0h0m-19 0h0m2 0h0m-2 0h0m-2 1h0m-3 0h0m0 0h0m6 1h0m18 0h0m-4 0h0m-17 1h0m2 0h0m9 0h0m-6 1h0m15 0h0m-9 0h0m-2 0h0m0 1h0m-7 1h0m6 0h0m10 2h0m-6 0h0m-12 1h0m173-173h0m-1 1h0m-10 1h0m-2 0h0m7 0h0m-3 1h0m-10 0h0m7 0h0m10 1h0m-3 0h0m-2 0h0m1 1h0m-5 0h0m-4 1h0m3 0h0m-4 1h0m7 0h0m7 1h0m-5 1h0m-5 0h0m-1 1h0m1 1h0m3 1h0m-4 1h0m5 0h0m-4 1h0m5 0h0m1 71h0m-4 2h0m2 2h0m-3 3h0m4 8h0m5 0h0m-3 3h0m-3 2h0m-3 1h0m3 1h0m9 2h0m-7 2h0m2 4h0m-10 0h0m3 0h0m9 1h0m-13 1h0m12 1h0m4 3h0m-4 2h0m-11 3h0m13 1h0m-8 3h0m10 1h0m1 0h0m-4 0h0m3 5h0m-13 2h0m13 0h0m-2 1h0m-13 1h0m2 2h0m12 1h0m-7 1h0m-9 1h0m12 0h0m7 4h0m-13 1h0m-4 2h0m11 1h0m-4 1h0m-8 1h0m16 1h0m-2 1h0m-10 0h0m-3 1h0m16 1h0m-5 0h0m-2 3h0m-11 0h0m8 2h0m4 0h0m5 2h0m-15 1h0m14 0h0m-9 0h0m9 2h0m-16 0h0m2 2h0m1 0h0m1 1h0m3 0h0m10 1h0m-13 1h0m-2 2h0m256-16h0m7 0h0m-6 1h0m2 0h0m2 1h0m4 1h0m-11 0h0m10 0h0m-7 1h0m-3 0h0m0 0h0m5 1h0m-5 0h0m13 1h0m-5 0h0m-5 0h0m10 0h0m-26 1h0m13 0h0m4 0h0m6 0h0m-4 0h0m3 2h0m-13 0h0m-7 0h0m14 1h0m-6 0h0m-8 0h0m23 2h0m-13 0h0m-7 0h0m16 0h0m-22 0h0m11 1h0m6 0h0m-6 0h0m-3 0h0m10 0h0m6 0h0m-4 1h0m-7 0h0m-10 0h0m13 0h0m-14 1h0m21 0h0m-10 1h0m162-175h0m-14 0h0m12 0h0m-15 1h0m10 0h0m-8 0h0m31 0h0m-25 1h0m22 0h0m-17 0h0m16 0h0m-31 1h0m29 0h0m-18 1h0m-14 1h0m31 0h0m-4 1h0m3 0h0m-12 0h0m-8 1h0m-3 0h0m11 0h0m4 2h0m-4 0h0m13 0h0m5 0h0m-23 1h0m2 1h0m-4 0h0m2 1h0m6 0h0m-6 1h0m8 0h0m8 0h0m-11 0h0m10 2h0m-6 52h0m0 1h0m6 1h0m-2 1h0m-8 0h0m3 2h0m-2 1h0m9 1h0m-5 0h0m-4 0h0m-2 0h0m-4 1h0m3 0h0m-4 1h0m15 0h0m-3 1h0m9 0h0m-12 1h0m-1 1h0m8 0h0m-18 0h0m6 1h0m16 1h0m0 0h0m-14 1h0m10 0h0m-15 0h0m-4 0h0m14 0h0m3 0h0m1 1h0m5 0h0m-4 0h0m-4 0h0m-15 0h0m7 0h0m0 0h0m-5 1h0m18 0h0m5 0h0m-18 0h0m14 0h0m-20 1h0m23 0h0m-19 1h0m23 0h0m-2 0h0m-13 0h0m0 1h0m13 1h0m-23 0h0m15 0h0m-7 0h0m14 0h0m2 0h0m-10 1h0m1 1h0m-5 1h0m12 0h0m-1 0h0m-2 0h0m-1 1h0m-7 0h0m-3 0h0m3 1h0m-10 0h0m5 1h0m-5 0h0m9 0h0m4 1h0m-4 0h0m-1 1h0m-6 0h0m7 0h0m1 0h0m2 1h0m-4 2h0m2 0h0m2 0h0m-4 2h0m1 3h0m165-34h0m2 1h0m-4 0h0m7 1h0m-3 0h0m-1 2h0m2 0h0m2 1h0m-9 0h0m5 1h0m-5 1h0m9 0h0m-2 0h0m-6 0h0m5 0h0m-3 1h0m6 0h0m-10 1h0m12 0h0m-10 0h0m2 0h0m4 0h0m-1 1h0m-8 0h0m-4 0h0m13 0h0m-6 1h0m8 0h0m-1 0h0m-1 1h0m-10 0h0m11 1h0m0 0h0m-11 0h0m3 1h0m3 0h0m5 1h0m-15 0h0m16 0h0m-17 1h0m13 0h0m6 0h0m-13 0h0m2 1h0m-3 0h0m-1 0h0m0 0h0m17 1h0m-10 0h0m-9 1h0m-3 1h0m20 1h0m-9 0h0m-10 1h0m17 0h0m-5 0h0m1 1h0m-9 0h0m1 0h0m0 1h0m6 0h0m-3 0h0m-1 1h0m-7 0h0m20 0h0m-2 0h0m-19 1h0m13 0h0m6 0h0m-7 1h0m-11 1h0m20 2h0m-10 0h0m-6 0h0m17 1h0m-9 0h0m9 1h0m-12 0h0m4 1h0m5 0h0m-15 0h0m9 1h0m-2 2h0m-7 0h0m0 1h0m3 0h0m3 0h0m-2 1h0m1 0h0m7 0h0m2 1h0m-11 2h0m8 1h0m-6 0h0m1 2h0m5 2h0m-1203 62h0m2 4h0m-8 0h0m0 5h0m4 1h0m245-12h0m68 0h0m-69 0h0m-1 0h0m12 0h0m-8 0h0m12 1h0m47 0h0m13 0h0m-5 0h0m-66 1h0m65 0h0m-54 1h0m-12 0h0m66 0h0m-57 1h0m61 1h0m-60 0h0m-2 0h0m57 0h0m-1 0h0m-1 1h0m4 0h0m4 0h0m-11 0h0m-57 0h0m5 1h0m63 0h0m-65 1h0m66 0h0m-1 1h0m-73 0h0m12 0h0m-6 0h0m7 1h0m-8 2h0m4 0h0m2 0h0m-3 0h0m-1 0h0m-3 1h0m1 0h0m65 1h0m-62 1h0m210-16h0m7 1h0m6 0h0m8 2h0m-21 0h0m17 0h0m-1 2h0m0 1h0m-3 1h0m4 1h0m-5 0h0m6 1h0m-9 1h0m4 5h0m-5 0h0m-4 0h0m5 4h0m-1 3h0m155-22h0m2 2h0m-1 3h0m6 0h0m4 2h0m-4 2h0m-2 2h0m-3 5h0m245-16h0m20 1h0m-24 0h0m23 0h0m-19 0h0m4 1h0m0 1h0m-2 0h0m19 0h0m-5 0h0m0 0h0m-8 1h0m2 0h0m1 0h0m-17 1h0m9 0h0m4 0h0m-6 1h0m20 1h0m-26 0h0m3 0h0m22 0h0m-10 1h0m8 0h0m-15 0h0m6 0h0m-12 0h0m24 0h0m-24 0h0m3 1h0m22 0h0m-29 0h0m7 1h0m12 0h0m9 1h0m-11 0h0m-4 0h0m3 0h0m8 1h0m3 0h0m-4 0h0m-8 1h0m3 2h0m-11 0h0m5 1h0m-3 0h0m-1 1h0m-4 0h0m4 0h0m2 0h0" stroke="#3fa6ea" stroke-width="4" stroke-linecap="round" fill="none"/>
<path transform="scale(.5)" d="M147 1529h0m-15 0h0m-3 1h0m8 2h0m-11 1h0m-3 0h0m10 2h0m4 0h0m-23 1h0m4 0h0m-1 0h0m22 2h0m5 0h0m-3 1h0m-35 1h0m42 1h0m-17 0h0m-17 0h0m12 1h0m-15 1h0m22 1h0m9 0h0m3 0h0m-7 0h0m-18 2h0m-10 1h0m2 0h0m40 1h0m-23 0h0m-13 1h0m13 1h0m22 0h0m-6 1h0m-38 1h0m4 1h0m16 0h0m-10 1h0m27 1h0m-6 0h0m-23 1h0m-12 3h0m41 1h0m-26 1h0m-12 1h0m30 0h0m-26 1h0m10 2h0m8 0h0m-1 1h0m6 0h0m11 1h0m-19 1h0m-24 0h0m30 2h0m-10 1h0m23 0h0m-33 1h0m-7 0h0m21 1h0m9 1h0m6 0h0m-27 1h0m16 1h0m-13 0h0m16 4h0m11 1h0m-7 1h0m-28 0h0m33 0h0m-17 0h0m-5 3h0m-13 1h0m3 0h0m19 3h0m3 1h0m-25 1h0m2 2h0m13 0h0m7 1h0m-17 1h0m3 2h0m11 1h0m-6 0h0m5 1h0m-4 1h0m7 54h0m-5 0h0m-3 1h0m4 0h0m6 1h0m-5 0h0m0 2h0m-9 1h0m17 0h0m-2 1h0m-11 0h0m12 1h0m-15 0h0m-10 2h0m28 0h0m-22 0h0m23 1h0m-30 0h0m6 0h0m-2 3h0m12 0h0m-15 1h0m8 0h0m20 0h0m-37 0h0m14 0h0m-3 1h0m20 0h0m-7 0h0m-10 1h0m11 0h0m-15 0h0m-3 0h0m19 1h0m-8 0h0m12 0h0m-11 0h0m-16 0h0m-2 0h0m37 1h0m-23 0h0m22 1h0m1 0h0m-1 0h0m5 1h0m-7 0h0m-27 0h0m7 0h0m16 0h0m12 1h0m2 0h0m-37 0h0m14 1h0m-12 1h0m-6 0h0m43 1h0m-31 0h0m5 0h0m13 1h0m-32 0h0m19 0h0m-6 0h0m-7 1h0m-7 0h0m11 1h0m9 0h0m-6 0h0m23 1h0m-22 1h0m7 0h0m-3 0h0m-14 0h0m15 0h0m-9 1h0m34 0h0m-22 1h0m3 0h0m-11 0h0m11 0h0m-11 0h0m23 1h0m-29 0h0m15 0h0m-17 0h0m27 0h0m-22 1h0m6 0h0m10 0h0m13 0h0m0 1h0m-16 0h0m-17 1h0m28 0h0m4 0h0m-9 0h0m2 1h0m-14 0h0m15 0h0m-2 1h0m-14 1h0m-4 0h0m3 2h0m-8 0h0m18 1h0m-5 0h0m-3 0h0m-4 0h0m12 2h0m17 0h0m-30 1h0m9 1h0m3 1h0m15 1h0m-20 0h0m0 0h0m-6 1h0m29 1h0m169-1h0m-29 10h0m6 2h0m22 10h0m37-67h0m12 0h0m-12 2h0m-4 4h0m-4 0h0m11 0h0m-14 2h0m-4 1h0m24 1h0m8 1h0m-14 1h0m-4 0h0m9 1h0m-9 2h0m5 0h0m-6 4h0m-10 1h0m4 1h0m-2 0h0m-5 3h0m15 2h0m-10 1h0m-8 1h0m43 0h0m-34 2h0m23 0h0m2 0h0m-30 1h0m11 2h0m15 1h0m-19 1h0m24 0h0m-34 0h0m33 1h0m3 2h0m-13 0h0m6 2h0m9 1h0m6 0h0m3 0h0m-40 1h0m-5 1h0m10 0h0m36 0h0m-29 2h0m-13 0h0m-6 1h0m21 1h0m-15 0h0m3 0h0m34 2h0m2 0h0m-9 0h0m-20 1h0m-3 1h0m15 0h0m9 3h0m3 1h0m5 0h0m-33 1h0m6 1h0m13 1h0m-26 1h0m36 0h0m-37 2h0m28 1h0m-17 0h0m11 1h0m-16 2h0m-8 1h0m13 2h0m-6 4h0m-5 4h0m-178 114h0m-2 4h0m-23 3h0m14 6h0m5 0h0m-20 4h0m2 8h0m16 1h0m4 1h0m-19 3h0m20 0h0m-23 7h0m2 1h0m9 1h0m1 6h0m13 4h0m-10 0h0m0 2h0m13 3h0m-35 7h0m17 0h0m-8 4h0m13 1h0m-15 6h0m-3 0h0m-3 3h0m13 0h0m-18 2h0m33 5h0m-23 0h0m1 0h0m23 1h0m-1 1h0m-14 4h0m38-99h0m8 6h0m-10 2h0m-10 1h0m10 1h0m11 2h0m27 3h0m-36 1h0m-13 0h0m42 0h0m-6 1h0m-7 0h0m-1 2h0m-8 0h0m0 1h0m-24 2h0m35 0h0m8 0h0m-18 3h0m-24 4h0m29 0h0m-27 0h0m153 1h0m-110 1h0m-17 4h0m10 0h0m-28 0h0m13 2h0m-24 1h0m2 6h0m13 0h0m33 1h0m-21 0h0m3 5h0m12 1h0m-24 0h0m26 0h0m-8 1h0m-22 1h0m26 3h0m112 2h0m-142 3h0m146 1h0m-152 0h0m35 0h0m-16 3h0m-17 1h0m149 2h0m-119 0h0m11 1h0m-38 1h0m4 0h0m31 1h0m4 1h0m-43 0h0m18 1h0m134 2h0m-152 2h0m46 1h0m-15 2h0m-24 5h0m10 3h0m12 0h0m-15 3h0m38 1h0m-28 1h0m22 0h0m-10 2h0m-41 1h0m14 1h0m16 0h0m-25 0h0m20 1h0m-15 1h0m199-110h0m-15 3h0m2 1h0m6 1h0m6 1h0m-16 2h0m-4 2h0m9 0h0m-7 2h0m14 3h0m-11 1h0m22 3h0m-9 1h0m-33 0h0m-2 0h0m34 1h0m-25 3h0m34 1h0m-12 0h0m-24 1h0m34 0h0m-15 1h0m9 0h0m-4 1h0m-37 1h0m45 0h0m-45 0h0m15 1h0m25 1h0m0 2h0m-29 0h0m11 1h0m-29 3h0m1 2h0m28 1h0m-3 1h0m23 1h0m-49 1h0m55 0h0m-45 2h0m22 0h0m-15 2h0m28 2h0m-22 0h0m-23 0h0m40 0h0m-32 1h0m5 0h0m8 2h0m16 2h0m-33 0h0m44 0h0m-31 0h0m22 2h0m-12 1h0m-4 1h0m23 0h0m-16 2h0m-30 0h0m4 0h0m10 0h0m12 2h0m-11 1h0m27 0h0m-40 1h0m15 0h0m-17 1h0m22 1h0m4 3h0m14 0h0m-41 0h0m38 1h0m-17 0h0m121 0h0m-133 0h0m143 1h0m-121 1h0m3 0h0m-6 1h0m115 0h0m-9 1h0m-119 0h0m109 0h0m9 0h0m-103 1h0m-11 1h0m7 0h0m97 1h0m21 0h0m5 0h0m-14 1h0m-21 2h0m29 1h0m-9 0h0m-112 0h0m-6 0h0m111 2h0m-17 0h0m35 0h0m-130 1h0m-6 0h0m-8 0h0m9 0h0m129 1h0m-16 1h0m28 0h0m-38 1h0m27 0h0m-135 1h0m139 1h0m14 4h0m-9 0h0m-15 0h0m19 0h0m-25 2h0m-15 0h0m5 0h0m-14 1h0m43 0h0m-20 1h0m-3 0h0m-8 1h0m37 0h0m-42 1h0m22 1h0m-24 1h0m47 0h0m-39 0h0m26 1h0m-40 1h0m36 1h0m13 0h0m4 2h0m-14 0h0m-23 2h0m-23 0h0m42 0h0m-13 1h0m21 2h0m25-49h0m6 3h0m-3 0h0m0 2h0m-2 0h0m12 2h0m-23 0h0m3 4h0m4 0h0m16 4h0m-21 0h0m13 1h0m6 3h0m-22 1h0m7 1h0m21 1h0m-4 0h0m-3 0h0m-1 0h0m-3 0h0m7 2h0m9 1h0m-20 1h0m-7 2h0m17 1h0m10 1h0m-30 1h0m44 1h0m-7 0h0m-4 0h0m-24 2h0m7 1h0m-17 0h0m8 3h0m26 0h0m-9 1h0m-28 0h0m19 1h0m5 6h0m-22 2h0m16 0h0m-8 1h0m-364 6h0m30 110h0m-4 5h0m-3 0h0m-5 6h0m3 7h0m8 5h0m-9 2h0m16 2h0m-8 1h0m-1 11h0m-3 2h0m9 0h0m4 2h0m-12 1h0m11 6h0m-8 1h0m1 0h0m4 4h0m3 0h0m-7 2h0m0 2h0m24-171h0m29 0h0m4 2h0m-13 4h0m-9 109h0m-17 3h0m0 1h0m19 0h0m-16 1h0m6 3h0m14 2h0m-31 0h0m12 1h0m28 1h0m2 0h0m-23 2h0m-19 0h0m6 0h0m26 0h0m16 2h0m-4 1h0m-13 0h0m3 2h0m2 0h0m114 1h0m5 0h0m-113 2h0m-36 0h0m34 1h0m-9 0h0m17 2h0m-45 0h0m20 2h0m6 1h0m-21 0h0m3 1h0m37 1h0m-21 1h0m-24 0h0m49 1h0m-19 1h0m-25 0h0m2 0h0m42 1h0m-2 0h0m-7 1h0m10 1h0m4 0h0m-25 1h0m-10 0h0m12 0h0m8 0h0m-15 3h0m36 2h0m-35 2h0m-16 0h0m50 3h0m-5 0h0m-25 3h0m-22 0h0m13 1h0m31 0h0m-14 1h0m-11 0h0m25 3h0m-3 0h0m-4 1h0m204-175h0m26 2h0m-8 0h0m-13 2h0m39 0h0m-19 1h0m-14 1h0m30 0h0m21 0h0m-16 1h0m5 0h0m-41 2h0m20 0h0m23 1h0m-20 0h0m21 3h0m-4 2h0m-12 2h0m-99 53h0m8 3h0m-10 0h0m0 1h0m8 1h0m3 0h0m-16 0h0m9 2h0m-16 0h0m-6 1h0m34 0h0m-11 1h0m5 0h0m-16 0h0m-3 1h0m9 1h0m-22 1h0m38 0h0m-26 2h0m-7 0h0m45 1h0m-17 0h0m-32 0h0m38 1h0m3 0h0m-40 0h0m47 1h0m-52 2h0m49 1h0m-45 1h0m4 0h0m12 0h0m11 1h0m-3 0h0m-16 2h0m39 1h0m-32 0h0m-18 1h0m41 0h0m5 0h0m-7 0h0m-22 0h0m19 0h0m-24 1h0m11 0h0m-17 1h0m3 0h0m14 0h0m4 1h0m4 0h0m15 0h0m-14 0h0m5 1h0m-39 0h0m6 0h0m8 1h0m22 0h0m9 2h0m-27 0h0m4 1h0m-10 0h0m30 0h0m-39 1h0m42 0h0m-31 0h0m26 1h0m-3 1h0m-7 0h0m-16 0h0m27 1h0m-34 0h0m5 0h0m-17 1h0m28 1h0m-18 1h0m31 1h0m-36 0h0m34 1h0m-16 1h0m11 1h0m1 0h0m-5 0h0m13 1h0m-4 1h0m-13 2h0m14 0h0m-40 1h0m7 0h0m-2 0h0m23 2h0m-7 1h0m7 0h0m-17 0h0m20 1h0m-13 2h0m-9 1h0m-5 0h0m1 4h0m296-50h0m-22 0h0m7 1h0m5 0h0m-5 1h0m11 3h0m12 2h0m-18 0h0m14 2h0m-15 2h0m13 1h0m11 1h0m-29 1h0m7 3h0m13 1h0m-16 2h0m-9 0h0m1 1h0m-11 2h0m0 0h0m40 2h0m-19 0h0m24 1h0m-1 1h0m-28 1h0m6 3h0m-1 3h0m12 0h0m-29 1h0m10 2h0m-17 1h0m5 3h0m33 2h0m7 0h0m-53 6h0m32 0h0m-96 1h0m-3 0h0m117 0h0m-104 1h0m-10 0h0m1 0h0m3 0h0m3 0h0m70 2h0m-80 1h0m15 0h0m-5 1h0m62 0h0m-12 1h0m-53 0h0m54 1h0m-57 0h0m0 0h0m4 1h0m81 0h0m33 0h0m-5 1h0m-117 0h0m-2 0h0m6 0h0m109 0h0m-95 0h0m-21 0h0m13 0h0m-10 0h0m99 1h0m-82 0h0m3 0h0m93 1h0m-101 0h0m89 0h0m-95 1h0m0 0h0m0 0h0m55 0h0m-63 0h0m7 1h0m16 0h0m-14 0h0m-12 0h0m78 1h0m-73 1h0m9 1h0m-1 0h0m-22 0h0m25 0h0m92 0h0m-13 0h0m-86 1h0m3 0h0m3 0h0m-27 2h0m136 0h0m-116 0h0m14 0h0m50 0h0m-6 1h0m3 0h0m33 0h0m-74 0h0m-9 0h0m80 1h0m-94 0h0m-16 0h0m38 0h0m-27 1h0m16 0h0m-12 0h0m78 0h0m-79 0h0m4 1h0m22 1h0m-31 0h0m-11 0h0m31 0h0m-2 0h0m-12 1h0m7 0h0m-20 0h0m1 0h0m1 1h0m13 0h0m91 1h0m-79 0h0m4 0h0m-9 0h0m-5 0h0m0 0h0m110 1h0m-104 0h0m5 0h0m80 1h0m-102 1h0m2 1h0m22 0h0m-13 0h0m-6 0h0m27 0h0m63 0h0m-79 0h0m69 0h0m-61 0h0m-4 0h0m-25 1h0m11 0h0m10 1h0m-5 0h0m-1 0h0m2 0h0m-12 1h0m-8 0h0m31 0h0m7 0h0m97 1h0m-19 0h0m-107 0h0m14 1h0m4 1h0m-19 1h0m29 1h0m-12 0h0m87 0h0m-79 0h0m-12 0h0m1 0h0m13 1h0m-30 0h0m98 0h0m-91 1h0m0 1h0m13 0h0m111 0h0m-110 1h0m-12 1h0m-1 0h0m15 0h0m1 0h0m-19 1h0m132-94h0m15 3h0m-1 2h0m2 0h0m-11 5h0m21 2h0m-23 1h0m10 1h0m7 0h0m-9 3h0m-13 1h0m21 10h0m0 0h0m-16 2h0m21 1h0m-8 10h0m-17 1h0m1 8h0m15 3h0m-17 4h0m13 1h0m-6 3h0m3 4h0m8 0h0m-19 1h0m25 3h0m-20 1h0m19 5h0m-4 1h0m-4 4h0m-11 5h0m15 2h0m-17 0h0m23 5h0m-497 2h0m14 0h0m7 1h0m16 0h0m-29 1h0m16 0h0m0 1h0m11 2h0m-20 1h0m-17 0h0m15 2h0m-7 1h0m-1 2h0m8 1h0m8 10h0m25 128h0m6 2h0m-3 1h0m-5 0h0m8 1h0m0 1h0m-12 0h0m10 1h0m-9 0h0m11 1h0m-1 0h0m-3 1h0m-2 1h0m8 0h0m-9 0h0m3 0h0m1 0h0m-6 1h0m0 0h0m-1 1h0m2 0h0m9 1h0m-7 1h0m8 0h0m-1 0h0m-9 0h0m-5 2h0m16 0h0m-16 2h0m3 1h0m5 0h0m0 1h0m8 1h0m-7 0h0m-1 1h0m1 0h0m8 0h0m-10 1h0m3 1h0m7 0h0m-14 0h0m1 0h0m12 0h0m-16 1h0m2 1h0m5 0h0m1 0h0m6 1h0m-3 0h0m7 0h0m-3 0h0m144-109h0m0 7h0m-5 2h0m8 1h0m-4 0h0m7 1h0m0 2h0m-15 3h0m7 1h0m-17 1h0m23 3h0m-3 1h0m-12 3h0m-10 0h0m10 0h0m-13 1h0m29 0h0m-22 1h0m31 0h0m-1 1h0m-18 1h0m-12 0h0m-9 1h0m31 1h0m-2 0h0m-34 4h0m45 0h0m-21 3h0m-7 1h0m14 0h0m-32 0h0m41 2h0m-44 0h0m13 0h0m6 3h0m-9 1h0m-9 0h0m51 3h0m-14 0h0m-16 0h0m-22 1h0m52 0h0m-10 1h0m3 0h0m-22 1h0m-10 1h0m-10 1h0m28 1h0m2 0h0m6 1h0m8 0h0m101 1h0m-135 3h0m15 1h0m-20 1h0m136 0h0m-8 1h0m14 1h0m-103 1h0m-27 0h0m-19 1h0m20 0h0m-11 1h0m19 0h0m118 1h0m-126 1h0m106 1h0m-8 0h0m-103 0h0m125 0h0m-105 1h0m-15 1h0m12 0h0m112 1h0m-3 0h0m-7 0h0m-24 1h0m-95 1h0m8 0h0m11 1h0m74 1h0m-64 1h0m93 0h0m-26 2h0m16 1h0m11 0h0m-40 1h0m1 0h0m43 1h0m-20 0h0m-75 0h0m-1 0h0m75 1h0m-87 0h0m0 1h0m79 0h0m-75 1h0m-20 1h0m91 0h0m-82 0h0m-4 1h0m120 1h0m-133 0h0m-1 0h0m129 0h0m-10 0h0m15 1h0m-94 0h0m100 1h0m-30 0h0m-11 0h0m-67 1h0m6 0h0m-34 0h0m7 0h0m94 0h0m-102 0h0m91 1h0m22 0h0m-18 1h0m-99 0h0m22 1h0m67 0h0m-68 0h0m100 3h0m15 0h0m-38 1h0m-92 0h0m128 1h0m-28 0h0m16 1h0m15 0h0m-33 0h0m-18 1h0m54 3h0m-46 0h0m-64 0h0m85 1h0m7 1h0m-98 0h0m112 0h0m-25 2h0m-7 0h0m-7 0h0m34 1h0m55-176h0m-8 0h0m12 3h0m107 0h0m-20 0h0m-106 1h0m20 0h0m-9 1h0m101 0h0m-98 0h0m1 1h0m-4 1h0m101 2h0m-99 0h0m2 2h0m2 0h0m-14 1h0m7 1h0m-4 1h0m99 4h0m1 1h0m-22 48h0m-2 5h0m2 1h0m-10 2h0m12 0h0m-10 0h0m14 1h0m-5 1h0m-14 2h0m19 0h0m-14 0h0m7 1h0m-1 0h0m-1 0h0m-2 0h0m10 2h0m4 1h0m-19 0h0m11 0h0m-13 1h0m8 1h0m14 0h0m-5 0h0m-8 2h0m4 0h0m-1 0h0m6 0h0m-1 1h0m-9 1h0m-1 0h0m4 2h0m6 0h0m-16 1h0m-4 0h0m15 1h0m-5 0h0m14 1h0m-12 1h0m-5 0h0m-4 1h0m20 0h0m-22 0h0m22 1h0m-3 0h0m-1 2h0m-14 0h0m13 1h0m-13 0h0m10 2h0m-15 1h0m19 1h0m-15 0h0m5 0h0m-3 1h0m-2 2h0m1 1h0m6 0h0m-2 2h0m4 0h0m-3 0h0m-8 0h0m16 1h0m-8 1h0m7 0h0m2 2h0m1 2h0m-10 1h0m7 0h0m-11 2h0m15 0h0m-21 0h0m12 2h0m-6 0h0m4 0h0m12 1h0m-13 1h0m10 2h0m-9 0h0m6 0h0m-1 1h0m-11 0h0m5 0h0m-101 1h0m9 1h0m98 0h0m-107 0h0m114 1h0m-108 2h0m104 0h0m-5 0h0m-108 1h0m100 0h0m7 0h0m0 2h0m-97 1h0m95 0h0m9 0h0m-112 6h0m29 1h0m-6 0h0m-6 1h0m16 1h0m-22 1h0m-17 1h0m26 3h0m11 1h0m7 0h0m0 1h0m-26 2h0m-9 2h0m38 0h0m-5 2h0m-15 0h0m10 0h0m-11 1h0m-10 1h0m-10 1h0m38 1h0m-27 0h0m13 0h0m9 3h0m-22 2h0m27 0h0m-32 0h0m13 0h0m-22 1h0m2 2h0m0 1h0m21 1h0m-21 2h0m4 2h0m156-173h0m13 1h0m-18 2h0m7 1h0m98 89h0m5 3h0m0 3h0m-7 0h0m3 1h0m0 0h0m0 1h0m4 0h0m-7 3h0m-3 6h0m12 1h0m-2 1h0m2 2h0m-1 1h0m-1 3h0m-6 0h0m8 4h0m-8 0h0m-1 2h0m-2 2h0m0 1h0m13 1h0m-10 4h0m-1 0h0m3 2h0m1 0h0m-5 1h0m1 0h0m6 2h0m4 1h0m-5 0h0m-2 1h0m-2 1h0m-2 0h0m10 2h0m1 1h0m-8 1h0m9 1h0m-2 1h0m-3 2h0m-8 3h0m9 1h0m-1 1h0m-1 1h0m3 1h0m-10 9h0m11 0h0m-3 2h0m-7 2h0m6 1h0m-3 4h0m2 0h0m-596 119h0m7 3h0m-4 2h0m9 0h0m61-122h0m-6 0h0m-6 2h0m6 1h0m4 1h0m-1 1h0m-14 0h0m7 0h0m6 0h0m-1 1h0m-1 1h0m-2 0h0m-2 91h0m-14 2h0m0 0h0m8 1h0m-4 0h0m-9 5h0m-11 1h0m21 1h0m6 1h0m-12 0h0m10 1h0m-27 2h0m30 2h0m-4 1h0m-20 1h0m27 1h0m-15 1h0m108 0h0m-130 0h0m139 1h0m-110 0h0m-14 2h0m2 0h0m-15 0h0m123 1h0m-134 1h0m42 0h0m97 1h0m-134 0h0m142 1h0m-1 0h0m-97 0h0m84 1h0m-111 1h0m33 0h0m-44 0h0m131 1h0m-13 1h0m-90 0h0m-19 1h0m128 0h0m-7 0h0m-20 2h0m1 0h0m-73 0h0m-30 0h0m12 1h0m8 0h0m85 0h0m-103 2h0m113 0h0m10 0h0m-98 0h0m9 1h0m68 1h0m-83 0h0m-27 0h0m27 0h0m2 0h0m100 1h0m-130 0h0m109 0h0m-102 1h0m-2 0h0m19 1h0m-10 1h0m111 0h0m-86 0h0m-40 0h0m40 1h0m71 1h0m10 0h0m18 2h0m-35 0h0m-13 0h0m-48 0h0m-11 1h0m4 0h0m-37 0h0m1 1h0m103 0h0m-19 0h0m-48 1h0m65 1h0m41 0h0m-116 0h0m76 0h0m29 0h0m-115 1h0m78 0h0m-68 0h0m71 0h0m37 1h0m-14 0h0m-34 1h0m-91 1h0m114 1h0m-109 0h0m31 0h0m2 0h0m51 0h0m41 1h0m-22 0h0m-91 0h0m17 0h0m-32 1h0m19 0h0m28 0h0m93 1h0m-100 0h0m76 0h0m-84 0h0m85 0h0m-99 1h0m5 0h0m-3 0h0m94 0h0m-31 1h0m3 1h0m12 0h0m-103 0h0m99 1h0m-96 1h0m18 0h0m77 1h0m29 0h0m4 0h0m-120 1h0m111 0h0m16 1h0m9 0h0m-120 0h0m68 2h0m7 0h0m-98 0h0m31 0h0m106 0h0m-38 0h0m17 1h0m-105 1h0m12 0h0m99 0h0m-91 1h0m85 0h0m-11 1h0m-17 0h0m19 0h0m24 1h0m-14 0h0m24 0h0m-117 0h0m91 1h0m-25 0h0m38 1h0m-119 0h0m129 0h0m-127 0h0m22 0h0m-8 1h0m145-176h0m96 2h0m-83 0h0m88 0h0m11 1h0m-16 1h0m-97 0h0m19 2h0m85 0h0m-94 0h0m109 0h0m-18 1h0m-85 0h0m-14 1h0m14 2h0m1 3h0m102 0h0m-108 2h0m-3 2h0m-30 103h0m3 3h0m2 8h0m-4 1h0m5 3h0m6 11h0m-1 7h0m-3 4h0m4 1h0m-9 3h0m-2 1h0m157-162h0m3 1h0m14 4h0m-18 1h0m0 1h0m6 0h0m-2 5h0m7 0h0m111 56h0m2 0h0m3 0h0m-4 1h0m6 4h0m-4 0h0m21 3h0m-10 1h0m-27 0h0m7 0h0m26 1h0m-29 1h0m6 0h0m26 0h0m-30 3h0m15 1h0m-12 0h0m36 0h0m-9 0h0m-12 1h0m-1 0h0m-4 0h0m-15 0h0m41 1h0m-27 0h0m4 0h0m-9 1h0m13 0h0m-5 0h0m-19 1h0m30 0h0m-15 0h0m27 0h0m-36 1h0m28 0h0m-40 0h0m49 0h0m-34 1h0m18 1h0m-5 0h0m20 0h0m-26 0h0m6 1h0m9 0h0m-30 0h0m6 0h0m-13 1h0m9 1h0m-12 0h0m38 0h0m-15 1h0m11 0h0m-18 0h0m28 0h0m-41 0h0m16 1h0m-3 0h0m22 0h0m-21 0h0m16 1h0m-33 2h0m31 0h0m-10 0h0m25 1h0m-43 1h0m7 1h0m-4 0h0m7 1h0m-13 0h0m34 1h0m-12 0h0m26 1h0m-8 1h0m-30 1h0m-3 0h0m-6 1h0m43 0h0m-4 0h0m-4 1h0m-21 0h0m3 1h0m26 0h0m-32 1h0m39 0h0m-1 0h0m-36 1h0m29 0h0m-12 1h0m9 1h0m-21 0h0m16 0h0m-17 1h0m-19 1h0m44 0h0m2 1h0m-7 1h0m14 0h0m-5 0h0m-12 0h0m18 2h0m1 12h0m-155 1h0m8 3h0m35 9h0m-6 0h0m-33 2h0m29 0h0m7 0h0m-18 2h0m26 1h0m4 1h0m-37 1h0m5 0h0m6 0h0m6 1h0m9 0h0m-28 0h0m33 1h0m-9 0h0m-6 1h0m-4 0h0m10 0h0m-13 1h0m15 0h0m0 1h0m-5 0h0m-15 0h0m-6 0h0m38 0h0m-7 1h0m-11 0h0m8 1h0m-7 0h0m17 1h0m-35 0h0m10 2h0m-5 0h0m26 1h0m-2 0h0m8 2h0m-24 0h0m14 0h0m-7 1h0m-17 2h0m6 0h0m34 0h0m-3 0h0m-26 1h0m2 0h0m22 1h0m-14 0h0m-16 0h0m29 0h0m0 0h0m1 0h0m-22 1h0m10 0h0m-19 0h0m2 0h0m-5 1h0m3 1h0m11 1h0m15 0h0m-25 0h0m-4 0h0m34 0h0m-38 1h0m34 1h0m-12 0h0m-11 0h0m-4 1h0m12 0h0m230-176h0m0 4h0m-1 1h0m5 1h0m0 1h0m-106 122h0m206 4h0m4 1h0m-5 1h0m-1 0h0m3 3h0m-5 0h0m-3 1h0m8 3h0m-3 0h0m-5 1h0m13 1h0m-4 0h0m-9 1h0m13 0h0m-3 1h0m3 0h0m-11 1h0m1 0h0m4 0h0m-8 1h0m7 0h0m-12 0h0m20 0h0m-10 2h0m-9 1h0m9 1h0m-6 0h0m-5 0h0m13 0h0m-11 1h0m12 0h0m7 2h0m-16 1h0m-1 0h0m7 0h0m0 0h0m-8 0h0m13 1h0m4 1h0m-5 1h0m-3 0h0m-1 0h0m-9 0h0m0 2h0m11 1h0m-12 0h0m18 1h0m-5 1h0m-2 1h0m-9 1h0m12 1h0m-16 0h0m21 0h0m-9 0h0m5 1h0m-2 0h0m-11 0h0m-5 1h0m13 0h0m-13 1h0m20 0h0m-6 0h0m-11 1h0m3 0h0m5 0h0m-5 0h0m16 0h0m-2 1h0m-12 1h0m9 1h0m-15 2h0m153-77h0m-4 7h0m-9 0h0m3 1h0m10 1h0m9 2h0m-16 2h0m8 2h0m-11 1h0m17 3h0m-29 0h0m16 1h0m-9 1h0m27 0h0m-28 0h0m12 1h0m21 2h0m-38 0h0m3 0h0m-9 1h0m3 0h0m15 0h0m24 1h0m-4 1h0m-37 1h0m27 2h0m-6 0h0m-23 1h0m44 0h0m6 0h0m-43 1h0m26 2h0m-25 2h0m11 1h0m-15 1h0m10 1h0m20 0h0m-12 2h0m29 0h0m-12 0h0m-27 1h0m33 1h0m-22 0h0m4 0h0m-23 1h0m29 1h0m-16 0h0m-13 1h0m49 1h0m-24 1h0m-20 0h0m33 2h0m-10 1h0m-7 0h0m-4 0h0m-6 0h0m24 2h0m-6 0h0m-22 0h0m-1 1h0m17 1h0m25 1h0m0 0h0m-11 1h0m-33 1h0m5 1h0m20 0h0m11 1h0m-42 0h0m4 1h0m18 1h0m2 2h0m18 0h0m-11 1h0m-23 3h0m6 0h0m33 0h0m-31 1h0m20 0h0m-34 0h0m1 1h0m20 0h0m7 0h0m15 0h0m-24 2h0m-13 0h0m17 0h0m-4 1h0m-12 1h0m31 1h0m-17 0h0m-11 1h0m24 1h0m-864 138h0m7 2h0m-19 0h0m20 0h0m-7 1h0m-22 2h0m31 0h0m-8 0h0m9 1h0m-3 0h0m7 0h0m-11 1h0m-22 0h0m10 1h0m-9 0h0m9 1h0m19 1h0m-34 0h0m-1 0h0m38 0h0m2 1h0m-36 0h0m-8 1h0m32 0h0m-1 2h0m-13 0h0m6 0h0m-19 0h0m19 1h0m-17 0h0m29 0h0m-33 0h0m35 0h0m-28 1h0m-11 0h0m49 2h0m-34 0h0m35 0h0m-29 0h0m-7 1h0m39 1h0m-14 1h0m-9 1h0m-35 0h0m19 0h0m27 1h0m-31 0h0m3 0h0m9 1h0m25 0h0m-21 0h0m9 0h0m-36 0h0m34 0h0m-28 2h0m-1 0h0m29 1h0m-32 0h0m27 1h0m5 0h0m12 1h0m-11 0h0m-42 0h0m35 0h0m-18 1h0m14 1h0m19 0h0m-20 1h0m-3 0h0m7 1h0m-18 2h0m9 1h0m-20 0h0m21 0h0m19 1h0m-38 0h0m184-174h0m-100 1h0m116 0h0m-22 1h0m30 0h0m-11 0h0m-120 0h0m13 1h0m18 0h0m-33 2h0m129 0h0m-28 1h0m31 0h0m-45 0h0m32 1h0m-20 0h0m-6 1h0m-88 0h0m15 0h0m-10 0h0m82 1h0m-7 0h0m23 0h0m-88 0h0m83 2h0m-7 0h0m1 1h0m-10 0h0m35 1h0m-5 0h0m-16 0h0m-82 0h0m90 0h0m-88 1h0m10 0h0m-24 1h0m0 1h0m8 1h0m15 0h0m-8 1h0m-5 2h0m-1 1h0m5 2h0m120 102h0m-2 7h0m1 7h0m115-70h0m-2 0h0m5 1h0m9 0h0m0 2h0m1 1h0m-10 0h0m-11 2h0m4 0h0m6 1h0m-9 1h0m30 0h0m-2 1h0m2 1h0m-3 1h0m-22 0h0m-7 0h0m0 0h0m22 1h0m13 0h0m-22 0h0m9 1h0m-14 0h0m-1 0h0m17 0h0m-9 0h0m-1 1h0m12 0h0m-4 0h0m12 1h0m-109 0h0m106 0h0m-25 0h0m22 2h0m-14 0h0m2 0h0m-17 2h0m1 0h0m31 0h0m-110 0h0m83 1h0m31 0h0m-6 0h0m-22 1h0m-3 1h0m-3 0h0m27 0h0m-97 1h0m87 0h0m10 0h0m-14 0h0m1 0h0m-8 1h0m13 0h0m-24 0h0m-69 1h0m104 0h0m-23 0h0m4 0h0m4 0h0m-83 0h0m90 0h0m-23 1h0m25 0h0m-26 0h0m-81 0h0m96 0h0m-12 0h0m-75 1h0m67 0h0m4 0h0m9 0h0m15 0h0m4 1h0m-31 0h0m21 1h0m3 0h0m-6 1h0m-21 2h0m-70 1h0m89 0h0m-9 0h0m-4 1h0m16 0h0m-84 0h0m79 0h0m1 1h0m-72 0h0m83 0h0m-6 0h0m3 1h0m10 0h0m-4 0h0m-23 1h0m11 0h0m5 0h0m-17 1h0m-91 1h0m99 0h0m-92 0h0m88 0h0m3 1h0m-74 0h0m-5 0h0m75 1h0m18 0h0m-3 1h0m-13 0h0m-78 0h0m21 0h0m62 0h0m9 0h0m-8 1h0m-2 0h0m-96 0h0m112 0h0m-82 1h0m-18 1h0m-13 0h0m-12 0h0m48 1h0m-18 0h0m-8 0h0m-15 1h0m49 0h0m62 0h0m-106 0h0m21 1h0m-34 1h0m29 1h0m-1 0h0m-19 1h0m44 1h0m-20 1h0m6 0h0m-13 1h0m20 0h0m-25 1h0m20 1h0m10 2h0m-43 1h0m-5 3h0m28 1h0m1 0h0m-6 1h0m17 2h0m-33 1h0m47 0h0m-27 1h0m14 0h0m-3 0h0m-14 1h0m-11 1h0m28 0h0m-15 2h0m-19 0h0m23 1h0m-17 0h0m22 0h0m-28 0h0m12 2h0m-9 3h0m6 1h0m-17 0h0m16 1h0m8 2h0m7 0h0m7 0h0m-11 1h0m-18 0h0m-5 2h0m28 0h0m-11 0h0m23 4h0m-8 1h0m-29 1h0m33 1h0m-14 0h0m-8 1h0m4 1h0m19 0h0m-31 3h0m25 1h0m-9 0h0m10 2h0m-20 2h0m23 2h0m-18 0h0m-8 1h0m7 1h0m172-175h0m0 0h0m-23 1h0m9 0h0m24 1h0m-9 0h0m6 2h0m-15 0h0m-11 0h0m38 1h0m-40 1h0m2 0h0m14 0h0m-12 1h0m8 0h0m15 1h0m-23 0h0m30 1h0m-35 0h0m0 3h0m32 0h0m2 1h0m99 76h0m5 5h0m-15 8h0m18 2h0m-13 0h0m-5 1h0m-2 2h0m13 3h0m-8 5h0m14 0h0m-9 5h0m-5 2h0m-2 1h0m8 2h0m-3 5h0m11 15h0m28-73h0m-6 0h0m-2 1h0m121 2h0m17 1h0m-9 0h0m-13 2h0m8 0h0m-4 1h0m-128 0h0m120 1h0m-101 1h0m110 0h0m-125 2h0m10 1h0m-19 0h0m108 1h0m12 0h0m-13 0h0m-90 0h0m112 2h0m10 1h0m4 1h0m-109 0h0m81 0h0m-110 0h0m17 0h0m3 1h0m90 0h0m34 1h0m-27 0h0m-80 2h0m-16 0h0m116 1h0m2 1h0m-22 1h0m-9 1h0m-93 0h0m96 1h0m14 0h0m-2 0h0m-100 0h0m72 1h0m-2 0h0m6 1h0m39 1h0m-38 1h0m46 0h0m-13 1h0m-28 1h0m-71 0h0m101 2h0m-118 2h0m109 0h0m-36 1h0m32 0h0m-83 1h0m67 0h0m34 0h0m-135 1h0m104 0h0m-116 0h0m136 1h0m-31 1h0m-93 1h0m115 2h0m26 0h0m-133 0h0m24 1h0m63 0h0m-6 1h0m-104 1h0m124 0h0m4 0h0m-104 1h0m113 1h0m-21 0h0m-109 1h0m47 1h0m-24 1h0m116 0h0m-122 0h0m6 0h0m127 1h0m-115 1h0m10 0h0m97 1h0m6 0h0m-111 2h0m-27 0h0m11 1h0m-21 0h0m114 1h0m-100 0h0m-7 1h0m126 0h0m-92 1h0m-10 0h0m8 0h0m-5 0h0m-39 0h0m15 3h0m-9 2h0m140 0h0m-146 1h0m27 1h0m4 0h0m6 1h0m107 1h0m-130 2h0m-7 1h0m28 1h0m-31 6h0m2 5h0m6 8h0m196-166h0m-10 2h0m0 1h0m-7 1h0m14 0h0m4 1h0m-16 0h0m1 0h0m3 0h0m8 0h0m-10 2h0m7 0h0m-1 2h0m3 0h0m3 0h0m-1 2h0m-2 2h0m61 58h0m3 0h0m2 2h0m0 1h0m-3 0h0m-107 1h0m17 2h0m90 1h0m4 0h0m-1 1h0m-79 1h0m69 2h0m8 0h0m-2 0h0m-4 1h0m-1 1h0m-105 0h0m39 1h0m6 1h0m-9 0h0m-17 0h0m25 0h0m10 0h0m58 1h0m-111 0h0m111 1h0m-11 0h0m-62 0h0m72 1h0m6 0h0m-13 0h0m15 1h0m-16 0h0m-42 0h0m50 0h0m-84 1h0m82 0h0m-5 1h0m-92 1h0m31 0h0m78 0h0m-66 1h0m63 0h0m-4 0h0m-65 2h0m-32 0h0m101 1h0m-106 0h0m90 1h0m-66 0h0m6 1h0m65 0h0m-73 2h0m65 1h0m22 0h0m-98 0h0m3 1h0m-15 1h0m104 0h0m-67 0h0m4 0h0m69 1h0m-92 0h0m72 1h0m-54 1h0m71 0h0m-104 0h0m-1 1h0m101 1h0m-2 0h0m10 1h0m-18 0h0m-81 1h0m90 2h0m4 1h0m-6 0h0m-6 0h0m7 0h0m-9 1h0m6 0h0m9 0h0m-83 1h0m84 0h0m-20 0h0m20 1h0m-107 1h0m104 0h0m1 0h0m-109 0h0m114 1h0m-20 0h0m-77 0h0m86 0h0m7 0h0m-12 1h0m-74 0h0m82 0h0m-91 2h0m22 0h0m69 0h0m-7 2h0m6 0h0m-106 0h0m98 1h0m15 0h0m-87 2h0m68 0h0m14 1h0m-12 0h0m-80 1h0m80 0h0m3 0h0m-89 0h0m-15 1h0m100 0h0m-62 0h0m-9 1h0m83 1h0m-7 0h0m-76 0h0m88 0h0m-84 1h0m77 0h0m-74 0h0m66 1h0m-79 1h0m-23 0h0m108 0h0m-91 0h0m84 2h0m5 0h0m13 1h0m-12 0h0m-10 0h0m8 4h0m-5 0h0m-88 0h0m98 1h0m-106 0h0m114 1h0m-10 0h0m3 1h0m-3 2h0m7 0h0m-4 0h0m-8 1h0m7 2h0m-2 1h0m5 1h0m-5 3h0m61-154h0m28 1h0m6 0h0m-21 0h0m-3 1h0m7 1h0m-11 1h0m25 0h0m-8 1h0m1 5h0m-17 1h0m12 2h0m8 1h0m0 5h0m163 51h0m2 2h0m3 0h0m-5 3h0m-3 0h0m8 0h0m-5 0h0m-5 1h0m5 0h0m-5 0h0m15 4h0m-10 1h0m5 2h0m-5 0h0m11 1h0m-11 0h0m-4 1h0m6 0h0m8 1h0m-8 2h0m-12 1h0m8 2h0m1 0h0m1 1h0m3 1h0m-7 0h0m11 0h0m-4 1h0m0 1h0m4 2h0m5 1h0m-23 0h0m23 0h0m-4 1h0m1 0h0m0 0h0m-1 1h0m-6 1h0m6 0h0m-19 1h0m-1 1h0m16 1h0m-4 1h0m-10 1h0m7 1h0m10 1h0m5 0h0m-16 1h0m4 1h0m-4 1h0m-1 0h0m18 2h0m-1 1h0m-15 0h0m-6 0h0m14 1h0m0 1h0m0 0h0m-4 4h0m-6 0h0m12 1h0m-16 0h0m8 0h0m13 1h0m-5 0h0m-18 0h0m1 1h0m4 2h0m0 1h0m2 1h0m18 0h0m-18 0h0m8 1h0m8 0h0m-20 1h0m4 0h0m-6 1h0m9 5h0m12 0h0m-11 1h0m13 0h0m-16 0h0m9 1h0m-9 0h0m-3 0h0m2 1h0m17 1h0m-23 2h0m19 3h0m-13 0h0m15 1h0m-4 0h0m-2 1h0m1 0h0m-11 1h0m10 0h0m-8 1h0m12 0h0m-5 1h0m2 1h0m-13 1h0m13 0h0m-10 1h0m-1039 23h0m0 0h0m-8 2h0m26 0h0m6 1h0m5 0h0m-19 0h0m23 0h0m-33 1h0m25 0h0m-32 0h0m33 0h0m-16 0h0m-7 0h0m4 0h0m-10 2h0m17 1h0m-7 1h0m-2 1h0m11 1h0m76 62h0m1 1h0m5 1h0m-2 0h0m1 2h0m-4 1h0m10 0h0m-5 1h0m-7 3h0m-1 2h0m5 1h0m10 0h0m-3 1h0m-7 1h0m0 1h0m-7 1h0m13 3h0m4 1h0m-11 0h0m8 0h0m4 1h0m-16 0h0m2 2h0m10 1h0m-2 0h0m-9 0h0m-3 0h0m8 2h0m-1 0h0m6 1h0m1 0h0m-6 0h0m-7 1h0m19 0h0m-3 0h0m1 0h0m-14 1h0m8 0h0m0 0h0m-1 1h0m5 0h0m-2 1h0m-8 0h0m9 1h0m-12 0h0m2 1h0m4 0h0m-8 0h0m12 1h0m-4 2h0m-6 0h0m3 1h0m-5 0h0m16 0h0m-7 1h0m-5 0h0m1 1h0m6 0h0m4 0h0m-7 1h0m-6 1h0m7 0h0m-8 1h0m10 0h0m-1 0h0m-1 1h0m3 0h0m-8 1h0m11 1h0m-8 2h0m0 4h0m2 1h0m4 0h0m-3 1h0m142-123h0m4 3h0m-18 0h0m14 1h0m-5 1h0m8 1h0m10 56h0m-2 4h0m0 3h0m8 3h0m-7 1h0m-1 1h0m3 3h0m-9 2h0m-1 1h0m7 2h0m5 2h0m-9 3h0m10 0h0m-3 3h0m-12 0h0m-1 5h0m-1 2h0m4 1h0m-6 0h0m17 1h0m7 2h0m0 0h0m-4 0h0m4 0h0m-16 0h0m9 0h0m-13 0h0m4 2h0m15 1h0m-19 0h0m11 1h0m-2 0h0m-5 0h0m13 2h0m-22 2h0m16 1h0m-12 0h0m16 4h0m5 0h0m-8 2h0m-16 1h0m9 0h0m9 0h0m-8 1h0m7 1h0m-14 0h0m20 1h0m-20 1h0m22 1h0m-16 0h0m-3 1h0m10 3h0m-5 0h0m14 0h0m-13 2h0m-11 0h0m17 1h0m8 1h0m-4 1h0m4 0h0m-1 2h0m-20 1h0m15 2h0m-1 0h0m-7 1h0m12 0h0m-3 0h0m5 1h0m0 1h0m-17 0h0m-3 0h0m7 2h0m0 1h0m10 0h0m-16 0h0m13 0h0m-21 0h0m27 1h0m-20 0h0m21 0h0m-10 0h0m0 1h0m7 1h0m-9 0h0m6 1h0m-18 1h0m3 0h0m5 1h0m11 0h0m-20 0h0m10 1h0m13 1h0m-8 0h0m-15 0h0m7 1h0m-5 1h0m17 2h0m-13 1h0m-6 0h0m2 1h0m20 0h0m-4 1h0m5 0h0m-23 0h0m15 2h0m-2 1h0m4 0h0m62 0h0m2 1h0m10 1h0m6 0h0m-90 0h0m84 1h0m2 0h0m-23 0h0m14 0h0m10 1h0m-73 0h0m80 1h0m-12 0h0m-87 0h0m3 1h0m102 0h0m-25 0h0m5 0h0m1 0h0m0 0h0m16 1h0m-101 0h0m87 0h0m10 1h0m-87 0h0m76 0h0m9 0h0m-23 0h0m-4 0h0m-52 0h0m84 0h0m-23 0h0m20 0h0m-90 0h0m60 1h0m8 0h0m25 0h0m-30 0h0m27 0h0m-77 0h0m73 0h0m2 0h0m-19 0h0m-7 0h0m-55 0h0m53 0h0m26 0h0m-24 1h0m4 0h0m-52 0h0m78 0h0m-10 0h0m2 0h0m-88 1h0m84 1h0m-71 0h0m64 0h0m-83 0h0m97 0h0m-3 0h0m-11 0h0m-68 1h0m64 0h0m-3 1h0m-8 0h0m25 0h0m-21 0h0m254-45h0m-1 0h0m6 2h0m-3 0h0m-2 1h0m1 2h0m1 2h0m7 1h0m1 2h0m-16 1h0m11 0h0m-8 0h0m-5 1h0m0 0h0m19 2h0m-18 2h0m-4 1h0m8 0h0m-7 1h0m2 0h0m2 0h0m75 0h0m-69 1h0m-10 0h0m76 1h0m-67 1h0m13 0h0m-10 1h0m58 0h0m-65 0h0m-4 0h0m18 0h0m-6 0h0m65 1h0m12 0h0m-18 0h0m9 0h0m6 0h0m-9 1h0m12 0h0m-13 0h0m-61 0h0m64 0h0m-9 0h0m-64 0h0m66 1h0m-63 0h0m-13 0h0m2 1h0m80 0h0m-9 0h0m-70 0h0m24 1h0m-10 0h0m-13 0h0m94 0h0m-94 0h0m85 0h0m11 1h0m-83 0h0m1 0h0m3 0h0m-17 1h0m19 0h0m59 0h0m5 1h0m-73 0h0m79 0h0m3 0h0m-21 1h0m18 0h0m-20 0h0m-66 0h0m65 1h0m0 0h0m-44 0h0m63 0h0m-89 0h0m90 1h0m-75 0h0m62 0h0m15 0h0m-92 1h0m19 0h0m0 0h0m51 0h0m2 0h0m-70 1h0m66 0h0m-53 1h0m9 0h0m53 0h0m-3 0h0m13 1h0m-2 0h0m-85 0h0m0 0h0m15 1h0m62 0h0m-58 0h0m66 1h0m1 0h0m0 0h0m0 0h0m-18 0h0m9 1h0m-79 0h0m71 1h0m25 0h0m-87 1h0m73 0h0m-58 0h0m1 0h0m-12 0h0m82 1h0m-2 0h0m-9 0h0m2 0h0m-86 0h0m10 0h0m78 1h0m-14 1h0m0 0h0m-1 0h0m255-106h0m7 0h0m-3 1h0m1 3h0m4 0h0m-1 1h0m2 0h0m0 1h0m-5 1h0m4 2h0m-1 1h0m-9 0h0m4 0h0m6 2h0m-11 0h0m-3 1h0m10 0h0m-6 0h0m1 0h0m2 1h0m9 1h0m-1 0h0m4 0h0m-7 1h0m0 1h0m2 0h0m2 1h0m-9 1h0m-7 0h0m19 0h0m0 0h0m-6 0h0m-11 1h0m11 0h0m5 0h0m-20 1h0m8 0h0m5 1h0m-3 1h0m2 0h0m-5 0h0m-5 2h0m-2 0h0m21 1h0m-4 0h0m2 0h0m-8 1h0m1 0h0m3 1h0m-13 0h0m13 0h0m-12 1h0m3 0h0m-2 0h0m7 1h0m-7 0h0m0 1h0m9 0h0m-8 2h0m19 0h0m-5 0h0m4 1h0m-10 0h0m-1 0h0m-9 1h0m2 0h0m6 1h0m-11 1h0m8 0h0m-5 1h0m7 0h0m13 1h0m-20 0h0m6 0h0m14 1h0m-14 0h0m4 1h0m0 0h0m-10 1h0m19 0h0m-20 1h0m16 1h0m3 1h0m-4 2h0m-13 3h0m4 1h0m11 1h0m-10 0h0m6 2h0m-10 2h0m8 0h0m4 1h0m-7 0h0m2 2h0m226-56h0m1 0h0m-1 2h0m5 1h0m-10 2h0m6 1h0m5 0h0m-16 1h0m1 0h0m9 1h0m0 0h0m6 1h0m-16 0h0m10 1h0m2 0h0m10 2h0m-9 0h0m-6 0h0m-9 1h0m4 0h0m2 0h0m21 1h0m-21 1h0m0 0h0m3 0h0m-8 1h0m10 1h0m-9 0h0m-2 1h0m25 0h0m-3 0h0m-24 0h0m22 1h0m-10 0h0m10 0h0m-8 0h0m-11 1h0m3 0h0m-6 2h0m12 1h0m1 1h0m-12 0h0m15 1h0m3 0h0m-5 1h0m9 0h0m-11 0h0m-3 0h0m6 1h0m-9 0h0m-4 0h0m6 0h0m3 1h0m0 1h0m4 0h0m11 0h0m-1 1h0m4 2h0m-21 0h0m10 0h0m-18 0h0m26 1h0m-17 0h0m-5 0h0m19 0h0m-12 0h0m-11 1h0m8 1h0m2 0h0m18 1h0m-16 1h0m14 0h0m-10 1h0m7 0h0m-9 0h0m-14 0h0m5 1h0m7 3h0m-9 0h0m11 0h0m2 0h0m-1 1h0m7 2h0m-18 1h0m2 0h0m9 1h0m4 0h0m2 1h0m-5 1h0m4 1h0m-4 1h0m7 1h0m-6 0h0m-7 1h0m1 1h0m7 0h0m-87 24h0m-8 4h0m3 1h0m-5 0h0m11 0h0m0 1h0m8 2h0m-9 0h0m12 1h0m-12 0h0m10 1h0m-25 0h0m24 0h0m10 1h0m-33 0h0m39 0h0m-42 1h0m34 1h0m-37 0h0m31 1h0m-9 0h0m6 0h0m-4 1h0m-4 0h0m6 1h0m0 1h0m-13 0h0m17 0h0m-16 0h0m20 0h0m10 1h0m-13 0h0m-22 0h0m-9 0h0m15 1h0m-17 0h0m18 0h0m2 1h0m-18 0h0m39 0h0m-36 0h0m21 0h0m-2 0h0m6 1h0m15 1h0m-32 1h0m-10 0h0m34 2h0m-957 139h0m-3 1h0m4 0h0m-8 4h0m6 0h0m15 0h0m-17 2h0m-1 0h0m1 0h0m18 1h0m-7 0h0m-10 0h0m3 1h0m6 1h0m-5 0h0m-3 0h0m12 1h0m-1 1h0m-18 0h0m8 0h0m14 2h0m-17 0h0m-6 2h0m9 0h0m13 1h0m-1 1h0m1 0h0m-13 0h0m-1 1h0m-10 0h0m30 1h0m-24 0h0m0 0h0m18 0h0m-3 2h0m-12 0h0m-8 0h0m31 1h0m-12 1h0m9 0h0m-18 0h0m19 1h0m-18 1h0m-2 0h0m18 1h0m-5 0h0m-20 1h0m13 0h0m-8 3h0m15 0h0m-25 0h0m29 0h0m-8 1h0m-11 1h0m15 0h0m-12 0h0m-2 1h0m-12 0h0m21 0h0m-1 1h0m-11 0h0m-5 1h0m5 0h0m175-175h0m61 0h0m9 1h0m8 0h0m-6 1h0m-76 0h0m60 0h0m16 0h0m-22 0h0m22 0h0m-1 1h0m-86 0h0m97 0h0m5 1h0m-14 0h0m-85 1h0m11 0h0m56 0h0m27 0h0m-6 0h0m-24 0h0m-66 1h0m73 0h0m-2 0h0m22 1h0m-15 0h0m2 1h0m6 0h0m-77 0h0m81 0h0m-20 0h0m1 0h0m17 0h0m-21 0h0m30 0h0m-16 1h0m-8 0h0m-5 0h0m24 0h0m-18 0h0m15 1h0m-17 0h0m1 0h0m-1 1h0m-9 0h0m16 0h0m-3 0h0m3 1h0m-4 0h0m-7 0h0m-1 0h0m19 1h0m3 0h0m-19 0h0m8 1h0m-8 0h0m22 0h0m-24 1h0m19 0h0m-4 1h0m-11 0h0m7 1h0m5 0h0m-3 0h0m-4 1h0m-70 0h0m62 49h0m2 3h0m-2 0h0m-3 0h0m-4 3h0m1 1h0m13 0h0m-13 0h0m7 1h0m-1 0h0m-4 0h0m-1 0h0m0 0h0m10 1h0m-11 0h0m1 1h0m4 0h0m-50 1h0m50 1h0m6 0h0m-10 1h0m-58 0h0m10 0h0m55 0h0m-1 1h0m-8 0h0m16 0h0m-2 0h0m-7 0h0m-4 1h0m3 0h0m-48 0h0m53 0h0m-12 1h0m12 0h0m-3 1h0m-3 0h0m11 1h0m-10 0h0m-57 0h0m6 1h0m-11 0h0m68 0h0m-68 1h0m65 0h0m0 0h0m8 1h0m-72 0h0m70 0h0m-54 1h0m44 0h0m9 1h0m2 0h0m1 0h0m-3 0h0m-9 0h0m-2 1h0m-4 0h0m4 1h0m-58 0h0m59 0h0m1 1h0m-52 0h0m52 1h0m6 0h0m-10 1h0m8 0h0m1 0h0m-62 0h0m10 0h0m42 1h0m0 0h0m15 0h0m1 1h0m-7 1h0m-50 0h0m-9 0h0m-1 0h0m57 0h0m-1 0h0m8 1h0m-9 0h0m-48 1h0m54 0h0m-56 1h0m-6 0h0m57 1h0m8 1h0m1 0h0m-10 0h0m7 0h0m-6 1h0m2 0h0m-3 1h0m0 0h0m-60 1h0m0 0h0m71 0h0m-57 0h0m-5 1h0m60 0h0m-8 0h0m-1 1h0m3 0h0m-46 1h0m45 0h0m1 1h0m-46 1h0m-2 1h0m-8 0h0m8 1h0m-17 3h0m17 0h0m-8 5h0m9 3h0m-3 1h0m-11 1h0m5 1h0m-8 0h0m6 3h0m8 0h0m4 1h0m-11 0h0m-7 4h0m17 0h0m-11 0h0m10 4h0m-7 0h0m-7 1h0m10 0h0m-5 1h0m-6 2h0m16 3h0m-18 0h0m2 1h0m15 0h0m-6 1h0m-5 2h0m8 0h0m-4 2h0m4 2h0m-8 4h0m10 2h0m-2 0h0m-9 2h0m-2 0h0m12 1h0m-5 5h0m1 1h0m318-169h0m-12 0h0m64 0h0m0 0h0m-1 0h0m-71 0h0m78 1h0m-3 0h0m-9 0h0m-1 0h0m0 1h0m14 0h0m-69 0h0m-7 1h0m3 0h0m-3 0h0m71 0h0m4 1h0m-64 0h0m61 0h0m2 0h0m-59 0h0m-8 0h0m81 0h0m1 1h0m-21 0h0m-62 0h0m81 1h0m-83 0h0m13 0h0m60 0h0m-7 0h0m-5 2h0m-66 0h0m1 0h0m1 1h0m67 0h0m-66 0h0m8 0h0m-3 1h0m75 0h0m-75 0h0m3 0h0m67 1h0m-68 0h0m78 0h0m-76 1h0m-3 0h0m62 0h0m4 0h0m-3 0h0m-70 0h0m5 2h0m78 0h0m-5 0h0m7 2h0m-74 0h0m58 1h0m-60 52h0m0 1h0m5 1h0m-2 1h0m-5 1h0m-1 3h0m12 2h0m-9 0h0m10 3h0m-1 1h0m1 0h0m-7 1h0m-3 1h0m-1 1h0m-1 0h0m-3 0h0m8 1h0m-7 2h0m-3 1h0m18 1h0m-15 1h0m17 0h0m-6 2h0m0 1h0m1 1h0m-3 1h0m1 0h0m-5 2h0m4 0h0m4 1h0m-11 1h0m5 0h0m-13 1h0m14 1h0m-1 1h0m3 0h0m-1 1h0m3 0h0m-18 0h0m22 1h0m-20 0h0m8 1h0m13 0h0m-12 1h0m11 1h0m-12 0h0m-9 0h0m1 1h0m15 0h0m4 0h0m-6 1h0m6 1h0m-2 1h0m-11 1h0m2 0h0m13 1h0m-21 0h0m10 0h0m2 0h0m-11 1h0m6 0h0m3 0h0m-11 1h0m19 2h0m-19 0h0m22 0h0m-6 0h0m-4 1h0m4 1h0m-11 0h0m10 1h0m-10 0h0m14 1h0m-6 1h0m-10 1h0m9 1h0m8 0h0m-8 2h0m6 1h0m-15 0h0m7 3h0m2 4h0m-1 1h0m-6 1h0m6 2h0m154-68h0m2 2h0m-5 2h0m-6 0h0m5 1h0m8 3h0m3 0h0m-13 2h0m12 1h0m-17 0h0m4 0h0m-5 1h0m3 0h0m19 1h0m-20 1h0m21 1h0m-2 0h0m0 1h0m-4 0h0m-9 0h0m-13 1h0m16 0h0m-6 1h0m2 1h0m16 1h0m-25 1h0m12 0h0m-10 0h0m8 1h0m12 0h0m-21 1h0m19 0h0m-18 1h0m22 1h0m-16 1h0m3 0h0m11 1h0m-8 0h0m7 1h0m-26 0h0m3 1h0m10 0h0m8 2h0m-1 0h0m-5 1h0m3 0h0m-12 0h0m2 1h0m21 0h0m-2 0h0m-26 0h0m11 2h0m-6 0h0m19 1h0m-21 0h0m10 1h0m14 0h0m-2 1h0m-17 0h0m7 1h0m1 0h0m-4 0h0m2 2h0m9 0h0m-9 2h0m2 0h0m-8 1h0m10 0h0m7 1h0m-4 0h0m-13 1h0m-3 2h0m12 0h0m11 1h0m-1 0h0m-1 0h0m-3 0h0m-16 1h0m-1 1h0m11 0h0m-1 1h0m-9 1h0m10 0h0m11 0h0m-16 0h0m11 1h0m-13 0h0m-2 0h0m13 1h0m0 1h0m-7 1h0m2 4h0m168-62h0m62 1h0m-4 0h0m4 0h0m-65 1h0m55 0h0m16 0h0m-14 0h0m7 0h0m-4 1h0m5 0h0m-8 1h0m2 0h0m11 0h0m-75 1h0m63 0h0m14 0h0m-13 0h0m0 0h0m-60 0h0m74 0h0m-11 1h0m2 1h0m-3 0h0m-8 0h0m-2 0h0m12 0h0m4 1h0m-9 1h0m-8 0h0m19 0h0m-3 1h0m2 0h0m-18 0h0m3 1h0m12 0h0m-11 0h0m17 0h0m-21 0h0m2 1h0m-48 0h0m70 0h0m-82 0h0m83 0h0m1 0h0m-27 0h0m-53 1h0m69 1h0m-16 1h0m29 1h0m-18 0h0m10 0h0m-6 0h0m-8 1h0m5 0h0m17 0h0m-25 0h0m-58 0h0m63 0h0m11 1h0m-3 0h0m9 0h0m-10 0h0m0 0h0m-13 0h0m-49 1h0m76 0h0m-2 0h0m-1 0h0m-27 0h0m10 1h0m10 0h0m-15 0h0m1 0h0m20 0h0m2 0h0m-8 1h0m4 0h0m-14 0h0m-54 0h0m52 0h0m10 0h0m-10 1h0m22 1h0m-87 0h0m84 1h0m-24 0h0m2 0h0m-64 0h0m11 0h0m65 0h0m4 1h0m6 0h0m-77 0h0m65 0h0m-6 0h0m-10 1h0m15 0h0m-11 0h0m3 0h0m-3 1h0m7 0h0m-2 0h0m12 0h0m-68 1h0m66 0h0m-12 1h0m19 0h0m-23 0h0m13 1h0m-9 1h0m-51 0h0m2 0h0m60 0h0m-72 0h0m63 1h0m0 0h0m-55 0h0m64 0h0m4 1h0m1 0h0m-81 1h0m14 2h0m-2 0h0m-7 1h0m-2 1h0m-3 1h0m5 1h0m13 3h0m-11 0h0m6 1h0m-7 0h0m9 0h0m-5 2h0m-7 0h0m6 1h0m-10 0h0m15 1h0m4 0h0m-13 2h0m8 1h0m-14 2h0m16 0h0m-3 0h0m-12 1h0m0 2h0m3 1h0m14 1h0m-2 0h0m-1 2h0m-6 0h0m4 0h0m-13 1h0m7 3h0m-6 0h0m13 2h0m-5 1h0m-8 2h0m6 0h0m2 0h0m-8 1h0m6 0h0m-7 3h0m14 0h0m-9 1h0m8 3h0m-6 1h0m6 3h0m-7 1h0m10 2h0m-6 1h0m7 0h0m-12 1h0m11 1h0m-4 0h0m-10 1h0m14 0h0m-9 2h0m9 2h0m-1 1h0m-1 3h0m-5 1h0m3 1h0m-6 1h0m7 3h0m-4 3h0m4 0h0m152-175h0m1 1h0m-24 0h0m-2 0h0m30 1h0m-21 0h0m-5 0h0m-8 0h0m21 1h0m-4 1h0m-2 0h0m-2 0h0m17 1h0m-20 0h0m-12 1h0m40 1h0m0 0h0m-5 0h0m2 0h0m-11 0h0m-14 0h0m1 0h0m-6 1h0m4 0h0m14 0h0m9 1h0m-12 0h0m-4 0h0m-9 0h0m22 0h0m-20 0h0m17 1h0m10 1h0m-30 0h0m6 0h0m6 0h0m12 0h0m-20 0h0m7 1h0m14 0h0m-10 0h0m-4 1h0m0 2h0m6 1h0m8 1h0m61 137h0m0 0h0m8 0h0m-7 1h0m1 1h0m-3 0h0m2 1h0m4 1h0m-1 0h0m6 1h0m-16 1h0m11 1h0m-6 0h0m-1 1h0m-2 0h0m16 1h0m-4 0h0m-14 0h0m9 1h0m-7 1h0m13 0h0m-2 0h0m6 0h0m-9 1h0m2 0h0m7 0h0m0 1h0m-15 0h0m-1 0h0m16 1h0m-16 0h0m-4 0h0m19 0h0m-16 1h0m14 0h0m-8 0h0m11 0h0m-17 0h0m17 0h0m-3 1h0m-1 0h0m3 1h0m-9 0h0m8 0h0m-5 0h0m-9 1h0m16 1h0m0 0h0m-1 1h0m-18 1h0m3 0h0m16 0h0m146-40h0m1 0h0m-2 6h0m-3 0h0m2 0h0m5 1h0m-7 2h0m1 0h0m3 0h0m-6 0h0m12 0h0m-8 1h0m7 0h0m2 1h0m-8 0h0m3 2h0m-9 1h0m4 2h0m-1 1h0m1 1h0m-2 0h0m-3 1h0m2 1h0m4 1h0m11 1h0m-16 0h0m-1 1h0m13 1h0m-12 0h0m8 0h0m-10 0h0m11 1h0m5 0h0m4 1h0m-8 1h0m-12 0h0m14 0h0m3 0h0m-15 0h0m1 1h0m13 0h0m-5 0h0m-9 0h0m15 1h0m-16 2h0m2 1h0m-3 1h0m14 1h0m-4 1h0m-4 0h0m6 1h0m-3 1h0m-7 1h0m-1 1h0m1 1h0m8 0h0m1 0h0m4 0h0m-1188 2h0m6 0h0m-14 0h0m7 0h0m15 1h0m-14 0h0m4 0h0m-12 0h0m8 1h0m20 0h0m-7 0h0m4 0h0m-24 1h0m8 0h0m-2 1h0m8 0h0m8 0h0m-23 0h0m0 1h0m0 0h0m3 2h0m2 0h0m-3 0h0m18 0h0m-4 0h0m12 1h0m-5 1h0m-13 0h0m13 0h0m-2 2h0m4 1h0m-10 0h0m5 2h0m-6 0h0m7 0h0m-6 1h0m-4 3h0m-5 2h0m1028-21h0m-4 0h0m-6 1h0m15 0h0m7 0h0m-23 1h0m0 0h0m4 0h0m3 1h0m2 0h0m8 2h0m-8 0h0m10 1h0m-15 2h0m8 2h0m-5 0h0m0 0h0m2 0h0m-2 1h0m2 1h0m4 0h0m-5 1h0m5 0h0m-4 1h0m6 1h0m-4 1h0m-3 1h0m158-17h0m-5 0h0m13 1h0m-2 0h0m-10 0h0m8 2h0m-4 0h0m0 0h0m8 1h0m-12 0h0m7 0h0m0 1h0m-7 1h0m-2 1h0m6 1h0m-6 0h0m11 0h0m-1 4h0m-9 0h0m4 1h0" stroke="#f07fa2" stroke-width="4" stroke-linecap="round" fill="none"/>
<path transform="scale(.5)" d="M155 1556h0m0 4h0m33-80h0m5 0h0m6 1h0m7 3h0m-4 0h0m-13 0h0m23 2h0m-8 1h0m-6 3h0m-22 0h0m11 0h0m0 1h0m15 1h0m-23 0h0m28 1h0m6 1h0m-22 0h0m-2 1h0m-12 0h0m8 1h0m9 0h0m12 0h0m-7 1h0m-10 0h0m20 1h0m-23 1h0m11 1h0m-5 1h0m24 0h0m-17 1h0m14 1h0m4 1h0m-32 0h0m-10 1h0m35 0h0m-13 1h0m6 0h0m-21 0h0m-1 1h0m32 2h0m-4 0h0m-20 1h0m-4 0h0m6 1h0m-14 0h0m24 1h0m-17 2h0m-3 0h0m30 1h0m-9 0h0m-26 1h0m28 0h0m-31 0h0m17 2h0m-20 0h0m14 2h0m-16 0h0m26 1h0m-15 0h0m-8 0h0m20 3h0m-26 1h0m28 0h0m-18 1h0m-13 1h0m33 0h0m-9 3h0m9 2h0m-23 1h0m5 1h0m5 1h0m-7 2h0m11 0h0m5 0h0m-15 1h0m-5 1h0m25 2h0m-17 2h0m-8 1h0m24 1h0m-8 0h0m-13 0h0m17 0h0m-19 3h0m20 1h0m-21 1h0m16 2h0m3 1h0m-12 1h0m-3 4h0m-9 1h0m9 1h0m-9 6h0m-6 1h0m10 1h0m2 1h0m-13 3h0m1 4h0m-7 138h0m158-36h0m-16 0h0m-8 2h0m29 1h0m-33 3h0m25 1h0m-10 1h0m15 1h0m-6 1h0m-23 0h0m9 3h0m-10 0h0m29 1h0m-24 0h0m-10 1h0m4 1h0m18 0h0m-7 1h0m-3 3h0m2 1h0m-12 0h0m25 2h0m-15 1h0m6 0h0m17 1h0m-13 2h0m-28 0h0m30 1h0m-18 1h0m-10 1h0m38 1h0m-34 0h0m29 1h0m-11 0h0m17 1h0m-41 0h0m36 1h0m-25 1h0m9 1h0m-23 0h0m11 0h0m6 3h0m10 0h0m-7 2h0m-2 1h0m11 0h0m-133 1h0m146 1h0m-31 0h0m16 2h0m-134 2h0m137 0h0m-37 1h0m32 0h0m-11 1h0m-12 0h0m-87 1h0m12 0h0m71 0h0m-66 0h0m-19 1h0m6 0h0m122 1h0m-13 0h0m-99 0h0m-11 1h0m99 0h0m-102 0h0m-3 0h0m15 1h0m82 0h0m2 1h0m-99 0h0m14 0h0m0 1h0m93 0h0m-91 0h0m-12 0h0m99 0h0m23 1h0m-97 0h0m-35 0h0m25 1h0m10 0h0m-5 1h0m103 0h0m-110 0h0m-17 0h0m-9 0h0m21 1h0m8 0h0m81 0h0m-75 0h0m-33 0h0m118 0h0m-89 1h0m89 0h0m-117 0h0m83 0h0m11 0h0m-70 0h0m-1 0h0m4 1h0m-16 0h0m21 0h0m-27 0h0m27 1h0m77 0h0m-111 0h0m1 0h0m1 1h0m20 0h0m68 0h0m-79 1h0m100 0h0m-105 0h0m79 1h0m-3 0h0m-42 0h0m-35 0h0m-2 1h0m-5 1h0m109 0h0m-91 0h0m96 0h0m-12 0h0m-98 1h0m35 0h0m-34 0h0m9 1h0m107 0h0m-103 0h0m-5 0h0m78 0h0m-92 0h0m3 0h0m30 1h0m-24 0h0m36 0h0m-36 0h0m126 0h0m-102 1h0m-20 0h0m93 0h0m-89 0h0m98 1h0m-102 0h0m4 0h0m80 0h0m-92 0h0m4 0h0m10 1h0m-14 0h0m18 0h0m-2 0h0m112 1h0m-89 0h0m5 1h0m81 0h0m-27 0h0m-69 1h0m-31 0h0m41 0h0m-7 0h0m74 1h0m-79 0h0m-4 0h0m76 1h0m-92 0h0m81 0h0m-73 0h0m-10 1h0m124 0h0m-116 0h0m27 0h0m90 0h0m-118 0h0m13 1h0m5 0h0m90 0h0m57-95h0m-17 3h0m22 10h0m-27 19h0m15 2h0m15 0h0m-6 2h0m-213 119h0m13 6h0m-5 8h0m-9 11h0m7 2h0m-21 2h0m4 3h0m-7 5h0m-3 1h0m9 4h0m-14 4h0m-1 0h0m26 3h0m-29 1h0m30 4h0m-37 0h0m44 1h0m8 0h0m-43 1h0m38 0h0m5 1h0m-34 3h0m30 1h0m-1 4h0m-44 0h0m50 1h0m-14 1h0m-36 1h0m4 1h0m29 0h0m-17 1h0m1 0h0m-3 0h0m-6 2h0m18 0h0m-36 2h0m49 3h0m-20 1h0m-20 0h0m-3 0h0m52 1h0m-13 0h0m6 1h0m-3 5h0m-50 1h0m21 1h0m-2 6h0m-2 1h0m-2 1h0m16 0h0m30 2h0m-54 4h0m16 0h0m12 0h0m-19 2h0m30 4h0m6 0h0m-38 2h0m8 3h0m30 3h0m121-175h0m1 0h0m21 1h0m-93 0h0m5 0h0m-9 0h0m-14 0h0m23 1h0m-4 0h0m65 1h0m-53 0h0m48 1h0m2 0h0m-72 0h0m-8 1h0m23 0h0m82 0h0m-17 0h0m-66 1h0m76 0h0m-84 0h0m2 0h0m7 0h0m-14 0h0m-8 1h0m86 0h0m-68 0h0m80 0h0m-22 0h0m-76 0h0m102 1h0m-95 0h0m70 0h0m-68 1h0m65 0h0m41 1h0m-95 1h0m76 0h0m8 0h0m-90 1h0m-5 0h0m95 1h0m15 1h0m-18 0h0m15 1h0m-101 0h0m-1 0h0m5 1h0m-4 2h0m100 6h0m-133 36h0m-3 6h0m16 8h0m-3 4h0m-14 2h0m24 1h0m-2 2h0m-16 0h0m7 4h0m-9 8h0m15 4h0m-17 4h0m-3 4h0m4 2h0m15 0h0m-2 3h0m8 4h0m1 4h0m-15 3h0m-4 8h0m-6 0h0m154 3h0m-17 2h0m11 0h0m-2 1h0m-18 0h0m9 2h0m-114 1h0m99 2h0m33 0h0m-6 1h0m-9 0h0m9 0h0m-125 0h0m118 2h0m9 1h0m-6 0h0m-129 3h0m134 1h0m-36 2h0m12 0h0m5 2h0m-104 0h0m85 0h0m35 1h0m-135 0h0m126 0h0m15 1h0m-126 1h0m88 1h0m-12 3h0m54 0h0m-47 0h0m26 1h0m13 1h0m1 0h0m4 1h0m-133 1h0m115 0h0m21 1h0m-24 0h0m-4 1h0m19 0h0m-12 1h0m14 0h0m-145 1h0m97 0h0m26 1h0m-5 0h0m16 0h0m-47 0h0m-75 1h0m116 0h0m21 1h0m-33 1h0m-114 0h0m148 1h0m-20 0h0m-9 0h0m-21 1h0m45 0h0m-5 0h0m168-93h0m-4 1h0m-6 2h0m7 2h0m-9 1h0m4 1h0m-23 4h0m32 0h0m-23 1h0m9 0h0m-8 1h0m5 6h0m-3 1h0m15 1h0m-25 0h0m28 1h0m-9 1h0m-23 2h0m11 1h0m12 0h0m-4 1h0m-28 0h0m24 1h0m-19 3h0m35 0h0m-29 0h0m28 1h0m-36 1h0m29 2h0m-23 0h0m3 1h0m10 0h0m4 1h0m4 2h0m8 1h0m-148 9h0m15 2h0m-11 2h0m5 1h0m-13 0h0m3 3h0m16 0h0m-5 1h0m-5 4h0m6 2h0m-6 1h0m2 2h0m-1 7h0m-4 6h0m14 1h0m-1 1h0m-5 1h0m3 2h0m-15 1h0m1 1h0m4 1h0m-4 3h0m199-103h0m6 2h0m-13 0h0m-5 1h0m-5 0h0m20 2h0m-9 1h0m-28 0h0m35 0h0m-12 0h0m16 2h0m-31 0h0m6 0h0m39 0h0m-11 1h0m-13 1h0m-15 1h0m24 2h0m-22 0h0m28 1h0m-38 1h0m28 1h0m-43 1h0m42 2h0m-15 1h0m1 0h0m19 0h0m-35 0h0m43 1h0m-32 0h0m-4 1h0m13 1h0m-22 2h0m33 0h0m-37 0h0m13 0h0m-5 0h0m27 1h0m-24 2h0m6 0h0m-20 0h0m4 2h0m-3 1h0m23 1h0m-14 0h0m-11 3h0m43 1h0m-20 0h0m-4 2h0m16 0h0m-21 0h0m-13 1h0m3 0h0m6 1h0m15 2h0m-25 1h0m9 0h0m23 0h0m-19 2h0m-5 0h0m-7 1h0m18 4h0m3 1h0m-23 0h0m-329 56h0m11 3h0m-31 1h0m-1 0h0m8 4h0m-3 67h0m-14 3h0m28 2h0m-13 4h0m-20 1h0m26 0h0m-33 0h0m38 0h0m-17 1h0m-15 1h0m-12 0h0m20 0h0m-15 1h0m53 0h0m-11 0h0m-24 1h0m-10 0h0m-13 3h0m-2 1h0m6 0h0m37 3h0m17 0h0m-27 1h0m-4 0h0m-26 1h0m0 1h0m34 1h0m-19 1h0m13 2h0m19 0h0m-27 0h0m-17 0h0m29 0h0m12 0h0m-8 0h0m-11 1h0m-13 1h0m16 1h0m25 0h0m-35 2h0m34 0h0m-47 0h0m35 8h0m-20 0h0m26 1h0m-26 0h0m4 1h0m-3 3h0m10 0h0m-20 2h0m42 1h0m-24 1h0m8 2h0m-18 1h0m31 1h0m-11 1h0m7 2h0m-12 0h0m-7 1h0m-6 1h0m13 3h0m-20 0h0m-1 1h0m28 3h0m-5 1h0m-16 1h0m28 0h0m-5 0h0m13 1h0m-33 0h0m4 1h0m26 0h0m-6 1h0m-9 1h0m153-147h0m-10 1h0m-24 0h0m-3 0h0m21 1h0m5 0h0m12 1h0m-25 1h0m32 1h0m-26 0h0m-10 1h0m27 0h0m13 0h0m-23 2h0m15 1h0m-7 2h0m-113 1h0m95 3h0m-103 2h0m-8 76h0m10 2h0m-4 2h0m12 0h0m-16 5h0m14 1h0m-5 2h0m4 0h0m6 2h0m-7 4h0m-8 2h0m16 3h0m-6 1h0m-14 1h0m22 1h0m-16 0h0m8 4h0m-12 2h0m18 0h0m1 6h0m-5 3h0m-15 0h0m141 3h0m-125 1h0m134 1h0m-152 1h0m19 0h0m-13 2h0m135 1h0m1 1h0m-13 0h0m18 0h0m-25 0h0m31 1h0m-18 3h0m-18 2h0m14 0h0m19 0h0m3 1h0m-40 1h0m-10 0h0m20 0h0m10 1h0m-14 0h0m-14 0h0m31 1h0m11 0h0m-28 1h0m-14 0h0m43 0h0m-131 0h0m86 2h0m7 0h0m-9 0h0m3 1h0m-8 0h0m58 0h0m-18 1h0m7 1h0m-35 1h0m18 0h0m4 2h0m22 0h0m-31 0h0m-3 1h0m20 0h0m-28 1h0m39 1h0m-51 0h0m24 2h0m27 0h0m-45 1h0m38 2h0m-35 0h0m43 0h0m0 1h0m-40 0h0m7 1h0m24 0h0m1 0h0m-19 1h0m0 0h0m11 1h0m144-107h0m-4 0h0m1 2h0m-10 0h0m1 2h0m8 1h0m-10 0h0m0 1h0m17 0h0m-13 1h0m20 0h0m-26 1h0m11 0h0m-8 1h0m17 1h0m-22 1h0m7 1h0m-8 0h0m19 0h0m-12 0h0m13 1h0m-6 1h0m-12 0h0m25 3h0m-29 0h0m17 0h0m11 1h0m-6 0h0m-9 0h0m-8 2h0m11 2h0m14 0h0m-17 1h0m8 0h0m-8 0h0m17 0h0m-13 0h0m3 1h0m-4 0h0m13 0h0m1 2h0m-14 0h0m-7 0h0m-7 1h0m13 0h0m7 0h0m-23 0h0m24 1h0m-3 0h0m-5 2h0m-11 0h0m0 0h0m19 1h0m-11 0h0m19 1h0m-9 0h0m-2 0h0m-18 0h0m1 1h0m3 0h0m16 0h0m-16 1h0m24 0h0m-25 0h0m-6 0h0m9 0h0m20 1h0m-14 0h0m0 1h0m-5 0h0m3 0h0m-6 1h0m9 1h0m-8 0h0m4 0h0m18 0h0m-19 0h0m-10 0h0m23 1h0m9 1h0m-20 0h0m11 0h0m3 1h0m4 0h0m-26 0h0m17 0h0m-21 1h0m8 1h0m15 1h0m-20 0h0m20 1h0m-23 0h0m16 0h0m12 0h0m-3 1h0m2 1h0m-19 1h0m1 0h0m17 0h0m-16 0h0m20 1h0m-17 1h0m11 0h0m-14 0h0m-3 2h0m19 1h0m-3 0h0m-18 0h0m-100 25h0m-6 4h0m13 1h0m-3 1h0m-7 2h0m9 1h0m-9 2h0m7 0h0m-1 1h0m-3 2h0m3 4h0m0 0h0m-8 6h0m310-95h0m-1 0h0m-9 17h0m8 4h0m-14 1h0m3 4h0m2 1h0m6 4h0m6 0h0m-24 1h0m14 10h0m2 4h0m-9 4h0m13 0h0m-10 3h0m10 0h0m-9 2h0m-14 5h0m16 3h0m10 2h0m-15 3h0m16 12h0m-5 6h0m-13 4h0m8 3h0m5 1h0m9 6h0m38-100h0m-21 0h0m4 1h0m-5 3h0m-2 2h0m33 5h0m-45 2h0m25 0h0m24 7h0m-20 4h0m16 4h0m-2 3h0m-10 3h0m-4 1h0m28 2h0m-40 0h0m10 2h0m21 1h0m-45 1h0m7 2h0m-7 0h0m16 1h0m10 2h0m-7 2h0m16 2h0m-23 1h0m13 0h0m10 1h0m-40 1h0m5 0h0m4 1h0m44 1h0m-29 2h0m9 1h0m-10 1h0m14 1h0m-26 0h0m41 3h0m-21 2h0m15 3h0m-31 0h0m32 1h0m-32 2h0m13 0h0m-26 3h0m9 1h0m13 3h0m21 0h0m-28 0h0m33 1h0m-36 3h0m9 3h0m7 0h0m-10 1h0m15 2h0m9 1h0m-43 0h0m6 1h0m11 2h0m17 3h0m-15 4h0m-541 72h0m-3 1h0m-5 1h0m7 0h0m-4 1h0m-3 1h0m9 0h0m-1 1h0m-7 0h0m-2 2h0m5 0h0m-9 1h0m8 3h0m1 0h0m1 1h0m2 1h0m-7 0h0m3 1h0m-6 0h0m12 0h0m-12 1h0m3 0h0m7 1h0m1 0h0m2 0h0m-15 1h0m16 0h0m1 0h0m-10 0h0m-3 1h0m5 1h0m-6 0h0m9 0h0m-9 1h0m13 0h0m0 1h0m-11 0h0m10 1h0m-10 0h0m-2 1h0m1 0h0m-3 1h0m10 1h0m-2 0h0m-1 0h0m-5 0h0m-1 1h0m10 0h0m-4 0h0m-3 2h0m11 0h0m-9 1h0m-3 0h0m3 1h0m-3 1h0m9 2h0m-12 0h0m6 1h0m3 0h0m-4 1h0m6 1h0m-8 1h0m4 0h0m1 2h0m-4 3h0m205-111h0m-41 2h0m26 0h0m-28 0h0m16 1h0m-11 3h0m35 1h0m-31 0h0m24 0h0m-21 1h0m6 0h0m-6 0h0m29 1h0m-22 1h0m16 0h0m-21 0h0m10 2h0m5 0h0m5 1h0m-10 62h0m9 2h0m-25 3h0m32 0h0m-24 1h0m10 2h0m3 1h0m4 4h0m-8 0h0m-25 1h0m13 0h0m-15 3h0m7 1h0m19 1h0m-11 0h0m6 2h0m-19 0h0m4 1h0m17 3h0m-22 1h0m17 0h0m26 1h0m-28 1h0m18 1h0m9 4h0m-12 0h0m-34 0h0m28 0h0m10 0h0m-15 1h0m17 1h0m-27 4h0m-9 0h0m-1 1h0m36 0h0m10 0h0m-28 0h0m18 1h0m-39 4h0m31 2h0m-26 1h0m7 1h0m5 0h0m22 1h0m8 1h0m-7 0h0m-1 1h0m-7 1h0m-9 0h0m-7 1h0m-14 1h0m22 1h0m11 1h0m-14 2h0m26 0h0m-37 2h0m33 0h0m-30 0h0m-9 1h0m14 1h0m10 1h0m-4 0h0m8 0h0m7 0h0m-15 3h0m-11 1h0m-2 0h0m33 2h0m-22 1h0m-2 0h0m-12 0h0m-1 0h0m7 3h0m26 1h0m-27 0h0m30 1h0m-10 0h0m-21 1h0m-8 0h0m27 1h0m-10 0h0m3 0h0m-18 0h0m7 3h0m13 2h0m8 0h0m-24 2h0m12 1h0m13 3h0m8 2h0m-20 0h0m20 1h0m-2 5h0m18-171h0m-3 2h0m0 6h0m152 59h0m1 5h0m3 3h0m-12 3h0m4 0h0m-10 2h0m8 4h0m3 4h0m-22 2h0m13 0h0m-3 1h0m-18 1h0m20 2h0m-17 4h0m5 1h0m11 0h0m18 2h0m-15 0h0m5 1h0m-24 1h0m32 1h0m-19 1h0m-10 4h0m31 0h0m-27 1h0m16 0h0m-20 1h0m8 2h0m13 0h0m-23 2h0m3 4h0m15 1h0m17 2h0m-28 1h0m22 2h0m-3 1h0m27-62h0m-2 0h0m14 1h0m-26 1h0m23 0h0m-16 0h0m27 1h0m15 0h0m-14 2h0m-5 2h0m7 1h0m-37 1h0m19 0h0m36 1h0m6 0h0m-57 1h0m17 0h0m31 1h0m5 0h0m3 1h0m-64 1h0m51 0h0m-6 0h0m-25 0h0m-9 1h0m52 0h0m-63 1h0m15 0h0m20 1h0m-9 1h0m-7 0h0m19 2h0m8 0h0m-34 1h0m30 0h0m10 2h0m-35 3h0m-9 0h0m25 0h0m4 3h0m-33 2h0m7 1h0m37 0h0m-23 0h0m23 1h0m-30 2h0m1 0h0m-10 0h0m22 1h0m-7 3h0m-17 0h0m5 2h0m-6 0h0m33 3h0m-30 5h0m12 0h0m9 1h0m-13 1h0m22 0h0m1 4h0m-39 4h0m196-126h0m-38 1h0m33 0h0m11 0h0m-14 4h0m-18 1h0m32 122h0m2 0h0m-4 3h0m10 1h0m-2 1h0m-10 0h0m-3 0h0m3 2h0m4 0h0m7 0h0m-15 1h0m15 0h0m-12 0h0m-2 0h0m-3 1h0m14 0h0m-14 1h0m10 1h0m-8 0h0m9 0h0m0 2h0m1 2h0m-14 0h0m6 1h0m0 1h0m14 1h0m-15 0h0m0 1h0m18 0h0m-12 1h0m11 0h0m1 2h0m1 0h0m2 0h0m-3 1h0m-4 0h0m-5 1h0m-15 0h0m10 0h0m3 1h0m-2 1h0m-7 0h0m3 1h0m18 0h0m-22 0h0m7 1h0m-1 0h0m-2 2h0m17 0h0m1 3h0m-9 0h0m0 0h0m12 1h0m-6 1h0m-3 0h0m-1 0h0m2 1h0m-9 0h0m-6 0h0m15 1h0m-16 0h0m24 0h0m-21 1h0m16 1h0m-1 0h0m-18 1h0m23 0h0m0 1h0m-16 0h0m1 1h0m2 2h0m3 0h0m-15 2h0m-1 1h0m174-108h0m-1 4h0m0 0h0m1 1h0m0 1h0m0 1h0m0 1h0m8 0h0m-9 1h0m0 0h0m7 1h0m-4 0h0m-3 0h0m8 1h0m-1 2h0m-10 1h0m2 2h0m11 1h0m-7 2h0m6 0h0m-1 0h0m1 0h0m-7 1h0m0 1h0m-4 0h0m2 2h0m11 1h0m1 1h0m-10 0h0m-8 0h0m8 0h0m6 1h0m-10 1h0m-1 1h0m-1 0h0m12 1h0m-6 2h0m-7 0h0m8 0h0m-6 1h0m5 0h0m8 0h0m-1 1h0m-1 1h0m-5 3h0m-6 0h0m13 0h0m-9 0h0m9 1h0m-8 2h0m-1 0h0m-2 0h0m0 1h0m5 2h0m3 3h0m-1 0h0m4 0h0m-16 2h0m0 1h0m-1 0h0m1 1h0m15 0h0m-14 1h0m15 0h0m-11 0h0m4 1h0m8 2h0m-16 0h0m15 0h0m-12 0h0m13 2h0m-7 2h0m3 2h0m-3 0h0m6 0h0m-13 1h0m1 1h0m6 2h0m-4 0h0m3 1h0m-7 1h0m13 3h0m-9 1h0m8 0h0m-5 1h0m-7 0h0m8 2h0m2 1h0m-7 1h0m6 1h0m-6 0h0m3 0h0m-5 0h0m7 1h0m-6 1h0m-716 98h0m1 1h0m-2 4h0m-5 1h0m12 3h0m-10 3h0m-8 2h0m15 2h0m-4 3h0m8 0h0m-20 0h0m30 3h0m-11 0h0m-3 2h0m-2 1h0m-13 1h0m23 1h0m5 1h0m1 0h0m-22 1h0m-5 1h0m24 1h0m-29 0h0m37 1h0m-19 0h0m-5 1h0m4 1h0m-20 2h0m21 1h0m-18 1h0m34 1h0m-37 4h0m26 0h0m-20 0h0m-5 2h0m30 1h0m-17 0h0m-13 2h0m3 1h0m6 1h0m22 1h0m-7 0h0m11 1h0m-23 0h0m7 4h0m7 0h0m-26 0h0m12 1h0m19 2h0m-7 1h0m-15 0h0m10 2h0m7 1h0m-13 1h0m-12 1h0m5 2h0m26 2h0m2 1h0m-10 0h0m-17 1h0m-8 2h0m18 2h0m3 0h0m-14 1h0m23 0h0m1 1h0m-20 3h0m-13 1h0m25 1h0m-23 0h0m-1 0h0m11 1h0m-2 1h0m11 0h0m8 2h0m-23 3h0m1 2h0m10 0h0m-14 2h0m7 3h0m22 0h0m-34 1h0m8 1h0m22 2h0m-17 2h0m19 3h0m-26 1h0m-1 1h0m24 1h0m-22 0h0m182-173h0m14 0h0m-8 1h0m9 4h0m2 3h0m11 108h0m119-43h0m15 0h0m-108 1h0m-2 0h0m115 0h0m-23 0h0m-4 0h0m2 1h0m1 0h0m20 0h0m-106 0h0m-3 0h0m111 0h0m-19 1h0m5 0h0m18 1h0m-17 1h0m1 0h0m-79 0h0m-9 0h0m107 0h0m-90 1h0m-27 0h0m80 0h0m32 0h0m-31 1h0m32 0h0m3 0h0m-103 1h0m10 0h0m76 0h0m7 1h0m-118 0h0m-3 0h0m90 0h0m-82 0h0m-8 1h0m90 0h0m21 0h0m-12 0h0m8 0h0m-92 1h0m19 0h0m94 0h0m-14 0h0m-2 0h0m-96 0h0m81 1h0m-73 1h0m83 0h0m-8 0h0m1 1h0m-10 0h0m-43 0h0m59 0h0m-89 1h0m99 0h0m-117 0h0m58 0h0m-13 1h0m-9 0h0m91 0h0m0 1h0m-31 0h0m-42 1h0m34 0h0m34 0h0m-14 0h0m5 1h0m8 0h0m-123 0h0m23 0h0m35 0h0m-3 0h0m-44 1h0m-12 0h0m113 0h0m-12 0h0m2 0h0m0 0h0m-70 0h0m-24 1h0m111 0h0m7 0h0m-112 0h0m116 1h0m-102 0h0m24 0h0m-23 0h0m104 0h0m-125 0h0m118 1h0m-106 0h0m103 0h0m-6 0h0m-81 0h0m75 0h0m-117 0h0m96 0h0m4 1h0m23 1h0m-70 0h0m8 0h0m3 0h0m-17 0h0m-39 1h0m97 0h0m13 0h0m-25 0h0m-37 0h0m78 0h0m-28 1h0m-80 0h0m11 0h0m82 0h0m-76 0h0m-14 1h0m105 0h0m-24 0h0m-106 0h0m87 0h0m-73 0h0m6 1h0m81 0h0m12 0h0m-78 0h0m72 0h0m-13 0h0m17 0h0m-105 0h0m-6 1h0m118 0h0m-86 1h0m28 0h0m-49 0h0m40 0h0m68 0h0m-27 0h0m20 1h0m-55 0h0m44 0h0m-13 0h0m24 1h0m-4 0h0m20 0h0m-104 0h0m1 0h0m104 1h0m-37 0h0m-83 0h0m119 0h0m-4 0h0m-92 0h0m19 0h0m-38 0h0m43 0h0m39 1h0m8 0h0m-58 0h0m-42 0h0m100 0h0m-107 1h0m120 0h0m-98 0h0m30 1h0m44 0h0m-85 1h0m-6 0h0m14 0h0m30 1h0m-9 0h0m68 0h0m-95 0h0m6 0h0m94 0h0m-86 1h0m31 0h0m-18 1h0m96 0h0m-93 0h0m8 2h0m-19 0h0m2 0h0m-27 0h0m-3 1h0m46 0h0m-31 0h0m28 1h0m-24 0h0m-16 0h0m5 0h0m14 2h0m-2 0h0m-17 1h0m133 0h0m-99 1h0m114 0h0m-145 0h0m3 0h0m8 1h0m-7 0h0m18 0h0m27 1h0m-46 0h0m16 0h0m0 0h0m14 1h0m-29 0h0m11 1h0m-5 0h0m7 1h0m25 1h0m-20 0h0m6 2h0m7 1h0m-2 1h0m116-6h0m2 5h0m0 5h0m198-137h0m13 0h0m-13 0h0m6 1h0m-11 1h0m16 0h0m-11 1h0m-9 1h0m-3 1h0m17 0h0m-10 2h0m9 0h0m-5 2h0m0 0h0m1 1h0m4 1h0m-8 2h0m-1 0h0m8 0h0m-8 0h0m69 58h0m7 2h0m-2 2h0m2 0h0m-9 4h0m13 0h0m1 1h0m-6 0h0m-4 0h0m1 2h0m5 1h0m-2 0h0m-12 0h0m13 0h0m0 1h0m-14 0h0m10 1h0m9 0h0m-4 1h0m-11 0h0m-1 1h0m11 0h0m-7 0h0m13 1h0m-16 0h0m6 2h0m2 0h0m-5 1h0m14 0h0m-7 1h0m-14 0h0m3 1h0m1 0h0m17 1h0m-14 0h0m1 1h0m0 0h0m-7 1h0m20 0h0m-8 1h0m1 0h0m2 0h0m-1 1h0m3 0h0m-1 0h0m-5 1h0m9 0h0m-7 0h0m-8 0h0m6 1h0m-5 1h0m-5 0h0m11 1h0m-1 0h0m-4 0h0m-2 1h0m16 0h0m-2 1h0m-10 0h0m6 1h0m-7 0h0m7 0h0m-1 1h0m7 0h0m-11 1h0m-2 0h0m2 0h0m-10 3h0m18 0h0m-6 1h0m-11 0h0m5 0h0m12 1h0m-5 0h0m-14 0h0m17 0h0m0 1h0m-16 2h0m3 0h0m12 0h0m-3 2h0m-4 1h0m6 0h0m-1 1h0m1 0h0m-10 1h0m1 0h0m3 1h0m2 3h0m4 1h0m-87 11h0m-9 4h0m15 0h0m-21 2h0m35 0h0m-11 0h0m6 0h0m-32 1h0m13 1h0m19 1h0m-40 0h0m25 1h0m26 0h0m-7 0h0m-26 0h0m16 2h0m-1 0h0m2 1h0m-30 1h0m4 2h0m3 0h0m-4 0h0m16 1h0m-22 0h0m27 0h0m19 0h0m-26 1h0m34 0h0m-50 0h0m9 0h0m38 0h0m-43 1h0m8 1h0m25 0h0m-15 0h0m-8 0h0m-16 0h0m7 0h0m-11 1h0m0 0h0m25 0h0m5 1h0m-9 0h0m-2 1h0m-17 1h0m35 0h0m7 0h0m-14 0h0m-8 0h0m18 0h0m-3 1h0m-35 0h0m4 1h0m-3 1h0m29 1h0m17 0h0m9 0h0m-19 1h0m-25 0h0m29 0h0m4 0h0m-16 0h0m27 1h0m-49 0h0m-6 0h0m3 0h0m39 1h0m-4 0h0m-6 0h0m-27 1h0m6 1h0m6 0h0m7 0h0m15 1h0m-26 0h0m-14 2h0m10 0h0m38 0h0m-31 1h0m32 0h0m-18 1h0m-24 0h0m27 0h0m18 0h0m211-111h0m-1 4h0m0 1h0m16 1h0m-1 3h0m6 3h0m-27 0h0m8 0h0m19 2h0m-5 2h0m-23 1h0m8 2h0m28 0h0m-16 1h0m-1 0h0m-16 1h0m20 0h0m2 1h0m11 0h0m-28 1h0m-10 0h0m6 0h0m35 2h0m-37 0h0m18 1h0m21 1h0m-38 0h0m8 0h0m20 0h0m-11 1h0m23 0h0m-27 0h0m12 1h0m6 0h0m-29 2h0m27 0h0m17 1h0m-30 1h0m1 0h0m22 1h0m2 0h0m-45 0h0m41 0h0m-26 1h0m4 0h0m15 1h0m-5 1h0m11 2h0m-37 0h0m29 1h0m-7 0h0m25 1h0m-50 1h0m27 2h0m5 0h0m11 1h0m7 0h0m-14 1h0m-37 0h0m42 1h0m-28 1h0m0 0h0m19 2h0m-27 0h0m15 0h0m19 2h0m11 0h0m-20 1h0m-5 0h0m-13 0h0m28 3h0m-49 0h0m31 1h0m15 0h0m-21 1h0m-7 0h0m40 0h0m-21 1h0m-15 1h0m36 1h0m-17 0h0m-27 0h0m12 1h0m-21 0h0m15 1h0m13 1h0m29 0h0m-24 0h0m17 0h0m-12 3h0m0 0h0m-31 1h0m5 0h0m-10 0h0m49 1h0m-25 1h0m7 0h0m18 1h0m-40 0h0m37 0h0m-45 4h0m11 1h0m20 0h0m-11 0h0m-1 0h0m0 1h0m22 0h0m-12 0h0m-4 2h0m-4 0h0m6 2h0m-15 1h0m23 0h0m-11 4h0m-5 0h0m-778 30h0m-9 1h0m6 2h0m24 120h0m1 5h0m-6 7h0m126-77h0m-3 2h0m0 4h0m-3 3h0m9 1h0m-7 1h0m-72 4h0m17 1h0m-13 1h0m76 0h0m-66 0h0m-2 3h0m15 0h0m-37 0h0m82 1h0m-53 1h0m54 0h0m11 0h0m-100 0h0m16 1h0m-14 0h0m28 2h0m5 0h0m-26 1h0m13 0h0m79 1h0m-109 2h0m34 0h0m-15 0h0m101 1h0m-14 1h0m-70 1h0m-18 0h0m9 0h0m84 0h0m-69 0h0m-15 0h0m92 0h0m-105 2h0m-16 1h0m94 0h0m-50 0h0m9 1h0m58 0h0m-96 0h0m19 0h0m80 0h0m-80 1h0m-12 1h0m-17 0h0m35 0h0m-20 0h0m-19 1h0m96 1h0m-82 1h0m16 0h0m98 0h0m-14 0h0m0 1h0m-6 0h0m-103 0h0m100 0h0m-73 0h0m16 0h0m-2 1h0m-47 0h0m121 1h0m-86 0h0m-23 0h0m89 0h0m-95 0h0m13 0h0m-22 0h0m33 1h0m10 0h0m-10 0h0m-19 1h0m-10 0h0m-6 1h0m49 0h0m-51 0h0m34 1h0m-25 0h0m20 0h0m68 0h0m0 1h0m-55 0h0m-5 0h0m10 0h0m66 0h0m-97 0h0m119 2h0m-104 0h0m-4 0h0m-6 2h0m36 0h0m-8 0h0m6 0h0m-33 2h0m84 0h0m18 0h0m-73 2h0m-23 0h0m79 1h0m-107 0h0m7 1h0m40 0h0m-33 0h0m83 1h0m34 0h0m-108 0h0m-16 0h0m115 0h0m-10 0h0m-83 0h0m102 1h0m-10 0h0m-125 0h0m106 0h0m-9 0h0m-88 1h0m-10 0h0m16 0h0m109 0h0m-122 1h0m40 0h0m70 1h0m-88 0h0m104 2h0m-104 1h0m79 1h0m-100 0h0m106 0h0m1 1h0m23 0h0m-101 0h0m-34 0h0m128 0h0m-121 1h0m18 0h0m4 1h0m-3 0h0m-8 0h0m-3 2h0m92 0h0m-9 1h0m-69 0h0m80 1h0m-103 0h0m103 0h0m-86 1h0m91 0h0m2 2h0m11 0h0m-119 1h0m13 0h0m85 1h0m24 0h0m-31 1h0m3 1h0m20 0h0m5 1h0m-9 1h0m-106 1h0m123 1h0m2 0h0m-126 0h0m100 2h0m-11 1h0m27 0h0m12 1h0m-15 2h0m-18 3h0m3 3h0m16 1h0m1 2h0m6 1h0m-16 0h0m-14 3h0m3 3h0m16 1h0m-3 0h0m19 1h0m-31 1h0m5 2h0m22 0h0m329-90h0m-9 5h0m12 7h0m-19 6h0m10 0h0m9 1h0m-23 1h0m-12 2h0m-2 3h0m33 0h0m-20 0h0m9 0h0m14 2h0m-12 0h0m-8 1h0m-3 0h0m-5 1h0m-14 0h0m38 2h0m-36 0h0m34 1h0m-7 2h0m-31 1h0m46 1h0m-31 1h0m9 0h0m1 0h0m-11 2h0m34 5h0m4 2h0m-48 1h0m-7 0h0m36 3h0m4 0h0m-24 1h0m4 1h0m10 2h0m-18 0h0m21 1h0m18 1h0m-11 0h0m-99 0h0m97 0h0m-102 1h0m7 0h0m71 0h0m-6 1h0m-73 1h0m1 1h0m60 0h0m-58 1h0m0 0h0m95 0h0m-21 0h0m-70 1h0m-9 0h0m0 0h0m11 1h0m110 0h0m-119 1h0m12 0h0m-17 1h0m116 1h0m-121 0h0m-1 0h0m-9 1h0m126 0h0m-13 0h0m-112 1h0m29 0h0m-26 0h0m24 0h0m-32 1h0m5 0h0m90 0h0m24 0h0m-87 2h0m-17 0h0m125 0h0m-104 1h0m-36 0h0m101 1h0m-88 0h0m25 0h0m-3 0h0m-33 0h0m122 1h0m8 0h0m-122 1h0m104 0h0m-81 0h0m8 1h0m-21 0h0m116 0h0m-124 0h0m28 0h0m-32 0h0m82 1h0m32 0h0m-79 0h0m1 1h0m50 0h0m-88 1h0m-5 0h0m17 0h0m79 0h0m-73 1h0m-16 0h0m133 1h0m-119 1h0m98 0h0m-75 1h0m-36 0h0m30 0h0m-6 0h0m-31 0h0m33 0h0m-28 0h0m20 1h0m11 0h0m-2 0h0m-27 1h0m21 0h0m8 0h0m-15 1h0m5 0h0m-9 1h0m4 0h0m-16 0h0m10 2h0m24 0h0m-3 0h0m-1 0h0m-4 0h0m-30 1h0m2 0h0m165-174h0m-12 0h0m-6 1h0m20 0h0m8 0h0m12 1h0m-17 1h0m-10 1h0m7 0h0m-12 0h0m9 1h0m14 0h0m-19 0h0m28 1h0m-3 0h0m8 0h0m-16 2h0m14 1h0m-23 1h0m-21 73h0m3 18h0m10 3h0m-11 1h0m8 4h0m-7 0h0m-6 1h0m6 0h0m9 1h0m-13 2h0m7 2h0m7 3h0m132 3h0m-141 1h0m-5 0h0m-3 1h0m17 0h0m124 1h0m-126 0h0m131 1h0m8 1h0m-24 4h0m-6 1h0m11 0h0m-119 1h0m-4 1h0m111 1h0m18 0h0m-17 0h0m-106 2h0m108 1h0m5 0h0m10 0h0m-7 0h0m-20 3h0m12 0h0m22 0h0m2 1h0m-138 4h0m106 1h0m13 1h0m-26 0h0m-104 0h0m3 2h0m109 0h0m-93 0h0m98 0h0m-121 1h0m9 0h0m2 1h0m4 0h0m142 1h0m-34 1h0m-102 1h0m12 1h0m87 2h0m19 0h0m-29 0h0m-95 0h0m3 0h0m132 1h0m-142 0h0m127 0h0m-11 0h0m22 0h0m-30 0h0m-4 2h0m14 0h0m30 2h0m-152 1h0m17 1h0m127 0h0m7 1h0m-40 0h0m-104 2h0m-4 1h0m8 0h0m136 1h0m-3 2h0m-143 1h0m124 0h0m26 1h0m-18 1h0m30-55h0m-5 4h0m9 1h0m15 2h0m-14 1h0m11 2h0m9 2h0m-21 2h0m22 1h0m-14 5h0m22 2h0m-25 1h0m-13 0h0m7 0h0m19 1h0m12 4h0m12 0h0m-49 0h0m22 0h0m-19 1h0m41 2h0m10 2h0m-58 0h0m15 0h0m12 1h0m21 1h0m-24 0h0m-21 1h0m43 1h0m-8 0h0m-31 1h0m16 3h0m19 1h0m20 0h0m-50 3h0m34 0h0m-16 0h0m-17 1h0m-3 3h0m33 0h0m11 2h0m-33 2h0m16 1h0m-19 0h0m21 1h0m-18 1h0m247-74h0m4 0h0m-70 0h0m68 1h0m-7 0h0m-1 1h0m-58 0h0m62 2h0m-63 1h0m71 1h0m-10 0h0m-67 1h0m-1 1h0m73 0h0m-74 1h0m74 0h0m-6 1h0m5 1h0m-67 1h0m72 1h0m-2 1h0m-3 0h0m1 1h0m-11 0h0m7 0h0m-71 0h0m13 0h0m56 0h0m-55 1h0m63 0h0m3 1h0m-7 0h0m-59 1h0m55 1h0m-67 0h0m62 0h0m6 0h0m-1 0h0m3 0h0m-9 1h0m-59 0h0m66 0h0m-64 0h0m69 1h0m-60 0h0m51 0h0m2 1h0m-62 0h0m67 1h0m-68 0h0m58 1h0m-65 0h0m14 1h0m-1 1h0m62 0h0m-56 0h0m0 1h0m-22 0h0m20 0h0m-17 1h0m73 0h0m-5 0h0m-51 1h0m-12 0h0m64 1h0m-63 0h0m63 2h0m13 0h0m-12 0h0m3 1h0m-73 0h0m0 0h0m6 1h0m-1 0h0m4 1h0m66 0h0m-66 0h0m61 0h0m-62 0h0m67 1h0m3 0h0m5 0h0m0 0h0m-63 1h0m-5 0h0m-4 1h0m-1 1h0m-12 0h0m66 0h0m16 1h0m-1 1h0m-70 0h0m76 0h0m-77 0h0m2 0h0m73 1h0m2 0h0m-9 0h0m-72 1h0m1 0h0m-5 1h0m80 0h0m1 0h0m-68 0h0m-2 1h0m9 0h0m-19 0h0m75 1h0m-5 1h0m11 1h0m-65 0h0m-14 1h0m6 0h0m-4 1h0m13 0h0m66 0h0m-67 0h0m-9 1h0m7 0h0m65 1h0m-81 0h0m2 0h0m-1 1h0m80 0h0m-67 0h0m-4 0h0m8 0h0m46 0h0m-53 0h0m72 1h0m-6 0h0m-66 0h0m-4 0h0m76 0h0m-6 1h0m-13 1h0m-43 0h0m52 0h0m6 0h0m-74 0h0m72 1h0m-71 0h0m62 0h0m11 0h0m-59 1h0m53 1h0m-73 0h0m73 0h0m-52 0h0m-3 1h0m60 0h0m8 0h0m-18 1h0m-3 0h0m2 1h0m-56 0h0m59 0h0m7 1h0m-5 1h0m0 1h0m-1 0h0m-55 0h0m-2 0h0m-6 1h0m-3 0h0m78 0h0m-8 1h0m2 0h0m-56 1h0m50 0h0m5 0h0m-4 1h0m-70 1h0m10 0h0m59 0h0m-58 0h0m-4 1h0m8 0h0m55 1h0m3 0h0m6 0h0m-73 1h0m60 0h0m3 0h0m-62 0h0m68 1h0m2 0h0m-954 136h0m-1 1h0m0 0h0m3 2h0m-1 0h0m3 1h0m-5 0h0m-1 1h0m5 1h0m-2 0h0m4 0h0m-7 1h0m-6 0h0m5 1h0m10 1h0m-12 0h0m12 1h0m-9 0h0m4 3h0m5 1h0m-8 2h0m2 0h0m-6 0h0m-1 1h0m9 0h0m4 0h0m-15 0h0m-2 0h0m1 1h0m1 1h0m7 0h0m-7 1h0m7 1h0m-1 0h0m-3 0h0m15 1h0m-18 4h0m12 2h0m-4 0h0m-1 0h0m-7 2h0m-2 0h0m12 0h0m8 1h0m0 0h0m-13 0h0m2 1h0m1 0h0m-3 1h0m10 0h0m-2 0h0m-3 0h0m-7 0h0m2 1h0m5 0h0m-8 1h0m4 0h0m1 0h0m8 0h0m2 1h0m-10 0h0m1 1h0m-7 0h0m10 0h0m2 0h0m-2 0h0m-8 1h0m4 0h0m2 0h0m-9 0h0m10 2h0m1 0h0m166-171h0m0 61h0m-1 7h0m-2 0h0m0 2h0m1 3h0m6 1h0m-15 1h0m2 3h0m7 0h0m-6 2h0m12 1h0m-3 2h0m-5 2h0m-8 0h0m6 1h0m6 1h0m-3 1h0m-1 0h0m7 1h0m-9 0h0m11 1h0m-8 3h0m-8 0h0m-6 0h0m20 1h0m3 1h0m-20 0h0m-1 1h0m8 0h0m1 2h0m7 3h0m-21 0h0m0 1h0m27 1h0m-15 2h0m-4 2h0m-5 0h0m-1 0h0m6 1h0m19 0h0m1 0h0m-19 0h0m21 1h0m-13 0h0m14 2h0m-11 0h0m9 1h0m-17 1h0m13 0h0m-11 1h0m6 0h0m-11 1h0m0 0h0m-8 0h0m26 1h0m-25 1h0m3 0h0m0 1h0m26 1h0m-30 1h0m4 1h0m12 0h0m11 0h0m-27 2h0m0 1h0m19 0h0m-4 0h0m14 0h0m-6 0h0m-1 1h0m-6 2h0m16 0h0m-8 1h0m-16 0h0m9 0h0m2 1h0m-16 1h0m10 0h0m-11 1h0m26 2h0m0 1h0m-13 0h0m3 1h0m10 0h0m-19 0h0m2 1h0m11 0h0m-21 1h0m26 2h0m-15 0h0m3 0h0m14 1h0m-27 1h0m18 0h0m-3 1h0m1 1h0m-13 0h0m8 0h0m18 1h0m-12 1h0m-7 0h0m-9 2h0m26 1h0m-5 1h0m-12 1h0m8 0h0m13 1h0m-2 2h0m-19 0h0m6 1h0m-12 0h0m13 0h0m-6 0h0m-2 2h0m8 2h0m9 1h0m-4 0h0m8 1h0m-2 0h0m-27 1h0m19 2h0m5 1h0m-17 1h0m-3 1h0m9 0h0m-3 3h0m-5 0h0m19 0h0m-7 1h0m8 1h0m221-176h0m-9 1h0m-1 0h0m2 0h0m123 0h0m-107 0h0m73 1h0m-87 0h0m-6 1h0m-3 1h0m3 0h0m131 0h0m-131 1h0m108 0h0m-103 1h0m3 0h0m17 0h0m-24 0h0m28 0h0m102 0h0m-32 1h0m-89 0h0m16 0h0m-19 0h0m12 1h0m99 0h0m-85 0h0m-10 0h0m-17 0h0m92 1h0m37 0h0m-130 0h0m4 0h0m104 1h0m-77 0h0m-9 0h0m-22 1h0m97 1h0m-76 0h0m-1 0h0m97 0h0m-91 0h0m-31 0h0m8 1h0m99 0h0m-105 1h0m133 1h0m-4 0h0m-9 6h0m-7 5h0m-103 43h0m9 0h0m0 1h0m-10 1h0m10 0h0m4 0h0m65 0h0m-66 2h0m66 0h0m-76 1h0m2 1h0m75 0h0m-84 0h0m10 0h0m11 0h0m-19 0h0m3 0h0m73 0h0m-73 0h0m83 1h0m2 0h0m-84 0h0m13 0h0m-12 0h0m1 0h0m17 1h0m-15 0h0m2 0h0m81 1h0m-70 0h0m-2 0h0m2 0h0m1 0h0m-7 0h0m69 0h0m-2 1h0m-70 0h0m74 0h0m-63 0h0m-15 0h0m63 0h0m-59 0h0m63 1h0m-56 0h0m-18 0h0m74 1h0m-2 0h0m-64 0h0m-5 0h0m-4 0h0m87 1h0m0 0h0m-77 0h0m66 0h0m-53 1h0m59 0h0m-71 0h0m4 0h0m1 1h0m69 0h0m-84 0h0m5 0h0m-7 1h0m76 0h0m-59 0h0m56 1h0m-46 0h0m0 0h0m-11 0h0m3 0h0m76 0h0m-89 0h0m-4 0h0m24 0h0m-22 1h0m12 0h0m-1 0h0m-19 1h0m81 0h0m-61 0h0m11 0h0m-4 0h0m70 0h0m-87 0h0m87 1h0m-74 0h0m-14 0h0m-1 0h0m20 0h0m-6 1h0m-5 0h0m-15 0h0m79 0h0m-58 1h0m-7 0h0m66 0h0m-74 0h0m24 0h0m-6 0h0m-12 0h0m9 1h0m0 0h0m8 0h0m49 0h0m2 0h0m-68 0h0m-8 0h0m87 1h0m-2 0h0m-2 0h0m4 0h0m-66 0h0m6 1h0m65 0h0m-95 0h0m19 0h0m77 0h0m-2 0h0m1 0h0m-94 1h0m73 0h0m-63 0h0m-9 0h0m28 0h0m46 1h0m-80 0h0m93 0h0m-91 0h0m24 0h0m-27 0h0m29 1h0m-27 0h0m85 0h0m11 0h0m-1 1h0m-83 0h0m83 0h0m-85 0h0m74 0h0m-76 1h0m14 0h0m-10 1h0m-11 0h0m90 0h0m6 0h0m-77 1h0m-6 0h0m-10 0h0m0 0h0m90 0h0m-80 1h0m-5 0h0m68 0h0m-62 1h0m71 0h0m4 0h0m-79 0h0m2 1h0m4 0h0m-1 0h0m-11 0h0m93 1h0m-80 0h0m56 1h0m24 0h0m-85 1h0m65 1h0m9 0h0m9 2h0m-22 2h0m10 0h0m-5 0h0m-5 0h0m16 1h0m0 1h0m-15 0h0m-1 2h0m6 0h0m-7 0h0m3 1h0m17 0h0m-17 1h0m24 3h0m-7 1h0m-9 1h0m3 0h0m-7 0h0m18 1h0m-5 1h0m-10 0h0m4 2h0m7 1h0m-9 0h0m-2 1h0m7 2h0m-4 1h0m4 0h0m-3 0h0m-7 1h0m4 1h0m-1 3h0m3 0h0m9 1h0m-5 0h0m-6 0h0m10 1h0m-14 1h0m3 1h0m8 1h0m-5 0h0m-1 0h0m-2 1h0m1 1h0m2 1h0m201-138h0m-35 0h0m-115 0h0m144 1h0m4 1h0m-18 4h0m16 1h0m1 1h0m5 2h0m6-17h0m43 0h0m-19 4h0m-11 1h0m-17 4h0m4 4h0m2 1h0m37 59h0m-1 1h0m4 0h0m2 1h0m4 1h0m4 1h0m-13 0h0m11 0h0m2 1h0m-7 0h0m5 1h0m5 3h0m-16 1h0m12 0h0m1 1h0m-8 0h0m5 1h0m-17 0h0m6 0h0m-7 2h0m20 0h0m-3 1h0m-3 0h0m-1 1h0m11 0h0m-22 0h0m14 0h0m-16 1h0m20 0h0m-13 1h0m5 0h0m8 2h0m-21 0h0m9 0h0m7 0h0m3 0h0m-16 0h0m22 1h0m-4 0h0m-3 0h0m3 1h0m-22 0h0m27 0h0m-26 0h0m8 1h0m16 0h0m-7 0h0m9 1h0m-26 1h0m9 0h0m10 2h0m-5 0h0m4 0h0m3 0h0m-2 0h0m1 2h0m-19 1h0m18 0h0m3 0h0m4 0h0m-19 1h0m16 1h0m-12 0h0m-2 0h0m11 0h0m-16 1h0m1 1h0m9 1h0m9 0h0m-19 1h0m9 0h0m1 1h0m-11 0h0m19 1h0m-5 0h0m-1 0h0m4 2h0m-16 0h0m20 0h0m-22 0h0m18 1h0m-2 1h0m-1 0h0m-3 0h0m-6 1h0m11 0h0m-6 1h0m5 0h0m-7 1h0m60 13h0m7 4h0m-4 1h0m-2 0h0m5 1h0m-2 0h0m-7 2h0m5 3h0m-1 0h0m8 0h0m-9 0h0m2 1h0m6 0h0m3 1h0m-4 1h0m-8 0h0m-1 0h0m13 0h0m-13 1h0m2 1h0m-3 1h0m-1 1h0m7 1h0m-6 1h0m11 0h0m4 0h0m-7 1h0m1 0h0m-11 2h0m3 1h0m2 0h0m-1 2h0m10 4h0m0 0h0m3 0h0m-7 1h0m3 1h0m5 0h0m-11 0h0m12 1h0m-12 1h0m11 0h0m-4 0h0m-2 1h0m1 0h0m-14 1h0m1 0h0m0 0h0m18 0h0m-13 0h0m3 1h0m6 0h0m-14 0h0m6 2h0m-6 0h0m4 1h0m3 0h0m1 0h0m2 1h0m-10 0h0m4 1h0m5 0h0m8 0h0m-17 0h0m8 1h0m-6 0h0m12 0h0m-8 1h0m10 0h0m-5 0h0m-3 0h0m-5 1h0m95-176h0m-2 0h0m77 1h0m-67 0h0m63 1h0m6 0h0m-74 0h0m11 1h0m0 0h0m-17 1h0m77 0h0m-63 0h0m58 0h0m-60 1h0m54 0h0m-50 1h0m-6 0h0m66 0h0m-8 1h0m10 1h0m-72 1h0m6 1h0m-9 3h0m70 58h0m27 0h0m-24 1h0m11 0h0m7 1h0m-13 2h0m1 0h0m0 1h0m-5 0h0m28 0h0m-22 0h0m23 0h0m-19 0h0m20 1h0m-43 1h0m16 0h0m-11 1h0m18 1h0m24 0h0m-16 0h0m5 0h0m-24 0h0m-9 1h0m13 0h0m11 0h0m-15 0h0m-5 1h0m14 0h0m21 0h0m-15 1h0m12 0h0m-10 0h0m-28 0h0m27 1h0m-3 0h0m-6 0h0m-5 0h0m-6 0h0m-6 1h0m42 0h0m-37 0h0m39 0h0m-33 0h0m27 1h0m-31 0h0m8 1h0m-4 0h0m-12 0h0m0 0h0m35 0h0m-5 1h0m-21 0h0m-3 0h0m18 0h0m11 0h0m-9 0h0m-12 0h0m-3 1h0m14 0h0m3 0h0m-29 0h0m17 0h0m-17 0h0m40 1h0m-36 0h0m5 0h0m19 0h0m12 0h0m-43 0h0m20 1h0m10 0h0m7 0h0m-19 0h0m-12 1h0m18 0h0m-6 0h0m-16 1h0m5 0h0m-3 0h0m5 1h0m-6 0h0m30 0h0m-21 0h0m13 1h0m5 0h0m9 0h0m-24 0h0m-6 1h0m24 0h0m-16 0h0m0 1h0m18 0h0m-10 1h0m22 0h0m-7 0h0m-16 0h0m-9 0h0m-5 0h0m12 0h0m-8 1h0m27 0h0m8 0h0m-36 0h0m-3 1h0m-8 0h0m9 0h0m2 0h0m32 0h0m-34 0h0m-2 0h0m1 2h0m22 1h0m-5 0h0m-9 0h0m15 0h0m9 1h0m-6 0h0m-2 0h0m-11 0h0m1 1h0m0 1h0m24 0h0m-37 0h0m14 0h0m8 1h0m15 8h0m-3 0h0m1 2h0m218 28h0m-1 5h0m9 1h0m-20 0h0m9 0h0m13 0h0m-24 1h0m9 0h0m-9 0h0m9 1h0m-4 0h0m9 2h0m2 0h0m7 0h0m-13 1h0m-5 0h0m-5 1h0m14 0h0m-5 0h0m-16 1h0m18 0h0m-2 0h0m0 0h0m2 0h0m14 1h0m-21 0h0m5 1h0m5 0h0m0 0h0m13 0h0m-24 0h0m2 1h0m22 0h0m-4 1h0m-21 0h0m10 0h0m-9 1h0m17 0h0m-4 0h0m2 1h0m-13 0h0m14 0h0m-15 1h0m-10 0h0m13 0h0m8 1h0m-10 0h0m10 1h0m-16 1h0m8 1h0m-1 0h0m-3 1h0m18 0h0m2 0h0m-20 0h0m-10 1h0m25 0h0m12 2h0m-9 0h0m-6 0h0m-4 0h0m5 1h0m7 0h0m-7 0h0m3 0h0m-14 1h0m-10 0h0m-2 0h0m12 1h0m19 0h0m1 0h0m-23 0h0m20 0h0m-16 0h0m-1190 1h0m-8 1h0m0 0h0m0 1h0m0 1h0m5 0h0m-1 2h0m9 0h0m-16 0h0m9 1h0m4 2h0m-9 1h0m4 0h0m-6 0h0m7 3h0m3 1h0m14 57h0m-2 3h0m12 1h0m-14 0h0m8 1h0m-17 1h0m5 1h0m20 0h0m-4 0h0m-8 1h0m-18 1h0m-3 1h0m33 0h0m-21 0h0m-11 0h0m31 2h0m-11 0h0m-3 0h0m-21 2h0m-2 0h0m17 0h0m-8 1h0m3 0h0m12 2h0m-21 2h0m19 0h0m-9 0h0m23 0h0m-36 1h0m13 0h0m23 1h0m-5 2h0m-17 1h0m11 0h0m-4 2h0m-20 0h0m38 2h0m-15 1h0m-18 0h0m15 0h0m-10 1h0m22 2h0m2 1h0m-8 0h0m6 1h0m-2 0h0m-5 1h0m-16 1h0m0 0h0m-4 0h0m13 1h0m14 1h0m-4 0h0m-4 1h0m-10 0h0m-1 1h0m-5 0h0m16 1h0m-15 2h0m7 0h0m-9 0h0m5 0h0m2 4h0m170-118h0m-7 1h0m-11 0h0m1 1h0m0 1h0m7 1h0m6 0h0m-9 4h0m-3 0h0m5 1h0m-4 1h0m10 1h0m-14 2h0m2 80h0m-5 9h0m5 0h0m1 3h0m-3 2h0m0 0h0m-3 2h0m12 1h0m-3 0h0m-3 0h0m-8 1h0m5 1h0m3 0h0m-4 0h0m-5 2h0m14 1h0m0 0h0m-14 2h0m7 3h0m5 1h0m-7 1h0m8 1h0m-6 1h0m-7 2h0m10 0h0m-8 1h0m7 1h0m3 0h0m-8 3h0m-5 0h0m19 0h0m-4 1h0m3 0h0m-9 0h0m-5 1h0m7 2h0m-3 1h0m-5 0h0m15 0h0m-6 1h0m-2 0h0m4 0h0m1 1h0m1 0h0m-10 1h0m-5 1h0m14 1h0m-6 1h0m-2 1h0m-5 1h0m17 1h0m-19 2h0m8 0h0m9 4h0m-17 0h0m14 2h0m-12 1h0m5 1h0m10 2h0m-12 1h0m2 2h0m-6 0h0m14 1h0m2 5h0m-3 1h0m-5 0h0m1 1h0m-8 2h0m12 2h0m-4 1h0m-5 2h0m10 0h0m-3 0h0m312-57h0m-6 7h0m6 0h0m6 0h0m3 3h0m-3 0h0m-8 0h0m10 0h0m-8 1h0m-9 0h0m1 0h0m10 2h0m-7 1h0m2 1h0m13 0h0m-9 1h0m-10 1h0m4 1h0m2 0h0m8 1h0m-3 0h0m-6 0h0m1 2h0m14 0h0m-19 0h0m13 2h0m-1 1h0m-3 0h0m-10 0h0m17 0h0m-8 0h0m4 1h0m-16 0h0m13 0h0m9 0h0m-5 1h0m7 0h0m-18 2h0m7 1h0m-7 1h0m-4 0h0m14 1h0m0 1h0m-4 0h0m-11 1h0m20 0h0m2 0h0m-14 0h0m5 1h0m2 1h0m-10 0h0m16 0h0m2 1h0m-71 0h0m-7 0h0m74 1h0m-9 0h0m-64 1h0m-2 0h0m7 0h0m1 1h0m64 0h0m-62 1h0m-1 0h0m-10 1h0m6 0h0m5 2h0m1 1h0m56 0h0m-62 1h0m63 0h0m-67 0h0m0 0h0m66 0h0m0 0h0m3 1h0m-5 1h0m-53 0h0m-13 0h0m9 0h0m50 0h0m-58 1h0m9 0h0m52 0h0m12 1h0m-10 0h0m-57 0h0m-7 1h0m-2 0h0m71 0h0m-56 1h0m-7 0h0m66 1h0m-74 1h0m74 0h0m-67 1h0m-3 0h0m61 1h0m-65 0h0m63 0h0m-63 0h0m5 1h0m58 0h0m-49 0h0m60 0h0m-9 1h0m5 0h0m-57 0h0m51 0h0m7 0h0m-3 1h0m161-42h0m4 1h0m-7 3h0m6 0h0m4 1h0m-7 0h0m-5 0h0m4 1h0m-8 0h0m5 1h0m11 0h0m-4 0h0m1 1h0m6 3h0m-19 0h0m16 1h0m-2 0h0m-16 1h0m2 2h0m10 0h0m1 1h0m-9 0h0m-2 2h0m12 2h0m-11 0h0m-5 0h0m14 0h0m0 0h0m3 1h0m-1 1h0m1 0h0m-6 2h0m-11 0h0m2 1h0m25 1h0m-4 1h0m1 0h0m-22 0h0m4 0h0m-5 1h0m15 0h0m-14 1h0m7 1h0m-1 0h0m1 0h0m15 0h0m-4 1h0m6 0h0m-17 0h0m12 0h0m-20 1h0m5 0h0m10 0h0m5 0h0m-11 1h0m17 0h0m-2 1h0m-23 2h0m-2 0h0m21 1h0m6 0h0m-21 1h0m15 0h0m-7 0h0m-9 0h0m19 0h0m-20 1h0m21 1h0m-2 0h0m1 1h0m137-175h0m9 0h0m-2 1h0m1 1h0m-7 1h0m10 0h0m1 1h0m3 1h0m-6 1h0m0 1h0m5 0h0m-9 1h0m9 1h0m-7 0h0m5 1h0m-1 0h0m3 1h0m-5 0h0m-2 3h0m-3 0h0m3 1h0m3 2h0m-3 0h0m1 1h0m2 72h0m-5 0h0m10 2h0m-9 0h0m6 0h0m-1 2h0m1 5h0m-6 1h0m-1 0h0m4 1h0m8 3h0m-12 3h0m7 0h0m-12 0h0m12 1h0m2 2h0m-7 0h0m-5 1h0m11 0h0m-3 0h0m-3 2h0m11 2h0m-9 2h0m1 0h0m8 1h0m-10 0h0m-4 1h0m8 0h0m-9 2h0m5 1h0m9 1h0m-3 2h0m-7 0h0m1 2h0m-7 1h0m9 0h0m2 1h0m-11 1h0m6 1h0m-6 0h0m14 0h0m-10 1h0m7 0h0m-1 3h0m-3 1h0m6 0h0m-3 0h0m-11 0h0m4 3h0m6 1h0m3 3h0m-11 2h0m-2 0h0m17 0h0m-7 2h0m3 0h0m0 1h0m-2 2h0m-6 2h0m-6 1h0m9 2h0m0 1h0m-5 7h0m15 2h0m-7 0h0m-11 2h0m5 2h0m8 1h0m0 3h0m-1 1h0m246-12h0m-4 1h0m7 0h0m1 1h0m4 0h0m-14 1h0m6 0h0m-5 0h0m10 2h0m-4 0h0m-2 0h0m1 1h0m7 0h0m-1 1h0m-17 0h0m23 0h0m-1 1h0m1 0h0m-18 0h0m-6 0h0m0 0h0m25 0h0m-17 1h0m-7 0h0m-2 1h0m0 0h0m6 0h0m21 0h0m-8 0h0m-5 0h0m-11 1h0m-1 0h0m24 0h0m-26 0h0m12 0h0m-3 0h0m20 1h0m-8 0h0m-6 1h0m8 0h0m0 0h0m-23 0h0m4 0h0m20 0h0m130-175h0m3 0h0m14 1h0m-6 0h0m15 1h0m-12 0h0m-6 1h0m14 0h0m-6 0h0m14 3h0m-16 0h0m11 0h0m6 1h0m3 0h0m-28 1h0m11 0h0m-8 0h0m19 1h0m-14 0h0m-6 1h0m22 0h0m0 0h0m-13 0h0m-10 1h0m25 0h0m-1 1h0m-20 0h0m9 1h0m1 0h0m-3 0h0m1 0h0m8 1h0m-12 0h0m1 54h0m0 0h0m-1 1h0m4 1h0m2 0h0m-1 0h0m-3 1h0m-4 0h0m12 0h0m-14 2h0m13 0h0m-6 1h0m4 0h0m6 0h0m-1 0h0m-7 0h0m10 0h0m-13 0h0m10 1h0m-5 0h0m-10 0h0m0 0h0m16 1h0m-6 0h0m6 1h0m0 0h0m-12 1h0m9 0h0m-6 1h0m13 0h0m-21 0h0m20 0h0m-12 1h0m12 0h0m-12 1h0m2 0h0m7 0h0m-17 1h0m20 0h0m-8 0h0m1 0h0m-9 1h0m-3 0h0m17 0h0m-3 0h0m-16 0h0m11 1h0m7 0h0m-23 1h0m16 0h0m-8 0h0m1 0h0m14 1h0m-2 0h0m-9 0h0m16 0h0m-25 1h0m17 0h0m-1 0h0m-17 0h0m15 1h0m4 1h0m-5 0h0m-12 0h0m0 1h0m7 0h0m-1 0h0m11 0h0m-13 0h0m5 0h0m-2 0h0m-4 0h0m8 1h0m8 0h0m-15 0h0m-3 0h0m5 1h0m5 0h0m11 1h0m-7 1h0m-9 0h0m2 1h0m3 0h0m-10 0h0m21 1h0m-2 0h0m-4 0h0m-10 3h0m0 0h0m10 0h0m-2 1h0m-9 1h0m4 1h0m-1 0h0m3 1h0m1 0h0m-1 2h0m164-36h0m-2 1h0m-1 0h0m-2 1h0m3 1h0m2 0h0m-7 2h0m0 2h0m1 0h0m-1 0h0m2 0h0m-3 1h0m1 1h0m0 0h0m6 1h0m0 0h0m4 0h0m-1 0h0m5 1h0m-4 1h0m2 0h0m1 0h0m-8 0h0m9 2h0m-12 1h0m1 1h0m0 2h0m-3 1h0m-6 0h0m4 0h0m17 1h0m-8 1h0m-3 0h0m9 0h0m-6 0h0m-4 0h0m5 1h0m3 0h0m-6 1h0m-10 1h0m18 0h0m-14 0h0m17 2h0m-8 0h0m7 0h0m-12 1h0m-5 1h0m15 0h0m-14 0h0m10 1h0m-15 1h0m20 0h0m-6 0h0m-3 0h0m0 1h0m1 1h0m0 1h0m1 1h0m-10 0h0m5 1h0m8 1h0m-12 1h0m1 0h0m-1 0h0m12 1h0m-4 0h0m4 1h0m-14 0h0m16 1h0m-8 0h0m0 0h0m-2 0h0m12 1h0m-8 0h0m0 0h0m4 0h0m-11 0h0m8 1h0m3 1h0m3 1h0m-9 2h0m8 0h0m-8 0h0m0 1h0m3 1h0m-1204 60h0m-6 1h0m-2 2h0m5 1h0m-5 1h0m7 0h0m-4 1h0m6 2h0m-5 5h0m4 1h0m259-15h0m52 0h0m11 0h0m-3 1h0m-64 0h0m57 0h0m12 0h0m-76 0h0m70 0h0m-8 1h0m-49 0h0m-7 1h0m69 0h0m-62 0h0m53 0h0m-65 0h0m5 1h0m5 1h0m0 0h0m-2 0h0m52 0h0m6 0h0m5 0h0m-61 1h0m0 0h0m-5 1h0m-7 0h0m4 0h0m2 0h0m-3 1h0m8 0h0m54 1h0m-64 0h0m-1 0h0m69 0h0m-67 1h0m8 0h0m-2 0h0m1 1h0m55 1h0m-54 1h0m61 0h0m-62 0h0m58 0h0m-57 2h0m-1 1h0m-2 1h0m58 0h0m-58 1h0m227-18h0m-10 1h0m15 1h0m-18 1h0m2 0h0m-7 0h0m14 1h0m4 0h0m-6 1h0m-5 1h0m-1 0h0m13 1h0m-5 1h0m-10 1h0m-1 0h0m2 1h0m5 1h0m1 1h0m-2 1h0m-1 0h0m3 2h0m5 2h0m155-16h0m-2 7h0m-3 0h0m5 3h0m-4 1h0m260-12h0m-5 0h0m5 0h0m-2 0h0m-9 1h0m6 0h0m-6 1h0m12 0h0m-10 1h0m11 0h0m-5 0h0m3 0h0m-22 1h0m21 0h0m-3 0h0m-7 0h0m-2 0h0m14 0h0m-7 0h0m-16 0h0m28 1h0m-8 0h0m6 0h0m-1 0h0m-6 1h0m-7 0h0m7 0h0m-11 0h0m9 0h0m5 0h0m-5 0h0m-6 2h0m-9 1h0m16 0h0m0 0h0m-18 0h0m24 1h0m-16 0h0m-1 0h0m17 0h0m-4 1h0m-7 0h0m0 0h0m-7 0h0m-6 0h0m19 1h0m-10 0h0m-1 1h0m2 0h0m9 0h0m-6 2h0m-11 1h0m0 0h0m18 0h0m-18 0h0m2 0h0m3 0h0m3 1h0m-3 1h0m7 0h0m-6 0h0m3 0h0m-1 1h0m-1 1h0" stroke="#3fa6ea" stroke-width="4" stroke-linecap="round" fill="none"/>
<text x="34" y="693.7" font-size="24.8" text-anchor="middle" transform="rotate(-90 34 693.7)">1507</text>
<text x="76" y="1548.3" font-size="24" text-anchor="middle">1507</text>
<text x="34" y="780.9" font-size="24.8" text-anchor="middle" transform="rotate(-90 34 780.9)">782</text>
<text x="155.2" y="1548.3" font-size="24" text-anchor="middle">782</text>
<text x="34" y="868.1" font-size="24.8" text-anchor="middle" transform="rotate(-90 34 868.1)">536</text>
<text x="234.4" y="1548.3" font-size="24" text-anchor="middle">536</text>
<text x="34" y="955.3" font-size="24.8" text-anchor="middle" transform="rotate(-90 34 955.3)">1226</text>
<text x="313.6" y="1548.3" font-size="24" text-anchor="middle">1226</text>
<text x="34" y="1042.5" font-size="24.8" text-anchor="middle" transform="rotate(-90 34 1042.5)">1228</text>
<text x="392.8" y="1548.3" font-size="24" text-anchor="middle">1228</text>
<text x="34" y="1129.7" font-size="24.8" text-anchor="middle" transform="rotate(-90 34 1129.7)">727</text>
<text x="472" y="1548.3" font-size="24" text-anchor="middle">727</text>
<text x="34" y="1216.9" font-size="24.8" text-anchor="middle" transform="rotate(-90 34 1216.9)">533</text>
<text x="551.2" y="1548.3" font-size="24" text-anchor="middle">533</text>
<text x="34" y="1304.1" font-size="24.8" text-anchor="middle" transform="rotate(-90 34 1304.1)">1348</text>
<text x="630.4" y="1548.3" font-size="24" text-anchor="middle">1348</text>
<text x="34" y="1391.3" font-size="24.8" text-anchor="middle" transform="rotate(-90 34 1391.3)">1280</text>
<text x="709.6" y="1548.3" font-size="24" text-anchor="middle">1280</text>
<text x="34" y="1478.5" font-size="24.8" text-anchor="middle" transform="rotate(-90 34 1478.5)">1301</text>
<text x="788.8" y="1548.3" font-size="24" text-anchor="middle">1301</text>
<defs>
<g id="d0" opacity=".93"><path transform="scale(.5)" d="M-11 -65h0m1 6h0m17-1h0m14 0h0m-39 5h0m12 0h0m38 1h0m-44 3h0m15 0h0m-21 3h0m39 1h0m6 0h0m1-1h0m-41 6h0m15-2h0m23 7h0m-52 5h0m24-2h0m-33 6h0m42 1h0m34 4h0m2 1h0m-86 4h0m3-2h0m20 0h0m18 0h0m2 1h0m51-1h0m-100 4h0m78 0h0m15 0h0m4 2h0m-90 0h0m57 1h0m10 2h0m-48 1h0m47 0h0m6 2h0m3-1h0m15 2h0m-103 4h0m4-3h0m92 1h0m-91 5h0m9 4h0m46-1h0m36 0h0m-98 4h0m60 0h0m3 3h0m-38 0h0m23 6h0m-43 3h0m1 2h0m1 1h0m72-2h0m-50 5h0m2-3h0m2 2h0m24-2h0m1 3h0m8 0h0m4-1h0m32 2h0m-39 0h0m5 3h0m31 1h0m-53 1h0m27 2h0m20 1h0m-37 3h0m3-3h0m10 2h0m12-1h0m12 1h0m-40 3h0m30 2h0m4-2h0m-41 7h0m44 0h0m-55 11h0m19 6h0" stroke="#ee6ea6" stroke-width="3.8" stroke-linecap="round" fill="none"/><path transform="scale(.5)" d="M-19 -59h0m26 0h0m-3 3h0m-27 6h0m10-2h0m9 1h0m14-1h0m24 6h0m-40 2h0m27 0h0m-12 2h0m-12 4h0m8 4h0m23-2h0m-62 6h0m53 2h0m14 4h0m9 0h0m3 0h0m-83 2h0m27 3h0m2 1h0m17-1h0m17 1h0m-70 3h0m13-2h0m29 1h0m13 0h0m32 0h0m-76 4h0m14-1h0m34 2h0m24-1h0m-40 4h0m58-1h0m-110 3h0m22 1h0m16 0h0m71 2h0m-108 4h0m94-1h0m-103 4h0m63 0h0m-38 4h0m35 6h0m0-1h0m10-3h0m14 4h0m-82 1h0m54 1h0m14 0h0m-40 2h0m2 1h0m6 2h0m76-1h0m-75 3h0m49 2h0m6-3h0m11 1h0m-17 5h0m-43 2h0m0 4h0m37-1h0m11 1h0m-23 5h0m12 0h0m-44 5h0m11 6h0m2-4h0m15 1h0m-18 3h0m7 1h0m7 2h0m-21 2h0m18 1h0m3-2h0m-17 6h0m9-2h0m-1 10h0" stroke="#4b96e6" stroke-width="3.8" stroke-linecap="round" fill="none"/><path transform="scale(.5)" d="M-6 -61h0m12 2h0m-18 3h0m8 1h0m21-2h0m-28 6h0m19-1h0m5-1h0m2 1h0m-20 6h0m-2 4h0m5 0h0m11-3h0m3 2h0m-10 3h0m16 0h0m4 5h0m8 1h0m-17 0h0m-56 7h0m53-1h0m10-1h0m-48 5h0m27 0h0m6 2h0m9-2h0m3 0h0m17 0h0m-85 3h0m62 1h0m7 0h0m6-1h0m17 3h0m-40 2h0m-13 5h0m58 1h0m-7 1h0m8 2h0m-88 1h0m41 3h0m6-2h0m-45 4h0m2 2h0m6 0h0m31-1h0m-63 7h0m107-1h0m-106 6h0m28 0h0m78 0h0m3-2h0m-83 8h0m36-2h0m19-1h0m27 3h0m6-2h0m-73 4h0m7 1h0m25-3h0m7 4h0m-26 0h0m45 2h0m-82 5h0m13-2h0m36 7h0m10-1h0m23 0h0m-74 4h0m3-2h0m7-1h0m4 3h0m60 0h0m-64 2h0m13 2h0m-2 3h0m7 2h0m3-1h0m8-2h0m5 1h0m-31 4h0m-1 3h0m20 3h0m-10 12h0" stroke="#ee6ea6" stroke-width="3.8" stroke-linecap="round" fill="none"/><path transform="scale(.5)" d="M-11 -59h0m40 1h0m1 2h0m-44 8h0m31 1h0m17 2h0m-45 4h0m34 7h0m-73 7h0m16-1h0m10-1h0m24 0h0m-28 7h0m-10 2h0m16 0h0m27 2h0m13-1h0m-52 4h0m10-2h0m0 3h0m9-2h0m2 0h0m17 1h0m17-2h0m-76 6h0m24 0h0m-4 4h0m17-2h0m29 2h0m11-3h0m-74 5h0m10-1h0m13 1h0m6 1h0m18-1h0m1 0h0m11 3h0m46-3h0m-114 4h0m103 0h0m5 1h0m-92 3h0m7-1h0m52 4h0m33-2h0m11 0h0m-115 5h0m2 0h0m14-1h0m3-1h0m88 2h0m5-3h0m4 3h0m-66 2h0m41 0h0m-56 5h0m26-1h0m-54 3h0m48 3h0m35-1h0m8 4h0m4 0h0m-73 5h0m9 1h0m43-3h0m-37 6h0m28-3h0m22 0h0m-37 5h0m13 2h0m11 0h0m14 4h0m3-2h0m-60 5h0m16-1h0m39 1h0m-57 12h0m10 1h0m-3 5h0" stroke="#4b96e6" stroke-width="3.8" stroke-linecap="round" fill="none"/></g>
<g id="d1" opacity=".93"><path transform="scale(.5)" d="M-38 -56h0m1 2h0m39 8h0m14-3h0m-31 3h0m6 1h0m22-1h0m8 2h0m-11 3h0m13 0h0m10 1h0m10 0h0m-53 3h0m44 3h0m15 0h0m-73 2h0m28-1h0m-16 6h0m33 0h0m14-3h0m-66 4h0m13 1h0m35 2h0m13 0h0m19-3h0m1 4h0m-29 0h0m19 1h0m2 2h0m-33 1h0m21 4h0m1 0h0m13-3h0m-5 4h0m10 2h0m5-2h0m-102 3h0m79 3h0m-84 3h0m64 1h0m17-1h0m28 0h0m-106 2h0m53 2h0m15-1h0m13 0h0m16 1h0m-101 4h0m7 1h0m77-3h0m10 4h0m-76 2h0m4 0h0m55-1h0m5 2h0m17-1h0m-54 8h0m21 2h0m0-1h0m-9 6h0m10-1h0m19 2h0m23-1h0m-62 4h0m10 1h0m40 0h0m-42 3h0m9 1h0m-23 2h0m15 1h0m31 2h0m20-1h0m-90 3h0m3 2h0m27-1h0m-16 3h0m3 1h0m4 0h0m24 1h0m-31 6h0m-12 5h0m5 1h0" stroke="#ee6ea6" stroke-width="3.8" stroke-linecap="round" fill="none"/><path transform="scale(.5)" d="M7 -59h0m-33 8h0m-12 3h0m19 1h0m17 1h0m16 1h0m16 2h0m-63 5h0m56 0h0m-65 0h0m41 1h0m11 1h0m1 0h0m7-2h0m-37 7h0m12-1h0m43-2h0m-67 6h0m22 0h0m10-1h0m28 2h0m26 0h0m-74 4h0m39-1h0m24 2h0m-67 1h0m39 2h0m8-2h0m4 2h0m29 0h0m-85 5h0m5-1h0m74-3h0m-51 7h0m44 0h0m2 1h0m16-2h0m-109 2h0m82 0h0m-83 5h0m5-1h0m20 4h0m23-1h0m-57 3h0m10-1h0m59 2h0m29-3h0m-99 7h0m19 1h0m8-1h0m12-3h0m-6 6h0m-28 5h0m72-1h0m-63 5h0m43 0h0m-46 1h0m43 1h0m30-1h0m-50 7h0m21 0h0m34 0h0m9 0h0m-67 3h0m9-2h0m38 0h0m16 3h0m-66 3h0m1 0h0m85 0h0m-96 5h0m32-3h0m8 3h0m18 0h0m-57 2h0m3 1h0m12 0h0m36-1h0m3 1h0m-33 5h0m29 0h0m6 0h0m0 0h0m-46 5h0m-11 1h0" stroke="#4b96e6" stroke-width="3.8" stroke-linecap="round" fill="none"/><path transform="scale(.5)" d="M-36 -56h0m9 2h0m32-1h0m-3 3h0m-44 5h0m2 0h0m4-3h0m35 4h0m-40 6h0m7-2h0m15 7h0m9-1h0m56 1h0m-42 4h0m15-2h0m9 1h0m-50 3h0m34 2h0m-48 4h0m49-1h0m17 1h0m-28 3h0m47 2h0m-14 0h0m18 2h0m10 1h0m-98 3h0m5-1h0m8 1h0m13-1h0m2 1h0m6 1h0m20 0h0m-32 2h0m6 2h0m-56 1h0m12 2h0m31 1h0m20 1h0m7-4h0m4 1h0m40 1h0m-106 2h0m18 5h0m16 2h0m26 1h0m12-2h0m9 1h0m3-2h0m5 0h0m4 0h0m-83 5h0m23-1h0m2-1h0m53 3h0m-82 1h0m54 2h0m-58 2h0m69 1h0m0 1h0m5 2h0m-66 3h0m0-2h0m28-1h0m51 4h0m10 1h0m-65 6h0m0 3h0m9 0h0m1-1h0m20 1h0m15 1h0m6-1h0m-57 6h0m9-4h0m13 1h0m53 0h0m-24 5h0m2 2h0m22-2h0m-84 17h0m12-1h0" stroke="#ee6ea6" stroke-width="3.8" stroke-linecap="round" fill="none"/><path transform="scale(.5)" d="M-30 -57h0m42 2h0m-24 8h0m-1 1h0m33 4h0m-36 3h0m20-1h0m7-1h0m29 1h0m1 0h0m2 2h0m-83 2h0m29-2h0m7 2h0m-29 2h0m73 1h0m-49 4h0m11 3h0m41 0h0m4-1h0m-66 3h0m51 0h0m-59 2h0m7 8h0m6-3h0m46 1h0m-88 5h0m12 1h0m6 0h0m26-1h0m14-2h0m5 1h0m8 0h0m-75 2h0m70 1h0m3-1h0m31 1h0m0 2h0m-56 4h0m2 1h0m50-4h0m-67 5h0m48 1h0m-27 4h0m-48 3h0m14 0h0m72 3h0m-74 3h0m75-1h0m4 0h0m-69 4h0m78-1h0m-64 7h0m21-1h0m20-1h0m7-1h0m2-1h0m6 2h0m-60 3h0m4-1h0m1 1h0m11 0h0m13 0h0m7 1h0m31 1h0m0-1h0m8 1h0m-41 1h0m9 7h0m32-2h0m-63 6h0m33-2h0m10 1h0m13 0h0m9-1h0m-86 4h0m15 3h0m63 0h0m-54 2h0m14 0h0m34-2h0m-79 6h0m11 2h0m14 0h0m-11 12h0" stroke="#4b96e6" stroke-width="3.8" stroke-linecap="round" fill="none"/></g>
<g id="d2" opacity=".93"><path transform="scale(.5)" d="M-45 -42h0m42-3h0m11 2h0m33-2h0m-87 6h0m1-1h0m5 0h0m30-1h0m51 0h0m11 1h0m-107 4h0m3 1h0m18-1h0m17 1h0m29 1h0m22-2h0m-21 5h0m18-1h0m4 1h0m11 0h0m12-1h0m-102 4h0m10 1h0m8-1h0m61 0h0m8 1h0m-41 4h0m42-1h0m-93 4h0m72-1h0m3 1h0m35 2h0m-79 2h0m34-1h0m-34 5h0m37-1h0m4 0h0m13 5h0m16 2h0m-80 0h0m11 1h0m20-1h0m4 2h0m1-1h0m28 2h0m11-1h0m5 0h0m-91 3h0m18-1h0m11 4h0m8-4h0m-46 7h0m8 0h0m52 0h0m16-2h0m11 0h0m-74 5h0m30 0h0m29 1h0m21-1h0m-95 5h0m41 0h0m40 0h0m-12 5h0m20-4h0m-88 6h0m8 0h0m16 1h0m2-2h0m54 2h0m9-3h0m-96 8h0m10-4h0m54 3h0m-28 3h0m0 2h0m4-4h0m31 2h0m-17 5h0m-19 4h0m4 1h0m-31 2h0m25 0h0m7 0h0m45 1h0m-39 4h0m-11 1h0m6 2h0m47-2h0m1 1h0m-44 8h0" stroke="#ee6ea6" stroke-width="3.8" stroke-linecap="round" fill="none"/><path transform="scale(.5)" d="M-10 -52h0m46 9h0m7 1h0m-54 3h0m15-2h0m13 3h0m15-4h0m17 2h0m-14 3h0m-92 4h0m3 6h0m14-1h0m56 0h0m8 0h0m25-1h0m3 2h0m-104 5h0m9-3h0m10 2h0m46 0h0m11-1h0m-81 3h0m65 0h0m-48 6h0m8-2h0m3 2h0m90-2h0m3-1h0m-112 7h0m26-1h0m-16 2h0m25 2h0m-32 2h0m24 1h0m37 0h0m-65 5h0m1-1h0m74-1h0m-24 9h0m14 1h0m4 2h0m3-2h0m7 0h0m5 1h0m-87 5h0m84 0h0m-28 2h0m6-1h0m7 1h0m2-1h0m24 1h0m-73 5h0m21 0h0m13-1h0m2 0h0m-68 2h0m49 2h0m17 0h0m12-1h0m-64 4h0m-8 5h0m86 0h0m-70 4h0m6 0h0m8 10h0m6 2h0m49 1h0m4-1h0m-55 7h0" stroke="#4b96e6" stroke-width="3.8" stroke-linecap="round" fill="none"/><path transform="scale(.5)" d="M-9 -52h0m-1 8h0m61 2h0m-99 2h0m20 0h0m3 2h0m24-3h0m-35 6h0m23 1h0m18-3h0m48 1h0m-86 6h0m5-4h0m32 2h0m6-1h0m8 3h0m38-3h0m-59 6h0m5 0h0m25 0h0m-61 2h0m9 3h0m27-1h0m53 3h0m-102 3h0m9-1h0m17 0h0m11 0h0m14 1h0m20 3h0m2 0h0m21-1h0m4 1h0m-104 4h0m4-3h0m49 2h0m12 1h0m30 0h0m7 0h0m4-1h0m-34 4h0m2 1h0m0-2h0m-65 3h0m24-1h0m44 1h0m-48 6h0m33 1h0m19-2h0m-77 5h0m31-2h0m5 2h0m4-1h0m23-1h0m20 2h0m9 0h0m1-2h0m-91 7h0m9-3h0m4 3h0m26 2h0m13 2h0m29-2h0m8 1h0m-58 4h0m29-1h0m15 1h0m4-1h0m-75 2h0m1 3h0m79 0h0m-82 5h0m25-3h0m33 0h0m-75 5h0m30 0h0m18-2h0m16 2h0m9-1h0m12-1h0m-72 8h0m12-4h0m2 2h0m6-2h0m36 3h0m-32 4h0m35-2h0m32 0h0m-53 9h0m20 2h0m5 2h0" stroke="#ee6ea6" stroke-width="3.8" stroke-linecap="round" fill="none"/><path transform="scale(.5)" d="M-3 -52h0m4 3h0m1 1h0m35 2h0m-62 7h0m2 2h0m14 2h0m7 0h0m54 0h0m-100 2h0m22 0h0m23 2h0m28-2h0m-83 7h0m38 3h0m38 0h0m2-2h0m36 1h0m-104 4h0m4 1h0m6-1h0m84-2h0m3 0h0m-80 7h0m8-2h0m61 2h0m5 1h0m13-1h0m10 1h0m-86 0h0m28 6h0m-16 2h0m5 2h0m37-2h0m10 2h0m4 4h0m-32 5h0m36 0h0m-47 5h0m-50 2h0m5 0h0m11 0h0m14-2h0m58 3h0m-58 2h0m20 1h0m-27 5h0m25-2h0m19 2h0m9 0h0m-57 9h0m22-3h0m13 2h0m17-2h0m2 3h0m5-1h0m-82 4h0m1-2h0m15 0h0m15 0h0m9 1h0m39-1h0m7-1h0m-74 6h0m24 1h0m4-2h0m40 5h0m2-1h0m-9 9h0m-4 4h0" stroke="#4b96e6" stroke-width="3.8" stroke-linecap="round" fill="none"/></g>
<g id="d3" opacity=".93"><path transform="scale(.5)" d="M6 -56h0m3-1h0m-24 7h0m42 0h0m-42 5h0m42 2h0m-37 4h0m12 0h0m15-3h0m-28 4h0m28 1h0m-20 5h0m42-1h0m-64 3h0m8 3h0m26-1h0m14-1h0m-34 5h0m27 2h0m-41 0h0m27 2h0m36 1h0m-73 4h0m12-2h0m-11 5h0m21 2h0m61-1h0m5-1h0m-121 5h0m5-1h0m10 0h0m13-1h0m34 1h0m2 0h0m5-2h0m0 2h0m-65 2h0m25 2h0m0 0h0m46 0h0m1 2h0m-35 2h0m-36 2h0m4 2h0m11-2h0m52 3h0m19-1h0m2 0h0m-75 3h0m6 3h0m-3 2h0m4 0h0m32 0h0m3-1h0m23 0h0m11 0h0m7 2h0m3-1h0m-89 3h0m75 2h0m-30 1h0m39 0h0m-79 6h0m36 1h0m47 0h0m-66 2h0m26 2h0m39 0h0m-83 2h0m14 0h0m21 0h0m6 2h0m9-3h0m37 4h0m0 0h0m-66 2h0m10 0h0m4 0h0m-6 6h0m32-3h0m14 1h0m-57 5h0m54-1h0m5 0h0m-41 5h0m15 1h0m17 0h0m12-4h0m-14 8h0m-13 3h0" stroke="#ee6ea6" stroke-width="3.8" stroke-linecap="round" fill="none"/><path transform="scale(.5)" d="M16 -59h0m8 0h0m-30 3h0m9 0h0m5-1h0m13 1h0m4-2h0m7 7h0m-50 1h0m41 1h0m11 0h0m-5 5h0m-51 5h0m26-2h0m5 5h0m-36 3h0m44 0h0m-45 3h0m34 1h0m30 2h0m11 4h0m-93 4h0m14 0h0m21-2h0m34 1h0m9 1h0m5 0h0m-48 2h0m-34 4h0m10 3h0m5-3h0m4 2h0m67-3h0m-85 8h0m10-4h0m51 2h0m-53 4h0m7-1h0m42 1h0m1-1h0m8-1h0m12 2h0m18 0h0m5-1h0m-124 3h0m34 3h0m13-2h0m-17 7h0m39-3h0m17 3h0m-72 2h0m17 0h0m10-1h0m24 2h0m21 0h0m12-1h0m-68 2h0m23 2h0m-30 4h0m14-1h0m55 2h0m-68 3h0m6 4h0m24-1h0m24 2h0m18 3h0m13-1h0m-66 5h0m4 0h0m-14 4h0m69 1h0m9 1h0m-68 1h0m13 1h0m2 2h0m-13 12h0m24 0h0m6 3h0" stroke="#4b96e6" stroke-width="3.8" stroke-linecap="round" fill="none"/><path transform="scale(.5)" d="M-6 -59h0m8 1h0m6 0h0m3-4h0m-16 7h0m35 0h0m-53 2h0m29 2h0m-35 3h0m12 2h0m12-3h0m21 1h0m18 2h0m-13 6h0m-46 5h0m10-1h0m6 2h0m35-4h0m-45 6h0m21-2h0m2 2h0m9-1h0m31 5h0m-51 4h0m47 0h0m-49 4h0m59 0h0m2-1h0m-117 6h0m12-2h0m32 2h0m6-3h0m35 2h0m-74 3h0m57 1h0m-46 2h0m35 3h0m7-1h0m37 0h0m5 0h0m0 1h0m-55 2h0m13 3h0m-47 2h0m6 4h0m13 0h0m38 0h0m21-1h0m-82 7h0m42-1h0m8-2h0m38-1h0m-64 11h0m16-1h0m29 1h0m-39 2h0m3 2h0m21 0h0m3 0h0m21-1h0m11-2h0m4 2h0m-42 5h0m17-2h0m5 0h0m25-1h0m-55 5h0m6-1h0m32 1h0m2 2h0m16 1h0m4 3h0m-56 2h0m29 1h0m2-1h0m7 3h0m-46 1h0m-6 4h0m24 3h0m10-1h0m-32 4h0m23-3h0m1 3h0m9 0h0m-29 3h0m4-1h0m6-1h0m26 3h0m-35 4h0m31-2h0" stroke="#ee6ea6" stroke-width="3.8" stroke-linecap="round" fill="none"/><path transform="scale(.5)" d="M18 -62h0m-17 4h0m-8 2h0m21 5h0m-43 3h0m8 0h0m21 0h0m7 1h0m-19 2h0m2 1h0m10 1h0m21-2h0m-1 6h0m-44 3h0m7 2h0m16 0h0m-29 6h0m41 1h0m2-1h0m12 0h0m6 0h0m-60 3h0m52 1h0m16 2h0m-78 3h0m5 0h0m-26 2h0m9 0h0m90 3h0m16-3h0m-10 6h0m1 1h0m-108 3h0m15-2h0m41 3h0m63-4h0m-76 6h0m39 0h0m16 1h0m-67 2h0m48 3h0m5-1h0m5-2h0m11 1h0m-75 4h0m12-2h0m6 1h0m7 0h0m3 3h0m4-2h0m14 1h0m17-1h0m7 0h0m-61 8h0m9 1h0m57-1h0m-52 4h0m18-2h0m3 0h0m36 5h0m-48 10h0m-23 5h0m8-4h0m32 2h0m8 0h0m-61 3h0m57 2h0m-17 4h0m9-3h0m28 3h0m13-3h0m-25 5h0m9 3h0m-49 0h0m26 7h0m-27 2h0m8 1h0m5-1h0" stroke="#4b96e6" stroke-width="3.8" stroke-linecap="round" fill="none"/></g>
<g id="d4" opacity=".93"><path transform="scale(.5)" d="M-13 -52h0m9 1h0m-13 1h0m51 3h0m4-3h0m-35 7h0m-3 2h0m-6 5h0m34-2h0m-71 9h0m8 2h0m2-1h0m61 1h0m-23 5h0m6-4h0m-30 5h0m27 2h0m37-1h0m-28 3h0m-74 6h0m1-1h0m2-1h0m51 0h0m22 1h0m-76 4h0m36 0h0m12-1h0m46 1h0m17 1h0m-33 3h0m9-2h0m12 5h0m2 1h0m-88 5h0m13-2h0m7 1h0m82-1h0m-97 4h0m24 1h0m8 1h0m6 0h0m15 0h0m40-2h0m9 2h0m-90 4h0m30 0h0m32 0h0m6 1h0m-44 2h0m25 0h0m-79 3h0m58 2h0m15 2h0m8 3h0m21-2h0m-106 2h0m19 0h0m16 2h0m43 0h0m35-1h0m-98 5h0m9-1h0m43 1h0m3 0h0m14 0h0m-61 4h0m24-1h0m24 1h0m7-1h0m-53 5h0m12 1h0m19-2h0m5 1h0m21 0h0m-39 4h0m15 3h0m-2 5h0m3 4h0" stroke="#ee6ea6" stroke-width="3.8" stroke-linecap="round" fill="none"/><path transform="scale(.5)" d="M-37 -43h0m25-2h0m11 0h0m28-1h0m-62 6h0m3 2h0m68-1h0m9-3h0m-44 7h0m18-2h0m6 0h0m5 2h0m-52 2h0m13 2h0m12 0h0m38-2h0m-65 4h0m14 2h0m23-1h0m5 1h0m20-1h0m-76 9h0m31 0h0m-34 5h0m45 0h0m48-2h0m8 1h0m-54 4h0m15-3h0m37 4h0m-76 1h0m6 0h0m25 0h0m53 2h0m-88 2h0m13 0h0m24 0h0m6 0h0m32 0h0m-102 5h0m20 1h0m5-2h0m9 0h0m10 1h0m3-1h0m39 1h0m16 2h0m12-3h0m-26 6h0m13-2h0m4 2h0m-85 3h0m57 1h0m31 5h0m-45 4h0m15-2h0m-56 6h0m2 0h0m35-2h0m32 1h0m12-2h0m-113 6h0m1-1h0m38-2h0m35 3h0m12-2h0m18 1h0m11-1h0m-80 6h0m5-1h0m14 0h0m5-1h0m48 0h0m-87 6h0m70-1h0m-78 5h0m48-2h0m-29 4h0m49 3h0m1-3h0m-17 6h0m14-3h0m-18 9h0m2 2h0m9 0h0" stroke="#4b96e6" stroke-width="3.8" stroke-linecap="round" fill="none"/><path transform="scale(.5)" d="M-31 -55h0m2 0h0m6 1h0m4-1h0m-17 6h0m2 3h0m15-1h0m4 0h0m16 0h0m42-1h0m-67 6h0m24 0h0m-37 6h0m13-1h0m28 2h0m2 8h0m-10 2h0m6 1h0m17 0h0m-71 2h0m17 4h0m-16 1h0m37 0h0m42 1h0m23 2h0m-107 0h0m50 3h0m4 0h0m37 0h0m1 1h0m-85 4h0m54-1h0m-44 4h0m25-3h0m13 4h0m9 0h0m14-3h0m5 1h0m8-1h0m-22 5h0m45 0h0m4 1h0m-78 2h0m0 2h0m82-2h0m-115 6h0m34-2h0m31 1h0m8 0h0m6 0h0m-28 3h0m36 1h0m11 0h0m0 1h0m-77 5h0m5-2h0m5 0h0m6 1h0m21-1h0m32 0h0m-1 6h0m1 3h0m-99 4h0m5 4h0m35-1h0m-39 2h0m68 1h0m-60 6h0m36-2h0m3 1h0m-13 3h0m1 1h0m10 2h0m33-2h0m-21 4h0m3 0h0m9 0h0m2 8h0" stroke="#ee6ea6" stroke-width="3.8" stroke-linecap="round" fill="none"/><path transform="scale(.5)" d="M-31 -47h0m26-2h0m32 2h0m3-2h0m18 4h0m-77 6h0m1 0h0m16-2h0m4 0h0m49 1h0m-36 4h0m38-1h0m-75 4h0m24 1h0m23-1h0m-14 5h0m13-1h0m5 1h0m24-1h0m-89 6h0m6 1h0m13-3h0m42 2h0m-56 4h0m3-1h0m43 0h0m47 1h0m-62 4h0m14 0h0m53-1h0m-108 5h0m45 0h0m48-2h0m1 2h0m-29 2h0m33 2h0m4-3h0m-100 7h0m11-2h0m1 5h0m3-1h0m10 0h0m48 0h0m-67 4h0m4 0h0m20 1h0m24 2h0m15-4h0m1 2h0m7-1h0m8 2h0m8-1h0m17-2h0m-109 6h0m12 1h0m13 1h0m12-3h0m12 1h0m11-1h0m12 3h0m-71 4h0m35-2h0m13 1h0m-14 4h0m33 0h0m30 0h0m-102 5h0m50-1h0m56-1h0m-66 3h0m6 1h0m1-2h0m20 1h0m-68 3h0m32 1h0m22 3h0m-32 1h0m18 0h0m3 2h0m33 2h0m-23 4h0m11 0h0m1 2h0m-2 5h0m3 12h0m-10 1h0" stroke="#4b96e6" stroke-width="3.8" stroke-linecap="round" fill="none"/></g>
<g id="d5" opacity=".93"><path transform="scale(.5)" d="M18 -58h0m-20 3h0m-9 4h0m-24 1h0m2 1h0m55-1h0m-25 6h0m7 2h0m-19 3h0m25-1h0m35 0h0m-67 2h0m21 2h0m42 2h0m-83 7h0m14-3h0m0 4h0m21-3h0m2 0h0m17 0h0m-67 3h0m57 2h0m17 0h0m30-2h0m-110 6h0m9-1h0m36-1h0m22 2h0m-60 5h0m46-2h0m-39 4h0m13 0h0m10 1h0m27 1h0m-8 4h0m32-2h0m2 0h0m10 2h0m-92 5h0m2-1h0m2 0h0m50-1h0m5-2h0m-56 8h0m51-1h0m5-2h0m-7 4h0m21 1h0m-42 4h0m21-1h0m2 0h0m4 1h0m12-1h0m21 0h0m1 0h0m-78 4h0m25 2h0m16 1h0m8-2h0m19 0h0m11 0h0m-97 2h0m32 1h0m15-1h0m38 2h0m-78 3h0m91 0h0m5 2h0m-56 2h0m26 0h0m6 1h0m11-1h0m7-1h0m-50 6h0m8-1h0m43 2h0m20 0h0m-63 2h0m20-1h0m4 4h0m-41 3h0m11-2h0m11 1h0m-13 8h0m6 0h0m20 1h0m-21 3h0m0 3h0m25 0h0m-3 11h0m1-4h0m-20 7h0m6-3h0" stroke="#ee6ea6" stroke-width="3.8" stroke-linecap="round" fill="none"/><path transform="scale(.5)" d="M-2 -51h0m-8 4h0m24 0h0m-36 9h0m31-4h0m-27 6h0m2 2h0m18-1h0m9-2h0m3 1h0m16 1h0m13 0h0m-34 1h0m30 4h0m7 5h0m2 0h0m-84 5h0m-21 4h0m8 0h0m33-1h0m30 2h0m6-1h0m26 1h0m-102 5h0m14-3h0m11 2h0m25 0h0m30-3h0m15 3h0m-101 1h0m28 2h0m2 1h0m9 1h0m57-2h0m-60 2h0m0 3h0m2 0h0m1-1h0m8-1h0m40 2h0m-62 2h0m2-1h0m27 1h0m4 0h0m-35 4h0m30 0h0m25-1h0m18 3h0m-18 5h0m7-3h0m30 3h0m-89 4h0m13 0h0m9 1h0m67 0h0m-98 3h0m15 2h0m31 1h0m35 1h0m3-2h0m11 1h0m-89 3h0m4 1h0m10 0h0m11 0h0m41-1h0m-59 6h0m66-3h0m8 2h0m-72 6h0m18 2h0m6-1h0m18-1h0m5-1h0m40 3h0m0-1h0m-68 3h0m28 2h0m38 1h0m-67 6h0m32 4h0m-5 3h0m-14 13h0" stroke="#4b96e6" stroke-width="3.8" stroke-linecap="round" fill="none"/><path transform="scale(.5)" d="M6 -61h0m10 1h0m-9 3h0m12 0h0m-38 9h0m-6 3h0m40 3h0m5-4h0m-23 8h0m5-1h0m33-3h0m18 3h0m-72 4h0m35-1h0m6-2h0m-61 5h0m4 2h0m21 1h0m48-2h0m19-2h0m-76 6h0m16 0h0m4 1h0m5-3h0m47 0h0m4 4h0m-102 0h0m17 4h0m5-2h0m17 5h0m10-1h0m-65 6h0m2-1h0m25-1h0m6-2h0m30 1h0m2 2h0m13-3h0m22 0h0m-99 7h0m72-2h0m5 2h0m11-1h0m-86 3h0m11 1h0m86 0h0m-63 2h0m12 0h0m3 3h0m1-1h0m15 6h0m34 0h0m0-2h0m-62 4h0m31-2h0m-54 4h0m8 4h0m6-3h0m11 2h0m5-1h0m31-1h0m17 1h0m1 1h0m-83 3h0m48 2h0m47-3h0m-64 4h0m68 0h0m-62 4h0m28 0h0m-58 4h0m22 2h0m2 1h0m31-3h0m-25 6h0m65 0h0m5 1h0m-52 0h0m-3 5h0m10 1h0m23-2h0m20 2h0m-42 3h0m0 3h0m41 0h0m-50 1h0m-2 3h0m2 2h0m-8 4h0m0 7h0m10 6h0m3-3h0m9 1h0m1 5h0" stroke="#ee6ea6" stroke-width="3.8" stroke-linecap="round" fill="none"/><path transform="scale(.5)" d="M11 -59h0m-13 3h0m-3 3h0m-20 3h0m14 6h0m8 2h0m1 2h0m34 1h0m15 1h0m-8 1h0m-33 7h0m17-4h0m31 4h0m-88 6h0m18 1h0m20-1h0m14 1h0m17-2h0m-82 5h0m4-1h0m55 1h0m13-1h0m2 1h0m-75 5h0m7-1h0m14-2h0m9 0h0m28 1h0m-67 5h0m36-1h0m12 0h0m26 3h0m17 0h0m-50 2h0m13-1h0m8 0h0m24 3h0m-90 3h0m103 0h0m-100 1h0m70 4h0m-65 3h0m8-1h0m69 2h0m19-1h0m7 1h0m-107 1h0m17 1h0m52 0h0m24 2h0m-82 1h0m33-1h0m6 0h0m10 4h0m22 0h0m-65 1h0m1 1h0m9 1h0m48-3h0m6 1h0m-59 4h0m46 2h0m6-2h0m32 2h0m1 1h0m-100 0h0m12 4h0m43-3h0m22 2h0m-42 3h0m37 1h0m26 1h0m11 0h0m-2 1h0m-46 6h0m11 0h0m6-2h0m13 2h0m4 0h0m-35 4h0m-3 6h0m-1 10h0m11 9h0" stroke="#4b96e6" stroke-width="3.8" stroke-linecap="round" fill="none"/></g>
<g id="d6" opacity=".93"><path transform="scale(.5)" d="M12 -58h0m13 0h0m-53 7h0m27 2h0m3 3h0m-34 3h0m24 2h0m15 0h0m7 6h0m-44 4h0m13 0h0m18-3h0m-27 9h0m3 5h0m38 0h0m1 2h0m34-3h0m-83 5h0m1-2h0m39 2h0m29 1h0m-64 2h0m16-1h0m1 1h0m10 0h0m14 0h0m4 2h0m3-1h0m24-1h0m-82 5h0m10 2h0m29-1h0m10 3h0m17 1h0m10-1h0m11-2h0m-104 4h0m8 2h0m37 2h0m2-3h0m23 0h0m11 0h0m23 1h0m-92 5h0m13 0h0m11 0h0m6-1h0m-40 3h0m35 2h0m33 0h0m-64 4h0m54-2h0m9 2h0m-24 3h0m30 2h0m26-2h0m-32 5h0m30-1h0m-64 2h0m24 2h0m32 1h0m-73 1h0m36 3h0m-20 3h0m4 1h0m23-1h0m0-2h0m12 2h0m-24 4h0m14 2h0m25-2h0m-2 2h0m-29 7h0m-4 3h0m-1 8h0m5 5h0m13 0h0" stroke="#ee6ea6" stroke-width="3.8" stroke-linecap="round" fill="none"/><path transform="scale(.5)" d="M12 -59h0m-40 7h0m30 0h0m25-2h0m-22 4h0m10 4h0m4-3h0m-37 4h0m3-1h0m-24 6h0m14 5h0m1-1h0m9 0h0m-22 3h0m19 0h0m7 1h0m30 2h0m-62 7h0m81 0h0m8 1h0m-33 1h0m1 3h0m1-1h0m-42 2h0m73 7h0m4-2h0m-85 5h0m16 1h0m17-3h0m8 2h0m29-1h0m-81 6h0m19-2h0m34-1h0m18 1h0m9 0h0m-70 5h0m2 1h0m42-1h0m6 1h0m19-1h0m-82 1h0m1 3h0m24-2h0m2 0h0m-15 6h0m30 1h0m7 0h0m-26 3h0m-19 2h0m11 0h0m3 0h0m17 0h0m17 1h0m-34 5h0m54-2h0m-41 5h0m26-2h0m8 3h0m-5 4h0m4-2h0m6 1h0m-44 5h0m41 0h0m17-2h0m-70 4h0m38 0h0m-36 5h0m7 0h0m35 4h0m-13 6h0m16-2h0m7-2h0m-28 6h0m25 5h0m-19 5h0m10 1h0m9 1h0" stroke="#4b96e6" stroke-width="3.8" stroke-linecap="round" fill="none"/><path transform="scale(.5)" d="M11 -62h0m1 0h0m4 1h0m3 2h0m-16 3h0m24 2h0m-11 1h0m-50 6h0m62-1h0m-39 3h0m10 2h0m19-2h0m1 0h0m-39 3h0m2 1h0m21 1h0m10-1h0m-51 5h0m33 2h0m20-1h0m0-1h0m-46 2h0m18 3h0m22 0h0m-45 4h0m13-3h0m38 2h0m-52 5h0m40 1h0m1-3h0m46 1h0m-5 6h0m-72 2h0m12 0h0m55 2h0m-64 0h0m45 3h0m12 1h0m-79 2h0m36 0h0m17 1h0m19-2h0m-49 7h0m24-2h0m2 1h0m28-3h0m-21 4h0m2 0h0m-37 7h0m6-1h0m21 0h0m-11 4h0m28-1h0m5 0h0m-80 4h0m22 3h0m24-2h0m12 0h0m-45 4h0m6 2h0m30-3h0m10-1h0m15 2h0m27-2h0m-65 5h0m47 10h0m-57 3h0m59 1h0m-55 3h0m13-1h0m31 3h0m-53 4h0m65-3h0m-26 3h0m12 1h0m7 0h0m-16 10h0m-10 13h0" stroke="#ee6ea6" stroke-width="3.8" stroke-linecap="round" fill="none"/><path transform="scale(.5)" d="M25 -62h0m-17 6h0m-33 4h0m31 0h0m23 1h0m-49 3h0m32 1h0m7-1h0m-59 6h0m61 1h0m-14 6h0m12-1h0m-18 3h0m25 1h0m-60 6h0m8 0h0m1-4h0m31 8h0m2-1h0m35 0h0m-60 5h0m-25 3h0m-4 3h0m71 1h0m22-1h0m-100 5h0m19 0h0m20-2h0m13 0h0m41 3h0m-71 1h0m9 2h0m40-1h0m1-1h0m-55 5h0m2 1h0m27 0h0m51-2h0m-98 4h0m68 2h0m16-2h0m20 1h0m-91 4h0m-10 2h0m96 0h0m-72 7h0m5 1h0m23-2h0m19 0h0m-62 2h0m19 2h0m37 0h0m1-1h0m-46 6h0m17 0h0m2-2h0m53-1h0m-77 5h0m28 1h0m3 1h0m46-1h0m-70 5h0m60 0h0m-37 4h0m21 1h0m-28 3h0m14 0h0m-15 3h0m5 1h0m2 4h0m19-1h0m3 0h0m3-2h0m-17 5h0m20 0h0m-13 3h0m2 1h0m-14 10h0" stroke="#4b96e6" stroke-width="3.8" stroke-linecap="round" fill="none"/></g>
<g id="d7" opacity=".93"><path transform="scale(.5)" d="M-28 -50h0m19-1h0m-10 3h0m25-1h0m-37 6h0m22-2h0m46 1h0m-56 5h0m9-1h0m6 0h0m11-2h0m-29 6h0m56 0h0m3 6h0m4-3h0m-34 6h0m15-2h0m-9 4h0m2 2h0m25-1h0m7-1h0m-41 6h0m38-1h0m-82 3h0m54 1h0m7-1h0m2 0h0m-70 5h0m68 2h0m-49 3h0m61-2h0m-78 4h0m22 2h0m10-1h0m28-2h0m4 3h0m7 0h0m-60 4h0m-27 4h0m14-3h0m32 4h0m33 0h0m-73 2h0m4 2h0m90-2h0m-50 3h0m19 1h0m8 0h0m-71 3h0m11 1h0m3-2h0m4 2h0m33-2h0m0 3h0m40 1h0m-62 2h0m27 2h0m28 7h0m-11 7h0m16 0h0m-12 4h0m-11 2h0m19 0h0m-48 5h0m7 0h0m2 0h0m38 0h0m-44 11h0m25-1h0m-33 2h0m36 1h0m3 1h0m8-2h0m-28 3h0" stroke="#ee6ea6" stroke-width="3.8" stroke-linecap="round" fill="none"/><path transform="scale(.5)" d="M29 -48h0m5 0h0m-60 5h0m12-1h0m18 0h0m-17 4h0m1 1h0m20-2h0m8 2h0m4 0h0m-21 4h0m5 0h0m11 0h0m14 0h0m-18 2h0m19-1h0m15 3h0m-52 3h0m16-1h0m25 2h0m-45 2h0m40-1h0m3 1h0m-65 4h0m22-1h0m59 3h0m-6 3h0m-62 4h0m19 1h0m11-2h0m45 3h0m-88 0h0m32 3h0m6-2h0m8 0h0m7 3h0m30 0h0m-90 3h0m9 5h0m70-3h0m5 0h0m-70 7h0m62 0h0m-69 5h0m2 0h0m8-1h0m7 3h0m-33 3h0m4 0h0m26 0h0m5 0h0m14 0h0m9 1h0m-6 4h0m-35 1h0m7 3h0m20-1h0m1-1h0m27 1h0m-51 2h0m6 3h0m7 1h0m40-1h0m13 0h0m1 0h0m-60 3h0m22-1h0m26-1h0m-41 7h0m40 0h0m-37 2h0m23 0h0m-31 3h0m4 1h0m19 0h0m10 1h0m15 1h0m-48 4h0m16 0h0m-4 2h0m10 2h0m-3 2h0m-12 5h0m10 2h0m-20 0h0" stroke="#4b96e6" stroke-width="3.8" stroke-linecap="round" fill="none"/><path transform="scale(.5)" d="M-7 -56h0m-17 5h0m13-1h0m-2 3h0m53-1h0m4 4h0m-68 3h0m48 0h0m15 0h0m-59 2h0m-4 7h0m15-1h0m1 0h0m34-1h0m15-2h0m-67 6h0m24-2h0m7 7h0m23-2h0m15 4h0m-59 4h0m0 2h0m22 4h0m43-2h0m-93 5h0m16 0h0m1 0h0m77 1h0m-109 5h0m68 0h0m23-2h0m2 1h0m-91 3h0m12-1h0m7 2h0m14-2h0m4 2h0m19-2h0m25 0h0m11 7h0m-55 2h0m46 1h0m3-2h0m-66 5h0m10-1h0m20 0h0m42 0h0m-58 7h0m-24 3h0m16 0h0m18-3h0m47 3h0m-70 1h0m19 3h0m8 1h0m-7 2h0m26-1h0m18 3h0m-41 0h0m-8 7h0m1 0h0m30-2h0m4 2h0m18 2h0m-54 7h0m53-1h0m-60 1h0m26 2h0m30-2h0m-44 7h0m23 0h0m-31 4h0m39 0h0m-19 3h0m0 8h0" stroke="#ee6ea6" stroke-width="3.8" stroke-linecap="round" fill="none"/><path transform="scale(.5)" d="M-25 -50h0m11-2h0m-24 3h0m32 2h0m5-2h0m7 1h0m10 2h0m30-1h0m-30 3h0m6-1h0m7 0h0m-12 6h0m-34 2h0m30 1h0m18 5h0m-29 3h0m20 2h0m12-2h0m-31 2h0m5 4h0m9-3h0m8 1h0m18 1h0m-69 3h0m60 0h0m4 2h0m-91 8h0m17-2h0m17 2h0m6-4h0m38 1h0m4 1h0m8 0h0m2-1h0m-92 6h0m4-1h0m8 1h0m10 0h0m16 0h0m24 1h0m28 0h0m17-3h0m-92 6h0m54-2h0m-67 6h0m38 1h0m27-4h0m27 2h0m5-1h0m-29 4h0m-66 4h0m11-1h0m31 0h0m1 3h0m31 1h0m5-1h0m-85 2h0m10 1h0m82 0h0m-81 3h0m71 0h0m-34 4h0m23 3h0m-27 0h0m15 1h0m1 1h0m7 0h0m27 2h0m0-1h0m-38 2h0m8 1h0m14 1h0m-34 1h0m29 0h0m-31 6h0m32-1h0m-18 4h0m0 1h0m-26 3h0m60-1h0m-17 5h0m-15 4h0m11-1h0m-33 6h0m39-2h0m7 1h0" stroke="#4b96e6" stroke-width="3.8" stroke-linecap="round" fill="none"/></g>
<g id="d8" opacity=".93"><path transform="scale(.5)" d="M9 -63h0m7-2h0m-5 4h0m6 1h0m2 0h0m1-1h0m-13 9h0m14 1h0m7 1h0m-37 5h0m16 0h0m21 3h0m-81 8h0m14-1h0m15-1h0m13 4h0m-25 3h0m43 1h0m2 2h0m15 2h0m28 1h0m-77 1h0m1 0h0m12 1h0m2 1h0m57 1h0m-110 1h0m15 2h0m12 1h0m68-1h0m20 0h0m-117 5h0m4 0h0m30-3h0m2 3h0m76-1h0m-97 2h0m18 3h0m10-2h0m16-1h0m16 3h0m-74 4h0m23-1h0m36 0h0m8 1h0m15 0h0m8-3h0m11 2h0m4 1h0m-103 3h0m11-1h0m82 1h0m-72 3h0m-12 6h0m45 1h0m37 3h0m23 1h0m1 1h0m-53 6h0m8 1h0m0-4h0m43 0h0m11 3h0m-75 2h0m25 1h0m49 3h0m-57 6h0m7 3h0m34-2h0m2 3h0m-71 2h0m9 0h0m1 3h0m14-3h0m31 2h0m20-2h0m-32 10h0m-9 4h0" stroke="#ee6ea6" stroke-width="3.8" stroke-linecap="round" fill="none"/><path transform="scale(.5)" d="M3 -61h0m1 7h0m9 4h0m8 0h0m-3 3h0m9-1h0m-29 3h0m2-1h0m-37 8h0m8-3h0m-12 4h0m42 2h0m8-1h0m-59 3h0m23 2h0m15-2h0m26 1h0m9-1h0m-11 5h0m17 0h0m-63 5h0m20-1h0m-4 6h0m38-2h0m18-2h0m-102 8h0m28-3h0m92 3h0m-25 4h0m21-1h0m-94 1h0m23 2h0m58 2h0m9-1h0m-115 1h0m53 2h0m6 0h0m20 1h0m13 0h0m5-1h0m-38 5h0m-49 3h0m14-2h0m71 2h0m19 1h0m-94 2h0m58 1h0m11 0h0m-57 5h0m18-1h0m18-1h0m23 0h0m22 2h0m1-2h0m7-1h0m-96 7h0m32 1h0m-30 3h0m87-1h0m12-2h0m0 7h0m-96 3h0m5 1h0m2 1h0m1-2h0m15 0h0m14 0h0m4-1h0m-47 5h0m0 0h0m4 0h0m15 2h0m68-2h0m-80 4h0m12-1h0m14 1h0m31-2h0m4 3h0m29-1h0m-96 3h0m2 0h0m51 1h0m8 2h0m9-4h0m19 1h0m-86 4h0m48 0h0m5 2h0m-2 3h0m5 3h0" stroke="#4b96e6" stroke-width="3.8" stroke-linecap="round" fill="none"/><path transform="scale(.5)" d="M8 -66h0m7 14h0m-13 2h0m19 2h0m-31 5h0m-42 4h0m2-1h0m1 0h0m10-1h0m46 2h0m7-1h0m-57 2h0m14 1h0m-20 5h0m10 2h0m55-3h0m5 6h0m-80 3h0m97 0h0m6-1h0m15 5h0m-21 5h0m-57 3h0m27 1h0m34 1h0m14-1h0m-75 3h0m7 1h0m32-2h0m2 0h0m5 3h0m2-2h0m23-2h0m-110 4h0m2 2h0m4-1h0m16 0h0m11 1h0m20-2h0m7 2h0m-54 3h0m8-1h0m1 1h0m19 0h0m29 0h0m35 1h0m-87 4h0m13 2h0m22-2h0m11 0h0m2 0h0m12 1h0m32-2h0m-4 7h0m-64 3h0m14 4h0m9 1h0m2 0h0m21-1h0m18 0h0m-30 2h0m54 1h0m-104 2h0m53 1h0m48 1h0m-52 5h0m17-2h0m5 2h0m2-2h0m8 3h0m18-1h0m-96 3h0m75-1h0m1 2h0m-66 4h0m13-2h0m25 0h0m-32 4h0m14 4h0" stroke="#ee6ea6" stroke-width="3.8" stroke-linecap="round" fill="none"/><path transform="scale(.5)" d="M4 -58h0m11-3h0m-19 10h0m-3 1h0m11 6h0m-52 4h0m1-2h0m51 3h0m6-2h0m11 0h0m6 2h0m-34 2h0m6 2h0m9-1h0m17-1h0m-42 4h0m17 1h0m17-2h0m-65 5h0m40-1h0m39 4h0m-9 2h0m9 0h0m1-1h0m-52 6h0m37 0h0m7 1h0m-84 0h0m10 1h0m1 2h0m87 0h0m1 1h0m-52 2h0m-22 2h0m8 3h0m10 1h0m-51 7h0m27-3h0m47 3h0m9-3h0m5 2h0m-78 3h0m9 0h0m28 3h0m4-1h0m8 0h0m55-3h0m-87 7h0m1-1h0m30-1h0m24-1h0m26 1h0m-36 6h0m16 0h0m36 0h0m-63 4h0m33-1h0m4 0h0m2 0h0m5-2h0m3 1h0m-62 6h0m7-2h0m41 2h0m16-2h0m2 2h0m-40 4h0m20-1h0m1 2h0m13-1h0m10 0h0m-56 1h0m3 1h0m25 0h0m16 3h0m-50 1h0m6 2h0m48 2h0m11 0h0m-91 4h0m31 2h0m29-1h0m6 1h0m-30 5h0m25 0h0m2-3h0m-12 4h0m-11 3h0m6 3h0m16 1h0" stroke="#4b96e6" stroke-width="3.8" stroke-linecap="round" fill="none"/></g>
<g id="d9" opacity=".93"><path transform="scale(.5)" d="M27 -53h0m-58 7h0m14-3h0m0 2h0m10-1h0m2-1h0m46 2h0m-9 2h0m-54 5h0m23-2h0m37 0h0m10 2h0m-79 2h0m16 3h0m36 0h0m-33 3h0m0-2h0m58 1h0m-69 5h0m26 0h0m-30 3h0m11 1h0m0 5h0m7-2h0m39 0h0m-79 4h0m17 4h0m0 2h0m35-1h0m9 2h0m18-2h0m-64 4h0m0 5h0m-23 2h0m22 0h0m10 2h0m50-1h0m10 1h0m25-2h0m-58 6h0m2-1h0m22 0h0m19-1h0m-80 5h0m24 1h0m23-3h0m2 0h0m3 0h0m5 3h0m-38 4h0m2 0h0m33-1h0m6-1h0m19 1h0m5-1h0m3 2h0m-13 2h0m-64 6h0m39-1h0m7-1h0m7 0h0m15 3h0m-89 2h0m19 1h0m40 1h0m22 0h0m-53 1h0m60 3h0m17-2h0m-93 4h0m57 1h0m32-2h0m-36 4h0m21 3h0m-64 4h0m32-2h0m5 0h0m29-2h0m14 0h0m-79 7h0m5-3h0m28 2h0m-27 5h0m16 1h0m-3 3h0m18-2h0m-2 12h0" stroke="#ee6ea6" stroke-width="3.8" stroke-linecap="round" fill="none"/><path transform="scale(.5)" d="M8 -50h0m8-1h0m1 1h0m3-4h0m17 1h0m-48 5h0m56 1h0m-38 5h0m-38 0h0m24 3h0m2-3h0m3 1h0m15 2h0m5 11h0m14-2h0m-91 7h0m57 1h0m42-2h0m-96 3h0m9 0h0m2 1h0m32-1h0m-34 4h0m22 2h0m0-1h0m15 0h0m10 0h0m53 2h0m-110 3h0m19-2h0m-4 4h0m6 2h0m24-3h0m19 3h0m25 1h0m-79 3h0m3 0h0m4-2h0m3 3h0m34-1h0m6-2h0m26 0h0m28 3h0m-60 1h0m63-1h0m-84 5h0m4-1h0m-22 5h0m25 0h0m3 1h0m9-1h0m40 3h0m-102 3h0m78-1h0m3 2h0m21-2h0m12 6h0m7-3h0m-114 5h0m70 1h0m1-3h0m-15 8h0m12 0h0m-56 1h0m34 0h0m22-1h0m45 1h0m-60 6h0m10 0h0m10-2h0m26 2h0m-66 2h0m9 2h0m4-1h0m16 1h0m56-3h0m-56 6h0m-24 3h0m29 14h0" stroke="#4b96e6" stroke-width="3.8" stroke-linecap="round" fill="none"/><path transform="scale(.5)" d="M19 -49h0m-15 3h0m12 1h0m19-1h0m-30 6h0m26 1h0m6-3h0m-63 6h0m17 1h0m8 1h0m5-1h0m38 0h0m-46 1h0m48 2h0m-62 4h0m17 2h0m-60 11h0m105-2h0m-108 3h0m16 1h0m21 1h0m21 0h0m22 1h0m-84 5h0m10-1h0m43-2h0m13 2h0m6-1h0m-63 5h0m36-3h0m10 4h0m1-3h0m32-1h0m3 4h0m-20 1h0m-72 5h0m5 0h0m50-1h0m28-1h0m-58 6h0m0-2h0m4 2h0m5 1h0m46-1h0m28 0h0m-102 4h0m16 0h0m13 1h0m7 0h0m2-2h0m56 1h0m9-1h0m-98 5h0m19-1h0m10 2h0m71-2h0m5 0h0m-103 5h0m5 2h0m38-2h0m63 1h0m-68 5h0m40-4h0m-71 7h0m5-1h0m0-2h0m53 4h0m40 0h0m-79 3h0m14-2h0m16 1h0m36 2h0m2-2h0m-27 3h0m25 2h0m15-2h0m4 2h0m-59 4h0m16 1h0m-39 1h0m28 1h0m18-2h0m-37 6h0m9-1h0m13 0h0m2 2h0m9 11h0" stroke="#ee6ea6" stroke-width="3.8" stroke-linecap="round" fill="none"/><path transform="scale(.5)" d="M5 -55h0m-11 3h0m12 0h0m0 1h0m23 1h0m14-1h0m-37 1h0m-29 8h0m0-1h0m49 0h0m-52 4h0m57-3h0m6 3h0m-22 2h0m-39 10h0m57-1h0m-41 5h0m-14 5h0m10-2h0m11 1h0m46 0h0m-81 4h0m6 0h0m67-1h0m-84 5h0m7-1h0m2 2h0m25-4h0m14 4h0m25-4h0m14 2h0m-94 6h0m43 0h0m23-1h0m39 0h0m-117 2h0m55 1h0m34-2h0m26 4h0m7 0h0m-112 1h0m36 2h0m51-2h0m13 2h0m10-2h0m-109 5h0m48-1h0m46 0h0m-72 4h0m59 2h0m28-3h0m-115 7h0m69-3h0m-73 6h0m32 3h0m10 2h0m68-3h0m-105 7h0m16-3h0m42 2h0m33 2h0m0-3h0m8 2h0m-65 5h0m23-4h0m25 2h0m3-1h0m8 2h0m-55 1h0m18 2h0m28 1h0m-50 2h0m21 3h0m-7 7h0m11 0h0m22-1h0m-14 5h0m6-2h0m8 0h0m-15 10h0" stroke="#4b96e6" stroke-width="3.8" stroke-linecap="round" fill="none"/></g>
<g id="d10" opacity=".93"><path transform="scale(.5)" d="M-15 -60h0m2 9h0m-16 4h0m10-1h0m2 0h0m6 0h0m-5 2h0m37 3h0m-40 5h0m5-2h0m54 1h0m-71 5h0m2-4h0m-10 4h0m76 1h0m11 0h0m-93 4h0m7 2h0m12-1h0m8-2h0m21 3h0m-54 3h0m22 0h0m47 0h0m14-1h0m22 1h0m-89 3h0m25 2h0m3 0h0m32-2h0m10 2h0m-82 3h0m23 1h0m15-1h0m21 1h0m43-1h0m-98 2h0m16 4h0m30-3h0m35 3h0m-54 3h0m28 0h0m4-1h0m-72 3h0m15 0h0m27 2h0m11 0h0m30 0h0m9 0h0m-74 5h0m14 0h0m17-1h0m11 1h0m-31 1h0m59 0h0m16 3h0m5-3h0m1 3h0m-42 1h0m32 0h0m15 0h0m-117 6h0m26 0h0m36-1h0m32 1h0m-73 1h0m74 3h0m-70 3h0m20-1h0m-10 6h0m33 0h0m22-1h0m-47 4h0m6 0h0m47 1h0m-39 1h0m28 4h0m12 1h0m-34 7h0m6-2h0m-21 9h0m6-3h0m38 1h0m-3 7h0m-3 6h0" stroke="#ee6ea6" stroke-width="3.8" stroke-linecap="round" fill="none"/><path transform="scale(.5)" d="M-16 -50h0m-13 5h0m10 1h0m14 2h0m-32 4h0m9-3h0m1 1h0m46 8h0m4-1h0m-72 7h0m33-1h0m24-2h0m31 1h0m4 2h0m-87 1h0m62 1h0m11 0h0m-77 5h0m29-2h0m20 2h0m36 0h0m14-1h0m-68 5h0m2-3h0m24 3h0m7-1h0m30 1h0m-29 3h0m-75 3h0m2 2h0m8-1h0m45-2h0m-1 7h0m21 1h0m30-4h0m9 2h0m-106 5h0m7-1h0m21-2h0m11 0h0m54 3h0m-52 2h0m25-1h0m29 3h0m3-2h0m-41 5h0m-55 3h0m25 0h0m38 3h0m7-2h0m2 0h0m9-1h0m24-1h0m-100 5h0m32 0h0m33 1h0m15-2h0m-62 6h0m2 1h0m26-1h0m21-1h0m-39 11h0m13-4h0m5 4h0m7-4h0m5 3h0m-42 3h0m-4 3h0m31 1h0m29-2h0m-57 5h0m-1 5h0m53 1h0m12-3h0m-52 4h0m12 1h0m21-1h0m7 2h0m12 1h0m-13 7h0" stroke="#4b96e6" stroke-width="3.8" stroke-linecap="round" fill="none"/><path transform="scale(.5)" d="M-22 -47h0m-17 12h0m1-3h0m3 3h0m17-2h0m60-1h0m3 2h0m-12 4h0m20 2h0m-86 3h0m57 0h0m1-1h0m10 0h0m-76 2h0m52 1h0m38 0h0m-54 4h0m4 1h0m11-2h0m-50 4h0m0 1h0m94 0h0m-77 4h0m47 2h0m-63 1h0m13 1h0m0 2h0m26-1h0m24 0h0m14-1h0m6 3h0m4 0h0m-102 4h0m2-1h0m4-3h0m16 1h0m12 3h0m70-2h0m-87 4h0m23-1h0m44 0h0m-59 5h0m9 2h0m28-4h0m38 1h0m-88 7h0m23-2h0m33 0h0m15-2h0m9 3h0m12 1h0m-102 1h0m13 0h0m26 1h0m17 1h0m5 0h0m18-3h0m3 0h0m25 1h0m-43 4h0m-50 5h0m10 2h0m5 0h0m15 0h0m5-1h0m18 0h0m11 0h0m-51 3h0m-5 3h0m14-1h0m34 7h0m14-2h0m2 1h0m-39 6h0m15-1h0m27-3h0m-62 7h0m23 1h0m15-2h0m0-1h0m-3 5h0m1 2h0m26-3h0m-49 5h0m5 2h0" stroke="#ee6ea6" stroke-width="3.8" stroke-linecap="round" fill="none"/><path transform="scale(.5)" d="M-20 -58h0m11 5h0m-22 6h0m23-2h0m2 10h0m23 0h0m14-3h0m-53 7h0m23-3h0m10 0h0m22 2h0m-54 8h0m5-1h0m14 1h0m9-1h0m11 0h0m-44 7h0m14-1h0m5 1h0m24-2h0m23-2h0m-3 6h0m-58 3h0m43 1h0m10 0h0m5-1h0m-88 3h0m4 4h0m11-4h0m20 2h0m12 0h0m18 1h0m37-1h0m-68 6h0m13-3h0m18 1h0m16-1h0m1 3h0m-68 3h0m49 1h0m9 0h0m10-1h0m4-2h0m-96 6h0m3 0h0m38 3h0m10 1h0m-43 1h0m15 2h0m40 0h0m-44 5h0m15-3h0m31 3h0m-49 2h0m10-1h0m22 3h0m55-2h0m2 1h0m3 2h0m-26 3h0m11 1h0m-40 4h0m6 2h0m24 1h0m3-2h0m3 5h0m-58 3h0m5 1h0m41 0h0m2 3h0m4 1h0m-45 2h0m19 2h0m47 2h0m-64 2h0m30 0h0m12-2h0m10 6h0m-9 3h0m14 0h0" stroke="#4b96e6" stroke-width="3.8" stroke-linecap="round" fill="none"/></g>
<g id="d11" opacity=".93"><path transform="scale(.5)" d="M0 -58h0m-16 9h0m15 0h0m4 2h0m-11 1h0m44 2h0m-69 3h0m19 2h0m-11 3h0m8 1h0m44 0h0m14-3h0m-33 5h0m5 2h0m21 0h0m-74 4h0m3-1h0m54 2h0m-60 2h0m5-1h0m16 2h0m7-1h0m5 1h0m8-2h0m14-1h0m8 0h0m17 1h0m11 2h0m-35 3h0m-33 4h0m22-1h0m10 2h0m4-3h0m15 3h0m12-2h0m0 3h0m9-2h0m-92 3h0m57 3h0m20-3h0m9 0h0m4 0h0m12 2h0m-108 4h0m48-1h0m21 3h0m-69 3h0m32 1h0m8 1h0m11 1h0m3 1h0m29-2h0m-53 5h0m33-1h0m2 1h0m-55 5h0m2 0h0m33-3h0m-24 4h0m5 4h0m-17 5h0m20-1h0m10 0h0m22 2h0m-60 4h0m29-2h0m40-1h0m-13 7h0m-51 1h0m7 2h0m7 1h0m42 1h0m17-3h0m-83 7h0m25-3h0m9-1h0m-1 4h0m13 3h0m37-1h0m-43 10h0m-6 1h0m-13 4h0m4 3h0m5 4h0" stroke="#ee6ea6" stroke-width="3.8" stroke-linecap="round" fill="none"/><path transform="scale(.5)" d="M-12 -56h0m0 2h0m13 0h0m10 1h0m19 6h0m4-2h0m-24 4h0m10 0h0m5 1h0m-12 6h0m9 2h0m4 0h0m-47 4h0m50 1h0m-59 4h0m52-3h0m7 6h0m15-1h0m-44 5h0m8 1h0m-42 4h0m0 0h0m33-2h0m23 1h0m17 2h0m14-2h0m8 2h0m-86 1h0m1 2h0m49-1h0m-33 5h0m24-3h0m23 3h0m9-2h0m-51 6h0m13-1h0m39 0h0m4-2h0m13 3h0m-49 4h0m27-1h0m-91 6h0m80-1h0m-48 4h0m36 0h0m25-3h0m-36 6h0m20 0h0m-81 3h0m15-1h0m21 1h0m1 0h0m24 0h0m-69 3h0m56 0h0m8 2h0m-8 3h0m9-1h0m39 3h0m-77 4h0m52 4h0m3-1h0m5 1h0m2-3h0m-15 6h0m6 1h0m24 0h0m5-1h0m4 1h0m-11 5h0m6-4h0m-70 6h0m9-1h0m34 3h0m11 0h0m3 4h0m1-3h0m3 4h0" stroke="#4b96e6" stroke-width="3.8" stroke-linecap="round" fill="none"/><path transform="scale(.5)" d="M-18 -47h0m58 0h0m-48 2h0m9 1h0m18-1h0m6 2h0m-18 2h0m27 1h0m-41 9h0m4-1h0m5 4h0m-36 8h0m34 1h0m16-2h0m-56 5h0m19-1h0m3 0h0m44 1h0m9-1h0m23 4h0m-89 4h0m7 3h0m63 0h0m6-3h0m17 3h0m1-3h0m-97 6h0m69-2h0m-73 5h0m3 1h0m61 0h0m-20 4h0m34-2h0m-64 4h0m5-1h0m17 3h0m8-1h0m13 1h0m-62 4h0m8 0h0m11-1h0m6-2h0m-34 5h0m0 3h0m8-2h0m12-2h0m2 0h0m26 3h0m36-1h0m10 0h0m-50 4h0m25 0h0m-62 2h0m20 4h0m26-3h0m0 0h0m22 0h0m8-1h0m3 1h0m-86 4h0m13 3h0m24-2h0m29 1h0m24-2h0m-1 4h0m-82 3h0m14 3h0m6-3h0m13 2h0m4-2h0m3 1h0m2 2h0m49-3h0m-50 7h0m27-3h0m-50 4h0m15 2h0m39 0h0m23-2h0m-79 6h0m7 2h0m11-3h0m-11 8h0m5-1h0" stroke="#ee6ea6" stroke-width="3.8" stroke-linecap="round" fill="none"/><path transform="scale(.5)" d="M-7 -57h0m3 7h0m9 0h0m-1 7h0m-10 5h0m32-4h0m-42 5h0m30 3h0m29-1h0m-64 2h0m2 0h0m6 1h0m31 0h0m-39 6h0m5-2h0m-10 6h0m22-4h0m29 2h0m-36 6h0m9-3h0m0 0h0m47 0h0m5 0h0m-94 5h0m4 0h0m54 2h0m-55 7h0m7-2h0m37 0h0m9 0h0m14 0h0m-67 5h0m63 1h0m9 1h0m2 0h0m-66 1h0m16 1h0m34 1h0m-51 1h0m11 0h0m6 0h0m41 2h0m2 1h0m22 0h0m-59 1h0m52 3h0m-51 4h0m5-2h0m6 2h0m13-1h0m3-1h0m13 3h0m-76 0h0m17 1h0m54 1h0m15 1h0m-18 2h0m12 1h0m-66 5h0m39-1h0m-54 4h0m95 1h0m-103 3h0m2 1h0m29 1h0m11 0h0m-37 3h0m15 0h0m48 0h0m17-1h0m-62 6h0m3-1h0m10 1h0m13-2h0m42 0h0m12 6h0m-80 2h0m19-1h0m44 4h0" stroke="#4b96e6" stroke-width="3.8" stroke-linecap="round" fill="none"/></g>
</defs>
<use href="#d11" transform="translate(851 693.3)"/>
<use href="#d2" transform="translate(932.3 692.8)"/>
<use href="#d8" transform="translate(1014.4 692.7)"/>
<use href="#d5" transform="translate(1097.4 693.8)"/>
<use href="#d1" transform="translate(1179.9 694.7)"/>
<use href="#d3" transform="translate(1263.1 693.2)"/>
<use href="#d10" transform="translate(1344.8 694.4)"/>
<use href="#d7" transform="translate(1426.8 694.6)"/>
<use href="#d0" transform="translate(1509.5 693.3)"/>
<use href="#d4" transform="translate(932.1 785.4)"/>
<use href="#d9" transform="translate(1014.9 785.3)"/>
<use href="#d6" transform="translate(1097.4 785.4)"/>
<use href="#d6" transform="translate(1179.4 784.9) rotate(90)"/>
<use href="#d0" transform="translate(1262.4 784.1) rotate(90)"/>
<use href="#d3" transform="translate(1345.1 784.6) rotate(90)"/>
<use href="#d5" transform="translate(1426.8 784.5) rotate(90)"/>
<use href="#d2" transform="translate(1508.5 784) rotate(90)"/>
<use href="#d1" transform="translate(1015.3 876.3) rotate(90)"/>
<use href="#d8" transform="translate(1096.6 877) rotate(90)"/>
<use href="#d10" transform="translate(1179.7 876) rotate(90)"/>
<use href="#d11" transform="translate(1263.1 875.3) rotate(90)"/>
<use href="#d7" transform="translate(1345.3 875.4) rotate(90)"/>
<use href="#d9" transform="translate(1427.5 876.9) rotate(90)"/>
<use href="#d4" transform="translate(1509.8 875.5) rotate(90)"/>
<use href="#d9" transform="translate(1096.9 967.2) rotate(180) scale(-1 1)"/>
<use href="#d2" transform="translate(1179.6 967.6) rotate(180) scale(-1 1)"/>
<use href="#d8" transform="translate(1262.1 968.1) rotate(180) scale(-1 1)"/>
<use href="#d6" transform="translate(1344.3 967.2) rotate(180) scale(-1 1)"/>
<use href="#d0" transform="translate(1426.1 966.6) rotate(180) scale(-1 1)"/>
<use href="#d5" transform="translate(1509.4 968.5) rotate(180) scale(-1 1)"/>
<use href="#d3" transform="translate(1179.6 1058.5) rotate(180) scale(-1 1)"/>
<use href="#d4" transform="translate(1261.9 1057.9) rotate(180) scale(-1 1)"/>
<use href="#d10" transform="translate(1343.8 1058.1) rotate(180) scale(-1 1)"/>
<use href="#d1" transform="translate(1426.6 1058) rotate(180) scale(-1 1)"/>
<use href="#d11" transform="translate(1508.9 1058.8) rotate(180) scale(-1 1)"/>
<use href="#d7" transform="translate(1262.5 1151) rotate(180) scale(-1 1)"/>
<use href="#d10" transform="translate(1344.1 1149.3) rotate(270)"/>
<use href="#d4" transform="translate(1426.3 1149.3) rotate(270)"/>
<use href="#d1" transform="translate(1509.9 1151) rotate(270)"/>
<use href="#d8" transform="translate(1343.4 1240.9) rotate(270)"/>
<use href="#d11" transform="translate(1427.6 1242.3) rotate(270)"/>
<use href="#d0" transform="translate(1509.4 1241.1) rotate(270)"/>
<use href="#d3" transform="translate(1426.4 1332.8) rotate(270)"/>
<use href="#d6" transform="translate(1509.8 1332.1) rotate(270)"/>
<use href="#d2" transform="translate(1509.6 1423.2) rotate(270)"/>
<path d="M808.6 646.6h82.3v91.3h-82.3zM890.9 646.6h82.3v91.3h-82.3zM973.2 646.6h82.3v91.3h-82.3zM1055.4 646.6h82.3v91.3h-82.3zM1137.7 646.6h82.3v91.3h-82.3zM1220 646.6h82.3v91.3h-82.3zM1302.3 646.6h82.3v91.3h-82.3zM1384.6 646.6h82.3v91.3h-82.3zM1466.8 646.6h82.3v91.3h-82.3zM890.9 737.9h82.3v91.3h-82.3zM973.2 737.9h82.3v91.3h-82.3zM1055.4 737.9h82.3v91.3h-82.3zM1137.7 737.9h82.3v91.3h-82.3zM1220 737.9h82.3v91.3h-82.3zM1302.3 737.9h82.3v91.3h-82.3zM1384.6 737.9h82.3v91.3h-82.3zM1466.8 737.9h82.3v91.3h-82.3zM973.2 829.1h82.3v91.3h-82.3zM1055.4 829.1h82.3v91.3h-82.3zM1137.7 829.1h82.3v91.3h-82.3zM1220 829.1h82.3v91.3h-82.3zM1302.3 829.1h82.3v91.3h-82.3zM1384.6 829.1h82.3v91.3h-82.3zM1466.8 829.1h82.3v91.3h-82.3zM1055.4 920.4h82.3v91.3h-82.3zM1137.7 920.4h82.3v91.3h-82.3zM1220 920.4h82.3v91.3h-82.3zM1302.3 920.4h82.3v91.3h-82.3zM1384.6 920.4h82.3v91.3h-82.3zM1466.8 920.4h82.3v91.3h-82.3zM1137.7 1011.7h82.3v91.3h-82.3zM1220 1011.7h82.3v91.3h-82.3zM1302.3 1011.7h82.3v91.3h-82.3zM1384.6 1011.7h82.3v91.3h-82.3zM1466.8 1011.7h82.3v91.3h-82.3zM1220 1103h82.3v91.3h-82.3zM1302.3 1103h82.3v91.3h-82.3zM1384.6 1103h82.3v91.3h-82.3zM1466.8 1103h82.3v91.3h-82.3zM1302.3 1194.2h82.3v91.3h-82.3zM1384.6 1194.2h82.3v91.3h-82.3zM1466.8 1194.2h82.3v91.3h-82.3zM1384.6 1285.5h82.3v91.3h-82.3zM1466.8 1285.5h82.3v91.3h-82.3zM1466.8 1376.8h82.3v91.3h-82.3z" fill="none" stroke="#e6e6e6" stroke-width="1"/>
<text x="770.7" y="631.3" font-size="24" text-anchor="middle">G1</text>
<text x="1567" y="697" font-size="24">G1</text>
<text x="853.8" y="631.3" font-size="24" text-anchor="middle">G2</text>
<text x="1567" y="789.2" font-size="24">G2</text>
<text x="936.9" y="631.3" font-size="24" text-anchor="middle">G3</text>
<text x="1567" y="881.4" font-size="24">G3</text>
<text x="1020" y="631.3" font-size="24" text-anchor="middle">G4</text>
<text x="1567" y="973.6" font-size="24">G4</text>
<text x="1103.1" y="631.3" font-size="24" text-anchor="middle">G5</text>
<text x="1567" y="1065.8" font-size="24">G5</text>
<text x="1186.2" y="631.3" font-size="24" text-anchor="middle">G6</text>
<text x="1567" y="1158" font-size="24">G6</text>
<text x="1269.3" y="631.3" font-size="24" text-anchor="middle">G7</text>
<text x="1567" y="1250.2" font-size="24">G7</text>
<text x="1352.4" y="631.3" font-size="24" text-anchor="middle">G8</text>
<text x="1567" y="1342.4" font-size="24">G8</text>
<text x="1435.5" y="631.3" font-size="24" text-anchor="middle">G9</text>
<text x="1567" y="1434.6" font-size="24">G9</text>
<text x="1520" y="631.3" font-size="24" text-anchor="middle">G10</text>
<text x="1567" y="1526.8" font-size="24">G10</text>
<path d="M134 2035V2032h.963V2033h.963V2033.7h.963V2033.6h.963V2033.7h.963V2033.6h.963V2034.4h.963V2034h.963V2033.6h.963V2033.8h.963V2033.6h.963V2034.3h.963V2034h.963V2034.2h.963V2033.9h.963V2033.9h.963V2034.4h.963V2034.2h.963V2034.1h.963V2033.6h.963V2033.7h.963V2034.3h.963V2033.7h.963V2034.3h.963V2033.9h.963V2034.3h.963V2034.4h.963V2033.6h.963V2034.2h.963V2034.2h.963V2033.5h.963V2033.6h.963V2034.1h.963V2033.5h.963V2033.9h.963V2033.8h.963V2034.2h.963V2033.6h.963V2033.8h.963V2033.5h.963V2033.6h.963V2034.1h.963V2034.1h.963V2034.2h.963V2034.3h.963V2034.3h.963V2034.1h.963V2033.9h.963V2034.4h.963V2033.8h.963V2034.1h.963V2034.1h.963V2033.7h.963V2034h.963V2034.1h.963V2034h.963V2033.8h.963V2034.3h.963V2033.5h.963V2034.4h.963V2033.7h.963V2033.6h.963V2034.4h.963V2033.7h.963V2034.1h.963V2033.9h.963V2034.4h.963V2034.4h.963V2034.2h.963V2033.6h.963V2034.2h.963V2033.7h.963V2033.6h.963V2033.6h.963V2034.1h.963V2034.1h.963V2033.9h.963V2033.7h.963V2034.3h.963V2033.7h.963V2033.7h.963V2033.6h.963V2034.4h.963V2033.6h.963V2034.3h.963V2034.1h.963V2033.9h.963V2033.6h.963V2034.1h.963V2033.6h.963V2033.9h.963V2034.1h.963V2034.1h.963V2034.2h.963V2034.3h.963V2034.3h.963V2033.8h.963V2033.5h.963V2034.2h.963V2034.3h.963V2033.5h.963V2033.9h.963V2034h.963V2034.2h.963V2033.9h.963V2033.7h.963V2034h.963V2034h.963V2034.3h.963V2033.6h.963V2034.4h.963V2034h.963V2033.6h.963V2034.3h.963V2033.7h.963V2033.5h.963V2033.8h.963V2033.7h.963V2034.3h.963V2034h.963V2034.3h.963V2033.6h.963V2034.1h.963V2034h.963V2033.5h.963V2033.6h.963V2033.5h.963V2034h.963V2033.9h.963V2033.7h.963V2034h.963V2034.1h.963V2034h.963V2034.3h.963V2034h.963V2033.5h.963V2033.5h.963V2033.8h.963V2033.9h.963V2034.1h.963V2034.3h.963V2034.1h.963V2033.7h.963V2033.6h.963V2034.1h.963V2033.7h.963V2033.7h.963V2033.8h.963V2033.8h.963V2033.7h.963V2034.1h.963V2033.7h.963V2034.1h.963V2033.9h.963V2033.7h.963V2033.8h.963V2034.1h.963V2033.5h.963V2033.8h.963V2033.9h.963V2034.4h.963V2033.9h.963V2034.1h.963V2033.8h.963V2034h.963V2033.6h.963V2033.8h.963V2033.6h.963V2034.1h.963V2033.8h.963V2033.7h.963V2033.6h.963V2034.1h.963V2033.6h.963V2033.6h.963V2033.7h.963V2033.5h.963V2033.5h.963V2033.9h.963V2033.9h.963V2034.2h.963V2033.6h.963V2033.5h.963V2033.9h.963V2033.7h.963V2033.7h.963V2033.7h.963V2034.2h.963V2033.6h.963V2033.8h.963V2033.7h.963V2034h.963V2033.8h.963V2033.6h.963V2033.8h.963V2033.7h.963V2034.3h.963V2034.2h.963V2034h.963V2033.8h.963V2034.2h.963V2033.7h.963V2033.8h.963V2034.3h.963V2033.9h.963V2034.1h.963V2034.3h.963V2034.2h.963V2034.1h.963V2034.2h.963V2034.2h.963V2034.3h.963V2033.9h.963V2034h.963V2033.8h.963V2033.8h.963V2034.1h.963V2033.5h.963V2034.3h.963V2034h.963V2034.1h.963V2034h.963V2034.2h.963V2033.6h.963V2034h.963V2034.3h.963V2033.8h.963V2034.3h.963V2033.8h.963V2034h.963V2033.8h.963V2033.4h.963V2033.6h.963V2033.9h.963V2033.6h.963V2033.7h.963V2034h.963V2034.2h.963V2033.8h.963V2033.8h.963V2033.4h.963V2033.4h.963V2033.7h.963V2034h.963V2033.5h.963V2034.3h.963V2034.2h.963V2033.8h.963V2033.7h.963V2034.2h.963V2033.7h.963V2033.5h.963V2034h.963V2033.9h.963V2034.1h.963V2034h.963V2033.4h.963V2033.9h.963V2033.4h.963V2033.4h.963V2033.7h.963V2034.1h.963V2033.3h.963V2033.8h.963V2033.9h.963V2034h.963V2033.3h.963V2033.8h.963V2034h.963V2033.8h.963V2034.2h.963V2033.7h.963V2033.9h.963V2034h.963V2033.5h.963V2033.5h.963V2034.3h.963V2033.8h.963V2034h.963V2033.3h.963V2033.5h.963V2034h.963V2034h.963V2034.1h.963V2033.3h.963V2034h.963V2033.7h.963V2033.8h.963V2033.6h.963V2033.7h.963V2033.5h.963V2034.2h.963V2033.5h.963V2034h.963V2033.7h.963V2033.9h.963V2034h.963V2033.7h.963V2033.8h.963V2033.9h.963V2033.5h.963V2033.7h.963V2034.2h.963V2034h.963V2033.8h.963V2033.3h.963V2033.3h.963V2033.7h.963V2034.3h.963V2033.4h.963V2033.8h.963V2033.6h.963V2033.5h.963V2033.6h.963V2033.7h.963V2033.3h.963V2033.8h.963V2033.8h.963V2033.3h.963V2034h.963V2033.9h.963V2033.3h.963V2034.2h.963V2033.3h.963V2033.5h.963V2033.8h.963V2033.9h.963V2033.4h.963V2033.2h.963V2034.1h.963V2033.7h.963V2033.6h.963V2033.7h.963V2033.9h.963V2034.1h.963V2033.6h.963V2033.3h.963V2034.2h.963V2034h.963V2033.3h.963V2033.3h.963V2033.5h.963V2034.2h.963V2033.4h.963V2033.1h.963V2033.1h.963V2033.4h.963V2034.2h.963V2033.2h.963V2034h.963V2033.5h.963V2033.1h.963V2033.4h.963V2034h.963V2033.9h.963V2033.1h.963V2034h.963V2033.5h.963V2033.7h.963V2034h.963V2033.5h.963V2034.1h.963V2034.1h.963V2033.7h.963V2034.1h.963V2034.1h.963V2033.5h.963V2033.3h.963V2033.1h.963V2034h.963V2033.7h.963V2033.8h.963V2033.4h.963V2033.6h.963V2033h.963V2033.7h.963V2034.1h.963V2033.3h.963V2034h.963V2033.4h.963V2033.5h.963V2033h.963V2033.5h.963V2033.4h.963V2033.8h.963V2033.5h.963V2033.8h.963V2033.2h.963V2033.5h.963V2034h.963V2033.8h.963V2033.7h.963V2033.2h.963V2033.9h.963V2033.2h.963V2033.3h.963V2034h.963V2033.3h.963V2034h.963V2034h.963V2033.3h.963V2033.8h.963V2033h.963V2033.5h.963V2033.7h.963V2033.1h.963V2034.1h.963V2033.1h.963V2034h.963V2033.9h.963V2032.8h.963V2033.2h.963V2033.8h.963V2033.9h.963V2032.8h.963V2033.2h.963V2033h.963V2033.9h.963V2033.2h.963V2033.6h.963V2033.7h.963V2033.6h.963V2033.2h.963V2033.6h.963V2033.5h.963V2033.9h.963V2032.9h.963V2033.1h.963V2032.9h.963V2033.4h.963V2032.8h.963V2033.3h.963V2033.2h.963V2033.2h.963V2033h.963V2033.5h.963V2033.9h.963V2034h.963V2033.7h.963V2034h.963V2032.7h.963V2033.3h.963V2032.9h.963V2034h.963V2033.3h.963V2032.7h.963V2033.1h.963V2033.4h.963V2033.3h.963V2033.8h.963V2033.7h.963V2033.7h.963V2033.4h.963V2033.4h.963V2032.6h.963V2033.7h.963V2033.6h.963V2033.5h.963V2033.7h.963V2033.5h.963V2033.6h.963V2033.2h.963V2033.9h.963V2032.5h.963V2033.4h.963V2032.5h.963V2032.8h.963V2032.9h.963V2033.2h.963V2032.4h.963V2033.7h.963V2032.8h.963V2033.4h.963V2032.8h.963V2032.7h.963V2033.6h.963V2033.6h.963V2033.8h.963V2033.5h.963V2033.7h.963V2033.2h.963V2032.2h.963V2033.2h.963V2033.3h.963V2033.1h.963V2033.4h.963V2032.6h.963V2032.6h.963V2033.5h.963V2033.4h.963V2032.7h.963V2032.2h.963V2032.7h.963V2033h.963V2032.1h.963V2033.8h.963V2033.7h.963V2032.4h.963V2033h.963V2033.7h.963V2032.8h.963V2032h.963V2032.8h.963V2033.1h.963V2033.6h.963V2033.6h.963V2032.1h.963V2032.8h.963V2032h.963V2033.6h.963V2033.2h.963V2033.6h.963V2032.9h.963V2033.6h.963V2033.2h.963V2032.9h.963V2033.1h.963V2033.5h.963V2033.6h.963V2031.7h.963V2033.3h.963V2032.6h.963V2032.8h.963V2032.5h.963V2033.4h.963V2032.9h.963V2033.4h.963V2032.4h.963V2031.6h.963V2032.3h.963V2031.7h.963V2033.1h.963V2033.5h.963V2032.3h.963V2032.4h.963V2032.2h.963V2032.6h.963V2032.1h.963V2031.8h.963V2031.4h.963V2032.7h.963V2032.4h.963V2031.5h.963V2032.9h.963V2033.1h.963V2032.6h.963V2033.2h.963V2031.5h.963V2031.4h.963V2032.6h.963V2033h.963V2033.1h.963V2032.7h.963V2033.1h.963V2032.2h.963V2031.8h.963V2032.6h.963V2033.1h.963V2031.4h.963V2033.1h.963V2032.7h.963V2032.4h.963V2032.1h.963V2032.9h.963V2032h.963V2032.2h.963V2031h.963V2031.5h.963V2030.5h.963V2031.2h.963V2030.8h.963V2031.3h.963V2031.7h.963V2030.5h.963V2031h.963V2030h.963V2030.7h.963V2030.7h.963V2032h.963V2030.3h.963V2031.6h.963V2032.4h.963V2032.5h.963V2032.2h.963V2031.8h.963V2030.4h.963V2031.7h.963V2032.4h.963V2029.9h.963V2030.6h.963V2032.5h.963V2032.3h.963V2032h.963V2031.1h.963V2029.2h.963V2028.8h.963V2030h.963V2031.4h.963V2030.6h.963V2030.8h.963V2030.9h.963V2032.1h.963V2029.7h.963V2028.6h.963V2029h.963V2031.6h.963V2029.6h.963V2031.2h.963V2028.7h.963V2029.8h.963V2027.4h.963V2027.9h.963V2031.1h.963V2030h.963V2026.9h.963V2029.1h.963V2029.1h.963V2029h.963V2027.1h.963V2026h.963V2028.1h.963V2025.4h.963V2027.4h.963V2030.2h.963V2025.6h.963V2027.9h.963V2030.2h.963V2023.8h.963V2030h.963V2026h.963V2026.4h.963V2023.1h.963V2026.5h.963V2027.7h.963V2026.9h.963V2027.3h.963V2023.7h.963V2025.2h.963V2020.9h.963V2025.4h.963V2023.8h.963V2024.4h.963V2015h.963V2015.5h.963V2014h.963V2015.8h.963V2017.6h.963V2020.3h.963V2004.9h.963V2008.3h.963V1996.2h.963V1986h.963V1959.5h.963V1679.2h.963V2035Z" fill="#6a6a6a"/>
<path d="M102.5 1661V2052.5H795" fill="none" stroke="#000" stroke-width="1.9"/>
<text x="93.5" y="2042.9" font-size="20.8" text-anchor="end">0</text>
<text x="93.5" y="1940.9" font-size="20.8" text-anchor="end">250</text>
<text x="93.5" y="1838.9" font-size="20.8" text-anchor="end">500</text>
<text x="93.5" y="1736.9" font-size="20.8" text-anchor="end">750</text>
<text x="133.5" y="2077.6" font-size="20.8" text-anchor="middle">0</text>
<text x="326.2" y="2077.6" font-size="20.8" text-anchor="middle">200</text>
<text x="518.9" y="2077.6" font-size="20.8" text-anchor="middle">400</text>
<text x="711.6" y="2077.6" font-size="20.8" text-anchor="middle">600</text>
<path d="M97 2035h5M97 1933h5M97 1831h5M97 1729h5M133.5 2052.5v5M326.2 2052.5v5M518.9 2052.5v5M711.6 2052.5v5" stroke="#222" stroke-width="1.6" fill="none"/>
<text x="416.8" y="2106" font-size="20.8" text-anchor="middle">Number of OSN groups expressing the DEG</text>
<text x="47.3" y="1855.5" font-size="24.7" text-anchor="middle" transform="rotate(-90 47.3 1855.5)">Count</text>
</svg>
</body></html>
